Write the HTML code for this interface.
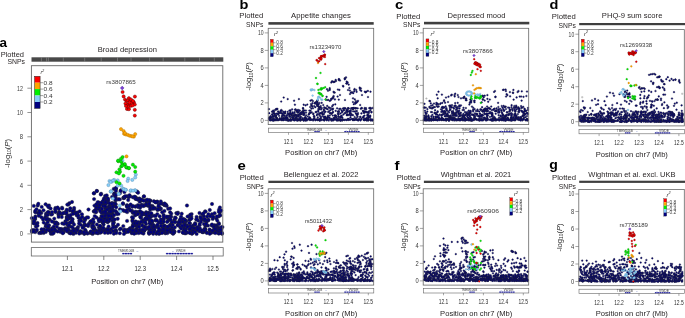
<!DOCTYPE html>
<html><head><meta charset="utf-8"><style>
html,body{margin:0;padding:0;background:#fff;}
svg{display:block;font-family:"Liberation Sans", sans-serif;will-change:transform;}

</style></head><body>
<svg width="685" height="318" viewBox="0 0 685 318" fill="#231f20">
<rect width="685" height="318" fill="#fff"/>
<text x="-0.5" y="46.6" font-size="13.5" font-weight="bold" fill="#000">a</text>
<text x="24" y="57.2" font-size="7.6" text-anchor="end" textLength="23.3" lengthAdjust="spacingAndGlyphs">Plotted</text>
<text x="25" y="64.4" font-size="7.6" text-anchor="end" textLength="17.5" lengthAdjust="spacingAndGlyphs">SNPs</text>
<text x="127.3" y="52" font-size="7.6" text-anchor="middle" textLength="59.3" lengthAdjust="spacingAndGlyphs">Broad depression</text>
<rect x="31.5" y="57.3" width="191.8" height="4.4" fill="#484848"/>
<line x1="41.4" y1="57.3" x2="41.4" y2="61.7" stroke="#9a9a9a" stroke-width="0.5"/>
<line x1="46.6" y1="57.3" x2="46.6" y2="61.7" stroke="#9a9a9a" stroke-width="0.5"/>
<line x1="48.4" y1="57.3" x2="48.4" y2="61.7" stroke="#9a9a9a" stroke-width="0.5"/>
<line x1="63.3" y1="57.3" x2="63.3" y2="61.7" stroke="#9a9a9a" stroke-width="0.5"/>
<line x1="84.7" y1="57.3" x2="84.7" y2="61.7" stroke="#9a9a9a" stroke-width="0.5"/>
<line x1="101.2" y1="57.3" x2="101.2" y2="61.7" stroke="#9a9a9a" stroke-width="0.5"/>
<line x1="117.5" y1="57.3" x2="117.5" y2="61.7" stroke="#9a9a9a" stroke-width="0.5"/>
<line x1="131" y1="57.3" x2="131" y2="61.7" stroke="#9a9a9a" stroke-width="0.5"/>
<line x1="149.6" y1="57.3" x2="149.6" y2="61.7" stroke="#9a9a9a" stroke-width="0.5"/>
<line x1="163.2" y1="57.3" x2="163.2" y2="61.7" stroke="#9a9a9a" stroke-width="0.5"/>
<line x1="184.8" y1="57.3" x2="184.8" y2="61.7" stroke="#9a9a9a" stroke-width="0.5"/>
<line x1="199.5" y1="57.3" x2="199.5" y2="61.7" stroke="#9a9a9a" stroke-width="0.5"/>
<line x1="214.3" y1="57.3" x2="214.3" y2="61.7" stroke="#9a9a9a" stroke-width="0.5"/>
<line x1="27.4" y1="233.9" x2="31.4" y2="233.9" stroke="#666" stroke-width="0.7"/>
<text x="23" y="236.4" font-size="7.0" text-anchor="end" textLength="3.3" lengthAdjust="spacingAndGlyphs" fill="#3a3a3a">0</text>
<line x1="27.4" y1="209.6" x2="31.4" y2="209.6" stroke="#666" stroke-width="0.7"/>
<text x="23" y="212.1" font-size="7.0" text-anchor="end" textLength="3.3" lengthAdjust="spacingAndGlyphs" fill="#3a3a3a">2</text>
<line x1="27.4" y1="185.3" x2="31.4" y2="185.3" stroke="#666" stroke-width="0.7"/>
<text x="23" y="187.8" font-size="7.0" text-anchor="end" textLength="3.3" lengthAdjust="spacingAndGlyphs" fill="#3a3a3a">4</text>
<line x1="27.4" y1="161.1" x2="31.4" y2="161.1" stroke="#666" stroke-width="0.7"/>
<text x="23" y="163.6" font-size="7.0" text-anchor="end" textLength="3.3" lengthAdjust="spacingAndGlyphs" fill="#3a3a3a">6</text>
<line x1="27.4" y1="136.8" x2="31.4" y2="136.8" stroke="#666" stroke-width="0.7"/>
<text x="23" y="139.3" font-size="7.0" text-anchor="end" textLength="3.3" lengthAdjust="spacingAndGlyphs" fill="#3a3a3a">8</text>
<line x1="27.4" y1="112.5" x2="31.4" y2="112.5" stroke="#666" stroke-width="0.7"/>
<text x="23" y="115" font-size="7.0" text-anchor="end" textLength="5.9" lengthAdjust="spacingAndGlyphs" fill="#3a3a3a">10</text>
<line x1="27.4" y1="88.2" x2="31.4" y2="88.2" stroke="#666" stroke-width="0.7"/>
<text x="23" y="90.7" font-size="7.0" text-anchor="end" textLength="5.9" lengthAdjust="spacingAndGlyphs" fill="#3a3a3a">12</text>
<text x="9.6" y="153.3" font-size="7.7" text-anchor="middle" textLength="29" lengthAdjust="spacingAndGlyphs" transform="rotate(-90 9.6 153.3)" fill="#2a2a2a">-log<tspan font-size="4.8" dy="1.6">10</tspan><tspan dy="-1.6">(</tspan><tspan font-style="italic">P</tspan>)</text>
<rect x="34.6" y="76.3" width="5.5" height="6.4" fill="#ff0000"/>
<rect x="34.6" y="82.7" width="5.5" height="6.4" fill="#ffa500"/>
<rect x="34.6" y="89.1" width="5.5" height="6.4" fill="#00ee00"/>
<rect x="34.6" y="95.6" width="5.5" height="6.4" fill="#87cefa"/>
<rect x="34.6" y="102" width="5.5" height="6.4" fill="#000080"/>
<rect x="34.6" y="76.3" width="5.5" height="32.1" fill="none" stroke="#222" stroke-width="0.5"/>
<line x1="40.1" y1="82.7" x2="43" y2="82.7" stroke="#444" stroke-width="0.5"/>
<text x="43.6" y="84.9" font-size="6.2" textLength="9" lengthAdjust="spacingAndGlyphs" fill="#333">0.8</text>
<line x1="40.1" y1="89.1" x2="43" y2="89.1" stroke="#444" stroke-width="0.5"/>
<text x="43.6" y="91.3" font-size="6.2" textLength="9" lengthAdjust="spacingAndGlyphs" fill="#333">0.6</text>
<line x1="40.1" y1="95.6" x2="43" y2="95.6" stroke="#444" stroke-width="0.5"/>
<text x="43.6" y="97.8" font-size="6.2" textLength="9" lengthAdjust="spacingAndGlyphs" fill="#333">0.4</text>
<line x1="40.1" y1="102" x2="43" y2="102" stroke="#444" stroke-width="0.5"/>
<text x="43.6" y="104.2" font-size="6.2" textLength="9" lengthAdjust="spacingAndGlyphs" fill="#333">0.2</text>
<text x="40.5" y="74.3" font-size="5.5" font-style="italic" fill="#333">r<tspan font-size="3.5" dy="-2.5">2</tspan></text>
<g fill="#000080" stroke="#26262e" stroke-width="0.45"><circle cx="118" cy="224.8" r="1.7"/><circle cx="208" cy="225.6" r="1.7"/><circle cx="128.6" cy="229.6" r="1.7"/><circle cx="67" cy="224.2" r="1.7"/><circle cx="151.9" cy="230.1" r="1.7"/><circle cx="49.7" cy="219.6" r="1.7"/><circle cx="49.1" cy="230" r="1.7"/><circle cx="164" cy="218.5" r="1.7"/><circle cx="219" cy="233.3" r="1.7"/><circle cx="156.4" cy="227.1" r="1.7"/><circle cx="61.8" cy="214.3" r="1.7"/><circle cx="132.5" cy="219.9" r="1.7"/><circle cx="68.1" cy="218.8" r="1.7"/><circle cx="37.5" cy="223" r="1.7"/><circle cx="115.8" cy="230.5" r="1.7"/><circle cx="130.7" cy="229.8" r="1.7"/><circle cx="127.1" cy="230.2" r="1.7"/><circle cx="222" cy="233.8" r="1.7"/><circle cx="191.9" cy="229.8" r="1.7"/><circle cx="91.9" cy="225.8" r="1.7"/><circle cx="177.9" cy="225.1" r="1.7"/><circle cx="193.2" cy="225.4" r="1.7"/><circle cx="214.4" cy="231.3" r="1.7"/><circle cx="31.9" cy="218.1" r="1.7"/><circle cx="205.3" cy="226" r="1.7"/><circle cx="218.7" cy="223.1" r="1.7"/><circle cx="45.7" cy="226.2" r="1.7"/><circle cx="180.2" cy="223.4" r="1.7"/><circle cx="48.4" cy="220.1" r="1.7"/><circle cx="215.6" cy="229.8" r="1.7"/><circle cx="54.3" cy="218.6" r="1.7"/><circle cx="51.1" cy="214.6" r="1.7"/><circle cx="183.7" cy="222.4" r="1.7"/><circle cx="138.4" cy="222.9" r="1.7"/><circle cx="68.1" cy="228.6" r="1.7"/><circle cx="56.8" cy="226.7" r="1.7"/><circle cx="54" cy="222.1" r="1.7"/><circle cx="72.4" cy="219.4" r="1.7"/><circle cx="216.9" cy="230.5" r="1.7"/><circle cx="89.8" cy="232.9" r="1.7"/><circle cx="72" cy="221.8" r="1.7"/><circle cx="194.6" cy="228.9" r="1.7"/><circle cx="50.9" cy="233.7" r="1.7"/><circle cx="72.4" cy="219.1" r="1.7"/><circle cx="179.1" cy="224.2" r="1.7"/><circle cx="49" cy="225.3" r="1.7"/><circle cx="78.1" cy="227" r="1.7"/><circle cx="102.6" cy="222.2" r="1.7"/><circle cx="214.6" cy="225.2" r="1.7"/><circle cx="141.3" cy="231.2" r="1.7"/><circle cx="66.6" cy="217.1" r="1.7"/><circle cx="204.9" cy="231.2" r="1.7"/><circle cx="79.4" cy="220.8" r="1.7"/><circle cx="172.7" cy="233" r="1.7"/><circle cx="69.3" cy="232.9" r="1.7"/><circle cx="199.9" cy="228.4" r="1.7"/><circle cx="112.1" cy="213.2" r="1.7"/><circle cx="39.2" cy="233.1" r="1.7"/><circle cx="77.2" cy="228.6" r="1.7"/><circle cx="80.8" cy="231.3" r="1.7"/><circle cx="145.5" cy="219.9" r="1.7"/><circle cx="65.2" cy="228.3" r="1.7"/><circle cx="44.9" cy="217.8" r="1.7"/><circle cx="138.4" cy="231" r="1.7"/><circle cx="148.9" cy="220.1" r="1.7"/><circle cx="206.6" cy="221.8" r="1.7"/><circle cx="35" cy="219.2" r="1.7"/><circle cx="116.8" cy="214" r="1.7"/><circle cx="65.4" cy="221.3" r="1.7"/><circle cx="140.9" cy="216.6" r="1.7"/><circle cx="100.8" cy="231.6" r="1.7"/><circle cx="218.7" cy="227.7" r="1.7"/><circle cx="163.5" cy="227.2" r="1.7"/><circle cx="58.6" cy="214.6" r="1.7"/><circle cx="35.2" cy="232.1" r="1.7"/><circle cx="165.4" cy="233.3" r="1.7"/><circle cx="35.9" cy="226.5" r="1.7"/><circle cx="123.7" cy="230.1" r="1.7"/><circle cx="92.6" cy="233.9" r="1.7"/><circle cx="46.1" cy="224.4" r="1.7"/><circle cx="172.3" cy="232.4" r="1.7"/><circle cx="172.3" cy="229.4" r="1.7"/><circle cx="183" cy="232.7" r="1.7"/><circle cx="98.9" cy="227.5" r="1.7"/><circle cx="203.5" cy="232" r="1.7"/><circle cx="111.3" cy="229" r="1.7"/><circle cx="196.4" cy="228" r="1.7"/><circle cx="150.9" cy="222.3" r="1.7"/><circle cx="142.9" cy="226.1" r="1.7"/><circle cx="47.1" cy="226.4" r="1.7"/><circle cx="221.1" cy="231.7" r="1.7"/><circle cx="170.6" cy="224.5" r="1.7"/><circle cx="171.9" cy="227.5" r="1.7"/><circle cx="115.8" cy="230.4" r="1.7"/><circle cx="47.8" cy="228.7" r="1.7"/><circle cx="37.5" cy="225.8" r="1.7"/><circle cx="164.9" cy="225.9" r="1.7"/><circle cx="148.9" cy="232.4" r="1.7"/><circle cx="80.6" cy="218.9" r="1.7"/><circle cx="70.4" cy="217.4" r="1.7"/><circle cx="204.4" cy="228.9" r="1.7"/><circle cx="116" cy="231.6" r="1.7"/><circle cx="94.1" cy="229.8" r="1.7"/><circle cx="69.6" cy="222.6" r="1.7"/><circle cx="185.4" cy="232.7" r="1.7"/><circle cx="199.6" cy="225.3" r="1.7"/><circle cx="142.9" cy="220.3" r="1.7"/><circle cx="57.8" cy="223.8" r="1.7"/><circle cx="191.4" cy="231.8" r="1.7"/><circle cx="167.4" cy="233.1" r="1.7"/><circle cx="84.6" cy="224.5" r="1.7"/><circle cx="117.7" cy="218.8" r="1.7"/><circle cx="72.6" cy="222.2" r="1.7"/><circle cx="151.1" cy="224.4" r="1.7"/><circle cx="91.9" cy="232.2" r="1.7"/><circle cx="219" cy="224" r="1.7"/><circle cx="46" cy="213.7" r="1.7"/><circle cx="198.2" cy="220.6" r="1.7"/><circle cx="166.9" cy="227.2" r="1.7"/><circle cx="90.7" cy="231.9" r="1.7"/><circle cx="35.4" cy="216.4" r="1.7"/><circle cx="118.5" cy="213.9" r="1.7"/><circle cx="189.9" cy="223.3" r="1.7"/><circle cx="58.7" cy="214.8" r="1.7"/><circle cx="151.7" cy="223.6" r="1.7"/><circle cx="151.9" cy="227.5" r="1.7"/><circle cx="185.7" cy="233.3" r="1.7"/><circle cx="162.3" cy="220.7" r="1.7"/><circle cx="33.9" cy="223.3" r="1.7"/><circle cx="167.9" cy="221.1" r="1.7"/><circle cx="83.7" cy="225.9" r="1.7"/><circle cx="164.7" cy="226.2" r="1.7"/><circle cx="148.9" cy="229.2" r="1.7"/><circle cx="106.8" cy="229.1" r="1.7"/><circle cx="204.5" cy="220.4" r="1.7"/><circle cx="209.6" cy="229.5" r="1.7"/><circle cx="56.6" cy="222.9" r="1.7"/><circle cx="151" cy="232.2" r="1.7"/><circle cx="103.6" cy="224.5" r="1.7"/><circle cx="199.4" cy="231.1" r="1.7"/><circle cx="211.8" cy="225.2" r="1.7"/><circle cx="155.9" cy="219.8" r="1.7"/><circle cx="169.4" cy="231.1" r="1.7"/><circle cx="154.1" cy="228.8" r="1.7"/><circle cx="72.5" cy="231.9" r="1.7"/><circle cx="218.7" cy="233.5" r="1.7"/><circle cx="134.1" cy="230.1" r="1.7"/><circle cx="92.9" cy="232.9" r="1.7"/><circle cx="194.9" cy="224.8" r="1.7"/><circle cx="47.6" cy="222.3" r="1.7"/><circle cx="136.7" cy="229.3" r="1.7"/><circle cx="186" cy="220.9" r="1.7"/><circle cx="184.3" cy="222.3" r="1.7"/><circle cx="95.7" cy="230.7" r="1.7"/><circle cx="58.6" cy="216.9" r="1.7"/><circle cx="130.2" cy="231" r="1.7"/><circle cx="191.9" cy="229.6" r="1.7"/><circle cx="212.1" cy="225.6" r="1.7"/><circle cx="212.7" cy="218.9" r="1.7"/><circle cx="74" cy="224.5" r="1.7"/><circle cx="153.6" cy="225.2" r="1.7"/><circle cx="192.6" cy="227.8" r="1.7"/><circle cx="192.9" cy="232.5" r="1.7"/><circle cx="71.5" cy="230.9" r="1.7"/><circle cx="216.4" cy="225.7" r="1.7"/><circle cx="141" cy="218" r="1.7"/><circle cx="133.9" cy="225.1" r="1.7"/><circle cx="147.2" cy="215" r="1.7"/><circle cx="216.6" cy="225.5" r="1.7"/><circle cx="108.2" cy="229.3" r="1.7"/><circle cx="139.1" cy="223.8" r="1.7"/><circle cx="163.5" cy="218.8" r="1.7"/><circle cx="134.5" cy="222.8" r="1.7"/><circle cx="214.2" cy="232.6" r="1.7"/><circle cx="83.1" cy="227.2" r="1.7"/><circle cx="56" cy="222.5" r="1.7"/><circle cx="187.3" cy="232.5" r="1.7"/><circle cx="68.3" cy="226.3" r="1.7"/><circle cx="208.2" cy="220.4" r="1.7"/><circle cx="180.3" cy="219.9" r="1.7"/><circle cx="68.8" cy="218.5" r="1.7"/><circle cx="162.7" cy="222.8" r="1.7"/><circle cx="99.5" cy="226.1" r="1.7"/><circle cx="51.8" cy="228.4" r="1.7"/><circle cx="55.2" cy="224" r="1.7"/><circle cx="79.6" cy="221.1" r="1.7"/><circle cx="132.9" cy="225.1" r="1.7"/><circle cx="103.4" cy="221.2" r="1.7"/><circle cx="132.7" cy="221.1" r="1.7"/><circle cx="70.7" cy="226.6" r="1.7"/><circle cx="153.5" cy="225.3" r="1.7"/><circle cx="194" cy="228.5" r="1.7"/><circle cx="195.1" cy="223.2" r="1.7"/><circle cx="173" cy="231" r="1.7"/><circle cx="203.9" cy="223.9" r="1.7"/><circle cx="91.8" cy="233.1" r="1.7"/><circle cx="73.4" cy="233.9" r="1.7"/><circle cx="201" cy="221.7" r="1.7"/><circle cx="77.4" cy="229" r="1.7"/><circle cx="81.3" cy="220.8" r="1.7"/><circle cx="190.4" cy="225.9" r="1.7"/><circle cx="182.4" cy="221.5" r="1.7"/><circle cx="108.6" cy="226.5" r="1.7"/><circle cx="35.2" cy="217.8" r="1.7"/><circle cx="161.9" cy="232.4" r="1.7"/><circle cx="216.4" cy="218.6" r="1.7"/><circle cx="128.2" cy="231.3" r="1.7"/><circle cx="127.6" cy="230.5" r="1.7"/><circle cx="67.8" cy="215.4" r="1.7"/><circle cx="52" cy="214.2" r="1.7"/><circle cx="136.9" cy="224.2" r="1.7"/><circle cx="140.2" cy="216.9" r="1.7"/><circle cx="67" cy="218.1" r="1.7"/><circle cx="191.9" cy="233.8" r="1.7"/><circle cx="208.5" cy="219.8" r="1.7"/><circle cx="43.6" cy="232.9" r="1.7"/><circle cx="119.9" cy="229.2" r="1.7"/><circle cx="94.1" cy="227.5" r="1.7"/><circle cx="130" cy="228.2" r="1.7"/><circle cx="146.3" cy="214.5" r="1.7"/><circle cx="165.4" cy="231.4" r="1.7"/><circle cx="66.3" cy="223" r="1.7"/><circle cx="172.7" cy="224.9" r="1.7"/><circle cx="69" cy="217.3" r="1.7"/><circle cx="202" cy="231.1" r="1.7"/><circle cx="166.1" cy="231.7" r="1.7"/><circle cx="151.8" cy="222.9" r="1.7"/><circle cx="146.1" cy="224.1" r="1.7"/><circle cx="219.1" cy="230.4" r="1.7"/><circle cx="81" cy="232.6" r="1.7"/><circle cx="173.7" cy="230.6" r="1.7"/><circle cx="187.1" cy="225.6" r="1.7"/><circle cx="202.7" cy="232.2" r="1.7"/><circle cx="164.2" cy="230.2" r="1.7"/><circle cx="177.7" cy="225.2" r="1.7"/><circle cx="169.5" cy="219.5" r="1.7"/><circle cx="96.9" cy="224.5" r="1.7"/><circle cx="33.8" cy="220.9" r="1.7"/><circle cx="153.5" cy="227.1" r="1.7"/><circle cx="76" cy="232.8" r="1.7"/><circle cx="158.8" cy="222.5" r="1.7"/><circle cx="157.6" cy="226.4" r="1.7"/><circle cx="133.4" cy="223.7" r="1.7"/><circle cx="222.4" cy="227.1" r="1.7"/><circle cx="165.5" cy="230.1" r="1.7"/><circle cx="218.6" cy="216.4" r="1.7"/><circle cx="149.1" cy="228.9" r="1.7"/><circle cx="80.7" cy="224.9" r="1.7"/><circle cx="41.4" cy="217.3" r="1.7"/><circle cx="79.6" cy="232.4" r="1.7"/><circle cx="136.6" cy="224.1" r="1.7"/><circle cx="216.1" cy="226.5" r="1.7"/><circle cx="221.5" cy="227.1" r="1.7"/><circle cx="186.1" cy="221.1" r="1.7"/><circle cx="145.7" cy="229.1" r="1.7"/><circle cx="40.4" cy="232.5" r="1.7"/><circle cx="62.3" cy="223.4" r="1.7"/><circle cx="64" cy="223.9" r="1.7"/><circle cx="148.3" cy="215.8" r="1.7"/><circle cx="212" cy="224.5" r="1.7"/><circle cx="132.2" cy="228.1" r="1.7"/><circle cx="101.5" cy="218.9" r="1.7"/><circle cx="156.7" cy="226.2" r="1.7"/><circle cx="85.8" cy="231" r="1.7"/><circle cx="88.2" cy="226" r="1.7"/><circle cx="78.5" cy="217.7" r="1.7"/><circle cx="61.6" cy="229" r="1.7"/><circle cx="106.1" cy="231.6" r="1.7"/><circle cx="174.4" cy="219.7" r="1.7"/><circle cx="220.3" cy="232.9" r="1.7"/><circle cx="45.8" cy="231.9" r="1.7"/><circle cx="113.7" cy="222.2" r="1.7"/><circle cx="217.3" cy="220.6" r="1.7"/><circle cx="131.6" cy="233.1" r="1.7"/><circle cx="169.6" cy="225.7" r="1.7"/><circle cx="218.4" cy="230.6" r="1.7"/><circle cx="146.9" cy="216.6" r="1.7"/><circle cx="150.8" cy="223.7" r="1.7"/><circle cx="70.6" cy="215" r="1.7"/><circle cx="132.5" cy="220.9" r="1.7"/><circle cx="116.2" cy="226.8" r="1.7"/><circle cx="142.8" cy="222.3" r="1.7"/><circle cx="180.1" cy="227.1" r="1.7"/><circle cx="221.9" cy="233" r="1.7"/><circle cx="171.8" cy="222.3" r="1.7"/><circle cx="53.5" cy="231.7" r="1.7"/><circle cx="181.3" cy="228.5" r="1.7"/><circle cx="100.3" cy="218.9" r="1.7"/><circle cx="162.4" cy="226.8" r="1.7"/><circle cx="144.6" cy="226.6" r="1.7"/><circle cx="175.4" cy="221.9" r="1.7"/><circle cx="79.3" cy="233.6" r="1.7"/><circle cx="206.3" cy="232.1" r="1.7"/><circle cx="39.3" cy="214.7" r="1.7"/><circle cx="83.4" cy="226.7" r="1.7"/><circle cx="150.6" cy="217" r="1.7"/><circle cx="135" cy="215.4" r="1.7"/><circle cx="48.3" cy="227.2" r="1.7"/><circle cx="136.7" cy="226.6" r="1.7"/><circle cx="102.9" cy="222.7" r="1.7"/><circle cx="71.9" cy="220.8" r="1.7"/><circle cx="173.8" cy="231.5" r="1.7"/><circle cx="46" cy="215.6" r="1.7"/><circle cx="186" cy="228.7" r="1.7"/><circle cx="178.3" cy="222.4" r="1.7"/><circle cx="112.7" cy="217" r="1.7"/><circle cx="186.2" cy="225.1" r="1.7"/><circle cx="156.4" cy="233.7" r="1.7"/><circle cx="93.8" cy="228.6" r="1.7"/><circle cx="174" cy="232.7" r="1.7"/><circle cx="113.3" cy="219.7" r="1.7"/><circle cx="50.3" cy="231.3" r="1.7"/><circle cx="46.8" cy="214.8" r="1.7"/><circle cx="139.3" cy="223.6" r="1.7"/><circle cx="162.4" cy="222.4" r="1.7"/><circle cx="179.6" cy="220.6" r="1.7"/><circle cx="72.4" cy="227.2" r="1.7"/><circle cx="47.4" cy="219.5" r="1.7"/><circle cx="170" cy="229.2" r="1.7"/><circle cx="85.7" cy="225.2" r="1.7"/><circle cx="100" cy="228.3" r="1.7"/><circle cx="167" cy="227.1" r="1.7"/><circle cx="206.9" cy="233" r="1.7"/><circle cx="205.9" cy="225.4" r="1.7"/><circle cx="184.9" cy="224.2" r="1.7"/><circle cx="92.3" cy="227.4" r="1.7"/><circle cx="209.9" cy="232.2" r="1.7"/><circle cx="79.1" cy="223.5" r="1.7"/><circle cx="101.5" cy="220.5" r="1.7"/><circle cx="107.2" cy="219.8" r="1.7"/><circle cx="69" cy="225.2" r="1.7"/><circle cx="183.7" cy="227.5" r="1.7"/><circle cx="191.2" cy="227.8" r="1.7"/><circle cx="65.5" cy="229.1" r="1.7"/><circle cx="199.7" cy="223.9" r="1.7"/><circle cx="36" cy="224.1" r="1.7"/><circle cx="135.5" cy="225.3" r="1.7"/><circle cx="216" cy="227.9" r="1.7"/><circle cx="185.1" cy="220.9" r="1.7"/><circle cx="136" cy="229.7" r="1.7"/><circle cx="47.8" cy="214.9" r="1.7"/><circle cx="172.3" cy="232.4" r="1.7"/><circle cx="47.9" cy="226.3" r="1.7"/><circle cx="59.2" cy="228.8" r="1.7"/><circle cx="155.5" cy="220.5" r="1.7"/><circle cx="73.8" cy="229.2" r="1.7"/><circle cx="131.2" cy="231" r="1.7"/><circle cx="107" cy="218.7" r="1.7"/><circle cx="216.4" cy="228.2" r="1.7"/><circle cx="169.2" cy="229.4" r="1.7"/><circle cx="206.2" cy="225" r="1.7"/><circle cx="189.3" cy="229.3" r="1.7"/><circle cx="194.5" cy="231.2" r="1.7"/><circle cx="190.7" cy="232.4" r="1.7"/><circle cx="214.4" cy="227.9" r="1.7"/><circle cx="131.6" cy="230.1" r="1.7"/><circle cx="184.7" cy="225.8" r="1.7"/><circle cx="111.9" cy="214.2" r="1.7"/><circle cx="173.1" cy="233.8" r="1.7"/><circle cx="103.4" cy="215.8" r="1.7"/><circle cx="70.8" cy="222.5" r="1.7"/><circle cx="87.5" cy="233.6" r="1.7"/><circle cx="43.1" cy="219.5" r="1.7"/><circle cx="53.7" cy="226.7" r="1.7"/><circle cx="179.7" cy="222.1" r="1.7"/><circle cx="43.7" cy="222.6" r="1.7"/><circle cx="143.1" cy="232.1" r="1.7"/><circle cx="38.7" cy="215.7" r="1.7"/><circle cx="67" cy="218.3" r="1.7"/><circle cx="76.7" cy="228.7" r="1.7"/><circle cx="145.2" cy="218.5" r="1.7"/><circle cx="67.1" cy="219.6" r="1.7"/><circle cx="64.7" cy="229.1" r="1.7"/><circle cx="187.5" cy="226.7" r="1.7"/><circle cx="81.4" cy="232.3" r="1.7"/><circle cx="206.1" cy="224" r="1.7"/><circle cx="136.1" cy="233" r="1.7"/><circle cx="41.3" cy="232.8" r="1.7"/><circle cx="184.6" cy="225.3" r="1.7"/><circle cx="132.4" cy="226.8" r="1.7"/><circle cx="84.1" cy="233.8" r="1.7"/><circle cx="157.1" cy="220.6" r="1.7"/><circle cx="33.9" cy="223.3" r="1.7"/><circle cx="102.6" cy="229.5" r="1.7"/><circle cx="167.8" cy="227.7" r="1.7"/><circle cx="61.8" cy="217.1" r="1.7"/><circle cx="93.1" cy="225.5" r="1.7"/><circle cx="197.5" cy="227.2" r="1.7"/><circle cx="153.2" cy="233.8" r="1.7"/><circle cx="82.6" cy="227.7" r="1.7"/><circle cx="60.5" cy="229.3" r="1.7"/><circle cx="32.1" cy="230.3" r="1.7"/><circle cx="193.1" cy="231.4" r="1.7"/><circle cx="47.5" cy="218.8" r="1.7"/><circle cx="168.4" cy="219.8" r="1.7"/><circle cx="123.3" cy="226.1" r="1.7"/><circle cx="213.9" cy="227" r="1.7"/><circle cx="195.2" cy="224.2" r="1.7"/><circle cx="182.2" cy="225.6" r="1.7"/><circle cx="206.5" cy="220.1" r="1.7"/><circle cx="189.3" cy="222.9" r="1.7"/><circle cx="135.4" cy="224.5" r="1.7"/><circle cx="61.8" cy="230.6" r="1.7"/><circle cx="46.3" cy="219.4" r="1.7"/><circle cx="120.9" cy="228.6" r="1.7"/><circle cx="100.4" cy="227.4" r="1.7"/><circle cx="52" cy="221.5" r="1.7"/><circle cx="119.8" cy="233.2" r="1.7"/><circle cx="189.9" cy="229.1" r="1.7"/><circle cx="34.2" cy="221.4" r="1.7"/><circle cx="167.1" cy="221.9" r="1.7"/><circle cx="139.3" cy="223.1" r="1.7"/><circle cx="33.8" cy="205.9" r="1.7"/><circle cx="184.2" cy="219.2" r="1.7"/><circle cx="149.2" cy="212.7" r="1.7"/><circle cx="103.5" cy="205.7" r="1.7"/><circle cx="88.6" cy="224" r="1.7"/><circle cx="106.6" cy="201.9" r="1.7"/><circle cx="80.7" cy="218.2" r="1.7"/><circle cx="171.2" cy="216.7" r="1.7"/><circle cx="211.9" cy="214.2" r="1.7"/><circle cx="169.8" cy="216.4" r="1.7"/><circle cx="189.4" cy="219.8" r="1.7"/><circle cx="58.6" cy="213.7" r="1.7"/><circle cx="161" cy="208.7" r="1.7"/><circle cx="66.1" cy="211.5" r="1.7"/><circle cx="191.3" cy="216.7" r="1.7"/><circle cx="49" cy="212.5" r="1.7"/><circle cx="61.7" cy="213.7" r="1.7"/><circle cx="109.3" cy="209.9" r="1.7"/><circle cx="207.3" cy="216.5" r="1.7"/><circle cx="129.3" cy="208.6" r="1.7"/><circle cx="178" cy="212.7" r="1.7"/><circle cx="105.4" cy="208.5" r="1.7"/><circle cx="110.4" cy="210.1" r="1.7"/><circle cx="108.2" cy="200.5" r="1.7"/><circle cx="219" cy="209.7" r="1.7"/><circle cx="157.6" cy="209.5" r="1.7"/><circle cx="35.3" cy="212.2" r="1.7"/><circle cx="97" cy="206.9" r="1.7"/><circle cx="52.1" cy="212.1" r="1.7"/><circle cx="189.1" cy="216.5" r="1.7"/><circle cx="62" cy="207.7" r="1.7"/><circle cx="203.9" cy="216.3" r="1.7"/><circle cx="99" cy="208.2" r="1.7"/><circle cx="58.8" cy="209.1" r="1.7"/><circle cx="219.9" cy="212.5" r="1.7"/><circle cx="168.2" cy="208.8" r="1.7"/><circle cx="69.4" cy="203.2" r="1.7"/><circle cx="151.3" cy="214.1" r="1.7"/><circle cx="47.7" cy="212.2" r="1.7"/><circle cx="141.7" cy="204.8" r="1.7"/><circle cx="94.5" cy="205.6" r="1.7"/><circle cx="100.6" cy="208.2" r="1.7"/><circle cx="55.4" cy="208" r="1.7"/><circle cx="57.6" cy="207.5" r="1.7"/><circle cx="135.4" cy="206.5" r="1.7"/><circle cx="138.6" cy="211.9" r="1.7"/><circle cx="205.1" cy="211.4" r="1.7"/><circle cx="187.6" cy="216.5" r="1.7"/><circle cx="55.2" cy="209.4" r="1.7"/><circle cx="86.8" cy="217.4" r="1.7"/><circle cx="77.7" cy="212.6" r="1.7"/><circle cx="190.1" cy="219.5" r="1.7"/><circle cx="136.2" cy="213.7" r="1.7"/><circle cx="37.9" cy="212.9" r="1.7"/><circle cx="219.9" cy="207.5" r="1.7"/><circle cx="157.3" cy="214.1" r="1.7"/><circle cx="159.7" cy="207.7" r="1.7"/><circle cx="104.5" cy="204.2" r="1.7"/><circle cx="185" cy="220" r="1.7"/><circle cx="69.8" cy="210.5" r="1.7"/><circle cx="59.1" cy="212.1" r="1.7"/><circle cx="140.4" cy="213" r="1.7"/><circle cx="140.1" cy="211.1" r="1.7"/><circle cx="154.1" cy="215.7" r="1.7"/><circle cx="159.7" cy="216.3" r="1.7"/><circle cx="214.6" cy="213.2" r="1.7"/><circle cx="121.4" cy="210.2" r="1.7"/><circle cx="150.7" cy="206.6" r="1.7"/><circle cx="176.3" cy="213.1" r="1.7"/><circle cx="124.4" cy="192.1" r="1.7"/><circle cx="191.6" cy="214.1" r="1.7"/><circle cx="109.8" cy="205.4" r="1.7"/><circle cx="139.7" cy="199.4" r="1.7"/><circle cx="132" cy="210.7" r="1.7"/><circle cx="114.2" cy="193.5" r="1.7"/><circle cx="92.9" cy="222.6" r="1.7"/><circle cx="170.1" cy="208.4" r="1.7"/><circle cx="171.3" cy="213.6" r="1.7"/><circle cx="175.1" cy="217.5" r="1.7"/><circle cx="144.9" cy="213.8" r="1.7"/><circle cx="55.5" cy="212" r="1.7"/><circle cx="41.7" cy="206.9" r="1.7"/><circle cx="132.1" cy="217.2" r="1.7"/><circle cx="90.2" cy="222.7" r="1.7"/><circle cx="76.8" cy="215.4" r="1.7"/><circle cx="205.5" cy="211.6" r="1.7"/><circle cx="158.7" cy="204.6" r="1.7"/><circle cx="112.1" cy="196.9" r="1.7"/><circle cx="74.1" cy="208" r="1.7"/><circle cx="139.8" cy="199.5" r="1.7"/><circle cx="50.6" cy="208.5" r="1.7"/><circle cx="55.4" cy="211.5" r="1.7"/><circle cx="213.1" cy="217.4" r="1.7"/><circle cx="78.3" cy="215.5" r="1.7"/><circle cx="93.7" cy="222" r="1.7"/><circle cx="202.4" cy="214.2" r="1.7"/><circle cx="107.5" cy="207.4" r="1.7"/><circle cx="143.4" cy="213.9" r="1.7"/><circle cx="37.7" cy="205.5" r="1.7"/><circle cx="90.5" cy="221.5" r="1.7"/><circle cx="209.8" cy="210" r="1.7"/><circle cx="88.1" cy="217.5" r="1.7"/><circle cx="202.7" cy="218.9" r="1.7"/><circle cx="191.5" cy="218.6" r="1.7"/><circle cx="199.5" cy="213" r="1.7"/><circle cx="70.3" cy="208.3" r="1.7"/><circle cx="68.3" cy="204.6" r="1.7"/><circle cx="41.3" cy="213" r="1.7"/><circle cx="170.1" cy="216.7" r="1.7"/><circle cx="203.4" cy="213.4" r="1.7"/><circle cx="167.7" cy="217.7" r="1.7"/><circle cx="164.4" cy="205.2" r="1.7"/><circle cx="116.6" cy="212.3" r="1.7"/><circle cx="74.3" cy="212.6" r="1.7"/><circle cx="167.2" cy="217.3" r="1.7"/><circle cx="66.3" cy="212.9" r="1.7"/><circle cx="158.5" cy="206.2" r="1.7"/><circle cx="102.8" cy="203.5" r="1.7"/><circle cx="200.4" cy="216.9" r="1.7"/><circle cx="75.4" cy="213.1" r="1.7"/><circle cx="208.4" cy="214.1" r="1.7"/><circle cx="84.6" cy="219" r="1.7"/><circle cx="49" cy="205.5" r="1.7"/><circle cx="115.7" cy="204.3" r="1.7"/><circle cx="133" cy="217.9" r="1.7"/><circle cx="146.1" cy="212.2" r="1.7"/><circle cx="79.6" cy="211.4" r="1.7"/><circle cx="48.4" cy="212.1" r="1.7"/><circle cx="175.8" cy="218.1" r="1.7"/><circle cx="85" cy="220.1" r="1.7"/><circle cx="67.3" cy="204.6" r="1.7"/><circle cx="220.1" cy="215.5" r="1.7"/><circle cx="119.8" cy="199.4" r="1.7"/><circle cx="105.1" cy="195.9" r="1.7"/><circle cx="127.1" cy="220.9" r="1.7"/><circle cx="137.8" cy="205.1" r="1.7"/><circle cx="100.3" cy="204.6" r="1.7"/><circle cx="181" cy="216.6" r="1.7"/><circle cx="128.2" cy="200.1" r="1.7"/><circle cx="162.2" cy="212.3" r="1.7"/><circle cx="213.2" cy="216.8" r="1.7"/><circle cx="180.4" cy="219" r="1.7"/><circle cx="147.7" cy="213" r="1.7"/><circle cx="115.7" cy="197.6" r="1.7"/><circle cx="181.7" cy="213.7" r="1.7"/><circle cx="76.8" cy="212.6" r="1.7"/><circle cx="74" cy="210" r="1.7"/><circle cx="145.6" cy="205.3" r="1.7"/><circle cx="140.9" cy="200.6" r="1.7"/><circle cx="66.1" cy="213.5" r="1.7"/><circle cx="35.2" cy="210.9" r="1.7"/><circle cx="114.6" cy="206" r="1.7"/><circle cx="81.9" cy="214.3" r="1.7"/><circle cx="45.6" cy="204.3" r="1.7"/><circle cx="140.2" cy="207.6" r="1.7"/><circle cx="182.7" cy="218.9" r="1.7"/><circle cx="59.7" cy="212.6" r="1.7"/><circle cx="39.9" cy="211.7" r="1.7"/><circle cx="150.2" cy="209.5" r="1.7"/><circle cx="82.3" cy="216.9" r="1.7"/><circle cx="48.7" cy="207.3" r="1.7"/><circle cx="64.5" cy="212.8" r="1.7"/><circle cx="62.3" cy="208.6" r="1.7"/><circle cx="190.2" cy="214.8" r="1.7"/><circle cx="43.5" cy="210.3" r="1.7"/><circle cx="101.3" cy="211.4" r="1.7"/><circle cx="216.8" cy="216.4" r="1.7"/><circle cx="219.8" cy="215.2" r="1.7"/><circle cx="118.6" cy="199.3" r="1.7"/><circle cx="39.3" cy="212.4" r="1.7"/><circle cx="201.5" cy="219.4" r="1.7"/><circle cx="106.7" cy="208.5" r="1.7"/><circle cx="112.7" cy="210.7" r="1.7"/><circle cx="38.3" cy="203.8" r="1.7"/><circle cx="177.3" cy="213.6" r="1.7"/><circle cx="75.6" cy="213.5" r="1.7"/><circle cx="137" cy="212.1" r="1.7"/><circle cx="119.8" cy="193.4" r="1.7"/><circle cx="101.2" cy="210" r="1.7"/><circle cx="218.8" cy="211.8" r="1.7"/><circle cx="39.4" cy="211" r="1.7"/><circle cx="155.7" cy="216" r="1.7"/><circle cx="97.2" cy="205.7" r="1.7"/><circle cx="196.6" cy="216.9" r="1.7"/><circle cx="200.7" cy="217.8" r="1.7"/><circle cx="106.7" cy="197.6" r="1.7"/><circle cx="104.4" cy="200" r="1.7"/><circle cx="72.9" cy="212.1" r="1.7"/><circle cx="66.8" cy="209.8" r="1.7"/><circle cx="63" cy="213.2" r="1.7"/><circle cx="72.7" cy="210.9" r="1.7"/><circle cx="90.6" cy="221.8" r="1.7"/><circle cx="221.1" cy="210.4" r="1.7"/><circle cx="196.2" cy="219.4" r="1.7"/><circle cx="104.8" cy="211.5" r="1.7"/><circle cx="163.6" cy="214.9" r="1.7"/><circle cx="84.1" cy="222.1" r="1.7"/><circle cx="66.5" cy="212.7" r="1.7"/><circle cx="106.7" cy="195.4" r="1.7"/><circle cx="168.1" cy="216.8" r="1.7"/><circle cx="210.3" cy="216.3" r="1.7"/><circle cx="177.7" cy="213.8" r="1.7"/><circle cx="204.7" cy="219" r="1.7"/><circle cx="93.2" cy="219.3" r="1.7"/><circle cx="47.7" cy="205.9" r="1.7"/><circle cx="93.8" cy="211.3" r="1.7"/><circle cx="106.9" cy="209.2" r="1.7"/><circle cx="39.6" cy="212.9" r="1.7"/><circle cx="145.3" cy="214" r="1.7"/><circle cx="91.3" cy="221.1" r="1.7"/><circle cx="135.5" cy="213.2" r="1.7"/><circle cx="166.5" cy="216.6" r="1.7"/><circle cx="170.1" cy="212.3" r="1.7"/><circle cx="59.9" cy="213.3" r="1.7"/><circle cx="85.2" cy="218.7" r="1.7"/><circle cx="109.1" cy="206.4" r="1.7"/><circle cx="196.9" cy="219.3" r="1.7"/><circle cx="72.9" cy="213.9" r="1.7"/><circle cx="36.5" cy="209.3" r="1.7"/><circle cx="139.7" cy="201.8" r="1.7"/><circle cx="217.7" cy="230.5" r="1.7"/><circle cx="159.6" cy="233.5" r="1.7"/><circle cx="73" cy="232.4" r="1.7"/><circle cx="158.9" cy="233.7" r="1.7"/><circle cx="197.3" cy="230.1" r="1.7"/><circle cx="152.4" cy="229.4" r="1.7"/><circle cx="113.3" cy="230.9" r="1.7"/><circle cx="43.3" cy="230.9" r="1.7"/><circle cx="94.4" cy="231.4" r="1.7"/><circle cx="85.1" cy="229.8" r="1.7"/><circle cx="108.5" cy="231.3" r="1.7"/><circle cx="63.6" cy="232.3" r="1.7"/><circle cx="77.5" cy="229.5" r="1.7"/><circle cx="97" cy="231.1" r="1.7"/><circle cx="60.5" cy="231.9" r="1.7"/><circle cx="165.5" cy="231.7" r="1.7"/><circle cx="165.3" cy="229.1" r="1.7"/><circle cx="106.4" cy="230.8" r="1.7"/><circle cx="43.8" cy="231" r="1.7"/><circle cx="42.2" cy="231.4" r="1.7"/><circle cx="143.5" cy="231.3" r="1.7"/><circle cx="93.8" cy="230.2" r="1.7"/><circle cx="36.3" cy="230.7" r="1.7"/><circle cx="201.8" cy="231.8" r="1.7"/><circle cx="81.7" cy="232.3" r="1.7"/><circle cx="67.3" cy="231.3" r="1.7"/><circle cx="149.1" cy="233.7" r="1.7"/><circle cx="100.9" cy="231.8" r="1.7"/><circle cx="211.4" cy="232.8" r="1.7"/><circle cx="151.4" cy="232" r="1.7"/><circle cx="110.1" cy="231" r="1.7"/><circle cx="84.4" cy="233.1" r="1.7"/><circle cx="199.5" cy="230.9" r="1.7"/><circle cx="205.2" cy="229.2" r="1.7"/><circle cx="57.7" cy="231.5" r="1.7"/><circle cx="218" cy="229.7" r="1.7"/><circle cx="68.5" cy="230.1" r="1.7"/><circle cx="161.4" cy="230.1" r="1.7"/><circle cx="32" cy="231.7" r="1.7"/><circle cx="106.9" cy="230.2" r="1.7"/><circle cx="125.9" cy="232.2" r="1.7"/><circle cx="136.3" cy="232.1" r="1.7"/><circle cx="138.7" cy="233.1" r="1.7"/><circle cx="216.5" cy="230.6" r="1.7"/><circle cx="97.9" cy="233.3" r="1.7"/><circle cx="91.5" cy="232.5" r="1.7"/><circle cx="164.3" cy="232.4" r="1.7"/><circle cx="215.5" cy="233" r="1.7"/><circle cx="62.2" cy="232" r="1.7"/><circle cx="125.3" cy="231.8" r="1.7"/><circle cx="102.2" cy="230.4" r="1.7"/><circle cx="174.6" cy="231.6" r="1.7"/><circle cx="77" cy="230.2" r="1.7"/><circle cx="93.7" cy="229.9" r="1.7"/><circle cx="129.7" cy="229.6" r="1.7"/><circle cx="43.9" cy="229.3" r="1.7"/><circle cx="51.3" cy="232.5" r="1.7"/><circle cx="53.3" cy="231.2" r="1.7"/><circle cx="179" cy="231.4" r="1.7"/><circle cx="62.8" cy="233.2" r="1.7"/><circle cx="197.6" cy="229.3" r="1.7"/><circle cx="80.2" cy="231.5" r="1.7"/><circle cx="183.6" cy="230.9" r="1.7"/><circle cx="168.3" cy="230.2" r="1.7"/><circle cx="168.2" cy="230.6" r="1.7"/><circle cx="95.4" cy="232.7" r="1.7"/><circle cx="192.4" cy="233.1" r="1.7"/><circle cx="140" cy="231.1" r="1.7"/><circle cx="166.5" cy="232.1" r="1.7"/><circle cx="190.2" cy="232.9" r="1.7"/><circle cx="55.7" cy="230.8" r="1.7"/><circle cx="159.4" cy="230.1" r="1.7"/><circle cx="67" cy="229.1" r="1.7"/><circle cx="143.4" cy="233.6" r="1.7"/><circle cx="216.8" cy="229.7" r="1.7"/><circle cx="162.9" cy="231.1" r="1.7"/><circle cx="152.2" cy="230.9" r="1.7"/><circle cx="209.7" cy="233.8" r="1.7"/><circle cx="41.1" cy="232.5" r="1.7"/><circle cx="54.4" cy="229.2" r="1.7"/><circle cx="86.3" cy="232.6" r="1.7"/><circle cx="221.2" cy="229.6" r="1.7"/><circle cx="94.7" cy="229.1" r="1.7"/><circle cx="135.2" cy="231.4" r="1.7"/><circle cx="103" cy="230.5" r="1.7"/><circle cx="184.4" cy="233.1" r="1.7"/><circle cx="149.5" cy="232.8" r="1.7"/><circle cx="218.8" cy="230.9" r="1.7"/><circle cx="164.1" cy="231.7" r="1.7"/><circle cx="184.3" cy="229.7" r="1.7"/><circle cx="65.2" cy="229.5" r="1.7"/><circle cx="209.7" cy="230.2" r="1.7"/><circle cx="124.9" cy="229.6" r="1.7"/><circle cx="93.5" cy="229.1" r="1.7"/><circle cx="139.7" cy="229.7" r="1.7"/><circle cx="151" cy="230.3" r="1.7"/><circle cx="75.2" cy="231.4" r="1.7"/><circle cx="101.5" cy="230.3" r="1.7"/><circle cx="41.6" cy="229.3" r="1.7"/><circle cx="201.9" cy="230.5" r="1.7"/><circle cx="46.7" cy="229.9" r="1.7"/><circle cx="123.9" cy="233.9" r="1.7"/><circle cx="70.3" cy="233.2" r="1.7"/><circle cx="124.1" cy="231" r="1.7"/><circle cx="185.6" cy="230.9" r="1.7"/><circle cx="42.8" cy="231.7" r="1.7"/><circle cx="157" cy="232.1" r="1.7"/><circle cx="84.6" cy="233.6" r="1.7"/><circle cx="196.6" cy="233.9" r="1.7"/><circle cx="116.3" cy="233.1" r="1.7"/><circle cx="170" cy="229.9" r="1.7"/><circle cx="36.9" cy="229.8" r="1.7"/><circle cx="54.4" cy="229.4" r="1.7"/><circle cx="100.2" cy="232.7" r="1.7"/><circle cx="90.9" cy="231.5" r="1.7"/><circle cx="33.8" cy="230" r="1.7"/><circle cx="214.6" cy="229.1" r="1.7"/><circle cx="132.3" cy="233" r="1.7"/><circle cx="182.8" cy="232.6" r="1.7"/><circle cx="107.9" cy="232.9" r="1.7"/><circle cx="189.6" cy="232.8" r="1.7"/><circle cx="219.7" cy="229.5" r="1.7"/><circle cx="212.9" cy="231" r="1.7"/><circle cx="166.2" cy="230.2" r="1.7"/><circle cx="205.2" cy="229.1" r="1.7"/><circle cx="141.7" cy="230.1" r="1.7"/><circle cx="105.8" cy="230.8" r="1.7"/><circle cx="157" cy="233" r="1.7"/><circle cx="101.3" cy="232.1" r="1.7"/><circle cx="99.3" cy="230.4" r="1.7"/><circle cx="204.3" cy="230.6" r="1.7"/><circle cx="49.7" cy="230.6" r="1.7"/><circle cx="173.2" cy="230" r="1.7"/><circle cx="173.5" cy="231.7" r="1.7"/><circle cx="161.5" cy="229.9" r="1.7"/><circle cx="52" cy="229.7" r="1.7"/><circle cx="98.6" cy="231.1" r="1.7"/><circle cx="33.6" cy="231.5" r="1.7"/><circle cx="108.7" cy="230.6" r="1.7"/><circle cx="134.2" cy="233.7" r="1.7"/><circle cx="70.8" cy="233.3" r="1.7"/><circle cx="93" cy="232.7" r="1.7"/><circle cx="52.5" cy="233.8" r="1.7"/><circle cx="113.8" cy="233.7" r="1.7"/><circle cx="73.7" cy="231" r="1.7"/><circle cx="166.4" cy="229.9" r="1.7"/><circle cx="83.9" cy="232.3" r="1.7"/><circle cx="212.4" cy="230.6" r="1.7"/><circle cx="66.8" cy="230.8" r="1.7"/><circle cx="220.4" cy="229.7" r="1.7"/><circle cx="152.8" cy="230.9" r="1.7"/><circle cx="154.5" cy="230" r="1.7"/><circle cx="149.3" cy="233.3" r="1.7"/><circle cx="195" cy="232.1" r="1.7"/><circle cx="128" cy="231.8" r="1.7"/><circle cx="53.6" cy="233.1" r="1.7"/><circle cx="163.3" cy="231.2" r="1.7"/><circle cx="158.6" cy="231.1" r="1.7"/><circle cx="103.1" cy="206.1" r="1.7"/><circle cx="107.6" cy="218" r="1.7"/><circle cx="105.8" cy="199.1" r="1.7"/><circle cx="108.2" cy="213.6" r="1.7"/><circle cx="107.5" cy="218.8" r="1.7"/><circle cx="114.6" cy="203.3" r="1.7"/><circle cx="104.8" cy="232.8" r="1.7"/><circle cx="110.5" cy="209" r="1.7"/><circle cx="110.5" cy="232.6" r="1.7"/><circle cx="103.4" cy="228.4" r="1.7"/><circle cx="97.7" cy="232.7" r="1.7"/><circle cx="105.3" cy="206.2" r="1.7"/><circle cx="112.6" cy="220.7" r="1.7"/><circle cx="114.7" cy="227" r="1.7"/><circle cx="111.8" cy="215.9" r="1.7"/><circle cx="115.9" cy="200.3" r="1.7"/><circle cx="113.3" cy="222.9" r="1.7"/><circle cx="100.3" cy="226.3" r="1.7"/><circle cx="104.5" cy="216.8" r="1.7"/><circle cx="113.2" cy="204.9" r="1.7"/><circle cx="100.9" cy="220.5" r="1.7"/><circle cx="96.5" cy="217.4" r="1.7"/><circle cx="111.5" cy="215.2" r="1.7"/><circle cx="100.1" cy="226" r="1.7"/><circle cx="113" cy="225" r="1.7"/><circle cx="106.5" cy="229.7" r="1.7"/><circle cx="111.7" cy="203.3" r="1.7"/><circle cx="102.7" cy="201.5" r="1.7"/><circle cx="95.8" cy="210.1" r="1.7"/><circle cx="113.2" cy="227.2" r="1.7"/><circle cx="97.5" cy="204.4" r="1.7"/><circle cx="103.2" cy="227.7" r="1.7"/><circle cx="108" cy="229.6" r="1.7"/><circle cx="96.5" cy="232.6" r="1.7"/><circle cx="99.3" cy="220" r="1.7"/><circle cx="113.4" cy="223.5" r="1.7"/><circle cx="99.1" cy="221.4" r="1.7"/><circle cx="104" cy="198.5" r="1.7"/><circle cx="102.1" cy="209" r="1.7"/><circle cx="108.2" cy="207.7" r="1.7"/><circle cx="107.7" cy="222.3" r="1.7"/><circle cx="98.8" cy="202.5" r="1.7"/><circle cx="109.6" cy="214.3" r="1.7"/><circle cx="97.7" cy="202.1" r="1.7"/><circle cx="114.8" cy="219.4" r="1.7"/><circle cx="147.4" cy="218.5" r="1.7"/><circle cx="174.8" cy="227.4" r="1.7"/><circle cx="163.7" cy="221.5" r="1.7"/><circle cx="145.3" cy="222.3" r="1.7"/><circle cx="138.3" cy="226.4" r="1.7"/><circle cx="150.3" cy="229.8" r="1.7"/><circle cx="149.6" cy="223.2" r="1.7"/><circle cx="153.8" cy="231.9" r="1.7"/><circle cx="146.9" cy="227.7" r="1.7"/><circle cx="142.1" cy="225.4" r="1.7"/><circle cx="144.2" cy="230.7" r="1.7"/><circle cx="144.3" cy="230.4" r="1.7"/><circle cx="161.1" cy="223.2" r="1.7"/><circle cx="172.1" cy="222" r="1.7"/><circle cx="164" cy="225.8" r="1.7"/><circle cx="151.3" cy="216.2" r="1.7"/><circle cx="150" cy="220.1" r="1.7"/><circle cx="151" cy="232.2" r="1.7"/><circle cx="144.6" cy="227.5" r="1.7"/><circle cx="160.9" cy="219.4" r="1.7"/><circle cx="149.7" cy="217.4" r="1.7"/><circle cx="170.5" cy="219.5" r="1.7"/><circle cx="150.1" cy="221.1" r="1.7"/><circle cx="167.3" cy="230.3" r="1.7"/><circle cx="157.4" cy="224.8" r="1.7"/><circle cx="136.3" cy="231.1" r="1.7"/><circle cx="135.8" cy="221.5" r="1.7"/><circle cx="148.1" cy="228" r="1.7"/><circle cx="160.8" cy="221.2" r="1.7"/><circle cx="170.6" cy="232.1" r="1.7"/><circle cx="133" cy="226.4" r="1.7"/><circle cx="152.2" cy="221.5" r="1.7"/><circle cx="152" cy="220.7" r="1.7"/><circle cx="160.8" cy="225.9" r="1.7"/><circle cx="173.7" cy="232.6" r="1.7"/><circle cx="174.7" cy="222.1" r="1.7"/><circle cx="167.6" cy="226.7" r="1.7"/><circle cx="162.1" cy="233" r="1.7"/><circle cx="134.9" cy="223.3" r="1.7"/><circle cx="149.3" cy="226.8" r="1.7"/><circle cx="141.4" cy="232.8" r="1.7"/><circle cx="141" cy="221.7" r="1.7"/><circle cx="138.1" cy="222.1" r="1.7"/><circle cx="163.9" cy="216.5" r="1.7"/><circle cx="139.2" cy="226.7" r="1.7"/><circle cx="158.8" cy="228.4" r="1.7"/><circle cx="142.9" cy="229.6" r="1.7"/><circle cx="163.4" cy="229" r="1.7"/><circle cx="137.1" cy="223.4" r="1.7"/><circle cx="132.7" cy="230.5" r="1.7"/><circle cx="166.1" cy="205.2" r="1.7"/><circle cx="137" cy="198.6" r="1.7"/><circle cx="127.1" cy="196.2" r="1.7"/><circle cx="146.3" cy="201.7" r="1.7"/><circle cx="128.7" cy="197.3" r="1.7"/><circle cx="135.5" cy="197.3" r="1.7"/><circle cx="141.6" cy="200" r="1.7"/><circle cx="141.9" cy="199.9" r="1.7"/><circle cx="163.4" cy="204.1" r="1.7"/><circle cx="130" cy="196.3" r="1.7"/><circle cx="139.3" cy="198.5" r="1.7"/><circle cx="166.7" cy="205.9" r="1.7"/><circle cx="129.5" cy="195.2" r="1.7"/><circle cx="156.1" cy="202.1" r="1.7"/><circle cx="123.5" cy="198.1" r="1.7"/><circle cx="165.8" cy="204.5" r="1.7"/><circle cx="123.4" cy="197.7" r="1.7"/><circle cx="135.4" cy="198.7" r="1.7"/><circle cx="135.7" cy="198.7" r="1.7"/><circle cx="164.6" cy="203.5" r="1.7"/><circle cx="145.9" cy="200.4" r="1.7"/><circle cx="135.6" cy="197.4" r="1.7"/><circle cx="137.9" cy="199.6" r="1.7"/><circle cx="137.5" cy="199.4" r="1.7"/><circle cx="124.1" cy="197.2" r="1.7"/><circle cx="145.6" cy="200.6" r="1.7"/><circle cx="132.9" cy="197.2" r="1.7"/><circle cx="135.7" cy="198.4" r="1.7"/><circle cx="157.1" cy="201.7" r="1.7"/><circle cx="140.8" cy="199.6" r="1.7"/><circle cx="150.5" cy="200.7" r="1.7"/><circle cx="149.4" cy="201.5" r="1.7"/><circle cx="149.8" cy="200.5" r="1.7"/><circle cx="143.5" cy="200.7" r="1.7"/><circle cx="124.6" cy="197.8" r="1.7"/><circle cx="134.6" cy="196.7" r="1.7"/><circle cx="161.8" cy="203.6" r="1.7"/><circle cx="156.1" cy="202.2" r="1.7"/><circle cx="160.7" cy="203.5" r="1.7"/><circle cx="160.8" cy="201.4" r="1.7"/><circle cx="124.3" cy="197.1" r="1.7"/><circle cx="149.2" cy="200.2" r="1.7"/><circle cx="153.9" cy="201.2" r="1.7"/><circle cx="157.3" cy="201.7" r="1.7"/><circle cx="155.4" cy="202.2" r="1.7"/><circle cx="164.4" cy="211" r="1.7"/><circle cx="154.4" cy="208.6" r="1.7"/><circle cx="138.1" cy="207" r="1.7"/><circle cx="127.1" cy="205.9" r="1.7"/><circle cx="127" cy="205.2" r="1.7"/><circle cx="150.6" cy="206.1" r="1.7"/><circle cx="126.9" cy="206.7" r="1.7"/><circle cx="147.2" cy="204.3" r="1.7"/><circle cx="138.8" cy="205.8" r="1.7"/><circle cx="123.2" cy="203.9" r="1.7"/><circle cx="152.3" cy="205.9" r="1.7"/><circle cx="150.8" cy="207.6" r="1.7"/><circle cx="147.9" cy="205.8" r="1.7"/><circle cx="129" cy="206.1" r="1.7"/><circle cx="144" cy="205.5" r="1.7"/><circle cx="157.5" cy="209.9" r="1.7"/><circle cx="144.1" cy="205.2" r="1.7"/><circle cx="152.4" cy="207.4" r="1.7"/><circle cx="153" cy="206.9" r="1.7"/><circle cx="151.9" cy="207.5" r="1.7"/><circle cx="148.5" cy="204.3" r="1.7"/><circle cx="141.6" cy="205.7" r="1.7"/><circle cx="155.2" cy="208.1" r="1.7"/><circle cx="159.8" cy="209.4" r="1.7"/><circle cx="146.2" cy="204.5" r="1.7"/><circle cx="130.6" cy="204.5" r="1.7"/><circle cx="158.1" cy="209.3" r="1.7"/><circle cx="132.4" cy="206.7" r="1.7"/><circle cx="149.8" cy="206.4" r="1.7"/><circle cx="149.2" cy="203.8" r="1.7"/><circle cx="150.5" cy="208.3" r="1.7"/><circle cx="152.7" cy="208.8" r="1.7"/><circle cx="153.4" cy="207.9" r="1.7"/><circle cx="122.9" cy="203.3" r="1.7"/><circle cx="135.3" cy="206.6" r="1.7"/><circle cx="143.4" cy="206" r="1.7"/><circle cx="132.8" cy="205.9" r="1.7"/><circle cx="127.1" cy="209.9" r="1.7"/><circle cx="137.3" cy="213.3" r="1.7"/><circle cx="135.5" cy="211.6" r="1.7"/><circle cx="143.5" cy="214.1" r="1.7"/><circle cx="147.1" cy="215.2" r="1.7"/><circle cx="127.2" cy="212.1" r="1.7"/><circle cx="143.2" cy="213.4" r="1.7"/><circle cx="137.1" cy="214" r="1.7"/><circle cx="150.2" cy="215.3" r="1.7"/><circle cx="141.9" cy="214.6" r="1.7"/><circle cx="123.9" cy="210.7" r="1.7"/><circle cx="149" cy="215.7" r="1.7"/><circle cx="123.1" cy="210.3" r="1.7"/><circle cx="120" cy="209.3" r="1.7"/><circle cx="141.9" cy="212.5" r="1.7"/><circle cx="137.2" cy="213.8" r="1.7"/><circle cx="125.8" cy="211.3" r="1.7"/><circle cx="136" cy="214.5" r="1.7"/><circle cx="132.9" cy="212.9" r="1.7"/><circle cx="133" cy="212.3" r="1.7"/><circle cx="137.9" cy="214" r="1.7"/><circle cx="130.3" cy="210.5" r="1.7"/><circle cx="151.3" cy="213.3" r="1.7"/><circle cx="146.1" cy="213.8" r="1.7"/><circle cx="134.2" cy="212.4" r="1.7"/><circle cx="114.2" cy="194.6" r="1.7"/><circle cx="113.8" cy="188.9" r="1.7"/><circle cx="115.9" cy="189" r="1.7"/><circle cx="115.2" cy="199.5" r="1.7"/><circle cx="114.9" cy="197.4" r="1.7"/><circle cx="115.1" cy="194.1" r="1.7"/><circle cx="115.9" cy="188.4" r="1.7"/><circle cx="115.4" cy="199.3" r="1.7"/><circle cx="101.4" cy="216.1" r="1.7"/><circle cx="115.5" cy="211" r="1.7"/><circle cx="104.3" cy="219.2" r="1.7"/><circle cx="98.1" cy="208.9" r="1.7"/><circle cx="101.3" cy="202.8" r="1.7"/><circle cx="106.1" cy="221.2" r="1.7"/><circle cx="107.1" cy="214.1" r="1.7"/><circle cx="104.8" cy="218.3" r="1.7"/><circle cx="106.5" cy="203.2" r="1.7"/><circle cx="105.7" cy="219.7" r="1.7"/><circle cx="104.4" cy="218.7" r="1.7"/><circle cx="104.7" cy="221.2" r="1.7"/><circle cx="107.3" cy="215.3" r="1.7"/><circle cx="102.8" cy="216.5" r="1.7"/><circle cx="103.5" cy="200.3" r="1.7"/><circle cx="107.2" cy="201.5" r="1.7"/><circle cx="114.2" cy="215" r="1.7"/><circle cx="105.2" cy="215.6" r="1.7"/><circle cx="94.7" cy="216.1" r="1.7"/><circle cx="115.1" cy="203.7" r="1.7"/><circle cx="101.6" cy="212.9" r="1.7"/><circle cx="107.6" cy="199.7" r="1.7"/><circle cx="99.4" cy="219.1" r="1.7"/><circle cx="96.4" cy="204.3" r="1.7"/><circle cx="94.3" cy="211.6" r="1.7"/><circle cx="113.4" cy="210.7" r="1.7"/><circle cx="102.8" cy="212.1" r="1.7"/><circle cx="108.9" cy="207.7" r="1.7"/><circle cx="108.1" cy="220.8" r="1.7"/><circle cx="116.2" cy="207.2" r="1.7"/><circle cx="98.7" cy="219.7" r="1.7"/><circle cx="111.4" cy="217.9" r="1.7"/><circle cx="110" cy="208.2" r="1.7"/><circle cx="111.5" cy="217.4" r="1.7"/><circle cx="112.6" cy="203.1" r="1.7"/><circle cx="112.7" cy="207.5" r="1.7"/><circle cx="103.3" cy="221.5" r="1.7"/><circle cx="109.6" cy="212.2" r="1.7"/><circle cx="103.5" cy="212.2" r="1.7"/><circle cx="111.2" cy="216.1" r="1.7"/><circle cx="96.2" cy="207.7" r="1.7"/><circle cx="105.7" cy="201.3" r="1.7"/><circle cx="108.2" cy="208.9" r="1.7"/><circle cx="105.6" cy="213.3" r="1.7"/><circle cx="101.2" cy="219.7" r="1.7"/><circle cx="112.6" cy="206.1" r="1.7"/><circle cx="108.7" cy="215.8" r="1.7"/><circle cx="99.1" cy="207.3" r="1.7"/><circle cx="108.1" cy="198.6" r="1.7"/><circle cx="96" cy="212.3" r="1.7"/><circle cx="109.6" cy="203.3" r="1.7"/><circle cx="109.2" cy="220.9" r="1.7"/><circle cx="106.9" cy="209.7" r="1.7"/><circle cx="105.6" cy="202.4" r="1.7"/><circle cx="109.6" cy="211.6" r="1.7"/><circle cx="109.8" cy="219.1" r="1.7"/><circle cx="105.4" cy="211.6" r="1.7"/><circle cx="107" cy="220.5" r="1.7"/><circle cx="95.3" cy="210.1" r="1.7"/><circle cx="100" cy="211.1" r="1.7"/><circle cx="111.6" cy="210.6" r="1.7"/><circle cx="110.9" cy="211.6" r="1.7"/><circle cx="99.6" cy="205" r="1.7"/><circle cx="95.7" cy="211.6" r="1.7"/><circle cx="102.1" cy="216.5" r="1.7"/><circle cx="111.8" cy="203.9" r="1.7"/><circle cx="97" cy="191" r="1.7"/><circle cx="94.1" cy="193.3" r="1.7"/><circle cx="94.1" cy="199.1" r="1.7"/><circle cx="101.1" cy="193.8" r="1.7"/><circle cx="121" cy="190.3" r="1.7"/><circle cx="137.3" cy="192.1" r="1.7"/><circle cx="143.7" cy="196.8" r="1.7"/><circle cx="147.2" cy="199.7" r="1.7"/><circle cx="93.8" cy="193.3" r="1.7"/><circle cx="96.7" cy="191" r="1.7"/><circle cx="100.8" cy="194.5" r="1.7"/><circle cx="115.9" cy="188" r="1.7"/><circle cx="115.9" cy="191" r="1.7"/><circle cx="120.6" cy="191" r="1.7"/><circle cx="137" cy="191.5" r="1.7"/><circle cx="138.1" cy="192.7" r="1.7"/><circle cx="115.9" cy="195" r="1.7"/><circle cx="125.3" cy="196.2" r="1.7"/><circle cx="144" cy="196.2" r="1.7"/><circle cx="187" cy="205.5" r="1.7"/><circle cx="212" cy="204" r="1.7"/><circle cx="88.5" cy="209.5" r="1.7"/><circle cx="72" cy="202" r="1.7"/></g>
<g fill="#87cefa" stroke="#5a8fb0" stroke-width="0.45"><circle cx="122.4" cy="160.6" r="1.6"/><circle cx="135.8" cy="174.6" r="1.6"/><circle cx="135.2" cy="177.5" r="1.6"/><circle cx="128.2" cy="178.7" r="1.6"/><circle cx="127.6" cy="181" r="1.6"/><circle cx="132.3" cy="179.9" r="1.6"/><circle cx="109.5" cy="181" r="1.6"/><circle cx="111.9" cy="181.6" r="1.6"/><circle cx="114.2" cy="179.9" r="1.6"/><circle cx="117.7" cy="180.4" r="1.6"/><circle cx="108.4" cy="185.1" r="1.6"/><circle cx="117.7" cy="185.7" r="1.6"/><circle cx="121.2" cy="185.7" r="1.6"/><circle cx="123" cy="188.6" r="1.6"/><circle cx="125.9" cy="189.8" r="1.6"/><circle cx="130.5" cy="190.9" r="1.6"/><circle cx="135.2" cy="190.4" r="1.6"/><circle cx="110.7" cy="191.5" r="1.6"/><circle cx="118.9" cy="193.9" r="1.6"/><circle cx="111" cy="191.3" r="1.6"/><circle cx="111" cy="191.5" r="1.6"/><circle cx="118.6" cy="193.8" r="1.6"/><circle cx="112.8" cy="198.5" r="1.6"/><circle cx="119.8" cy="205.5" r="1.6"/><circle cx="120.4" cy="211.4" r="1.6"/><circle cx="123.9" cy="189.2" r="1.6"/><circle cx="125.6" cy="189.8" r="1.6"/><circle cx="130.9" cy="190.3" r="1.6"/><circle cx="135" cy="190.3" r="1.6"/><circle cx="133" cy="190.7" r="1.6"/><circle cx="113" cy="180.5" r="1.6"/><circle cx="110.5" cy="182" r="1.6"/></g>
<g fill="#00ee00" stroke="#0a8a0a" stroke-width="0.45"><circle cx="118.3" cy="161.2" r="1.6"/><circle cx="121.2" cy="161.8" r="1.6"/><circle cx="122.4" cy="164.1" r="1.6"/><circle cx="124.7" cy="164.7" r="1.6"/><circle cx="121.2" cy="166.4" r="1.6"/><circle cx="126.5" cy="167.6" r="1.6"/><circle cx="128.8" cy="168.2" r="1.6"/><circle cx="132.9" cy="164.7" r="1.6"/><circle cx="135.2" cy="167" r="1.6"/><circle cx="119.5" cy="169.3" r="1.6"/><circle cx="116.5" cy="172.3" r="1.6"/><circle cx="120" cy="171.7" r="1.6"/><circle cx="118.9" cy="173.4" r="1.6"/><circle cx="123.5" cy="175.8" r="1.6"/><circle cx="135.2" cy="171.7" r="1.6"/><circle cx="116.5" cy="182.2" r="1.6"/><circle cx="119.5" cy="183.4" r="1.6"/><circle cx="122.6" cy="157.1" r="1.6"/><circle cx="120.9" cy="158.8" r="1.6"/><circle cx="118.1" cy="160.6" r="1.6"/><circle cx="124.8" cy="164.1" r="1.6"/><circle cx="122.3" cy="165.6" r="1.6"/><circle cx="126.2" cy="167" r="1.6"/><circle cx="129" cy="168.1" r="1.6"/></g>
<g fill="#ffa500" stroke="#b87400" stroke-width="0.45"><circle cx="121" cy="129.1" r="1.6"/><circle cx="123.6" cy="131" r="1.6"/><circle cx="124.1" cy="133.8" r="1.6"/><circle cx="125.8" cy="134.5" r="1.6"/><circle cx="127.6" cy="134.8" r="1.6"/><circle cx="129.5" cy="135.7" r="1.6"/><circle cx="131.4" cy="136.1" r="1.6"/><circle cx="133.9" cy="136.6" r="1.6"/><circle cx="135.2" cy="134.1" r="1.6"/><circle cx="126.5" cy="156.4" r="1.6"/><circle cx="124.9" cy="133" r="1.6"/><circle cx="132.6" cy="136.4" r="1.6"/></g>
<g fill="#ff0000" stroke="#5a0000" stroke-width="0.45"><circle cx="122.6" cy="92" r="1.6"/><circle cx="123.6" cy="96.4" r="1.6"/><circle cx="128.9" cy="98.2" r="1.6"/><circle cx="134.9" cy="96.6" r="1.6"/><circle cx="133.9" cy="102.4" r="1.6"/><circle cx="134.8" cy="104.5" r="1.6"/><circle cx="127" cy="109" r="1.6"/><circle cx="128.9" cy="109.2" r="1.6"/><circle cx="134.8" cy="109.8" r="1.6"/><circle cx="134.8" cy="115.6" r="1.6"/><circle cx="125" cy="99.5" r="1.6"/><circle cx="126.5" cy="101" r="1.6"/><circle cx="128" cy="100.5" r="1.6"/><circle cx="130" cy="101.5" r="1.6"/><circle cx="131.5" cy="103" r="1.6"/><circle cx="129" cy="104" r="1.6"/><circle cx="127" cy="104.5" r="1.6"/><circle cx="125.5" cy="103.5" r="1.6"/><circle cx="130.5" cy="106" r="1.6"/><circle cx="132.5" cy="105.5" r="1.6"/><circle cx="128" cy="106.5" r="1.6"/><circle cx="126" cy="106" r="1.6"/><circle cx="129.5" cy="102.5" r="1.6"/><circle cx="131" cy="99.5" r="1.6"/><circle cx="133" cy="101" r="1.6"/></g>
<path d="M122.2 86.1L124.1 88L122.2 89.9L120.3 88Z" fill="#7b3fd6" stroke="#4a2090" stroke-width="0.4"/>
<text x="106.3" y="84.2" font-size="6.2" textLength="29.5" lengthAdjust="spacingAndGlyphs" fill="#3a3a3a">rs3807865</text>
<rect x="31.4" y="65.7" width="191.4" height="176.4" fill="none" stroke="#666" stroke-width="0.9"/>
<rect x="31.3" y="247.6" width="191.9" height="8.4" fill="#fff" stroke="#666" stroke-width="0.8"/>
<text x="118.1" y="251.9" font-size="3.6" textLength="16.2" lengthAdjust="spacingAndGlyphs" fill="#3a3a3a">TMEM106B</text>
<text x="135.4" y="251.9" font-size="3.6" textLength="3.5" lengthAdjust="spacingAndGlyphs" fill="#5060b0">→</text>
<text x="171.6" y="251.9" font-size="3.6" textLength="3" lengthAdjust="spacingAndGlyphs" fill="#5060b0">←</text>
<text x="175.7" y="251.9" font-size="3.6" textLength="9.9" lengthAdjust="spacingAndGlyphs" fill="#3a3a3a">VWDE</text>
<line x1="122.1" y1="253.6" x2="132.3" y2="253.6" stroke="#1a1a9a" stroke-width="0.5"/>
<rect x="122.41" y="252.9" width="1.94" height="1.4" fill="#1a1a9a"/>
<rect x="124.96" y="252.9" width="1.94" height="1.4" fill="#1a1a9a"/>
<rect x="127.51" y="252.9" width="1.94" height="1.4" fill="#1a1a9a"/>
<rect x="130.06" y="252.9" width="1.94" height="1.4" fill="#1a1a9a"/>
<line x1="165.8" y1="253.6" x2="193.1" y2="253.6" stroke="#1a1a9a" stroke-width="0.5"/>
<rect x="166.13" y="252.9" width="2.07" height="1.4" fill="#1a1a9a"/>
<rect x="168.86" y="252.9" width="2.07" height="1.4" fill="#1a1a9a"/>
<rect x="171.59" y="252.9" width="2.07" height="1.4" fill="#1a1a9a"/>
<rect x="174.32" y="252.9" width="2.07" height="1.4" fill="#1a1a9a"/>
<rect x="177.05" y="252.9" width="2.07" height="1.4" fill="#1a1a9a"/>
<rect x="179.78" y="252.9" width="2.07" height="1.4" fill="#1a1a9a"/>
<rect x="182.51" y="252.9" width="2.07" height="1.4" fill="#1a1a9a"/>
<rect x="185.24" y="252.9" width="2.07" height="1.4" fill="#1a1a9a"/>
<rect x="187.97" y="252.9" width="2.07" height="1.4" fill="#1a1a9a"/>
<rect x="190.70" y="252.9" width="2.07" height="1.4" fill="#1a1a9a"/>
<line x1="67.4" y1="256" x2="67.4" y2="260" stroke="#555" stroke-width="0.7"/>
<text x="67.4" y="270.6" font-size="7.0" text-anchor="middle" textLength="11.5" lengthAdjust="spacingAndGlyphs" fill="#2a2a2a">12.1</text>
<line x1="103.8" y1="256" x2="103.8" y2="260" stroke="#555" stroke-width="0.7"/>
<text x="103.8" y="270.6" font-size="7.0" text-anchor="middle" textLength="11.5" lengthAdjust="spacingAndGlyphs" fill="#2a2a2a">12.2</text>
<line x1="140.2" y1="256" x2="140.2" y2="260" stroke="#555" stroke-width="0.7"/>
<text x="140.2" y="270.6" font-size="7.0" text-anchor="middle" textLength="11.5" lengthAdjust="spacingAndGlyphs" fill="#2a2a2a">12.3</text>
<line x1="176.6" y1="256" x2="176.6" y2="260" stroke="#555" stroke-width="0.7"/>
<text x="176.6" y="270.6" font-size="7.0" text-anchor="middle" textLength="11.5" lengthAdjust="spacingAndGlyphs" fill="#2a2a2a">12.4</text>
<line x1="213" y1="256" x2="213" y2="260" stroke="#555" stroke-width="0.7"/>
<text x="213" y="270.6" font-size="7.0" text-anchor="middle" textLength="11.5" lengthAdjust="spacingAndGlyphs" fill="#2a2a2a">12.5</text>
<text x="127.3" y="284.3" font-size="7.4" text-anchor="middle" textLength="72.1" lengthAdjust="spacingAndGlyphs">Position on chr7 (Mb)</text>
<line x1="425.2" y1="98.5" x2="427.6" y2="98.5" stroke="#999" stroke-width="0.5"/>
<line x1="426.4" y1="97.3" x2="426.4" y2="99.7" stroke="#999" stroke-width="0.5"/>
<line x1="581" y1="97.2" x2="583.4" y2="97.2" stroke="#999" stroke-width="0.5"/>
<line x1="582.2" y1="96" x2="582.2" y2="98.4" stroke="#999" stroke-width="0.5"/>
<line x1="681" y1="93.8" x2="683.4" y2="93.8" stroke="#999" stroke-width="0.5"/>
<line x1="682.2" y1="92.6" x2="682.2" y2="95" stroke="#999" stroke-width="0.5"/>
<text x="239.6" y="9.2" font-size="13.5" font-weight="bold" textLength="8.9" lengthAdjust="spacingAndGlyphs" fill="#000">b</text>
<text x="263.3" y="18.4" font-size="7.4" text-anchor="end" textLength="24" lengthAdjust="spacingAndGlyphs">Plotted</text>
<text x="263.3" y="27.2" font-size="7.4" text-anchor="end" textLength="17.2" lengthAdjust="spacingAndGlyphs">SNPs</text>
<text x="321" y="18.4" font-size="7.4" text-anchor="middle" textLength="59.9" lengthAdjust="spacingAndGlyphs">Appetite changes</text>
<rect x="268.4" y="22.1" width="105.3" height="2.6" fill="#3f3f3f"/>
<line x1="264.8" y1="120.4" x2="268.2" y2="120.4" stroke="#666" stroke-width="0.6"/>
<text x="263.6" y="122.9" font-size="6.8" text-anchor="end" textLength="3.2" lengthAdjust="spacingAndGlyphs" fill="#3a3a3a">0</text>
<line x1="264.8" y1="102.9" x2="268.2" y2="102.9" stroke="#666" stroke-width="0.6"/>
<text x="263.6" y="105.4" font-size="6.8" text-anchor="end" textLength="3.2" lengthAdjust="spacingAndGlyphs" fill="#3a3a3a">2</text>
<line x1="264.8" y1="85.4" x2="268.2" y2="85.4" stroke="#666" stroke-width="0.6"/>
<text x="263.6" y="87.9" font-size="6.8" text-anchor="end" textLength="3.2" lengthAdjust="spacingAndGlyphs" fill="#3a3a3a">4</text>
<line x1="264.8" y1="67.9" x2="268.2" y2="67.9" stroke="#666" stroke-width="0.6"/>
<text x="263.6" y="70.4" font-size="6.8" text-anchor="end" textLength="3.2" lengthAdjust="spacingAndGlyphs" fill="#3a3a3a">6</text>
<line x1="264.8" y1="50.4" x2="268.2" y2="50.4" stroke="#666" stroke-width="0.6"/>
<text x="263.6" y="52.9" font-size="6.8" text-anchor="end" textLength="3.2" lengthAdjust="spacingAndGlyphs" fill="#3a3a3a">8</text>
<line x1="264.8" y1="32.9" x2="268.2" y2="32.9" stroke="#666" stroke-width="0.6"/>
<text x="263.6" y="35.4" font-size="6.8" text-anchor="end" textLength="5.6" lengthAdjust="spacingAndGlyphs" fill="#3a3a3a">10</text>
<text x="251" y="76.4" font-size="7.6" text-anchor="middle" textLength="28.2" lengthAdjust="spacingAndGlyphs" transform="rotate(-90 251 76.4)" fill="#2a2a2a">-log<tspan font-size="4.8" dy="1.6">10</tspan><tspan dy="-1.6">(</tspan><tspan font-style="italic">P</tspan>)</text>
<rect x="270.4" y="39.3" width="2.9" height="3.5" fill="#ff0000"/>
<rect x="270.4" y="42.8" width="2.9" height="3.5" fill="#ffa500"/>
<rect x="270.4" y="46.3" width="2.9" height="3.5" fill="#00ee00"/>
<rect x="270.4" y="49.7" width="2.9" height="3.5" fill="#87cefa"/>
<rect x="270.4" y="53.2" width="2.9" height="3.5" fill="#000080"/>
<rect x="270.4" y="39.3" width="2.9" height="17.4" fill="none" stroke="#222" stroke-width="0.3"/>
<line x1="273.3" y1="42.8" x2="275.6" y2="42.8" stroke="#333" stroke-width="0.45"/>
<text x="276.2" y="44.3" font-size="4.6" textLength="6.7" lengthAdjust="spacingAndGlyphs" fill="#444">0.8</text>
<line x1="273.3" y1="46.3" x2="275.6" y2="46.3" stroke="#333" stroke-width="0.45"/>
<text x="276.2" y="47.8" font-size="4.6" textLength="6.7" lengthAdjust="spacingAndGlyphs" fill="#444">0.6</text>
<line x1="273.3" y1="49.7" x2="275.6" y2="49.7" stroke="#333" stroke-width="0.45"/>
<text x="276.2" y="51.2" font-size="4.6" textLength="6.7" lengthAdjust="spacingAndGlyphs" fill="#444">0.4</text>
<line x1="273.3" y1="53.2" x2="275.6" y2="53.2" stroke="#333" stroke-width="0.45"/>
<text x="276.2" y="54.7" font-size="4.6" textLength="6.7" lengthAdjust="spacingAndGlyphs" fill="#444">0.2</text>
<text x="274" y="36.4" font-size="6.0" font-style="italic" fill="#333">r<tspan font-size="3.8" dy="-2.4">2</tspan></text>
<g fill="#000080" stroke="#26262e" stroke-width="0.38"><circle cx="306" cy="112.6" r="0.85"/><circle cx="305.6" cy="120.3" r="0.85"/><circle cx="318.2" cy="110.7" r="0.85"/><circle cx="339.5" cy="120.2" r="0.85"/><circle cx="320.6" cy="118.9" r="0.85"/><circle cx="272.5" cy="111.7" r="0.85"/><circle cx="342.3" cy="117.5" r="0.85"/><circle cx="349.7" cy="111.7" r="0.85"/><circle cx="269.7" cy="118" r="0.85"/><circle cx="300.6" cy="120.4" r="0.85"/><circle cx="346.5" cy="110.6" r="0.85"/><circle cx="319.4" cy="109" r="0.85"/><circle cx="325.2" cy="116.7" r="0.85"/><circle cx="328.2" cy="111.9" r="0.85"/><circle cx="296.9" cy="116.8" r="0.85"/><circle cx="281.9" cy="116.6" r="0.85"/><circle cx="340.8" cy="117" r="0.85"/><circle cx="279.6" cy="112.9" r="0.85"/><circle cx="349.3" cy="111.2" r="0.85"/><circle cx="285.3" cy="111.5" r="0.85"/><circle cx="320.3" cy="119.1" r="0.85"/><circle cx="299.7" cy="120.2" r="0.85"/><circle cx="353" cy="109.2" r="0.85"/><circle cx="363.6" cy="112.7" r="0.85"/><circle cx="323.9" cy="116.9" r="0.85"/><circle cx="338" cy="120.5" r="0.85"/><circle cx="275.2" cy="116.7" r="0.85"/><circle cx="303" cy="111.1" r="0.85"/><circle cx="340.5" cy="120.3" r="0.85"/><circle cx="332.1" cy="120.4" r="0.85"/><circle cx="368.8" cy="112.9" r="0.85"/><circle cx="350.4" cy="117.5" r="0.85"/><circle cx="272.2" cy="114.6" r="0.85"/><circle cx="340.1" cy="117.9" r="0.85"/><circle cx="290.3" cy="113.2" r="0.85"/><circle cx="303.2" cy="114.7" r="0.85"/><circle cx="361.4" cy="113.4" r="0.85"/><circle cx="281.7" cy="113.2" r="0.85"/><circle cx="370.2" cy="110.3" r="0.85"/><circle cx="339.5" cy="120" r="0.85"/><circle cx="278" cy="114.1" r="0.85"/><circle cx="280.8" cy="113" r="0.85"/><circle cx="292" cy="117.4" r="0.85"/><circle cx="291.8" cy="115.3" r="0.85"/><circle cx="338.1" cy="118.4" r="0.85"/><circle cx="319.4" cy="115" r="0.85"/><circle cx="335.7" cy="110.8" r="0.85"/><circle cx="313.1" cy="120.4" r="0.85"/><circle cx="364.5" cy="112.7" r="0.85"/><circle cx="287" cy="115.3" r="0.85"/><circle cx="273.9" cy="111.6" r="0.85"/><circle cx="295.7" cy="114.5" r="0.85"/><circle cx="306.1" cy="115.3" r="0.85"/><circle cx="326.4" cy="108.6" r="0.85"/><circle cx="318.3" cy="109" r="0.85"/><circle cx="321.3" cy="117" r="0.85"/><circle cx="354" cy="119.8" r="0.85"/><circle cx="287.5" cy="118.6" r="0.85"/><circle cx="322.3" cy="113.7" r="0.85"/><circle cx="289" cy="120.5" r="0.85"/><circle cx="317.4" cy="120.1" r="0.85"/><circle cx="325.1" cy="108.1" r="0.85"/><circle cx="354" cy="119.8" r="0.85"/><circle cx="333.6" cy="118" r="0.85"/><circle cx="351.5" cy="114.2" r="0.85"/><circle cx="310.1" cy="118.1" r="0.85"/><circle cx="284.5" cy="115.6" r="0.85"/><circle cx="293.4" cy="115.3" r="0.85"/><circle cx="368.3" cy="117.7" r="0.85"/><circle cx="338" cy="113.5" r="0.85"/><circle cx="324.2" cy="107.4" r="0.85"/><circle cx="271" cy="117.5" r="0.85"/><circle cx="285" cy="113.5" r="0.85"/><circle cx="341.9" cy="112.4" r="0.85"/><circle cx="324.3" cy="120.5" r="0.85"/><circle cx="276.4" cy="117.7" r="0.85"/><circle cx="366.4" cy="119.8" r="0.85"/><circle cx="287.7" cy="111.9" r="0.85"/><circle cx="316.4" cy="111.8" r="0.85"/><circle cx="341.6" cy="110.4" r="0.85"/><circle cx="350.8" cy="110.2" r="0.85"/><circle cx="305.9" cy="110.5" r="0.85"/><circle cx="360.2" cy="116.9" r="0.85"/><circle cx="290.7" cy="119.9" r="0.85"/><circle cx="284.3" cy="118.6" r="0.85"/><circle cx="287.5" cy="117.5" r="0.85"/><circle cx="310.1" cy="112.8" r="0.85"/><circle cx="342.8" cy="119.9" r="0.85"/><circle cx="276.2" cy="115.8" r="0.85"/><circle cx="338.3" cy="111.5" r="0.85"/><circle cx="333.1" cy="111.9" r="0.85"/><circle cx="278.3" cy="113.7" r="0.85"/><circle cx="366.7" cy="120.4" r="0.85"/><circle cx="294.6" cy="112.2" r="0.85"/><circle cx="289.6" cy="116.2" r="0.85"/><circle cx="273.7" cy="119.6" r="0.85"/><circle cx="300.7" cy="112.8" r="0.85"/><circle cx="290.2" cy="116.9" r="0.85"/><circle cx="368.7" cy="116.5" r="0.85"/><circle cx="280.3" cy="111.9" r="0.85"/><circle cx="318.6" cy="119.9" r="0.85"/><circle cx="273.2" cy="120.4" r="0.85"/><circle cx="323.8" cy="119.9" r="0.85"/><circle cx="313.4" cy="113.7" r="0.85"/><circle cx="337.8" cy="111.7" r="0.85"/><circle cx="286.4" cy="117.8" r="0.85"/><circle cx="308.6" cy="119.1" r="0.85"/><circle cx="320.2" cy="116.1" r="0.85"/><circle cx="357" cy="115.5" r="0.85"/><circle cx="290.4" cy="113.3" r="0.85"/><circle cx="347" cy="115" r="0.85"/><circle cx="365.3" cy="111.7" r="0.85"/><circle cx="302.7" cy="112.5" r="0.85"/><circle cx="281.6" cy="119.7" r="0.85"/><circle cx="331.9" cy="113.5" r="0.85"/><circle cx="338.9" cy="111.1" r="0.85"/><circle cx="338.6" cy="116.7" r="0.85"/><circle cx="368.3" cy="112.2" r="0.85"/><circle cx="340.2" cy="116.9" r="0.85"/><circle cx="292.8" cy="113.4" r="0.85"/><circle cx="331.3" cy="113.7" r="0.85"/><circle cx="272.8" cy="116" r="0.85"/><circle cx="341.9" cy="117.6" r="0.85"/><circle cx="323.8" cy="109.3" r="0.85"/><circle cx="332.6" cy="112.5" r="0.85"/><circle cx="294.2" cy="113.9" r="0.85"/><circle cx="273.5" cy="113.5" r="0.85"/><circle cx="292.8" cy="118.4" r="0.85"/><circle cx="289.1" cy="113.7" r="0.85"/><circle cx="369" cy="111.4" r="0.85"/><circle cx="283.7" cy="117.8" r="0.85"/><circle cx="292.2" cy="116" r="0.85"/><circle cx="294.4" cy="115.6" r="0.85"/><circle cx="291.1" cy="114.6" r="0.85"/><circle cx="330" cy="113.2" r="0.85"/><circle cx="320" cy="120.5" r="0.85"/><circle cx="296.9" cy="119.1" r="0.85"/><circle cx="347" cy="115" r="0.85"/><circle cx="302.7" cy="118.1" r="0.85"/><circle cx="311.7" cy="119.6" r="0.85"/><circle cx="371.5" cy="111.8" r="0.85"/><circle cx="357.4" cy="119.9" r="0.85"/><circle cx="298.7" cy="119.8" r="0.85"/><circle cx="335.7" cy="116.7" r="0.85"/><circle cx="322.7" cy="114.2" r="0.85"/><circle cx="270.7" cy="119.9" r="0.85"/><circle cx="276.9" cy="118.5" r="0.85"/><circle cx="353.1" cy="111.3" r="0.85"/><circle cx="271.8" cy="120" r="0.85"/><circle cx="300.9" cy="116.8" r="0.85"/><circle cx="289.3" cy="113.8" r="0.85"/><circle cx="354.6" cy="117" r="0.85"/><circle cx="315.6" cy="112.1" r="0.85"/><circle cx="283.7" cy="119.9" r="0.85"/><circle cx="274.7" cy="114.9" r="0.85"/><circle cx="336.2" cy="119.4" r="0.85"/><circle cx="364" cy="119.9" r="0.85"/><circle cx="347.4" cy="112" r="0.85"/><circle cx="276.1" cy="115.6" r="0.85"/><circle cx="273.8" cy="120.5" r="0.85"/><circle cx="284.5" cy="113.2" r="0.85"/><circle cx="300.3" cy="118.3" r="0.85"/><circle cx="317.3" cy="114.1" r="0.85"/><circle cx="350.3" cy="113.5" r="0.85"/><circle cx="282.3" cy="115" r="0.85"/><circle cx="272.2" cy="119" r="0.85"/><circle cx="321.1" cy="113.3" r="0.85"/><circle cx="334.8" cy="119.3" r="0.85"/><circle cx="279.8" cy="118.2" r="0.85"/><circle cx="274.8" cy="113.6" r="0.85"/><circle cx="348.9" cy="119.3" r="0.85"/><circle cx="346.7" cy="119.8" r="0.85"/><circle cx="320.5" cy="118.2" r="0.85"/><circle cx="276.3" cy="117.4" r="0.85"/><circle cx="319.6" cy="107.8" r="0.85"/><circle cx="296.2" cy="117.9" r="0.85"/><circle cx="282.7" cy="113.6" r="0.85"/><circle cx="325.6" cy="118.3" r="0.85"/><circle cx="357.3" cy="114.1" r="0.85"/><circle cx="353" cy="115.1" r="0.85"/><circle cx="289.1" cy="114.2" r="0.85"/><circle cx="290.8" cy="120" r="0.85"/><circle cx="281.3" cy="120.1" r="0.85"/><circle cx="277.4" cy="118.5" r="0.85"/><circle cx="318.9" cy="106.7" r="0.85"/><circle cx="290.5" cy="114.3" r="0.85"/><circle cx="353.7" cy="120" r="0.85"/><circle cx="283.1" cy="119.5" r="0.85"/><circle cx="282.5" cy="115.7" r="0.85"/><circle cx="293.6" cy="117.4" r="0.85"/><circle cx="274.6" cy="113.8" r="0.85"/><circle cx="360.8" cy="108.7" r="0.85"/><circle cx="326.6" cy="118.7" r="0.85"/><circle cx="269.3" cy="113.2" r="0.85"/><circle cx="349.5" cy="111.7" r="0.85"/><circle cx="291.6" cy="114.6" r="0.85"/><circle cx="320.6" cy="119.2" r="0.85"/><circle cx="328.2" cy="116.9" r="0.85"/><circle cx="285.1" cy="112.6" r="0.85"/><circle cx="324.2" cy="117.8" r="0.85"/><circle cx="285.6" cy="118.1" r="0.85"/><circle cx="300.5" cy="119.1" r="0.85"/><circle cx="273.2" cy="119.1" r="0.85"/><circle cx="314.2" cy="106.1" r="0.85"/><circle cx="306.4" cy="118.8" r="0.85"/><circle cx="269.3" cy="118.2" r="0.85"/><circle cx="331.2" cy="113.5" r="0.85"/><circle cx="299.8" cy="117" r="0.85"/><circle cx="272.2" cy="114.3" r="0.85"/><circle cx="352.3" cy="108.4" r="0.85"/><circle cx="335.4" cy="116.1" r="0.85"/><circle cx="312.3" cy="106.7" r="0.85"/><circle cx="269.3" cy="117.4" r="0.85"/><circle cx="368.6" cy="115.3" r="0.85"/><circle cx="367.4" cy="115.1" r="0.85"/><circle cx="274.7" cy="119.6" r="0.85"/><circle cx="289.3" cy="115.9" r="0.85"/><circle cx="276.6" cy="113.7" r="0.85"/><circle cx="305.4" cy="117" r="0.85"/><circle cx="290.5" cy="111.9" r="0.85"/><circle cx="319.5" cy="109" r="0.85"/><circle cx="285.3" cy="117.2" r="0.85"/><circle cx="342.5" cy="111.5" r="0.85"/><circle cx="346.1" cy="111.9" r="0.85"/><circle cx="290.3" cy="119.4" r="0.85"/><circle cx="287.4" cy="118.7" r="0.85"/><circle cx="371.4" cy="112.3" r="0.85"/><circle cx="278.3" cy="111.5" r="0.85"/><circle cx="308.9" cy="118.6" r="0.85"/><circle cx="344.2" cy="110" r="0.85"/><circle cx="270.4" cy="120.3" r="0.85"/><circle cx="314.4" cy="118.9" r="0.85"/><circle cx="317.8" cy="117.3" r="0.85"/><circle cx="347.9" cy="118.8" r="0.85"/><circle cx="321.8" cy="108.1" r="0.85"/><circle cx="356.9" cy="111" r="0.85"/><circle cx="324.1" cy="110.4" r="0.85"/><circle cx="334.4" cy="117.8" r="0.85"/><circle cx="298.7" cy="115.2" r="0.85"/><circle cx="364.5" cy="115.5" r="0.85"/><circle cx="347.7" cy="111.4" r="0.85"/><circle cx="336.7" cy="120.4" r="0.85"/><circle cx="305.1" cy="117.6" r="0.85"/><circle cx="309.4" cy="113.1" r="0.85"/><circle cx="364.6" cy="108.8" r="0.85"/><circle cx="364.4" cy="112" r="0.85"/><circle cx="322.3" cy="112" r="0.85"/><circle cx="270.3" cy="118.3" r="0.85"/><circle cx="310.5" cy="110.7" r="0.85"/><circle cx="366.4" cy="119.7" r="0.85"/><circle cx="278.6" cy="113.6" r="0.85"/><circle cx="318.8" cy="114" r="0.85"/><circle cx="339.9" cy="119.5" r="0.85"/><circle cx="338.5" cy="114.3" r="0.85"/><circle cx="304.2" cy="114.9" r="0.85"/><circle cx="313.4" cy="119.6" r="0.85"/><circle cx="357.4" cy="119.6" r="0.85"/><circle cx="340.4" cy="113.5" r="0.85"/><circle cx="300.5" cy="117.3" r="0.85"/><circle cx="292.9" cy="117.5" r="0.85"/><circle cx="271.8" cy="117.4" r="0.85"/><circle cx="356" cy="111.1" r="0.85"/><circle cx="295.5" cy="119.8" r="0.85"/><circle cx="295.3" cy="115.1" r="0.85"/><circle cx="284" cy="112.6" r="0.85"/><circle cx="290.5" cy="119.3" r="0.85"/><circle cx="327.6" cy="109.2" r="0.85"/><circle cx="303.5" cy="114.3" r="0.85"/><circle cx="362.9" cy="110.8" r="0.85"/><circle cx="366.9" cy="117.6" r="0.85"/><circle cx="304.9" cy="118.6" r="0.85"/><circle cx="283.4" cy="118.5" r="0.85"/><circle cx="347.3" cy="114.4" r="0.85"/><circle cx="324.6" cy="119.3" r="0.85"/><circle cx="270.5" cy="116.8" r="0.85"/><circle cx="292.7" cy="112.4" r="0.85"/><circle cx="347" cy="115.2" r="0.85"/><circle cx="278.2" cy="111.8" r="0.85"/><circle cx="372.5" cy="108" r="0.85"/><circle cx="370.2" cy="115.7" r="0.85"/><circle cx="319.9" cy="113.4" r="0.85"/><circle cx="309.8" cy="117.7" r="0.85"/><circle cx="318.8" cy="106.8" r="0.85"/><circle cx="323.8" cy="114.3" r="0.85"/><circle cx="303.7" cy="113.2" r="0.85"/><circle cx="283.5" cy="111.8" r="0.85"/><circle cx="279.1" cy="115.8" r="0.85"/><circle cx="287.6" cy="113.9" r="0.85"/><circle cx="287.6" cy="120.5" r="0.85"/><circle cx="362.8" cy="117.5" r="0.85"/><circle cx="345.1" cy="119.6" r="0.85"/><circle cx="363.3" cy="111.1" r="0.85"/><circle cx="297.6" cy="112.6" r="0.85"/><circle cx="313" cy="108.3" r="0.85"/><circle cx="313.3" cy="114.1" r="0.85"/><circle cx="361.5" cy="118.9" r="0.85"/><circle cx="302.3" cy="119.6" r="0.85"/><circle cx="347.6" cy="110.1" r="0.85"/><circle cx="291.4" cy="120.5" r="0.85"/><circle cx="298.3" cy="114.9" r="0.85"/><circle cx="357.6" cy="116.8" r="0.85"/><circle cx="273.7" cy="116.8" r="0.85"/><circle cx="301.3" cy="114.1" r="0.85"/><circle cx="332.8" cy="115.5" r="0.85"/><circle cx="296.8" cy="111.6" r="0.85"/><circle cx="276.6" cy="119.3" r="0.85"/><circle cx="339" cy="120.1" r="0.85"/><circle cx="278" cy="113.9" r="0.85"/><circle cx="293.3" cy="118.8" r="0.85"/><circle cx="296.8" cy="115.5" r="0.85"/><circle cx="289" cy="114.6" r="0.85"/><circle cx="366" cy="120" r="0.85"/><circle cx="349.5" cy="114.5" r="0.85"/><circle cx="366.1" cy="118.8" r="0.85"/><circle cx="364.7" cy="111.4" r="0.85"/><circle cx="301.9" cy="119.3" r="0.85"/><circle cx="326" cy="119.5" r="0.85"/><circle cx="281.2" cy="119.2" r="0.85"/><circle cx="276" cy="119.6" r="0.85"/><circle cx="342.7" cy="120" r="0.85"/><circle cx="299.4" cy="113.8" r="0.85"/><circle cx="343.5" cy="114.4" r="0.85"/><circle cx="355.8" cy="113.2" r="0.85"/><circle cx="273.7" cy="112" r="0.85"/><circle cx="352.7" cy="119.3" r="0.85"/><circle cx="369.8" cy="117.7" r="0.85"/><circle cx="342.9" cy="119.3" r="0.85"/><circle cx="344.7" cy="113.1" r="0.85"/><circle cx="311.4" cy="108.6" r="0.85"/><circle cx="322.1" cy="112.6" r="0.85"/><circle cx="303.4" cy="112.1" r="0.85"/><circle cx="368.2" cy="116.6" r="0.85"/><circle cx="366.5" cy="111.9" r="0.85"/><circle cx="308.7" cy="114.4" r="0.85"/><circle cx="325.5" cy="111.7" r="0.85"/><circle cx="334.8" cy="115.4" r="0.85"/><circle cx="294.3" cy="116" r="0.85"/><circle cx="335.9" cy="115.5" r="0.85"/><circle cx="286.7" cy="117.4" r="0.85"/><circle cx="318.2" cy="119.4" r="0.85"/><circle cx="303.5" cy="120.4" r="0.85"/><circle cx="300.7" cy="114.1" r="0.85"/><circle cx="314.1" cy="116.4" r="0.85"/><circle cx="340.8" cy="116.3" r="0.85"/><circle cx="300.6" cy="120.1" r="0.85"/><circle cx="318.3" cy="111.7" r="0.85"/><circle cx="298.3" cy="116.6" r="0.85"/><circle cx="286.4" cy="115.9" r="0.85"/><circle cx="356.3" cy="118" r="0.85"/><circle cx="339" cy="112" r="0.85"/><circle cx="270.7" cy="117.6" r="0.85"/><circle cx="363.7" cy="117.8" r="0.85"/><circle cx="368.2" cy="119.2" r="0.85"/><circle cx="272.8" cy="116.7" r="0.85"/><circle cx="302" cy="111.8" r="0.85"/><circle cx="332" cy="118.9" r="0.85"/><circle cx="305.6" cy="120.4" r="0.85"/><circle cx="325.8" cy="108" r="0.85"/><circle cx="315.3" cy="107.2" r="0.85"/><circle cx="343.7" cy="110.1" r="0.85"/><circle cx="330.4" cy="110.1" r="0.85"/><circle cx="341.8" cy="115.7" r="0.85"/><circle cx="297" cy="115.1" r="0.85"/><circle cx="325.7" cy="117.6" r="0.85"/><circle cx="329.8" cy="115.5" r="0.85"/><circle cx="290.3" cy="119.5" r="0.85"/><circle cx="338.3" cy="116.2" r="0.85"/><circle cx="320.7" cy="106" r="0.85"/><circle cx="300.6" cy="113.9" r="0.85"/><circle cx="350.8" cy="111.8" r="0.85"/><circle cx="274.6" cy="120.2" r="0.85"/><circle cx="354.6" cy="111.5" r="0.85"/><circle cx="358" cy="113.1" r="0.85"/><circle cx="298.7" cy="112.2" r="0.85"/><circle cx="320.3" cy="113.2" r="0.85"/><circle cx="316.8" cy="115.2" r="0.85"/><circle cx="296.3" cy="116.5" r="0.85"/><circle cx="284" cy="115.8" r="0.85"/><circle cx="297.9" cy="111.8" r="0.85"/><circle cx="276.8" cy="118.4" r="0.85"/><circle cx="281.6" cy="118.3" r="0.85"/><circle cx="363.5" cy="116.4" r="0.85"/><circle cx="328" cy="115.5" r="0.85"/><circle cx="276.6" cy="119" r="0.85"/><circle cx="311.8" cy="112.3" r="0.85"/><circle cx="330.3" cy="113.1" r="0.85"/><circle cx="304.1" cy="113.4" r="0.85"/><circle cx="321.7" cy="120.1" r="0.85"/><circle cx="307.8" cy="116.5" r="0.85"/><circle cx="291.1" cy="114.1" r="0.85"/><circle cx="274.8" cy="115" r="0.85"/><circle cx="367.8" cy="114.4" r="0.85"/><circle cx="295.4" cy="118.2" r="0.85"/><circle cx="352" cy="115.1" r="0.85"/><circle cx="357.7" cy="114.4" r="0.85"/><circle cx="350.6" cy="115.7" r="0.85"/><circle cx="335.5" cy="115.7" r="0.85"/><circle cx="327.3" cy="119.4" r="0.85"/><circle cx="302.1" cy="113" r="0.85"/><circle cx="336.4" cy="117.6" r="0.85"/><circle cx="324.4" cy="112.8" r="0.85"/><circle cx="346.9" cy="109.5" r="0.85"/><circle cx="285.3" cy="119.9" r="0.85"/><circle cx="303.5" cy="112.5" r="0.85"/><circle cx="324.6" cy="116.8" r="0.85"/><circle cx="306.8" cy="120.4" r="0.85"/><circle cx="280" cy="119.4" r="0.85"/><circle cx="294.5" cy="119.4" r="0.85"/><circle cx="329.2" cy="111.1" r="0.85"/><circle cx="306.3" cy="118.6" r="0.85"/><circle cx="290.7" cy="113.5" r="0.85"/><circle cx="282.2" cy="118" r="0.85"/><circle cx="312" cy="119.5" r="0.85"/><circle cx="364.9" cy="118.9" r="0.85"/><circle cx="367.6" cy="115.5" r="0.85"/><circle cx="349.9" cy="113.4" r="0.85"/><circle cx="327.6" cy="117.5" r="0.85"/><circle cx="282" cy="120.1" r="0.85"/><circle cx="366" cy="109.3" r="0.85"/><circle cx="314.5" cy="117" r="0.85"/><circle cx="271.8" cy="120" r="0.85"/><circle cx="298.1" cy="120" r="0.85"/><circle cx="283.3" cy="114.9" r="0.85"/><circle cx="372" cy="120.3" r="0.85"/><circle cx="273.4" cy="116.1" r="0.85"/><circle cx="345.8" cy="113" r="0.85"/><circle cx="301.1" cy="112.7" r="0.85"/><circle cx="293.1" cy="119.2" r="0.85"/><circle cx="322.6" cy="116" r="0.85"/><circle cx="329.5" cy="117.7" r="0.85"/><circle cx="328.9" cy="119.1" r="0.85"/><circle cx="293.6" cy="119.7" r="0.85"/><circle cx="309" cy="114.3" r="0.85"/><circle cx="310.8" cy="112.6" r="0.85"/><circle cx="356.5" cy="114.2" r="0.85"/><circle cx="299.9" cy="114.9" r="0.85"/><circle cx="338.4" cy="114.1" r="0.85"/><circle cx="370.9" cy="108.7" r="0.85"/><circle cx="347.6" cy="114.8" r="0.85"/><circle cx="313.9" cy="116.1" r="0.85"/><circle cx="321.1" cy="109.4" r="0.85"/><circle cx="353.4" cy="119.7" r="0.85"/><circle cx="309.4" cy="110.6" r="0.85"/><circle cx="367.1" cy="112.4" r="0.85"/><circle cx="297" cy="115.9" r="0.85"/><circle cx="293.1" cy="117.3" r="0.85"/><circle cx="348.6" cy="115" r="0.85"/><circle cx="293.2" cy="119" r="0.85"/><circle cx="296" cy="117.3" r="0.85"/><circle cx="370.7" cy="120.4" r="0.85"/><circle cx="270.6" cy="116" r="0.85"/><circle cx="278.3" cy="120.2" r="0.85"/><circle cx="273.8" cy="119.6" r="0.85"/><circle cx="324.4" cy="119.4" r="0.85"/><circle cx="334.4" cy="118.1" r="0.85"/><circle cx="297.8" cy="120" r="0.85"/><circle cx="327.5" cy="117" r="0.85"/><circle cx="286.4" cy="120.1" r="0.85"/><circle cx="316.9" cy="119.3" r="0.85"/><circle cx="323.9" cy="111.1" r="0.85"/><circle cx="272.1" cy="111.6" r="0.85"/><circle cx="370.2" cy="116.4" r="0.85"/><circle cx="360.5" cy="117" r="0.85"/><circle cx="309.5" cy="119.9" r="0.85"/><circle cx="320.5" cy="107.3" r="0.85"/><circle cx="309.5" cy="117.4" r="0.85"/><circle cx="294" cy="120.3" r="0.85"/><circle cx="314" cy="118.3" r="0.85"/><circle cx="305.4" cy="117.7" r="0.85"/><circle cx="327.2" cy="118.4" r="0.85"/><circle cx="352.9" cy="108.4" r="0.85"/><circle cx="315.5" cy="102.5" r="0.85"/><circle cx="317.2" cy="104.9" r="0.85"/><circle cx="356" cy="108.2" r="0.85"/><circle cx="303.2" cy="110.1" r="0.85"/><circle cx="370" cy="108" r="0.85"/><circle cx="357.7" cy="108.3" r="0.85"/><circle cx="305.6" cy="105.3" r="0.85"/><circle cx="339.3" cy="108.9" r="0.85"/><circle cx="364.7" cy="108" r="0.85"/><circle cx="328.7" cy="107.3" r="0.85"/><circle cx="316.8" cy="104.3" r="0.85"/><circle cx="355.9" cy="108.3" r="0.85"/><circle cx="307.3" cy="104.5" r="0.85"/><circle cx="361.7" cy="108.1" r="0.85"/><circle cx="292.1" cy="109.4" r="0.85"/><circle cx="276.8" cy="109.5" r="0.85"/><circle cx="353.5" cy="108.3" r="0.85"/><circle cx="302.9" cy="108.1" r="0.85"/><circle cx="275.9" cy="109.2" r="0.85"/><circle cx="332.2" cy="109.4" r="0.85"/><circle cx="303.2" cy="108.3" r="0.85"/><circle cx="333" cy="108.5" r="0.85"/><circle cx="295.6" cy="109.4" r="0.85"/><circle cx="340.5" cy="108.8" r="0.85"/><circle cx="366" cy="108.1" r="0.85"/><circle cx="344.6" cy="108.2" r="0.85"/><circle cx="332.6" cy="109.4" r="0.85"/><circle cx="298.1" cy="109.8" r="0.85"/><circle cx="347.9" cy="108.2" r="0.85"/><circle cx="290.4" cy="110.4" r="0.85"/><circle cx="295" cy="109.7" r="0.85"/><circle cx="348.4" cy="108.3" r="0.85"/><circle cx="355.4" cy="108.3" r="0.85"/><circle cx="345.5" cy="108.4" r="0.85"/><circle cx="296.8" cy="110.7" r="0.85"/><circle cx="275" cy="110.1" r="0.85"/><circle cx="343.1" cy="108.6" r="0.85"/><circle cx="315.4" cy="102.5" r="0.85"/><circle cx="318" cy="104.5" r="0.85"/><circle cx="354.5" cy="108.1" r="0.85"/><circle cx="310.2" cy="107" r="0.85"/><circle cx="318.5" cy="104.4" r="0.85"/><circle cx="361.7" cy="108.1" r="0.85"/><circle cx="353.2" cy="108.2" r="0.85"/><circle cx="299.8" cy="110.5" r="0.85"/><circle cx="352" cy="108.2" r="0.85"/><circle cx="348.7" cy="108.4" r="0.85"/><circle cx="314.6" cy="103.3" r="0.85"/><circle cx="281.9" cy="110.8" r="0.85"/><circle cx="343.4" cy="108.3" r="0.85"/><circle cx="329.4" cy="107.8" r="0.85"/><circle cx="304.4" cy="110.5" r="0.85"/><circle cx="353.1" cy="108.2" r="0.85"/><circle cx="319.5" cy="103" r="0.85"/><circle cx="330.9" cy="108.1" r="0.85"/><circle cx="353.4" cy="108.2" r="0.85"/><circle cx="337.1" cy="108.3" r="0.85"/><circle cx="323.3" cy="105" r="0.85"/><circle cx="299.3" cy="110.7" r="0.85"/><circle cx="269" cy="109.1" r="0.85"/><circle cx="289.4" cy="110.5" r="0.85"/><circle cx="369.3" cy="108.1" r="0.85"/><circle cx="296.4" cy="110.7" r="0.85"/><circle cx="273.2" cy="110.5" r="0.85"/><circle cx="281.4" cy="110" r="0.85"/><circle cx="351.1" cy="108.3" r="0.85"/><circle cx="370.6" cy="108" r="0.85"/><circle cx="297.4" cy="110.6" r="0.85"/><circle cx="280.7" cy="110.7" r="0.85"/><circle cx="352.9" cy="102" r="0.85"/><circle cx="332.2" cy="106.2" r="0.85"/><circle cx="335.3" cy="104.3" r="0.85"/><circle cx="328.2" cy="99.9" r="0.85"/><circle cx="277.4" cy="108.9" r="0.85"/><circle cx="317.2" cy="100.9" r="0.85"/><circle cx="276.7" cy="108.9" r="0.85"/><circle cx="360.2" cy="105" r="0.85"/><circle cx="325.7" cy="99.4" r="0.85"/><circle cx="327.2" cy="105.9" r="0.85"/><circle cx="321.7" cy="102.8" r="0.85"/><circle cx="333.2" cy="104.9" r="0.85"/><circle cx="304.3" cy="120.2" r="0.85"/><circle cx="351.8" cy="118.9" r="0.85"/><circle cx="358.4" cy="120.3" r="0.85"/><circle cx="272.9" cy="119.3" r="0.85"/><circle cx="305" cy="119.8" r="0.85"/><circle cx="364.2" cy="120.2" r="0.85"/><circle cx="370.2" cy="120" r="0.85"/><circle cx="359.1" cy="119.1" r="0.85"/><circle cx="342.3" cy="120.3" r="0.85"/><circle cx="363.6" cy="119.8" r="0.85"/><circle cx="310.3" cy="119.3" r="0.85"/><circle cx="294.7" cy="120.3" r="0.85"/><circle cx="326.8" cy="120.3" r="0.85"/><circle cx="298.5" cy="119.9" r="0.85"/><circle cx="331.3" cy="120.4" r="0.85"/><circle cx="315.3" cy="120.3" r="0.85"/><circle cx="368.2" cy="120.1" r="0.85"/><circle cx="367.8" cy="119.8" r="0.85"/><circle cx="368.3" cy="119.7" r="0.85"/><circle cx="297.3" cy="119" r="0.85"/><circle cx="348.4" cy="119.9" r="0.85"/><circle cx="279.5" cy="119.7" r="0.85"/><circle cx="341.9" cy="119.7" r="0.85"/><circle cx="300.1" cy="120.3" r="0.85"/><circle cx="281.2" cy="119.1" r="0.85"/><circle cx="372.6" cy="120" r="0.85"/><circle cx="292.4" cy="119.4" r="0.85"/><circle cx="352.8" cy="120.1" r="0.85"/><circle cx="367.7" cy="119.2" r="0.85"/><circle cx="358" cy="120.3" r="0.85"/><circle cx="299.7" cy="119.7" r="0.85"/><circle cx="290.4" cy="119.9" r="0.85"/><circle cx="333.5" cy="120.3" r="0.85"/><circle cx="349.4" cy="119.6" r="0.85"/><circle cx="370.8" cy="119.2" r="0.85"/><circle cx="366.4" cy="119.3" r="0.85"/><circle cx="361.1" cy="119.4" r="0.85"/><circle cx="324.4" cy="120.1" r="0.85"/><circle cx="353.7" cy="119.2" r="0.85"/><circle cx="356.3" cy="119.5" r="0.85"/><circle cx="355.9" cy="119.7" r="0.85"/><circle cx="337.1" cy="119.4" r="0.85"/><circle cx="276" cy="120.3" r="0.85"/><circle cx="354.6" cy="119.5" r="0.85"/><circle cx="282.6" cy="119.9" r="0.85"/><circle cx="319.5" cy="120.3" r="0.85"/><circle cx="331.7" cy="120.1" r="0.85"/><circle cx="330.2" cy="119.2" r="0.85"/><circle cx="288.3" cy="120.4" r="0.85"/><circle cx="352.7" cy="119.6" r="0.85"/><circle cx="307.3" cy="119.7" r="0.85"/><circle cx="340.7" cy="120.5" r="0.85"/><circle cx="277.3" cy="120" r="0.85"/><circle cx="372.3" cy="120.4" r="0.85"/><circle cx="305.1" cy="119.6" r="0.85"/><circle cx="283.5" cy="120.1" r="0.85"/><circle cx="303.7" cy="119" r="0.85"/><circle cx="332.7" cy="120" r="0.85"/><circle cx="364.7" cy="120.1" r="0.85"/><circle cx="295.1" cy="119" r="0.85"/><circle cx="350.3" cy="119.7" r="0.85"/><circle cx="333.4" cy="119.7" r="0.85"/><circle cx="354.4" cy="119.9" r="0.85"/><circle cx="310.8" cy="119.9" r="0.85"/><circle cx="368.1" cy="120.4" r="0.85"/><circle cx="310.6" cy="119.6" r="0.85"/><circle cx="315.8" cy="119.5" r="0.85"/><circle cx="272.8" cy="120.4" r="0.85"/><circle cx="355.5" cy="119" r="0.85"/><circle cx="298.4" cy="119" r="0.85"/><circle cx="348.4" cy="119.2" r="0.85"/><circle cx="274.1" cy="119.2" r="0.85"/><circle cx="368.2" cy="120.2" r="0.85"/><circle cx="319.8" cy="120.4" r="0.85"/><circle cx="300.3" cy="119.8" r="0.85"/><circle cx="290.6" cy="120.2" r="0.85"/><circle cx="269.1" cy="118.9" r="0.85"/><circle cx="275.7" cy="119.8" r="0.85"/><circle cx="317.3" cy="119.8" r="0.85"/><circle cx="344.7" cy="120.1" r="0.85"/><circle cx="286.5" cy="118.9" r="0.85"/><circle cx="297.6" cy="120.5" r="0.85"/><circle cx="288.4" cy="120" r="0.85"/><circle cx="282.7" cy="119" r="0.85"/><circle cx="319.3" cy="119.6" r="0.85"/><circle cx="365.4" cy="118.9" r="0.85"/><circle cx="303.8" cy="120.5" r="0.85"/><circle cx="335.2" cy="119.4" r="0.85"/><circle cx="359.2" cy="119.4" r="0.85"/><circle cx="290.5" cy="120.3" r="0.85"/><circle cx="277.9" cy="120" r="0.85"/><circle cx="367.1" cy="120" r="0.85"/><circle cx="372.2" cy="119.5" r="0.85"/><circle cx="337.6" cy="119.9" r="0.85"/><circle cx="346.8" cy="120.1" r="0.85"/><circle cx="291" cy="119.9" r="0.85"/><circle cx="342.4" cy="120.1" r="0.85"/><circle cx="289.2" cy="120.3" r="0.85"/><circle cx="340.2" cy="119.8" r="0.85"/><circle cx="296.9" cy="120.4" r="0.85"/><circle cx="340.9" cy="120.5" r="0.85"/><circle cx="337.1" cy="120.1" r="0.85"/><circle cx="368.4" cy="119.6" r="0.85"/><circle cx="331.2" cy="119" r="0.85"/><circle cx="360.5" cy="120.4" r="0.85"/><circle cx="323" cy="119.6" r="0.85"/><circle cx="279.5" cy="119" r="0.85"/><circle cx="299.6" cy="119.2" r="0.85"/><circle cx="328.8" cy="120.5" r="0.85"/><circle cx="269.6" cy="120" r="0.85"/><circle cx="283.7" cy="97.5" r="0.85"/><circle cx="287.7" cy="99.1" r="0.85"/><circle cx="281.2" cy="101.5" r="0.85"/><circle cx="294.1" cy="100.7" r="0.85"/><circle cx="298.9" cy="99.1" r="0.85"/><circle cx="294.9" cy="104.7" r="0.85"/><circle cx="303.7" cy="104.7" r="0.85"/><circle cx="331.3" cy="82.5" r="0.85"/><circle cx="334.7" cy="81.7" r="0.85"/><circle cx="338.8" cy="80" r="0.85"/><circle cx="344.7" cy="78.3" r="0.85"/><circle cx="343" cy="85.8" r="0.85"/><circle cx="347.2" cy="83.3" r="0.85"/><circle cx="348" cy="90" r="0.85"/><circle cx="351.3" cy="92.5" r="0.85"/><circle cx="356.3" cy="90" r="0.85"/><circle cx="359.7" cy="87.5" r="0.85"/><circle cx="361.3" cy="90.8" r="0.85"/><circle cx="366.3" cy="91.7" r="0.85"/><circle cx="370.5" cy="91.7" r="0.85"/><circle cx="329.7" cy="90" r="0.85"/><circle cx="334.7" cy="92.5" r="0.85"/><circle cx="333" cy="97.5" r="0.85"/><circle cx="329.7" cy="100.8" r="0.85"/><circle cx="353" cy="98.3" r="0.85"/><circle cx="358" cy="100.8" r="0.85"/><circle cx="353.8" cy="104.2" r="0.85"/><circle cx="333.7" cy="82" r="0.85"/><circle cx="339.3" cy="79.3" r="0.85"/><circle cx="345" cy="78.5" r="0.85"/><circle cx="346.5" cy="83.3" r="0.85"/><circle cx="343.3" cy="86.5" r="0.85"/><circle cx="329.7" cy="88.2" r="0.85"/><circle cx="332" cy="81.5" r="0.85"/><circle cx="336" cy="81" r="0.85"/><circle cx="340" cy="80.5" r="0.85"/><circle cx="350" cy="94" r="0.85"/><circle cx="362" cy="95" r="0.85"/><circle cx="368" cy="97" r="0.85"/><circle cx="340" cy="95" r="0.85"/><circle cx="345" cy="100" r="0.85"/><circle cx="317.6" cy="100.6" r="0.85"/><circle cx="317.1" cy="106" r="0.85"/><circle cx="317.7" cy="102.9" r="0.85"/><circle cx="316.8" cy="101.6" r="0.85"/><circle cx="311.8" cy="100.1" r="0.85"/><circle cx="316" cy="103.6" r="0.85"/><circle cx="311.3" cy="105.6" r="0.85"/><circle cx="317.2" cy="102.3" r="0.85"/><circle cx="312.5" cy="103.1" r="0.85"/><circle cx="312.9" cy="101" r="0.85"/><circle cx="311" cy="104" r="0.85"/><circle cx="311.8" cy="105.1" r="0.85"/><circle cx="317.8" cy="105.9" r="0.85"/><circle cx="310.5" cy="100.6" r="0.85"/><circle cx="348.7" cy="84.6" r="0.85"/><circle cx="360.3" cy="90.1" r="0.85"/><circle cx="350.9" cy="92.5" r="0.85"/><circle cx="356.6" cy="91.8" r="0.85"/><circle cx="360.8" cy="88.4" r="0.85"/><circle cx="333.9" cy="81.8" r="0.85"/><circle cx="346" cy="77.4" r="0.85"/><circle cx="349.9" cy="90.5" r="0.85"/><circle cx="344.8" cy="79.3" r="0.85"/><circle cx="335.7" cy="79.9" r="0.85"/><circle cx="349.4" cy="88" r="0.85"/><circle cx="338.7" cy="79.2" r="0.85"/><circle cx="354.2" cy="91.4" r="0.85"/><circle cx="365.6" cy="92.3" r="0.85"/><circle cx="359.8" cy="88.6" r="0.85"/><circle cx="346.5" cy="83.5" r="0.85"/><circle cx="354.6" cy="89" r="0.85"/><circle cx="367.9" cy="90.9" r="0.85"/><circle cx="346.7" cy="81.5" r="0.85"/><circle cx="332.2" cy="81.4" r="0.85"/><circle cx="352.2" cy="92.3" r="0.85"/><circle cx="354.4" cy="89.7" r="0.85"/><circle cx="364.9" cy="91.7" r="0.85"/><circle cx="347.6" cy="82.4" r="0.85"/><circle cx="353.2" cy="93.2" r="0.85"/><circle cx="332.8" cy="98.4" r="0.85"/><circle cx="333.4" cy="96.9" r="0.85"/><circle cx="331.2" cy="99.1" r="0.85"/><circle cx="331.5" cy="98.7" r="0.85"/><circle cx="333.6" cy="96" r="0.85"/><circle cx="334" cy="92.5" r="0.85"/><circle cx="333.6" cy="91.8" r="0.85"/><circle cx="330.7" cy="100.3" r="0.85"/><circle cx="355.8" cy="101" r="0.85"/><circle cx="354.8" cy="99.3" r="0.85"/><circle cx="357.4" cy="101.8" r="0.85"/><circle cx="356.4" cy="102.7" r="0.85"/><circle cx="355.1" cy="102.6" r="0.85"/><circle cx="355.4" cy="103.6" r="0.85"/><circle cx="339.4" cy="89.9" r="0.85"/><circle cx="338.8" cy="99.6" r="0.85"/><circle cx="329.6" cy="89.3" r="0.85"/><circle cx="328" cy="90.7" r="0.85"/><circle cx="337.9" cy="89.5" r="0.85"/><circle cx="334.9" cy="99.4" r="0.85"/><circle cx="337.6" cy="96.5" r="0.85"/><circle cx="327" cy="100" r="0.85"/><circle cx="326.6" cy="96.8" r="0.85"/><circle cx="327" cy="89.2" r="0.85"/></g>
<g fill="#87cefa" stroke="#5a8fb0" stroke-width="0.3"><circle cx="311.2" cy="90.4" r="0.9"/><circle cx="312.7" cy="89.6" r="0.9"/><circle cx="314.4" cy="90.1" r="0.9"/><circle cx="310.8" cy="89.6" r="0.9"/><circle cx="311.9" cy="89.5" r="0.9"/><circle cx="312.6" cy="95.6" r="0.9"/><circle cx="317.6" cy="99.4" r="0.9"/><circle cx="317.7" cy="99.7" r="0.9"/><circle cx="318.5" cy="96.8" r="0.9"/><circle cx="321.3" cy="99.6" r="0.9"/><circle cx="320.3" cy="97.8" r="0.9"/><circle cx="322.3" cy="99.7" r="0.9"/><circle cx="318.9" cy="97" r="0.9"/><circle cx="318.2" cy="97.5" r="0.9"/></g>
<g fill="#00ee00" stroke="#0a8a0a" stroke-width="0.3"><circle cx="320.5" cy="72.9" r="0.9"/><circle cx="316" cy="78" r="0.9"/><circle cx="317.3" cy="83.7" r="0.9"/><circle cx="317.6" cy="84" r="0.9"/><circle cx="325.6" cy="99.6" r="0.9"/><circle cx="318.4" cy="89.9" r="0.9"/><circle cx="321.3" cy="89.3" r="0.9"/><circle cx="325.2" cy="87.2" r="0.9"/><circle cx="321.5" cy="89.3" r="0.9"/><circle cx="320.2" cy="89.4" r="0.9"/><circle cx="321.1" cy="88.1" r="0.9"/><circle cx="322.3" cy="88.3" r="0.9"/><circle cx="323.8" cy="88" r="0.9"/><circle cx="319.8" cy="93" r="0.9"/><circle cx="320.1" cy="94.4" r="0.9"/><circle cx="318.6" cy="93.1" r="0.9"/><circle cx="321.3" cy="94.3" r="0.9"/><circle cx="321.2" cy="94" r="0.9"/><circle cx="318.8" cy="93" r="0.9"/><circle cx="322.5" cy="96" r="0.9"/><circle cx="322.5" cy="95.7" r="0.9"/></g>
<g fill="#ffa500" stroke="#b87400" stroke-width="0.3"><circle cx="318" cy="63" r="0.9"/></g>
<g fill="#ff0000" stroke="#5a0000" stroke-width="0.3"><circle cx="321" cy="59.5" r="0.9"/><circle cx="319.3" cy="61.1" r="0.9"/><circle cx="317" cy="60.4" r="0.9"/><circle cx="321.5" cy="56.3" r="0.9"/><circle cx="322.3" cy="56" r="0.9"/><circle cx="324.6" cy="54.8" r="0.9"/><circle cx="324.8" cy="54.6" r="0.9"/><circle cx="321.1" cy="59.3" r="0.9"/><circle cx="316.6" cy="60.1" r="0.9"/><circle cx="324.7" cy="55.2" r="0.9"/><circle cx="324.9" cy="57" r="0.9"/><circle cx="323.6" cy="55.7" r="0.9"/><circle cx="319" cy="58.1" r="0.9"/><circle cx="320.8" cy="57.4" r="0.9"/><circle cx="320.1" cy="58.7" r="0.9"/><circle cx="321.5" cy="58.3" r="0.9"/><circle cx="323.4" cy="56.5" r="0.9"/><circle cx="318.3" cy="61.6" r="0.9"/><circle cx="320" cy="58.2" r="0.9"/><circle cx="322.8" cy="55.8" r="0.9"/><circle cx="321.3" cy="56.7" r="0.9"/><circle cx="320.9" cy="56.2" r="0.9"/><circle cx="325.2" cy="64.1" r="0.9"/></g>
<path d="M323.8 50.3L325.1 51.6L323.8 52.9L322.5 51.6Z" fill="#7b3fd6" stroke="#4a2090" stroke-width="0.4"/>
<rect x="268.2" y="28.3" width="105.5" height="96.3" fill="none" stroke="#666" stroke-width="0.8"/>
<text x="309.6" y="49.4" font-size="5.6" textLength="31.8" lengthAdjust="spacingAndGlyphs" fill="#3a3a3a">rs13234970</text>
<rect x="268.4" y="128.1" width="105.4" height="4.4" fill="#fff" stroke="#666" stroke-width="0.6"/>
<text x="306.2" y="130.5" font-size="2.6" textLength="16" lengthAdjust="spacingAndGlyphs" fill="#3a3a3a">TMEM106B</text>
<text x="324.8" y="130.5" font-size="2.6" textLength="2.5" lengthAdjust="spacingAndGlyphs" fill="#5060b0">→</text>
<text x="345.3" y="130.5" font-size="2.6" textLength="2" lengthAdjust="spacingAndGlyphs" fill="#5060b0">←</text>
<text x="348.4" y="130.5" font-size="2.6" textLength="10" lengthAdjust="spacingAndGlyphs" fill="#3a3a3a">VWDE</text>
<line x1="314.2" y1="131.6" x2="319.9" y2="131.6" stroke="#1a1a9a" stroke-width="0.3"/>
<rect x="314.43" y="131.1" width="1.44" height="1" fill="#1a1a9a"/>
<rect x="316.33" y="131.1" width="1.44" height="1" fill="#1a1a9a"/>
<rect x="318.23" y="131.1" width="1.44" height="1" fill="#1a1a9a"/>
<line x1="344.1" y1="131.6" x2="359.8" y2="131.6" stroke="#1a1a9a" stroke-width="0.3"/>
<rect x="344.37" y="131.1" width="1.70" height="1" fill="#1a1a9a"/>
<rect x="346.61" y="131.1" width="1.70" height="1" fill="#1a1a9a"/>
<rect x="348.85" y="131.1" width="1.70" height="1" fill="#1a1a9a"/>
<rect x="351.10" y="131.1" width="1.70" height="1" fill="#1a1a9a"/>
<rect x="353.34" y="131.1" width="1.70" height="1" fill="#1a1a9a"/>
<rect x="355.58" y="131.1" width="1.70" height="1" fill="#1a1a9a"/>
<rect x="357.83" y="131.1" width="1.70" height="1" fill="#1a1a9a"/>
<line x1="288.5" y1="132.5" x2="288.5" y2="134.8" stroke="#555" stroke-width="0.5"/>
<text x="288.5" y="143.9" font-size="7.1" text-anchor="middle" textLength="9.6" lengthAdjust="spacingAndGlyphs" fill="#2a2a2a">12.1</text>
<line x1="308.4" y1="132.5" x2="308.4" y2="134.8" stroke="#555" stroke-width="0.5"/>
<text x="308.4" y="143.9" font-size="7.1" text-anchor="middle" textLength="9.6" lengthAdjust="spacingAndGlyphs" fill="#2a2a2a">12.2</text>
<line x1="328.4" y1="132.5" x2="328.4" y2="134.8" stroke="#555" stroke-width="0.5"/>
<text x="328.4" y="143.9" font-size="7.1" text-anchor="middle" textLength="9.6" lengthAdjust="spacingAndGlyphs" fill="#2a2a2a">12.3</text>
<line x1="348.4" y1="132.5" x2="348.4" y2="134.8" stroke="#555" stroke-width="0.5"/>
<text x="348.4" y="143.9" font-size="7.1" text-anchor="middle" textLength="9.6" lengthAdjust="spacingAndGlyphs" fill="#2a2a2a">12.4</text>
<line x1="368.3" y1="132.5" x2="368.3" y2="134.8" stroke="#555" stroke-width="0.5"/>
<text x="368.3" y="143.9" font-size="7.1" text-anchor="middle" textLength="9.6" lengthAdjust="spacingAndGlyphs" fill="#2a2a2a">12.5</text>
<text x="321.2" y="155.3" font-size="7.2" text-anchor="middle" textLength="72.2" lengthAdjust="spacingAndGlyphs">Position on chr7 (Mb)</text>
<text x="394.9" y="9.2" font-size="13.5" font-weight="bold" textLength="8.3" lengthAdjust="spacingAndGlyphs" fill="#000">c</text>
<text x="420.3" y="18.6" font-size="7.4" text-anchor="end" textLength="24" lengthAdjust="spacingAndGlyphs">Plotted</text>
<text x="420.3" y="27.4" font-size="7.4" text-anchor="end" textLength="17.2" lengthAdjust="spacingAndGlyphs">SNPs</text>
<text x="476.5" y="18.4" font-size="7.4" text-anchor="middle" textLength="57.8" lengthAdjust="spacingAndGlyphs">Depressed mood</text>
<rect x="424" y="21.8" width="105.3" height="2.6" fill="#3f3f3f"/>
<line x1="419.8" y1="120.4" x2="423.2" y2="120.4" stroke="#666" stroke-width="0.6"/>
<text x="418.6" y="122.9" font-size="6.8" text-anchor="end" textLength="3.2" lengthAdjust="spacingAndGlyphs" fill="#3a3a3a">0</text>
<line x1="419.8" y1="102.9" x2="423.2" y2="102.9" stroke="#666" stroke-width="0.6"/>
<text x="418.6" y="105.4" font-size="6.8" text-anchor="end" textLength="3.2" lengthAdjust="spacingAndGlyphs" fill="#3a3a3a">2</text>
<line x1="419.8" y1="85.4" x2="423.2" y2="85.4" stroke="#666" stroke-width="0.6"/>
<text x="418.6" y="87.9" font-size="6.8" text-anchor="end" textLength="3.2" lengthAdjust="spacingAndGlyphs" fill="#3a3a3a">4</text>
<line x1="419.8" y1="67.9" x2="423.2" y2="67.9" stroke="#666" stroke-width="0.6"/>
<text x="418.6" y="70.4" font-size="6.8" text-anchor="end" textLength="3.2" lengthAdjust="spacingAndGlyphs" fill="#3a3a3a">6</text>
<line x1="419.8" y1="50.4" x2="423.2" y2="50.4" stroke="#666" stroke-width="0.6"/>
<text x="418.6" y="52.9" font-size="6.8" text-anchor="end" textLength="3.2" lengthAdjust="spacingAndGlyphs" fill="#3a3a3a">8</text>
<line x1="419.8" y1="32.9" x2="423.2" y2="32.9" stroke="#666" stroke-width="0.6"/>
<text x="418.6" y="35.4" font-size="6.8" text-anchor="end" textLength="5.6" lengthAdjust="spacingAndGlyphs" fill="#3a3a3a">10</text>
<text x="406" y="76.4" font-size="7.6" text-anchor="middle" textLength="28.2" lengthAdjust="spacingAndGlyphs" transform="rotate(-90 406 76.4)" fill="#2a2a2a">-log<tspan font-size="4.8" dy="1.6">10</tspan><tspan dy="-1.6">(</tspan><tspan font-style="italic">P</tspan>)</text>
<rect x="426" y="38.9" width="2.9" height="3.5" fill="#ff0000"/>
<rect x="426" y="42.4" width="2.9" height="3.5" fill="#ffa500"/>
<rect x="426" y="45.9" width="2.9" height="3.5" fill="#00ee00"/>
<rect x="426" y="49.3" width="2.9" height="3.5" fill="#87cefa"/>
<rect x="426" y="52.8" width="2.9" height="3.5" fill="#000080"/>
<rect x="426" y="38.9" width="2.9" height="17.4" fill="none" stroke="#222" stroke-width="0.3"/>
<line x1="428.9" y1="42.4" x2="431.2" y2="42.4" stroke="#333" stroke-width="0.45"/>
<text x="431.8" y="43.9" font-size="4.6" textLength="6.7" lengthAdjust="spacingAndGlyphs" fill="#444">0.8</text>
<line x1="428.9" y1="45.9" x2="431.2" y2="45.9" stroke="#333" stroke-width="0.45"/>
<text x="431.8" y="47.4" font-size="4.6" textLength="6.7" lengthAdjust="spacingAndGlyphs" fill="#444">0.6</text>
<line x1="428.9" y1="49.3" x2="431.2" y2="49.3" stroke="#333" stroke-width="0.45"/>
<text x="431.8" y="50.8" font-size="4.6" textLength="6.7" lengthAdjust="spacingAndGlyphs" fill="#444">0.4</text>
<line x1="428.9" y1="52.8" x2="431.2" y2="52.8" stroke="#333" stroke-width="0.45"/>
<text x="431.8" y="54.3" font-size="4.6" textLength="6.7" lengthAdjust="spacingAndGlyphs" fill="#444">0.2</text>
<text x="430.4" y="36.4" font-size="6.0" font-style="italic" fill="#333">r<tspan font-size="3.8" dy="-2.4">2</tspan></text>
<g fill="#000080" stroke="#26262e" stroke-width="0.38"><circle cx="466" cy="119.7" r="0.85"/><circle cx="442.5" cy="118.9" r="0.85"/><circle cx="503.1" cy="118.9" r="0.85"/><circle cx="463.8" cy="115.9" r="0.85"/><circle cx="480" cy="113.6" r="0.85"/><circle cx="474.9" cy="118.3" r="0.85"/><circle cx="487.8" cy="119.3" r="0.85"/><circle cx="517.9" cy="117.7" r="0.85"/><circle cx="464.3" cy="115.9" r="0.85"/><circle cx="439.8" cy="114.5" r="0.85"/><circle cx="512.5" cy="118.1" r="0.85"/><circle cx="522.6" cy="116.1" r="0.85"/><circle cx="504.6" cy="116.7" r="0.85"/><circle cx="465.9" cy="119.3" r="0.85"/><circle cx="424.7" cy="119.5" r="0.85"/><circle cx="527" cy="116" r="0.85"/><circle cx="472" cy="114.7" r="0.85"/><circle cx="487" cy="111.2" r="0.85"/><circle cx="461.2" cy="119.5" r="0.85"/><circle cx="519.8" cy="119.6" r="0.85"/><circle cx="506.4" cy="115.3" r="0.85"/><circle cx="526.3" cy="110.8" r="0.85"/><circle cx="492.7" cy="120.4" r="0.85"/><circle cx="426.3" cy="117.3" r="0.85"/><circle cx="509.3" cy="120.1" r="0.85"/><circle cx="468.2" cy="120.3" r="0.85"/><circle cx="456.2" cy="120.5" r="0.85"/><circle cx="458.3" cy="116.8" r="0.85"/><circle cx="444.8" cy="112.9" r="0.85"/><circle cx="429.7" cy="119.4" r="0.85"/><circle cx="450.7" cy="117.5" r="0.85"/><circle cx="503.5" cy="117.9" r="0.85"/><circle cx="496.3" cy="111.1" r="0.85"/><circle cx="437.5" cy="112.1" r="0.85"/><circle cx="486.4" cy="114.1" r="0.85"/><circle cx="487.3" cy="117.6" r="0.85"/><circle cx="434" cy="119.8" r="0.85"/><circle cx="442" cy="119.5" r="0.85"/><circle cx="439.1" cy="119.3" r="0.85"/><circle cx="482.4" cy="114.7" r="0.85"/><circle cx="507" cy="112.1" r="0.85"/><circle cx="436.1" cy="112.8" r="0.85"/><circle cx="443.3" cy="120.2" r="0.85"/><circle cx="453.9" cy="115.8" r="0.85"/><circle cx="428.9" cy="119.3" r="0.85"/><circle cx="465.5" cy="114.8" r="0.85"/><circle cx="465.5" cy="118.3" r="0.85"/><circle cx="462.6" cy="120.2" r="0.85"/><circle cx="515.6" cy="111.1" r="0.85"/><circle cx="499.1" cy="117.5" r="0.85"/><circle cx="470.2" cy="119.2" r="0.85"/><circle cx="492.1" cy="114.6" r="0.85"/><circle cx="456.3" cy="112.8" r="0.85"/><circle cx="499" cy="119.2" r="0.85"/><circle cx="508.2" cy="114.3" r="0.85"/><circle cx="449.9" cy="118.5" r="0.85"/><circle cx="502.2" cy="120.2" r="0.85"/><circle cx="469.5" cy="114.2" r="0.85"/><circle cx="450.6" cy="116.4" r="0.85"/><circle cx="518.4" cy="111.7" r="0.85"/><circle cx="506" cy="116" r="0.85"/><circle cx="520.8" cy="118.8" r="0.85"/><circle cx="515.8" cy="117.4" r="0.85"/><circle cx="492.5" cy="115.1" r="0.85"/><circle cx="453.3" cy="114.7" r="0.85"/><circle cx="486.9" cy="111.1" r="0.85"/><circle cx="493.4" cy="117" r="0.85"/><circle cx="463.5" cy="113.9" r="0.85"/><circle cx="459.9" cy="115.6" r="0.85"/><circle cx="496.2" cy="110.5" r="0.85"/><circle cx="444" cy="114.4" r="0.85"/><circle cx="441.8" cy="114.8" r="0.85"/><circle cx="492.4" cy="113.5" r="0.85"/><circle cx="514.2" cy="119" r="0.85"/><circle cx="513.6" cy="118" r="0.85"/><circle cx="465.6" cy="120.1" r="0.85"/><circle cx="479.3" cy="120.5" r="0.85"/><circle cx="456.3" cy="115.1" r="0.85"/><circle cx="501.8" cy="119.6" r="0.85"/><circle cx="505.7" cy="117" r="0.85"/><circle cx="445.3" cy="113.4" r="0.85"/><circle cx="500.9" cy="116.7" r="0.85"/><circle cx="479.2" cy="116.6" r="0.85"/><circle cx="489.7" cy="113.2" r="0.85"/><circle cx="504" cy="119.3" r="0.85"/><circle cx="426" cy="120.1" r="0.85"/><circle cx="455.9" cy="116" r="0.85"/><circle cx="524.1" cy="117.3" r="0.85"/><circle cx="462.4" cy="116.9" r="0.85"/><circle cx="522.7" cy="115.4" r="0.85"/><circle cx="454.7" cy="113.9" r="0.85"/><circle cx="527.2" cy="112.8" r="0.85"/><circle cx="465.4" cy="119.8" r="0.85"/><circle cx="471.9" cy="120.1" r="0.85"/><circle cx="437.5" cy="117.1" r="0.85"/><circle cx="512.5" cy="114" r="0.85"/><circle cx="467.5" cy="113.9" r="0.85"/><circle cx="442.5" cy="118.9" r="0.85"/><circle cx="452.4" cy="115.8" r="0.85"/><circle cx="516.6" cy="117.6" r="0.85"/><circle cx="510" cy="110.9" r="0.85"/><circle cx="473.8" cy="114.6" r="0.85"/><circle cx="516.6" cy="116.6" r="0.85"/><circle cx="441.6" cy="120.2" r="0.85"/><circle cx="448.9" cy="116.8" r="0.85"/><circle cx="425.5" cy="118.5" r="0.85"/><circle cx="475.4" cy="118.9" r="0.85"/><circle cx="500.4" cy="115.6" r="0.85"/><circle cx="479.4" cy="116.5" r="0.85"/><circle cx="484.6" cy="117.8" r="0.85"/><circle cx="441.2" cy="115.4" r="0.85"/><circle cx="428.8" cy="120.4" r="0.85"/><circle cx="459.6" cy="119.3" r="0.85"/><circle cx="502.6" cy="119.6" r="0.85"/><circle cx="469.7" cy="116.5" r="0.85"/><circle cx="467.4" cy="115.3" r="0.85"/><circle cx="436.1" cy="119.6" r="0.85"/><circle cx="452.6" cy="117.9" r="0.85"/><circle cx="482.2" cy="119.6" r="0.85"/><circle cx="482.1" cy="115.5" r="0.85"/><circle cx="491.9" cy="112.5" r="0.85"/><circle cx="432.4" cy="114.8" r="0.85"/><circle cx="499.4" cy="112.4" r="0.85"/><circle cx="439.6" cy="120.1" r="0.85"/><circle cx="503" cy="114.7" r="0.85"/><circle cx="441.3" cy="111.8" r="0.85"/><circle cx="498.6" cy="115.1" r="0.85"/><circle cx="503.1" cy="115.1" r="0.85"/><circle cx="459.3" cy="120.3" r="0.85"/><circle cx="459.6" cy="115.9" r="0.85"/><circle cx="443.5" cy="119.5" r="0.85"/><circle cx="435.5" cy="116.6" r="0.85"/><circle cx="524.6" cy="113.6" r="0.85"/><circle cx="425.2" cy="118.2" r="0.85"/><circle cx="495" cy="120.1" r="0.85"/><circle cx="506.7" cy="119" r="0.85"/><circle cx="470.1" cy="115.7" r="0.85"/><circle cx="515" cy="120.2" r="0.85"/><circle cx="509.1" cy="111.7" r="0.85"/><circle cx="511.3" cy="113.1" r="0.85"/><circle cx="462.8" cy="118.8" r="0.85"/><circle cx="428.7" cy="117.9" r="0.85"/><circle cx="455.2" cy="119.7" r="0.85"/><circle cx="522.2" cy="111.7" r="0.85"/><circle cx="508.3" cy="118.5" r="0.85"/><circle cx="436.8" cy="117.3" r="0.85"/><circle cx="431.4" cy="118.2" r="0.85"/><circle cx="487.1" cy="118.5" r="0.85"/><circle cx="458.8" cy="118.6" r="0.85"/><circle cx="510.3" cy="120.4" r="0.85"/><circle cx="508.7" cy="115.1" r="0.85"/><circle cx="481" cy="115.7" r="0.85"/><circle cx="425.8" cy="113.3" r="0.85"/><circle cx="454" cy="117.7" r="0.85"/><circle cx="477.3" cy="114.2" r="0.85"/><circle cx="447.6" cy="116.1" r="0.85"/><circle cx="527.2" cy="119.2" r="0.85"/><circle cx="491.4" cy="119.6" r="0.85"/><circle cx="483" cy="117.8" r="0.85"/><circle cx="482.8" cy="120.4" r="0.85"/><circle cx="445" cy="111.4" r="0.85"/><circle cx="442.6" cy="118.4" r="0.85"/><circle cx="527" cy="118.8" r="0.85"/><circle cx="484.3" cy="117.7" r="0.85"/><circle cx="424.2" cy="115.7" r="0.85"/><circle cx="476.3" cy="114" r="0.85"/><circle cx="525.7" cy="120.2" r="0.85"/><circle cx="485.2" cy="118.4" r="0.85"/><circle cx="437.7" cy="111.4" r="0.85"/><circle cx="433.4" cy="116.7" r="0.85"/><circle cx="448.1" cy="115.6" r="0.85"/><circle cx="445.6" cy="112" r="0.85"/><circle cx="469.4" cy="119.7" r="0.85"/><circle cx="507.3" cy="119.8" r="0.85"/><circle cx="500.8" cy="118.9" r="0.85"/><circle cx="511.5" cy="118.8" r="0.85"/><circle cx="491.8" cy="114.4" r="0.85"/><circle cx="476.5" cy="114.6" r="0.85"/><circle cx="480.5" cy="119.4" r="0.85"/><circle cx="478.6" cy="116.1" r="0.85"/><circle cx="467.8" cy="117.6" r="0.85"/><circle cx="431.5" cy="119" r="0.85"/><circle cx="503.8" cy="118.1" r="0.85"/><circle cx="443.6" cy="112.8" r="0.85"/><circle cx="427" cy="120.4" r="0.85"/><circle cx="430.4" cy="119.5" r="0.85"/><circle cx="429.1" cy="118.7" r="0.85"/><circle cx="451.8" cy="111.4" r="0.85"/><circle cx="450.5" cy="115.5" r="0.85"/><circle cx="454.7" cy="114.3" r="0.85"/><circle cx="435.8" cy="118.1" r="0.85"/><circle cx="438.7" cy="118.4" r="0.85"/><circle cx="451" cy="117" r="0.85"/><circle cx="522.2" cy="120.4" r="0.85"/><circle cx="448" cy="115.1" r="0.85"/><circle cx="510.9" cy="117.7" r="0.85"/><circle cx="461.3" cy="118.7" r="0.85"/><circle cx="463" cy="117.1" r="0.85"/><circle cx="505.2" cy="120.4" r="0.85"/><circle cx="442.2" cy="119.1" r="0.85"/><circle cx="488.6" cy="113.5" r="0.85"/><circle cx="431.2" cy="120.5" r="0.85"/><circle cx="435.8" cy="117.2" r="0.85"/><circle cx="496" cy="110.4" r="0.85"/><circle cx="462.4" cy="118" r="0.85"/><circle cx="515.2" cy="113.2" r="0.85"/><circle cx="518.1" cy="118.8" r="0.85"/><circle cx="498.1" cy="112.6" r="0.85"/><circle cx="452.4" cy="119" r="0.85"/><circle cx="520.8" cy="119.1" r="0.85"/><circle cx="457.9" cy="120.1" r="0.85"/><circle cx="515.2" cy="115" r="0.85"/><circle cx="449.2" cy="117" r="0.85"/><circle cx="470.2" cy="120.5" r="0.85"/><circle cx="501.4" cy="120.2" r="0.85"/><circle cx="463.9" cy="115.4" r="0.85"/><circle cx="453.3" cy="113.7" r="0.85"/><circle cx="517.9" cy="114" r="0.85"/><circle cx="468.3" cy="114.3" r="0.85"/><circle cx="457.3" cy="111.5" r="0.85"/><circle cx="486.9" cy="116.4" r="0.85"/><circle cx="514.7" cy="120" r="0.85"/><circle cx="453.8" cy="113.6" r="0.85"/><circle cx="431" cy="112" r="0.85"/><circle cx="471.2" cy="118" r="0.85"/><circle cx="527.7" cy="120.1" r="0.85"/><circle cx="426" cy="116.4" r="0.85"/><circle cx="490" cy="111.9" r="0.85"/><circle cx="443.9" cy="111.6" r="0.85"/><circle cx="492.4" cy="115.5" r="0.85"/><circle cx="425.9" cy="114" r="0.85"/><circle cx="446.6" cy="114.4" r="0.85"/><circle cx="527.4" cy="120.5" r="0.85"/><circle cx="468.7" cy="114.3" r="0.85"/><circle cx="453.8" cy="112.8" r="0.85"/><circle cx="509.2" cy="114.1" r="0.85"/><circle cx="527.9" cy="113.9" r="0.85"/><circle cx="434.8" cy="112.7" r="0.85"/><circle cx="502.2" cy="117.6" r="0.85"/><circle cx="433.9" cy="118.8" r="0.85"/><circle cx="478.7" cy="119.4" r="0.85"/><circle cx="526.7" cy="119.6" r="0.85"/><circle cx="452.5" cy="119.9" r="0.85"/><circle cx="501.9" cy="112.4" r="0.85"/><circle cx="450" cy="117.5" r="0.85"/><circle cx="516.5" cy="115.3" r="0.85"/><circle cx="446.6" cy="110" r="0.85"/><circle cx="504.1" cy="118.4" r="0.85"/><circle cx="470.6" cy="117.9" r="0.85"/><circle cx="490" cy="116.8" r="0.85"/><circle cx="439.4" cy="118.2" r="0.85"/><circle cx="437.3" cy="116.5" r="0.85"/><circle cx="487.8" cy="115.5" r="0.85"/><circle cx="431.3" cy="116.2" r="0.85"/><circle cx="505.3" cy="115.5" r="0.85"/><circle cx="459.1" cy="114.2" r="0.85"/><circle cx="465.5" cy="115.1" r="0.85"/><circle cx="425" cy="120.2" r="0.85"/><circle cx="471.6" cy="120.3" r="0.85"/><circle cx="444.2" cy="110.9" r="0.85"/><circle cx="504.8" cy="118.4" r="0.85"/><circle cx="435.8" cy="113.9" r="0.85"/><circle cx="497.7" cy="119.5" r="0.85"/><circle cx="481.7" cy="116.1" r="0.85"/><circle cx="433.2" cy="120" r="0.85"/><circle cx="426.5" cy="113.5" r="0.85"/><circle cx="454.9" cy="118.3" r="0.85"/><circle cx="428.4" cy="115.4" r="0.85"/><circle cx="450" cy="115.9" r="0.85"/><circle cx="460.3" cy="118.5" r="0.85"/><circle cx="428.4" cy="118.5" r="0.85"/><circle cx="519" cy="110.8" r="0.85"/><circle cx="519.1" cy="112.1" r="0.85"/><circle cx="508.4" cy="114.9" r="0.85"/><circle cx="486.9" cy="114.4" r="0.85"/><circle cx="524" cy="115.2" r="0.85"/><circle cx="482" cy="115.2" r="0.85"/><circle cx="511.9" cy="116" r="0.85"/><circle cx="426" cy="116" r="0.85"/><circle cx="459.7" cy="120" r="0.85"/><circle cx="428.7" cy="116.6" r="0.85"/><circle cx="523.4" cy="115.7" r="0.85"/><circle cx="510.8" cy="119.5" r="0.85"/><circle cx="458.2" cy="112.2" r="0.85"/><circle cx="495.7" cy="113.7" r="0.85"/><circle cx="454.7" cy="115" r="0.85"/><circle cx="459.7" cy="119.5" r="0.85"/><circle cx="440.3" cy="119.5" r="0.85"/><circle cx="433.5" cy="117.8" r="0.85"/><circle cx="514.3" cy="115.9" r="0.85"/><circle cx="462.7" cy="116.1" r="0.85"/><circle cx="520" cy="118.8" r="0.85"/><circle cx="519.6" cy="110.3" r="0.85"/><circle cx="460.6" cy="120.3" r="0.85"/><circle cx="494.9" cy="111.1" r="0.85"/><circle cx="462.2" cy="118.8" r="0.85"/><circle cx="448.6" cy="119.9" r="0.85"/><circle cx="493.1" cy="118.5" r="0.85"/><circle cx="521.1" cy="117.4" r="0.85"/><circle cx="437.3" cy="114.6" r="0.85"/><circle cx="526.2" cy="119.8" r="0.85"/><circle cx="525" cy="114.5" r="0.85"/><circle cx="503.9" cy="110.8" r="0.85"/><circle cx="481" cy="117.1" r="0.85"/><circle cx="438.7" cy="117.4" r="0.85"/><circle cx="481.5" cy="119.2" r="0.85"/><circle cx="469.1" cy="118.7" r="0.85"/><circle cx="511.2" cy="118" r="0.85"/><circle cx="517.3" cy="119.1" r="0.85"/><circle cx="491.8" cy="116.4" r="0.85"/><circle cx="455.3" cy="113.8" r="0.85"/><circle cx="526.9" cy="119.9" r="0.85"/><circle cx="508.4" cy="120.2" r="0.85"/><circle cx="460.9" cy="112.7" r="0.85"/><circle cx="524.5" cy="111" r="0.85"/><circle cx="460.9" cy="115" r="0.85"/><circle cx="525.7" cy="120.2" r="0.85"/><circle cx="510.2" cy="113.7" r="0.85"/><circle cx="521" cy="116.9" r="0.85"/><circle cx="490.9" cy="113.2" r="0.85"/><circle cx="475.6" cy="116" r="0.85"/><circle cx="446.5" cy="120.3" r="0.85"/><circle cx="446.8" cy="110.2" r="0.85"/><circle cx="468.9" cy="114.8" r="0.85"/><circle cx="525" cy="111.2" r="0.85"/><circle cx="481.1" cy="119" r="0.85"/><circle cx="487.3" cy="113.7" r="0.85"/><circle cx="499.2" cy="120.4" r="0.85"/><circle cx="429.8" cy="120.4" r="0.85"/><circle cx="449.9" cy="117.5" r="0.85"/><circle cx="462.6" cy="115" r="0.85"/><circle cx="503.5" cy="118.6" r="0.85"/><circle cx="460.2" cy="113.3" r="0.85"/><circle cx="495.9" cy="120.4" r="0.85"/><circle cx="458.3" cy="113.7" r="0.85"/><circle cx="479.8" cy="119.6" r="0.85"/><circle cx="467.1" cy="116.3" r="0.85"/><circle cx="442.4" cy="118.8" r="0.85"/><circle cx="511.5" cy="117.6" r="0.85"/><circle cx="466.9" cy="113.5" r="0.85"/><circle cx="523.7" cy="118.4" r="0.85"/><circle cx="423.9" cy="119.7" r="0.85"/><circle cx="525.5" cy="114" r="0.85"/><circle cx="448.1" cy="111.3" r="0.85"/><circle cx="515.3" cy="113.9" r="0.85"/><circle cx="425.8" cy="116.8" r="0.85"/><circle cx="447.1" cy="118.8" r="0.85"/><circle cx="464.9" cy="118.3" r="0.85"/><circle cx="516" cy="117.7" r="0.85"/><circle cx="441.2" cy="119.6" r="0.85"/><circle cx="472.2" cy="119.3" r="0.85"/><circle cx="511.4" cy="114.9" r="0.85"/><circle cx="500.1" cy="119.5" r="0.85"/><circle cx="483" cy="115.4" r="0.85"/><circle cx="428.9" cy="117.8" r="0.85"/><circle cx="493.5" cy="119.7" r="0.85"/><circle cx="523.6" cy="119.2" r="0.85"/><circle cx="436.2" cy="114.4" r="0.85"/><circle cx="526.6" cy="113.1" r="0.85"/><circle cx="479.3" cy="118.8" r="0.85"/><circle cx="446.4" cy="120.2" r="0.85"/><circle cx="447.2" cy="114.9" r="0.85"/><circle cx="449.7" cy="110.2" r="0.85"/><circle cx="440.2" cy="118.9" r="0.85"/><circle cx="466.4" cy="113.7" r="0.85"/><circle cx="459.4" cy="119.6" r="0.85"/><circle cx="499.4" cy="120.1" r="0.85"/><circle cx="472.9" cy="119.6" r="0.85"/><circle cx="525.6" cy="117.1" r="0.85"/><circle cx="476.6" cy="113.8" r="0.85"/><circle cx="491.9" cy="110.1" r="0.85"/><circle cx="468.6" cy="114.9" r="0.85"/><circle cx="469.2" cy="119.3" r="0.85"/><circle cx="524" cy="115" r="0.85"/><circle cx="438.8" cy="115.7" r="0.85"/><circle cx="495.9" cy="119.8" r="0.85"/><circle cx="474.3" cy="118.2" r="0.85"/><circle cx="443" cy="114.2" r="0.85"/><circle cx="474.7" cy="117" r="0.85"/><circle cx="479.7" cy="116.6" r="0.85"/><circle cx="505.1" cy="116.6" r="0.85"/><circle cx="524.4" cy="111.4" r="0.85"/><circle cx="471.3" cy="120.1" r="0.85"/><circle cx="474.9" cy="118.6" r="0.85"/><circle cx="516.5" cy="118.3" r="0.85"/><circle cx="430.1" cy="119.5" r="0.85"/><circle cx="515.4" cy="119.9" r="0.85"/><circle cx="518.7" cy="117.1" r="0.85"/><circle cx="480.3" cy="115.3" r="0.85"/><circle cx="514.3" cy="119.9" r="0.85"/><circle cx="485.2" cy="119.5" r="0.85"/><circle cx="523.4" cy="113.1" r="0.85"/><circle cx="450.4" cy="118" r="0.85"/><circle cx="525.6" cy="110.6" r="0.85"/><circle cx="503.8" cy="120.4" r="0.85"/><circle cx="446.8" cy="115.2" r="0.85"/><circle cx="445.4" cy="116.2" r="0.85"/><circle cx="424.6" cy="117.4" r="0.85"/><circle cx="473.5" cy="115.2" r="0.85"/><circle cx="460" cy="113.1" r="0.85"/><circle cx="449.3" cy="120.5" r="0.85"/><circle cx="471" cy="119.9" r="0.85"/><circle cx="523.4" cy="112.4" r="0.85"/><circle cx="521.4" cy="119.2" r="0.85"/><circle cx="515.1" cy="111.2" r="0.85"/><circle cx="453.3" cy="113" r="0.85"/><circle cx="462.3" cy="119.7" r="0.85"/><circle cx="494.4" cy="118.1" r="0.85"/><circle cx="455.3" cy="115.3" r="0.85"/><circle cx="491.5" cy="120.5" r="0.85"/><circle cx="426.9" cy="116.6" r="0.85"/><circle cx="433.3" cy="120" r="0.85"/><circle cx="521.3" cy="110.7" r="0.85"/><circle cx="498.1" cy="111.1" r="0.85"/><circle cx="495.8" cy="111" r="0.85"/><circle cx="424.3" cy="118.2" r="0.85"/><circle cx="462" cy="118.6" r="0.85"/><circle cx="452" cy="118.3" r="0.85"/><circle cx="501.4" cy="110.7" r="0.85"/><circle cx="520" cy="117.6" r="0.85"/><circle cx="486.7" cy="119.2" r="0.85"/><circle cx="456.1" cy="112.3" r="0.85"/><circle cx="480" cy="120.2" r="0.85"/><circle cx="474.1" cy="115.5" r="0.85"/><circle cx="494.8" cy="120" r="0.85"/><circle cx="464.4" cy="118.9" r="0.85"/><circle cx="446.9" cy="118.9" r="0.85"/><circle cx="511.2" cy="115.8" r="0.85"/><circle cx="507.6" cy="117.5" r="0.85"/><circle cx="511.6" cy="120.5" r="0.85"/><circle cx="459.4" cy="119.6" r="0.85"/><circle cx="451.9" cy="113.8" r="0.85"/><circle cx="442.5" cy="111.7" r="0.85"/><circle cx="484.3" cy="113.2" r="0.85"/><circle cx="426.3" cy="120.3" r="0.85"/><circle cx="427.3" cy="111.6" r="0.85"/><circle cx="472.8" cy="120.3" r="0.85"/><circle cx="453.9" cy="118.1" r="0.85"/><circle cx="450.9" cy="118.3" r="0.85"/><circle cx="448.8" cy="118.9" r="0.85"/><circle cx="468.9" cy="120.1" r="0.85"/><circle cx="486.2" cy="113.5" r="0.85"/><circle cx="442.2" cy="114.8" r="0.85"/><circle cx="495.4" cy="118.3" r="0.85"/><circle cx="464" cy="120" r="0.85"/><circle cx="488.1" cy="110.9" r="0.85"/><circle cx="504.8" cy="119.2" r="0.85"/><circle cx="468.5" cy="117.8" r="0.85"/><circle cx="453.2" cy="111.1" r="0.85"/><circle cx="515.4" cy="117" r="0.85"/><circle cx="447.5" cy="113.3" r="0.85"/><circle cx="477.9" cy="115.9" r="0.85"/><circle cx="515" cy="110.4" r="0.85"/><circle cx="505.7" cy="119.3" r="0.85"/><circle cx="481.6" cy="115.4" r="0.85"/><circle cx="442.1" cy="110.2" r="0.85"/><circle cx="452.2" cy="112.4" r="0.85"/><circle cx="425.4" cy="120.2" r="0.85"/><circle cx="425.5" cy="120.2" r="0.85"/><circle cx="431.7" cy="120.2" r="0.85"/><circle cx="499.3" cy="111.1" r="0.85"/><circle cx="507" cy="112.5" r="0.85"/><circle cx="505.1" cy="119.5" r="0.85"/><circle cx="464.1" cy="120.4" r="0.85"/><circle cx="442.6" cy="119.3" r="0.85"/><circle cx="472.2" cy="114.5" r="0.85"/><circle cx="460.8" cy="115.5" r="0.85"/><circle cx="492.6" cy="118.4" r="0.85"/><circle cx="428.4" cy="119.3" r="0.85"/><circle cx="444.8" cy="116.2" r="0.85"/><circle cx="456.8" cy="115.4" r="0.85"/><circle cx="487.7" cy="120" r="0.85"/><circle cx="513.5" cy="117.3" r="0.85"/><circle cx="445.9" cy="120.4" r="0.85"/><circle cx="474" cy="120.1" r="0.85"/><circle cx="502.4" cy="119.3" r="0.85"/><circle cx="441.7" cy="117.2" r="0.85"/><circle cx="432" cy="112.1" r="0.85"/><circle cx="513.1" cy="120.2" r="0.85"/><circle cx="449.1" cy="112.3" r="0.85"/><circle cx="503.9" cy="116" r="0.85"/><circle cx="494.4" cy="117" r="0.85"/><circle cx="487.3" cy="115.4" r="0.85"/><circle cx="501.4" cy="110.4" r="0.85"/><circle cx="478" cy="120" r="0.85"/><circle cx="504.2" cy="110.4" r="0.85"/><circle cx="479.9" cy="113.7" r="0.85"/><circle cx="502.3" cy="113.4" r="0.85"/><circle cx="506.5" cy="115.1" r="0.85"/><circle cx="435.2" cy="119.8" r="0.85"/><circle cx="514.4" cy="114.7" r="0.85"/><circle cx="441.8" cy="119" r="0.85"/><circle cx="515" cy="119.9" r="0.85"/><circle cx="484.9" cy="114.3" r="0.85"/><circle cx="454.2" cy="120.5" r="0.85"/><circle cx="464" cy="116" r="0.85"/><circle cx="515.4" cy="115.3" r="0.85"/><circle cx="431.4" cy="119.4" r="0.85"/><circle cx="477" cy="119.4" r="0.85"/><circle cx="437.7" cy="119.7" r="0.85"/><circle cx="505.2" cy="118" r="0.85"/><circle cx="512.6" cy="110.6" r="0.85"/><circle cx="459.7" cy="115.5" r="0.85"/><circle cx="445.8" cy="118.6" r="0.85"/><circle cx="447" cy="116.3" r="0.85"/><circle cx="434.5" cy="113.1" r="0.85"/><circle cx="496.7" cy="119.9" r="0.85"/><circle cx="452.9" cy="118.9" r="0.85"/><circle cx="522.3" cy="111.4" r="0.85"/><circle cx="446.3" cy="115" r="0.85"/><circle cx="502.2" cy="116.1" r="0.85"/><circle cx="453.1" cy="112.6" r="0.85"/><circle cx="425.4" cy="112.5" r="0.85"/><circle cx="502.4" cy="115" r="0.85"/><circle cx="452.3" cy="120.1" r="0.85"/><circle cx="464.4" cy="117.4" r="0.85"/><circle cx="483.6" cy="119.6" r="0.85"/><circle cx="462.7" cy="119.9" r="0.85"/><circle cx="426.4" cy="116.9" r="0.85"/><circle cx="474.1" cy="117" r="0.85"/><circle cx="469.1" cy="112.4" r="0.85"/><circle cx="522.1" cy="107.6" r="0.85"/><circle cx="484.8" cy="109.4" r="0.85"/><circle cx="474.6" cy="109.1" r="0.85"/><circle cx="432.6" cy="107.9" r="0.85"/><circle cx="485.1" cy="108.6" r="0.85"/><circle cx="459.8" cy="106.6" r="0.85"/><circle cx="494.5" cy="108.6" r="0.85"/><circle cx="436.3" cy="104.5" r="0.85"/><circle cx="449.3" cy="105.7" r="0.85"/><circle cx="482.5" cy="111.3" r="0.85"/><circle cx="482.9" cy="111.1" r="0.85"/><circle cx="456.1" cy="107.5" r="0.85"/><circle cx="493.6" cy="109.4" r="0.85"/><circle cx="519.2" cy="108.9" r="0.85"/><circle cx="442.3" cy="107.2" r="0.85"/><circle cx="432.6" cy="105.1" r="0.85"/><circle cx="469.4" cy="112.3" r="0.85"/><circle cx="445.7" cy="106.3" r="0.85"/><circle cx="455" cy="105.6" r="0.85"/><circle cx="516.7" cy="109.3" r="0.85"/><circle cx="505.7" cy="106.6" r="0.85"/><circle cx="510.1" cy="109.7" r="0.85"/><circle cx="431.1" cy="105.7" r="0.85"/><circle cx="454.4" cy="106.1" r="0.85"/><circle cx="482.3" cy="111" r="0.85"/><circle cx="485" cy="111" r="0.85"/><circle cx="486.8" cy="109.8" r="0.85"/><circle cx="470.6" cy="112.9" r="0.85"/><circle cx="438.7" cy="106.4" r="0.85"/><circle cx="450.2" cy="106.3" r="0.85"/><circle cx="463.5" cy="107.8" r="0.85"/><circle cx="477.5" cy="109.5" r="0.85"/><circle cx="478.1" cy="111" r="0.85"/><circle cx="470" cy="113.5" r="0.85"/><circle cx="479.3" cy="111.5" r="0.85"/><circle cx="521.4" cy="107.8" r="0.85"/><circle cx="513.9" cy="107.6" r="0.85"/><circle cx="425.8" cy="107.6" r="0.85"/><circle cx="449.8" cy="107.9" r="0.85"/><circle cx="441.8" cy="107.6" r="0.85"/><circle cx="456.5" cy="109.2" r="0.85"/><circle cx="518.4" cy="108.6" r="0.85"/><circle cx="496.5" cy="108.3" r="0.85"/><circle cx="483.6" cy="109.5" r="0.85"/><circle cx="502.5" cy="107.7" r="0.85"/><circle cx="466" cy="112.3" r="0.85"/><circle cx="501.7" cy="106" r="0.85"/><circle cx="456.8" cy="107.3" r="0.85"/><circle cx="452" cy="105.1" r="0.85"/><circle cx="473.1" cy="111.4" r="0.85"/><circle cx="488.9" cy="107.8" r="0.85"/><circle cx="505.9" cy="109" r="0.85"/><circle cx="521.1" cy="106.1" r="0.85"/><circle cx="509.7" cy="109.9" r="0.85"/><circle cx="477.3" cy="111" r="0.85"/><circle cx="518.4" cy="107.3" r="0.85"/><circle cx="509.4" cy="107.9" r="0.85"/><circle cx="512.8" cy="109" r="0.85"/><circle cx="473.1" cy="110" r="0.85"/><circle cx="453.9" cy="108.6" r="0.85"/><circle cx="458.1" cy="106.8" r="0.85"/><circle cx="452" cy="107.3" r="0.85"/><circle cx="484.3" cy="110.5" r="0.85"/><circle cx="427.4" cy="109.1" r="0.85"/><circle cx="433" cy="107.5" r="0.85"/><circle cx="446.5" cy="108.2" r="0.85"/><circle cx="473.4" cy="109.8" r="0.85"/><circle cx="476" cy="110.9" r="0.85"/><circle cx="498.1" cy="109.6" r="0.85"/><circle cx="528" cy="109.9" r="0.85"/><circle cx="430" cy="107.8" r="0.85"/><circle cx="464.8" cy="112" r="0.85"/><circle cx="450.4" cy="109.6" r="0.85"/><circle cx="438.1" cy="104.2" r="0.85"/><circle cx="450.7" cy="106.2" r="0.85"/><circle cx="508.1" cy="107.5" r="0.85"/><circle cx="482.9" cy="111.4" r="0.85"/><circle cx="433.9" cy="107.2" r="0.85"/><circle cx="490.3" cy="108.9" r="0.85"/><circle cx="429.4" cy="106.9" r="0.85"/><circle cx="491.2" cy="106.5" r="0.85"/><circle cx="425" cy="110.7" r="0.85"/><circle cx="437.7" cy="106.8" r="0.85"/><circle cx="459.5" cy="108.5" r="0.85"/><circle cx="511.9" cy="109.1" r="0.85"/><circle cx="498.8" cy="109.4" r="0.85"/><circle cx="514.6" cy="109.1" r="0.85"/><circle cx="430.9" cy="108" r="0.85"/><circle cx="441" cy="109.3" r="0.85"/><circle cx="503.3" cy="109.2" r="0.85"/><circle cx="480.7" cy="109.8" r="0.85"/><circle cx="458" cy="111.2" r="0.85"/><circle cx="516.4" cy="106.6" r="0.85"/><circle cx="432" cy="108.5" r="0.85"/><circle cx="453.7" cy="107.9" r="0.85"/><circle cx="487.9" cy="108.3" r="0.85"/><circle cx="434.9" cy="107.1" r="0.85"/><circle cx="518" cy="107.8" r="0.85"/><circle cx="440.1" cy="104" r="0.85"/><circle cx="524.5" cy="108.7" r="0.85"/><circle cx="457.8" cy="108.6" r="0.85"/><circle cx="516" cy="107.7" r="0.85"/><circle cx="446.1" cy="108.9" r="0.85"/><circle cx="485.3" cy="109.1" r="0.85"/><circle cx="443.4" cy="107.6" r="0.85"/><circle cx="480.4" cy="109.3" r="0.85"/><circle cx="528" cy="107.9" r="0.85"/><circle cx="489.5" cy="108.5" r="0.85"/><circle cx="440.7" cy="103.3" r="0.85"/><circle cx="515.2" cy="107.4" r="0.85"/><circle cx="470.5" cy="110.8" r="0.85"/><circle cx="485.4" cy="110.3" r="0.85"/><circle cx="463.9" cy="109.9" r="0.85"/><circle cx="444.5" cy="107.4" r="0.85"/><circle cx="456.1" cy="109.9" r="0.85"/><circle cx="514.3" cy="106" r="0.85"/><circle cx="485.3" cy="108.5" r="0.85"/><circle cx="450.3" cy="105.5" r="0.85"/><circle cx="455.6" cy="105.7" r="0.85"/><circle cx="437.3" cy="103.6" r="0.85"/><circle cx="457.9" cy="111.1" r="0.85"/><circle cx="459.3" cy="110.9" r="0.85"/><circle cx="442.8" cy="108.1" r="0.85"/><circle cx="523.2" cy="106.8" r="0.85"/><circle cx="484.8" cy="110.3" r="0.85"/><circle cx="424.2" cy="107.4" r="0.85"/><circle cx="468.8" cy="110.6" r="0.85"/><circle cx="462.6" cy="110" r="0.85"/><circle cx="505" cy="107" r="0.85"/><circle cx="511.5" cy="107.1" r="0.85"/><circle cx="493.4" cy="109.6" r="0.85"/><circle cx="435.1" cy="110.2" r="0.85"/><circle cx="424.1" cy="107.7" r="0.85"/><circle cx="487.4" cy="109.1" r="0.85"/><circle cx="519.5" cy="108.7" r="0.85"/><circle cx="442.9" cy="106.9" r="0.85"/><circle cx="524.7" cy="109.3" r="0.85"/><circle cx="498.4" cy="107" r="0.85"/><circle cx="469.9" cy="112.3" r="0.85"/><circle cx="436.9" cy="106.1" r="0.85"/><circle cx="470.6" cy="111.4" r="0.85"/><circle cx="504.4" cy="107" r="0.85"/><circle cx="475" cy="113.3" r="0.85"/><circle cx="486.6" cy="108.9" r="0.85"/><circle cx="500.1" cy="108.8" r="0.85"/><circle cx="481.3" cy="109.5" r="0.85"/><circle cx="484.2" cy="111.4" r="0.85"/><circle cx="467.5" cy="112" r="0.85"/><circle cx="451.4" cy="107.4" r="0.85"/><circle cx="455.2" cy="103.1" r="0.85"/><circle cx="445.1" cy="102.7" r="0.85"/><circle cx="434" cy="103.5" r="0.85"/><circle cx="523.5" cy="96.8" r="0.85"/><circle cx="444.1" cy="100.3" r="0.85"/><circle cx="511.6" cy="105.2" r="0.85"/><circle cx="442.3" cy="102.9" r="0.85"/><circle cx="472" cy="106.6" r="0.85"/><circle cx="429.5" cy="100.9" r="0.85"/><circle cx="484.7" cy="100.5" r="0.85"/><circle cx="487.1" cy="106.5" r="0.85"/><circle cx="430" cy="101.2" r="0.85"/><circle cx="448" cy="102" r="0.85"/><circle cx="495.4" cy="97.1" r="0.85"/><circle cx="458.5" cy="97" r="0.85"/><circle cx="436.4" cy="102.9" r="0.85"/><circle cx="441.9" cy="94.6" r="0.85"/><circle cx="481.7" cy="102.3" r="0.85"/><circle cx="424.5" cy="103.8" r="0.85"/><circle cx="513.6" cy="99.6" r="0.85"/><circle cx="498.1" cy="102.8" r="0.85"/><circle cx="454.7" cy="96.4" r="0.85"/><circle cx="503.6" cy="105.9" r="0.85"/><circle cx="459.2" cy="105.4" r="0.85"/><circle cx="444.1" cy="101.1" r="0.85"/><circle cx="454.5" cy="95" r="0.85"/><circle cx="516.6" cy="97.4" r="0.85"/><circle cx="457.7" cy="102.8" r="0.85"/><circle cx="516.1" cy="105.6" r="0.85"/><circle cx="465.9" cy="108" r="0.85"/><circle cx="488.2" cy="101.7" r="0.85"/><circle cx="482.1" cy="107.2" r="0.85"/><circle cx="460.9" cy="105.4" r="0.85"/><circle cx="521.6" cy="100.6" r="0.85"/><circle cx="430.8" cy="103.3" r="0.85"/><circle cx="473.2" cy="107.8" r="0.85"/><circle cx="487.4" cy="95.1" r="0.85"/><circle cx="469.4" cy="104.5" r="0.85"/><circle cx="451.1" cy="95.4" r="0.85"/><circle cx="484.7" cy="95.7" r="0.85"/><circle cx="475.3" cy="119" r="0.85"/><circle cx="441.5" cy="119.1" r="0.85"/><circle cx="479.9" cy="120.3" r="0.85"/><circle cx="486.1" cy="120" r="0.85"/><circle cx="423.9" cy="120.4" r="0.85"/><circle cx="424.6" cy="119.8" r="0.85"/><circle cx="510.1" cy="119.5" r="0.85"/><circle cx="492.5" cy="120.3" r="0.85"/><circle cx="489.8" cy="119.8" r="0.85"/><circle cx="436.9" cy="119.8" r="0.85"/><circle cx="511" cy="119.4" r="0.85"/><circle cx="506" cy="120.5" r="0.85"/><circle cx="451" cy="118.9" r="0.85"/><circle cx="429" cy="120.2" r="0.85"/><circle cx="465.5" cy="120.4" r="0.85"/><circle cx="446.7" cy="119.1" r="0.85"/><circle cx="490.7" cy="119.4" r="0.85"/><circle cx="501.8" cy="119.1" r="0.85"/><circle cx="436.5" cy="120.1" r="0.85"/><circle cx="425.7" cy="120" r="0.85"/><circle cx="493.7" cy="119.9" r="0.85"/><circle cx="487" cy="118.9" r="0.85"/><circle cx="470.5" cy="119.6" r="0.85"/><circle cx="480.8" cy="119.8" r="0.85"/><circle cx="435.5" cy="119.9" r="0.85"/><circle cx="507.8" cy="119.3" r="0.85"/><circle cx="515.3" cy="119.1" r="0.85"/><circle cx="512.5" cy="119.9" r="0.85"/><circle cx="526.5" cy="119.9" r="0.85"/><circle cx="457.9" cy="120.2" r="0.85"/><circle cx="449.8" cy="119.4" r="0.85"/><circle cx="505.3" cy="120.4" r="0.85"/><circle cx="506.5" cy="119" r="0.85"/><circle cx="481.5" cy="120.3" r="0.85"/><circle cx="479.1" cy="120" r="0.85"/><circle cx="486.1" cy="120.5" r="0.85"/><circle cx="428.1" cy="119.9" r="0.85"/><circle cx="453.7" cy="119.3" r="0.85"/><circle cx="431.3" cy="120.3" r="0.85"/><circle cx="492.3" cy="119.4" r="0.85"/><circle cx="522.6" cy="119.4" r="0.85"/><circle cx="444.5" cy="120.1" r="0.85"/><circle cx="501.3" cy="119.7" r="0.85"/><circle cx="425.4" cy="119.6" r="0.85"/><circle cx="467.1" cy="119.4" r="0.85"/><circle cx="426.7" cy="119.6" r="0.85"/><circle cx="519.4" cy="119.6" r="0.85"/><circle cx="465" cy="120.2" r="0.85"/><circle cx="437.8" cy="119.8" r="0.85"/><circle cx="466.9" cy="119.6" r="0.85"/><circle cx="433.9" cy="119.9" r="0.85"/><circle cx="511.3" cy="120.3" r="0.85"/><circle cx="447.6" cy="119.2" r="0.85"/><circle cx="448.7" cy="119.9" r="0.85"/><circle cx="487.5" cy="119" r="0.85"/><circle cx="518.3" cy="119.8" r="0.85"/><circle cx="476.5" cy="119.7" r="0.85"/><circle cx="455.9" cy="119.4" r="0.85"/><circle cx="428.2" cy="119.5" r="0.85"/><circle cx="427.5" cy="120" r="0.85"/><circle cx="456.9" cy="119.3" r="0.85"/><circle cx="445.4" cy="119.8" r="0.85"/><circle cx="471.5" cy="120.4" r="0.85"/><circle cx="491.5" cy="120.2" r="0.85"/><circle cx="433.7" cy="119" r="0.85"/><circle cx="520.5" cy="119.7" r="0.85"/><circle cx="449.3" cy="119.8" r="0.85"/><circle cx="476.2" cy="119.2" r="0.85"/><circle cx="448.7" cy="120.3" r="0.85"/><circle cx="518.3" cy="119.1" r="0.85"/><circle cx="506.3" cy="119.4" r="0.85"/><circle cx="474.9" cy="119.2" r="0.85"/><circle cx="515.2" cy="119.1" r="0.85"/><circle cx="434" cy="120.1" r="0.85"/><circle cx="451.2" cy="119.5" r="0.85"/><circle cx="426.2" cy="119.2" r="0.85"/><circle cx="515" cy="120.1" r="0.85"/><circle cx="449.5" cy="119.2" r="0.85"/><circle cx="471.7" cy="120.2" r="0.85"/><circle cx="472.3" cy="120.3" r="0.85"/><circle cx="498.3" cy="119.6" r="0.85"/><circle cx="469.8" cy="119" r="0.85"/><circle cx="511.9" cy="120.2" r="0.85"/><circle cx="462.7" cy="119.8" r="0.85"/><circle cx="433" cy="120.2" r="0.85"/><circle cx="457.6" cy="119.3" r="0.85"/><circle cx="470.5" cy="120.1" r="0.85"/><circle cx="495.3" cy="119.1" r="0.85"/><circle cx="469.7" cy="119.9" r="0.85"/><circle cx="452.6" cy="119.6" r="0.85"/><circle cx="437.7" cy="120.4" r="0.85"/><circle cx="493.7" cy="120.3" r="0.85"/><circle cx="497" cy="119.5" r="0.85"/><circle cx="502.9" cy="119.9" r="0.85"/><circle cx="520.5" cy="120.4" r="0.85"/><circle cx="431.9" cy="119.7" r="0.85"/><circle cx="448.9" cy="120.4" r="0.85"/><circle cx="474" cy="119.1" r="0.85"/><circle cx="466.8" cy="119.8" r="0.85"/><circle cx="508.2" cy="119.1" r="0.85"/><circle cx="443.8" cy="119.4" r="0.85"/><circle cx="492.8" cy="120" r="0.85"/><circle cx="431.6" cy="119.2" r="0.85"/><circle cx="446.1" cy="119.8" r="0.85"/><circle cx="470.4" cy="119.3" r="0.85"/><circle cx="483.8" cy="119.3" r="0.85"/><circle cx="523.7" cy="119.5" r="0.85"/><circle cx="425.6" cy="118.9" r="0.85"/><circle cx="464.1" cy="119.9" r="0.85"/><circle cx="455.4" cy="119.1" r="0.85"/><circle cx="438.5" cy="91.7" r="0.85"/><circle cx="436.8" cy="94.7" r="0.85"/><circle cx="437.7" cy="98.3" r="0.85"/><circle cx="446" cy="97.5" r="0.85"/><circle cx="448.5" cy="96.7" r="0.85"/><circle cx="451.8" cy="94.7" r="0.85"/><circle cx="455.2" cy="93.7" r="0.85"/><circle cx="457.7" cy="95" r="0.85"/><circle cx="461" cy="98.3" r="0.85"/><circle cx="464.3" cy="96.7" r="0.85"/><circle cx="503.8" cy="89.7" r="0.85"/><circle cx="505.9" cy="91.1" r="0.85"/><circle cx="505.6" cy="89.5" r="0.85"/><circle cx="519.7" cy="96.5" r="0.85"/><circle cx="512.9" cy="92.6" r="0.85"/><circle cx="495" cy="91" r="0.85"/><circle cx="513.4" cy="89.9" r="0.85"/><circle cx="506.1" cy="96.5" r="0.85"/><circle cx="526.4" cy="96" r="0.85"/><circle cx="509.9" cy="92.1" r="0.85"/><circle cx="507.4" cy="95.1" r="0.85"/><circle cx="495.5" cy="96.7" r="0.85"/><circle cx="517.6" cy="92" r="0.85"/><circle cx="521.8" cy="91.3" r="0.85"/><circle cx="494.1" cy="91.9" r="0.85"/><circle cx="503" cy="89.9" r="0.85"/><circle cx="521.1" cy="96.5" r="0.85"/><circle cx="527" cy="91.5" r="0.85"/><circle cx="513.1" cy="93" r="0.85"/><circle cx="506.6" cy="94.2" r="0.85"/><circle cx="518.5" cy="91.1" r="0.85"/><circle cx="510.1" cy="96.3" r="0.85"/><circle cx="466.5" cy="100.2" r="0.85"/><circle cx="463.2" cy="97.9" r="0.85"/><circle cx="463.8" cy="97.5" r="0.85"/><circle cx="465.4" cy="98.5" r="0.85"/><circle cx="465.9" cy="100.2" r="0.85"/><circle cx="466.2" cy="98.6" r="0.85"/><circle cx="469.7" cy="102.9" r="0.85"/><circle cx="471.4" cy="100.8" r="0.85"/><circle cx="470.5" cy="101.8" r="0.85"/><circle cx="470.8" cy="101.6" r="0.85"/><circle cx="474.3" cy="101" r="0.85"/><circle cx="471.1" cy="102.5" r="0.85"/><circle cx="475.3" cy="97.5" r="0.85"/><circle cx="474.5" cy="102.2" r="0.85"/><circle cx="474.5" cy="100.6" r="0.85"/><circle cx="470.3" cy="99.6" r="0.85"/><circle cx="487.4" cy="98.8" r="0.85"/><circle cx="482.7" cy="95.8" r="0.85"/><circle cx="482.9" cy="99.4" r="0.85"/><circle cx="482.2" cy="96.1" r="0.85"/><circle cx="482.8" cy="95.9" r="0.85"/><circle cx="482.8" cy="99.5" r="0.85"/><circle cx="489.8" cy="99.5" r="0.85"/><circle cx="483.7" cy="97.3" r="0.85"/></g>
<g fill="#87cefa" stroke="#5a8fb0" stroke-width="0.3"><circle cx="471.8" cy="93.5" r="0.9"/><circle cx="471.4" cy="94.6" r="0.9"/><circle cx="470.3" cy="95.4" r="0.9"/><circle cx="468.8" cy="95.6" r="0.9"/><circle cx="467.4" cy="95.2" r="0.9"/><circle cx="466.4" cy="94.3" r="0.9"/><circle cx="466.2" cy="93.2" r="0.9"/><circle cx="466.9" cy="92.1" r="0.9"/><circle cx="468.1" cy="91.5" r="0.9"/><circle cx="469.7" cy="91.5" r="0.9"/><circle cx="471" cy="92" r="0.9"/><circle cx="471.7" cy="93" r="0.9"/><circle cx="480.2" cy="94.1" r="0.9"/><circle cx="475.7" cy="94.5" r="0.9"/><circle cx="478" cy="95.2" r="0.9"/><circle cx="477.8" cy="94.5" r="0.9"/><circle cx="479.8" cy="95.5" r="0.9"/><circle cx="480.2" cy="95.6" r="0.9"/></g>
<g fill="#00ee00" stroke="#0a8a0a" stroke-width="0.3"><circle cx="472.5" cy="70.8" r="0.9"/><circle cx="470.8" cy="75" r="0.9"/><circle cx="471.8" cy="72.5" r="0.9"/><circle cx="479.7" cy="98.5" r="0.9"/><circle cx="480.6" cy="96.5" r="0.9"/><circle cx="471.8" cy="98.9" r="0.9"/><circle cx="480.6" cy="97.8" r="0.9"/><circle cx="476.2" cy="98.1" r="0.9"/><circle cx="477.8" cy="97.5" r="0.9"/><circle cx="471.5" cy="96.4" r="0.9"/><circle cx="475.1" cy="96.1" r="0.9"/><circle cx="470.9" cy="98" r="0.9"/><circle cx="480.6" cy="97.3" r="0.9"/><circle cx="478.9" cy="97.9" r="0.9"/><circle cx="475" cy="97.9" r="0.9"/><circle cx="481.2" cy="96.2" r="0.9"/><circle cx="476.4" cy="96.8" r="0.9"/><circle cx="480.8" cy="102.8" r="0.9"/></g>
<g fill="#ffa500" stroke="#b87400" stroke-width="0.3"><circle cx="475.8" cy="74.2" r="0.9"/><circle cx="473" cy="85.3" r="0.9"/><circle cx="474.5" cy="89.8" r="0.9"/><circle cx="475.7" cy="89" r="0.9"/><circle cx="476.9" cy="88.2" r="0.9"/><circle cx="478.5" cy="87.9" r="0.9"/><circle cx="480.8" cy="88.2" r="0.9"/><circle cx="474.1" cy="93.4" r="0.9"/><circle cx="479.7" cy="88" r="0.9"/></g>
<g fill="#ff0000" stroke="#5a0000" stroke-width="0.3"><circle cx="474.2" cy="59.2" r="0.9"/><circle cx="475.8" cy="62.6" r="0.9"/><circle cx="476.3" cy="64.5" r="0.9"/><circle cx="480" cy="64.7" r="0.9"/><circle cx="477.3" cy="64.1" r="0.9"/><circle cx="480.7" cy="66.9" r="0.9"/><circle cx="479" cy="63.8" r="0.9"/><circle cx="475.4" cy="64.3" r="0.9"/><circle cx="477.5" cy="63.2" r="0.9"/><circle cx="475.1" cy="62.4" r="0.9"/><circle cx="477.3" cy="63.9" r="0.9"/><circle cx="475.2" cy="63" r="0.9"/><circle cx="474.4" cy="63.7" r="0.9"/><circle cx="477.9" cy="64.3" r="0.9"/><circle cx="480.1" cy="66.2" r="0.9"/><circle cx="476.1" cy="62.5" r="0.9"/><circle cx="477.2" cy="65.3" r="0.9"/><circle cx="477" cy="63.4" r="0.9"/><circle cx="478.7" cy="65.8" r="0.9"/><circle cx="480" cy="67.2" r="0.9"/><circle cx="476.4" cy="64.2" r="0.9"/><circle cx="477.5" cy="69.2" r="0.9"/><circle cx="480.8" cy="70.8" r="0.9"/></g>
<path d="M474 54.2L475.3 55.5L474 56.8L472.7 55.5Z" fill="#7b3fd6" stroke="#4a2090" stroke-width="0.4"/>
<rect x="423.2" y="28.3" width="105.5" height="96.3" fill="none" stroke="#666" stroke-width="0.8"/>
<text x="463" y="53.2" font-size="5.6" textLength="29.7" lengthAdjust="spacingAndGlyphs" fill="#3a3a3a">rs3807866</text>
<rect x="423.4" y="128.1" width="105.4" height="4.4" fill="#fff" stroke="#666" stroke-width="0.6"/>
<text x="461.2" y="130.5" font-size="2.6" textLength="16" lengthAdjust="spacingAndGlyphs" fill="#3a3a3a">TMEM106B</text>
<text x="479.8" y="130.5" font-size="2.6" textLength="2.5" lengthAdjust="spacingAndGlyphs" fill="#5060b0">→</text>
<text x="500.3" y="130.5" font-size="2.6" textLength="2" lengthAdjust="spacingAndGlyphs" fill="#5060b0">←</text>
<text x="503.4" y="130.5" font-size="2.6" textLength="10" lengthAdjust="spacingAndGlyphs" fill="#3a3a3a">VWDE</text>
<line x1="469.2" y1="131.6" x2="474.9" y2="131.6" stroke="#1a1a9a" stroke-width="0.3"/>
<rect x="469.43" y="131.1" width="1.44" height="1" fill="#1a1a9a"/>
<rect x="471.33" y="131.1" width="1.44" height="1" fill="#1a1a9a"/>
<rect x="473.23" y="131.1" width="1.44" height="1" fill="#1a1a9a"/>
<line x1="499.1" y1="131.6" x2="514.8" y2="131.6" stroke="#1a1a9a" stroke-width="0.3"/>
<rect x="499.37" y="131.1" width="1.70" height="1" fill="#1a1a9a"/>
<rect x="501.61" y="131.1" width="1.70" height="1" fill="#1a1a9a"/>
<rect x="503.85" y="131.1" width="1.70" height="1" fill="#1a1a9a"/>
<rect x="506.10" y="131.1" width="1.70" height="1" fill="#1a1a9a"/>
<rect x="508.34" y="131.1" width="1.70" height="1" fill="#1a1a9a"/>
<rect x="510.58" y="131.1" width="1.70" height="1" fill="#1a1a9a"/>
<rect x="512.83" y="131.1" width="1.70" height="1" fill="#1a1a9a"/>
<line x1="443.5" y1="132.5" x2="443.5" y2="134.8" stroke="#555" stroke-width="0.5"/>
<text x="443.5" y="143.9" font-size="7.1" text-anchor="middle" textLength="9.6" lengthAdjust="spacingAndGlyphs" fill="#2a2a2a">12.1</text>
<line x1="463.4" y1="132.5" x2="463.4" y2="134.8" stroke="#555" stroke-width="0.5"/>
<text x="463.4" y="143.9" font-size="7.1" text-anchor="middle" textLength="9.6" lengthAdjust="spacingAndGlyphs" fill="#2a2a2a">12.2</text>
<line x1="483.4" y1="132.5" x2="483.4" y2="134.8" stroke="#555" stroke-width="0.5"/>
<text x="483.4" y="143.9" font-size="7.1" text-anchor="middle" textLength="9.6" lengthAdjust="spacingAndGlyphs" fill="#2a2a2a">12.3</text>
<line x1="503.4" y1="132.5" x2="503.4" y2="134.8" stroke="#555" stroke-width="0.5"/>
<text x="503.4" y="143.9" font-size="7.1" text-anchor="middle" textLength="9.6" lengthAdjust="spacingAndGlyphs" fill="#2a2a2a">12.4</text>
<line x1="523.3" y1="132.5" x2="523.3" y2="134.8" stroke="#555" stroke-width="0.5"/>
<text x="523.3" y="143.9" font-size="7.1" text-anchor="middle" textLength="9.6" lengthAdjust="spacingAndGlyphs" fill="#2a2a2a">12.5</text>
<text x="476.2" y="155.3" font-size="7.2" text-anchor="middle" textLength="72.2" lengthAdjust="spacingAndGlyphs">Position on chr7 (Mb)</text>
<text x="549.6" y="9.2" font-size="13.5" font-weight="bold" textLength="8.9" lengthAdjust="spacingAndGlyphs" fill="#000">d</text>
<text x="575.8" y="19.1" font-size="7.4" text-anchor="end" textLength="24" lengthAdjust="spacingAndGlyphs">Plotted</text>
<text x="575.8" y="28" font-size="7.4" text-anchor="end" textLength="17.2" lengthAdjust="spacingAndGlyphs">SNPs</text>
<text x="632.1" y="18.2" font-size="7.4" text-anchor="middle" textLength="60.6" lengthAdjust="spacingAndGlyphs">PHQ-9 sum score</text>
<rect x="579.2" y="23" width="106.3" height="2.2" fill="#3f3f3f"/>
<line x1="575.4" y1="121.7" x2="578.8" y2="121.7" stroke="#666" stroke-width="0.6"/>
<text x="574.2" y="124.2" font-size="6.8" text-anchor="end" textLength="3.2" lengthAdjust="spacingAndGlyphs" fill="#3a3a3a">0</text>
<line x1="575.4" y1="104.2" x2="578.8" y2="104.2" stroke="#666" stroke-width="0.6"/>
<text x="574.2" y="106.7" font-size="6.8" text-anchor="end" textLength="3.2" lengthAdjust="spacingAndGlyphs" fill="#3a3a3a">2</text>
<line x1="575.4" y1="86.7" x2="578.8" y2="86.7" stroke="#666" stroke-width="0.6"/>
<text x="574.2" y="89.2" font-size="6.8" text-anchor="end" textLength="3.2" lengthAdjust="spacingAndGlyphs" fill="#3a3a3a">4</text>
<line x1="575.4" y1="69.2" x2="578.8" y2="69.2" stroke="#666" stroke-width="0.6"/>
<text x="574.2" y="71.7" font-size="6.8" text-anchor="end" textLength="3.2" lengthAdjust="spacingAndGlyphs" fill="#3a3a3a">6</text>
<line x1="575.4" y1="51.7" x2="578.8" y2="51.7" stroke="#666" stroke-width="0.6"/>
<text x="574.2" y="54.2" font-size="6.8" text-anchor="end" textLength="3.2" lengthAdjust="spacingAndGlyphs" fill="#3a3a3a">8</text>
<line x1="575.4" y1="34.2" x2="578.8" y2="34.2" stroke="#666" stroke-width="0.6"/>
<text x="574.2" y="36.7" font-size="6.8" text-anchor="end" textLength="5.6" lengthAdjust="spacingAndGlyphs" fill="#3a3a3a">10</text>
<text x="561.6" y="77.7" font-size="7.6" text-anchor="middle" textLength="28.2" lengthAdjust="spacingAndGlyphs" transform="rotate(-90 561.6 77.7)" fill="#2a2a2a">-log<tspan font-size="4.8" dy="1.6">10</tspan><tspan dy="-1.6">(</tspan><tspan font-style="italic">P</tspan>)</text>
<rect x="581.3" y="39.2" width="2.9" height="3.5" fill="#ff0000"/>
<rect x="581.3" y="42.7" width="2.9" height="3.5" fill="#ffa500"/>
<rect x="581.3" y="46.2" width="2.9" height="3.5" fill="#00ee00"/>
<rect x="581.3" y="49.6" width="2.9" height="3.5" fill="#87cefa"/>
<rect x="581.3" y="53.1" width="2.9" height="3.5" fill="#000080"/>
<rect x="581.3" y="39.2" width="2.9" height="17.4" fill="none" stroke="#222" stroke-width="0.3"/>
<line x1="584.2" y1="42.7" x2="586.5" y2="42.7" stroke="#333" stroke-width="0.45"/>
<text x="587.1" y="44.2" font-size="4.6" textLength="6.7" lengthAdjust="spacingAndGlyphs" fill="#444">0.8</text>
<line x1="584.2" y1="46.2" x2="586.5" y2="46.2" stroke="#333" stroke-width="0.45"/>
<text x="587.1" y="47.7" font-size="4.6" textLength="6.7" lengthAdjust="spacingAndGlyphs" fill="#444">0.6</text>
<line x1="584.2" y1="49.6" x2="586.5" y2="49.6" stroke="#333" stroke-width="0.45"/>
<text x="587.1" y="51.1" font-size="4.6" textLength="6.7" lengthAdjust="spacingAndGlyphs" fill="#444">0.4</text>
<line x1="584.2" y1="53.1" x2="586.5" y2="53.1" stroke="#333" stroke-width="0.45"/>
<text x="587.1" y="54.6" font-size="4.6" textLength="6.7" lengthAdjust="spacingAndGlyphs" fill="#444">0.2</text>
<text x="583.9" y="35.8" font-size="6.0" font-style="italic" fill="#333">r<tspan font-size="3.8" dy="-2.4">2</tspan></text>
<g fill="#000080" stroke="#26262e" stroke-width="0.38"><circle cx="594.5" cy="118.9" r="0.85"/><circle cx="659.1" cy="115.3" r="0.85"/><circle cx="655.1" cy="118.4" r="0.85"/><circle cx="662.1" cy="117.4" r="0.85"/><circle cx="587.7" cy="119.2" r="0.85"/><circle cx="584.4" cy="115.1" r="0.85"/><circle cx="677.3" cy="119.5" r="0.85"/><circle cx="611.4" cy="114.6" r="0.85"/><circle cx="600.5" cy="120.9" r="0.85"/><circle cx="598.9" cy="119.7" r="0.85"/><circle cx="644.2" cy="111.6" r="0.85"/><circle cx="601.2" cy="113.4" r="0.85"/><circle cx="636.8" cy="112.4" r="0.85"/><circle cx="664" cy="120.9" r="0.85"/><circle cx="646.5" cy="121.2" r="0.85"/><circle cx="580" cy="119.8" r="0.85"/><circle cx="659.4" cy="117" r="0.85"/><circle cx="599.3" cy="114.9" r="0.85"/><circle cx="673.9" cy="120.4" r="0.85"/><circle cx="625.7" cy="115.9" r="0.85"/><circle cx="672.7" cy="121.2" r="0.85"/><circle cx="636.7" cy="111.5" r="0.85"/><circle cx="642.4" cy="114.9" r="0.85"/><circle cx="659.5" cy="117.7" r="0.85"/><circle cx="609.4" cy="116.9" r="0.85"/><circle cx="634" cy="119.3" r="0.85"/><circle cx="667.7" cy="119.2" r="0.85"/><circle cx="629.4" cy="114.3" r="0.85"/><circle cx="663.5" cy="113" r="0.85"/><circle cx="646.8" cy="120.1" r="0.85"/><circle cx="667" cy="112.8" r="0.85"/><circle cx="653.3" cy="114.5" r="0.85"/><circle cx="632.5" cy="117.6" r="0.85"/><circle cx="639.6" cy="121" r="0.85"/><circle cx="649.3" cy="113.1" r="0.85"/><circle cx="596.4" cy="116" r="0.85"/><circle cx="652.4" cy="121.2" r="0.85"/><circle cx="584.6" cy="118.2" r="0.85"/><circle cx="602.1" cy="119.9" r="0.85"/><circle cx="643.6" cy="115.8" r="0.85"/><circle cx="656.8" cy="116.9" r="0.85"/><circle cx="613.9" cy="121.8" r="0.85"/><circle cx="591.2" cy="120.9" r="0.85"/><circle cx="633.7" cy="114.9" r="0.85"/><circle cx="601" cy="119.3" r="0.85"/><circle cx="676.2" cy="118.9" r="0.85"/><circle cx="653.1" cy="116.3" r="0.85"/><circle cx="647.6" cy="117.9" r="0.85"/><circle cx="635.8" cy="115.1" r="0.85"/><circle cx="596.1" cy="115.6" r="0.85"/><circle cx="669.7" cy="121.6" r="0.85"/><circle cx="599.9" cy="120.5" r="0.85"/><circle cx="589.2" cy="121.3" r="0.85"/><circle cx="645.7" cy="121.2" r="0.85"/><circle cx="586.3" cy="114.8" r="0.85"/><circle cx="621" cy="117.1" r="0.85"/><circle cx="628.4" cy="119.2" r="0.85"/><circle cx="626.4" cy="120.6" r="0.85"/><circle cx="639.3" cy="120.1" r="0.85"/><circle cx="594.4" cy="120.8" r="0.85"/><circle cx="622.1" cy="112" r="0.85"/><circle cx="641.2" cy="111.3" r="0.85"/><circle cx="620.8" cy="120" r="0.85"/><circle cx="652.9" cy="120.7" r="0.85"/><circle cx="682.6" cy="119" r="0.85"/><circle cx="607.5" cy="120.1" r="0.85"/><circle cx="610.9" cy="112.4" r="0.85"/><circle cx="682" cy="117.3" r="0.85"/><circle cx="603.4" cy="121.8" r="0.85"/><circle cx="587.7" cy="120.3" r="0.85"/><circle cx="645.9" cy="116.1" r="0.85"/><circle cx="667.6" cy="114" r="0.85"/><circle cx="615.9" cy="115.5" r="0.85"/><circle cx="625.3" cy="114.8" r="0.85"/><circle cx="598.5" cy="113.4" r="0.85"/><circle cx="581.8" cy="118.1" r="0.85"/><circle cx="615.8" cy="113.8" r="0.85"/><circle cx="594.3" cy="114.7" r="0.85"/><circle cx="579.7" cy="117.3" r="0.85"/><circle cx="652.1" cy="117.6" r="0.85"/><circle cx="597.4" cy="119.5" r="0.85"/><circle cx="625.6" cy="120.5" r="0.85"/><circle cx="596" cy="115.1" r="0.85"/><circle cx="636.2" cy="119.9" r="0.85"/><circle cx="644.1" cy="116" r="0.85"/><circle cx="593.5" cy="117.8" r="0.85"/><circle cx="639.8" cy="121.2" r="0.85"/><circle cx="610.5" cy="113.4" r="0.85"/><circle cx="639.3" cy="120.4" r="0.85"/><circle cx="620.1" cy="118" r="0.85"/><circle cx="652.6" cy="113.2" r="0.85"/><circle cx="588.4" cy="121.7" r="0.85"/><circle cx="625.1" cy="121.7" r="0.85"/><circle cx="595.4" cy="121.4" r="0.85"/><circle cx="588.6" cy="117.7" r="0.85"/><circle cx="589.3" cy="118.2" r="0.85"/><circle cx="679.3" cy="121.1" r="0.85"/><circle cx="657.9" cy="116.8" r="0.85"/><circle cx="597" cy="113.9" r="0.85"/><circle cx="655.6" cy="119" r="0.85"/><circle cx="671.3" cy="121.3" r="0.85"/><circle cx="665.6" cy="113.7" r="0.85"/><circle cx="591.4" cy="114.7" r="0.85"/><circle cx="660.5" cy="112.6" r="0.85"/><circle cx="608.5" cy="115.2" r="0.85"/><circle cx="660" cy="119.3" r="0.85"/><circle cx="583" cy="121.8" r="0.85"/><circle cx="631.8" cy="117" r="0.85"/><circle cx="592.3" cy="117.5" r="0.85"/><circle cx="584.8" cy="119.1" r="0.85"/><circle cx="632.2" cy="120.5" r="0.85"/><circle cx="584.3" cy="115.4" r="0.85"/><circle cx="667.5" cy="116.8" r="0.85"/><circle cx="582.4" cy="118.8" r="0.85"/><circle cx="679" cy="114.9" r="0.85"/><circle cx="650.6" cy="121.7" r="0.85"/><circle cx="639.2" cy="120.3" r="0.85"/><circle cx="681.4" cy="121.8" r="0.85"/><circle cx="602.4" cy="114.1" r="0.85"/><circle cx="591.8" cy="120.2" r="0.85"/><circle cx="611.1" cy="113.1" r="0.85"/><circle cx="651.4" cy="112.2" r="0.85"/><circle cx="599.3" cy="121.5" r="0.85"/><circle cx="614.9" cy="114.3" r="0.85"/><circle cx="643.4" cy="112" r="0.85"/><circle cx="653.1" cy="121.4" r="0.85"/><circle cx="612" cy="120.6" r="0.85"/><circle cx="607.1" cy="116.2" r="0.85"/><circle cx="625.3" cy="114.4" r="0.85"/><circle cx="581" cy="115.7" r="0.85"/><circle cx="596.2" cy="116.2" r="0.85"/><circle cx="666.7" cy="121.7" r="0.85"/><circle cx="635.5" cy="111.4" r="0.85"/><circle cx="580.2" cy="119.1" r="0.85"/><circle cx="623.4" cy="118.9" r="0.85"/><circle cx="599.5" cy="120.9" r="0.85"/><circle cx="606.9" cy="120.6" r="0.85"/><circle cx="609.8" cy="113" r="0.85"/><circle cx="677.5" cy="120.2" r="0.85"/><circle cx="582.2" cy="120.6" r="0.85"/><circle cx="668" cy="120.8" r="0.85"/><circle cx="647.8" cy="121.4" r="0.85"/><circle cx="615.8" cy="120.8" r="0.85"/><circle cx="643.1" cy="119" r="0.85"/><circle cx="659.4" cy="117.5" r="0.85"/><circle cx="621.1" cy="121.7" r="0.85"/><circle cx="666.1" cy="121.7" r="0.85"/><circle cx="631" cy="111.2" r="0.85"/><circle cx="661.1" cy="119.2" r="0.85"/><circle cx="675.5" cy="120.2" r="0.85"/><circle cx="639.5" cy="116.7" r="0.85"/><circle cx="653.9" cy="119.8" r="0.85"/><circle cx="620.5" cy="119.4" r="0.85"/><circle cx="674.4" cy="115.2" r="0.85"/><circle cx="614.5" cy="114.2" r="0.85"/><circle cx="643.3" cy="120.2" r="0.85"/><circle cx="631" cy="121.3" r="0.85"/><circle cx="601.3" cy="121.5" r="0.85"/><circle cx="587.7" cy="117.8" r="0.85"/><circle cx="665.2" cy="113.8" r="0.85"/><circle cx="602.1" cy="113.4" r="0.85"/><circle cx="614" cy="115.3" r="0.85"/><circle cx="641" cy="117.8" r="0.85"/><circle cx="650.7" cy="112.8" r="0.85"/><circle cx="651.4" cy="117.6" r="0.85"/><circle cx="668.5" cy="115" r="0.85"/><circle cx="618.1" cy="111.3" r="0.85"/><circle cx="621.1" cy="121.7" r="0.85"/><circle cx="679" cy="112.6" r="0.85"/><circle cx="634.8" cy="114.5" r="0.85"/><circle cx="651.4" cy="121.3" r="0.85"/><circle cx="661.7" cy="116.3" r="0.85"/><circle cx="679.2" cy="118.1" r="0.85"/><circle cx="608.1" cy="114.9" r="0.85"/><circle cx="636.6" cy="112.8" r="0.85"/><circle cx="583.8" cy="117.4" r="0.85"/><circle cx="673.5" cy="120.8" r="0.85"/><circle cx="588.8" cy="118.8" r="0.85"/><circle cx="647" cy="116.1" r="0.85"/><circle cx="634.2" cy="119.3" r="0.85"/><circle cx="652.9" cy="111.5" r="0.85"/><circle cx="631.8" cy="118.7" r="0.85"/><circle cx="679.6" cy="120.8" r="0.85"/><circle cx="637.6" cy="113.3" r="0.85"/><circle cx="661.1" cy="114.8" r="0.85"/><circle cx="649.9" cy="118.2" r="0.85"/><circle cx="679.3" cy="121.8" r="0.85"/><circle cx="623.2" cy="118.1" r="0.85"/><circle cx="653.6" cy="119.9" r="0.85"/><circle cx="599.9" cy="118.8" r="0.85"/><circle cx="645.2" cy="117.3" r="0.85"/><circle cx="669.9" cy="118.1" r="0.85"/><circle cx="600.6" cy="116.9" r="0.85"/><circle cx="619.7" cy="121.7" r="0.85"/><circle cx="620.9" cy="121.2" r="0.85"/><circle cx="645.5" cy="112.5" r="0.85"/><circle cx="655.2" cy="111.9" r="0.85"/><circle cx="594.2" cy="115.3" r="0.85"/><circle cx="658.3" cy="120.3" r="0.85"/><circle cx="628.4" cy="120.8" r="0.85"/><circle cx="611.4" cy="117.5" r="0.85"/><circle cx="619.6" cy="118.8" r="0.85"/><circle cx="652.9" cy="115.6" r="0.85"/><circle cx="591.4" cy="118.1" r="0.85"/><circle cx="659.8" cy="121.7" r="0.85"/><circle cx="656.6" cy="121.7" r="0.85"/><circle cx="623.7" cy="118.9" r="0.85"/><circle cx="581.5" cy="121.6" r="0.85"/><circle cx="648.7" cy="120" r="0.85"/><circle cx="633.1" cy="120.9" r="0.85"/><circle cx="643.1" cy="112" r="0.85"/><circle cx="657.2" cy="119.1" r="0.85"/><circle cx="678.4" cy="119.4" r="0.85"/><circle cx="608.2" cy="118.7" r="0.85"/><circle cx="681.3" cy="119.1" r="0.85"/><circle cx="609.5" cy="117.4" r="0.85"/><circle cx="645.2" cy="114.4" r="0.85"/><circle cx="652.8" cy="115.6" r="0.85"/><circle cx="622" cy="118.3" r="0.85"/><circle cx="680.9" cy="118" r="0.85"/><circle cx="658.1" cy="119.2" r="0.85"/><circle cx="580.6" cy="119.8" r="0.85"/><circle cx="633.4" cy="118.7" r="0.85"/><circle cx="601.1" cy="121" r="0.85"/><circle cx="584.5" cy="117.2" r="0.85"/><circle cx="634" cy="113.6" r="0.85"/><circle cx="668.7" cy="114.9" r="0.85"/><circle cx="661.5" cy="112.8" r="0.85"/><circle cx="673.9" cy="114.1" r="0.85"/><circle cx="672" cy="119.4" r="0.85"/><circle cx="682.4" cy="113.4" r="0.85"/><circle cx="663.5" cy="113.6" r="0.85"/><circle cx="656.6" cy="116.9" r="0.85"/><circle cx="633" cy="112" r="0.85"/><circle cx="609.1" cy="116.3" r="0.85"/><circle cx="676" cy="120.1" r="0.85"/><circle cx="595.6" cy="120.1" r="0.85"/><circle cx="625.1" cy="117.5" r="0.85"/><circle cx="603.5" cy="120.4" r="0.85"/><circle cx="594.5" cy="118.8" r="0.85"/><circle cx="594" cy="119.8" r="0.85"/><circle cx="597.2" cy="117.2" r="0.85"/><circle cx="643.5" cy="120.3" r="0.85"/><circle cx="682.7" cy="120" r="0.85"/><circle cx="673.2" cy="119.8" r="0.85"/><circle cx="637.4" cy="116.5" r="0.85"/><circle cx="639.2" cy="119.3" r="0.85"/><circle cx="661.2" cy="116.4" r="0.85"/><circle cx="637.4" cy="117.8" r="0.85"/><circle cx="608.7" cy="118.8" r="0.85"/><circle cx="655.4" cy="115.2" r="0.85"/><circle cx="682.3" cy="115.4" r="0.85"/><circle cx="682" cy="119.6" r="0.85"/><circle cx="608" cy="112" r="0.85"/><circle cx="623.4" cy="116.6" r="0.85"/><circle cx="669.2" cy="121.2" r="0.85"/><circle cx="591.7" cy="118.9" r="0.85"/><circle cx="600.1" cy="121.6" r="0.85"/><circle cx="653.1" cy="117.1" r="0.85"/><circle cx="626.4" cy="115.9" r="0.85"/><circle cx="611" cy="118.9" r="0.85"/><circle cx="614" cy="115.9" r="0.85"/><circle cx="626.8" cy="116.6" r="0.85"/><circle cx="636.2" cy="116.8" r="0.85"/><circle cx="584.1" cy="116.6" r="0.85"/><circle cx="673.4" cy="121.5" r="0.85"/><circle cx="656.2" cy="116.9" r="0.85"/><circle cx="656" cy="121.8" r="0.85"/><circle cx="583" cy="118.6" r="0.85"/><circle cx="636.7" cy="121.3" r="0.85"/><circle cx="659.7" cy="121.3" r="0.85"/><circle cx="671.7" cy="114.4" r="0.85"/><circle cx="654.2" cy="113.3" r="0.85"/><circle cx="609.6" cy="116.6" r="0.85"/><circle cx="581.7" cy="117" r="0.85"/><circle cx="598.2" cy="121.6" r="0.85"/><circle cx="658" cy="121.6" r="0.85"/><circle cx="645.9" cy="111.7" r="0.85"/><circle cx="635.3" cy="117" r="0.85"/><circle cx="658" cy="114.8" r="0.85"/><circle cx="631.1" cy="121.6" r="0.85"/><circle cx="681.2" cy="115.4" r="0.85"/><circle cx="628.8" cy="115.5" r="0.85"/><circle cx="605.4" cy="120.5" r="0.85"/><circle cx="583.4" cy="119.7" r="0.85"/><circle cx="637.9" cy="121.3" r="0.85"/><circle cx="598.5" cy="119.4" r="0.85"/><circle cx="579.4" cy="116.7" r="0.85"/><circle cx="596.1" cy="114.4" r="0.85"/><circle cx="638.4" cy="119.6" r="0.85"/><circle cx="586.8" cy="117.8" r="0.85"/><circle cx="585.5" cy="120.1" r="0.85"/><circle cx="682.6" cy="114.2" r="0.85"/><circle cx="652.8" cy="116.7" r="0.85"/><circle cx="643.4" cy="114.6" r="0.85"/><circle cx="670" cy="121.4" r="0.85"/><circle cx="672" cy="112.1" r="0.85"/><circle cx="639.7" cy="119.4" r="0.85"/><circle cx="584.8" cy="120.1" r="0.85"/><circle cx="583.1" cy="117.5" r="0.85"/><circle cx="640.9" cy="114.7" r="0.85"/><circle cx="669.3" cy="119.7" r="0.85"/><circle cx="656.9" cy="114.9" r="0.85"/><circle cx="637.1" cy="121.5" r="0.85"/><circle cx="668.8" cy="117.3" r="0.85"/><circle cx="627.5" cy="113.1" r="0.85"/><circle cx="591.4" cy="121.7" r="0.85"/><circle cx="648.2" cy="115" r="0.85"/><circle cx="634.2" cy="116.9" r="0.85"/><circle cx="659.2" cy="113.8" r="0.85"/><circle cx="646.4" cy="114.8" r="0.85"/><circle cx="632" cy="120.8" r="0.85"/><circle cx="662.1" cy="121.6" r="0.85"/><circle cx="596.8" cy="117.8" r="0.85"/><circle cx="617.4" cy="112.6" r="0.85"/><circle cx="610.5" cy="117.9" r="0.85"/><circle cx="598.9" cy="114.9" r="0.85"/><circle cx="616.7" cy="114.9" r="0.85"/><circle cx="655.5" cy="118.2" r="0.85"/><circle cx="591.3" cy="114.2" r="0.85"/><circle cx="583.2" cy="116.2" r="0.85"/><circle cx="595.7" cy="119.1" r="0.85"/><circle cx="625.3" cy="118.4" r="0.85"/><circle cx="640.3" cy="115.4" r="0.85"/><circle cx="649.5" cy="121.5" r="0.85"/><circle cx="617.8" cy="120.7" r="0.85"/><circle cx="679.5" cy="117.5" r="0.85"/><circle cx="681.7" cy="120.6" r="0.85"/><circle cx="650.3" cy="117.4" r="0.85"/><circle cx="613.5" cy="120.7" r="0.85"/><circle cx="641.9" cy="112.6" r="0.85"/><circle cx="630.5" cy="117.4" r="0.85"/><circle cx="677.2" cy="120.2" r="0.85"/><circle cx="615.9" cy="112.7" r="0.85"/><circle cx="587.7" cy="121.7" r="0.85"/><circle cx="648" cy="117.8" r="0.85"/><circle cx="673.2" cy="117.1" r="0.85"/><circle cx="608.2" cy="116.1" r="0.85"/><circle cx="625.4" cy="116" r="0.85"/><circle cx="599.8" cy="121.6" r="0.85"/><circle cx="673.5" cy="113.8" r="0.85"/><circle cx="595" cy="121.4" r="0.85"/><circle cx="665" cy="115.4" r="0.85"/><circle cx="625.8" cy="113.1" r="0.85"/><circle cx="663.9" cy="113.9" r="0.85"/><circle cx="673.9" cy="114.3" r="0.85"/><circle cx="579.6" cy="118" r="0.85"/><circle cx="589.2" cy="115.1" r="0.85"/><circle cx="664.6" cy="116.6" r="0.85"/><circle cx="624.6" cy="115.3" r="0.85"/><circle cx="610.1" cy="115.7" r="0.85"/><circle cx="678.9" cy="121.7" r="0.85"/><circle cx="619.8" cy="113.7" r="0.85"/><circle cx="598" cy="119.7" r="0.85"/><circle cx="663.9" cy="117" r="0.85"/><circle cx="606.5" cy="119" r="0.85"/><circle cx="617.1" cy="117.5" r="0.85"/><circle cx="682.1" cy="120.3" r="0.85"/><circle cx="612.8" cy="112.8" r="0.85"/><circle cx="629.8" cy="115.8" r="0.85"/><circle cx="669.1" cy="121.3" r="0.85"/><circle cx="597.8" cy="121.2" r="0.85"/><circle cx="597.7" cy="121.6" r="0.85"/><circle cx="603.9" cy="113.5" r="0.85"/><circle cx="672.4" cy="115.7" r="0.85"/><circle cx="632.7" cy="114.5" r="0.85"/><circle cx="678.3" cy="120" r="0.85"/><circle cx="654.9" cy="121.2" r="0.85"/><circle cx="618.8" cy="117.3" r="0.85"/><circle cx="644.3" cy="120.5" r="0.85"/><circle cx="621.9" cy="120.8" r="0.85"/><circle cx="616.8" cy="113.8" r="0.85"/><circle cx="604.2" cy="119.7" r="0.85"/><circle cx="641.6" cy="120.7" r="0.85"/><circle cx="670.6" cy="119.6" r="0.85"/><circle cx="610.6" cy="119.6" r="0.85"/><circle cx="626.3" cy="118.1" r="0.85"/><circle cx="621.3" cy="118.5" r="0.85"/><circle cx="599.5" cy="121.6" r="0.85"/><circle cx="668.9" cy="113.8" r="0.85"/><circle cx="656.3" cy="117.9" r="0.85"/><circle cx="679" cy="121.2" r="0.85"/><circle cx="584.7" cy="115.2" r="0.85"/><circle cx="635.5" cy="117.1" r="0.85"/><circle cx="632.8" cy="114.9" r="0.85"/><circle cx="648" cy="114.7" r="0.85"/><circle cx="632.5" cy="114" r="0.85"/><circle cx="648" cy="113.5" r="0.85"/><circle cx="659.5" cy="121.2" r="0.85"/><circle cx="625.4" cy="115.5" r="0.85"/><circle cx="653.3" cy="118.3" r="0.85"/><circle cx="640.7" cy="112.7" r="0.85"/><circle cx="602.2" cy="120.3" r="0.85"/><circle cx="610.8" cy="121" r="0.85"/><circle cx="641.3" cy="116.6" r="0.85"/><circle cx="681.4" cy="117.6" r="0.85"/><circle cx="603.9" cy="121.4" r="0.85"/><circle cx="641.1" cy="121" r="0.85"/><circle cx="593.1" cy="118.9" r="0.85"/><circle cx="663.3" cy="119.8" r="0.85"/><circle cx="607.4" cy="121.6" r="0.85"/><circle cx="679.1" cy="114.5" r="0.85"/><circle cx="633.8" cy="121.5" r="0.85"/><circle cx="677.4" cy="116.8" r="0.85"/><circle cx="652.7" cy="115.7" r="0.85"/><circle cx="637" cy="118.6" r="0.85"/><circle cx="658.3" cy="121.4" r="0.85"/><circle cx="607.6" cy="117.3" r="0.85"/><circle cx="626.8" cy="117.5" r="0.85"/><circle cx="637.8" cy="121.3" r="0.85"/><circle cx="596.9" cy="121.8" r="0.85"/><circle cx="648.2" cy="116" r="0.85"/><circle cx="581.4" cy="121" r="0.85"/><circle cx="613.2" cy="114.1" r="0.85"/><circle cx="656.4" cy="120.7" r="0.85"/><circle cx="626.6" cy="116.6" r="0.85"/><circle cx="661.4" cy="120.7" r="0.85"/><circle cx="600.7" cy="115.6" r="0.85"/><circle cx="651.2" cy="119.7" r="0.85"/><circle cx="604.8" cy="118.6" r="0.85"/><circle cx="583" cy="118" r="0.85"/><circle cx="660.8" cy="120.5" r="0.85"/><circle cx="670.5" cy="113.7" r="0.85"/><circle cx="585.1" cy="116.7" r="0.85"/><circle cx="659.9" cy="116.7" r="0.85"/><circle cx="602.8" cy="118.4" r="0.85"/><circle cx="677.7" cy="116.8" r="0.85"/><circle cx="678.8" cy="114.2" r="0.85"/><circle cx="641.3" cy="113.6" r="0.85"/><circle cx="628.1" cy="121" r="0.85"/><circle cx="636.3" cy="120.6" r="0.85"/><circle cx="611.1" cy="121.4" r="0.85"/><circle cx="633.7" cy="114.2" r="0.85"/><circle cx="682.7" cy="115" r="0.85"/><circle cx="653.4" cy="114.5" r="0.85"/><circle cx="603.4" cy="117" r="0.85"/><circle cx="673.7" cy="116.1" r="0.85"/><circle cx="619.3" cy="114.7" r="0.85"/><circle cx="670.6" cy="118.6" r="0.85"/><circle cx="602.8" cy="119.6" r="0.85"/><circle cx="654.7" cy="120.6" r="0.85"/><circle cx="601.2" cy="113.3" r="0.85"/><circle cx="584" cy="121.5" r="0.85"/><circle cx="662.6" cy="115.9" r="0.85"/><circle cx="670.4" cy="112.7" r="0.85"/><circle cx="598.1" cy="116.1" r="0.85"/><circle cx="607.3" cy="116.1" r="0.85"/><circle cx="584.9" cy="116.7" r="0.85"/><circle cx="600.8" cy="116.8" r="0.85"/><circle cx="626.7" cy="115.6" r="0.85"/><circle cx="621.3" cy="121.7" r="0.85"/><circle cx="610.8" cy="120.2" r="0.85"/><circle cx="682.6" cy="121.6" r="0.85"/><circle cx="659.1" cy="121.1" r="0.85"/><circle cx="613.6" cy="115.1" r="0.85"/><circle cx="637.4" cy="121.7" r="0.85"/><circle cx="608.7" cy="119.9" r="0.85"/><circle cx="646.1" cy="117.5" r="0.85"/><circle cx="626.6" cy="121.8" r="0.85"/><circle cx="624.9" cy="118" r="0.85"/><circle cx="594.1" cy="118" r="0.85"/><circle cx="594.3" cy="119.5" r="0.85"/><circle cx="592.5" cy="119.8" r="0.85"/><circle cx="588.5" cy="118.2" r="0.85"/><circle cx="641.3" cy="111.9" r="0.85"/><circle cx="611.2" cy="121.2" r="0.85"/><circle cx="621.2" cy="114.6" r="0.85"/><circle cx="603.9" cy="113" r="0.85"/><circle cx="606" cy="116.5" r="0.85"/><circle cx="590.6" cy="118" r="0.85"/><circle cx="658.9" cy="117.7" r="0.85"/><circle cx="608.7" cy="117.2" r="0.85"/><circle cx="682" cy="120.2" r="0.85"/><circle cx="656.1" cy="117.3" r="0.85"/><circle cx="681.5" cy="120.1" r="0.85"/><circle cx="667" cy="121.7" r="0.85"/><circle cx="676.6" cy="121.6" r="0.85"/><circle cx="613.4" cy="120.4" r="0.85"/><circle cx="608.3" cy="113.4" r="0.85"/><circle cx="601.2" cy="117.5" r="0.85"/><circle cx="641.6" cy="121.6" r="0.85"/><circle cx="658.5" cy="111.9" r="0.85"/><circle cx="633.1" cy="120.6" r="0.85"/><circle cx="610.6" cy="117" r="0.85"/><circle cx="679.1" cy="115.1" r="0.85"/><circle cx="609" cy="121.1" r="0.85"/><circle cx="655.1" cy="117.8" r="0.85"/><circle cx="612.6" cy="113.8" r="0.85"/><circle cx="611.4" cy="114.6" r="0.85"/><circle cx="658.7" cy="114.3" r="0.85"/><circle cx="604.8" cy="118.2" r="0.85"/><circle cx="671.5" cy="120" r="0.85"/><circle cx="588.8" cy="121.6" r="0.85"/><circle cx="644.8" cy="117.8" r="0.85"/><circle cx="653.9" cy="112.3" r="0.85"/><circle cx="639.1" cy="118.4" r="0.85"/><circle cx="670.7" cy="115.7" r="0.85"/><circle cx="585.3" cy="120.5" r="0.85"/><circle cx="642.2" cy="120.4" r="0.85"/><circle cx="682.3" cy="121.6" r="0.85"/><circle cx="672.5" cy="112.6" r="0.85"/><circle cx="619.2" cy="119" r="0.85"/><circle cx="639" cy="120.2" r="0.85"/><circle cx="682.2" cy="116.4" r="0.85"/><circle cx="632.7" cy="120" r="0.85"/><circle cx="639.6" cy="116.3" r="0.85"/><circle cx="655" cy="115" r="0.85"/><circle cx="655.1" cy="121.4" r="0.85"/><circle cx="629" cy="118.8" r="0.85"/><circle cx="661.4" cy="120.4" r="0.85"/><circle cx="612.3" cy="119.9" r="0.85"/><circle cx="612" cy="112.3" r="0.85"/><circle cx="670.9" cy="112" r="0.85"/><circle cx="615.5" cy="118.2" r="0.85"/><circle cx="584.8" cy="117.8" r="0.85"/><circle cx="625.8" cy="119" r="0.85"/><circle cx="669.8" cy="111.7" r="0.85"/><circle cx="649.6" cy="114.7" r="0.85"/><circle cx="651" cy="113.9" r="0.85"/><circle cx="638.6" cy="111.8" r="0.85"/><circle cx="598.9" cy="117" r="0.85"/><circle cx="629.2" cy="119.5" r="0.85"/><circle cx="651" cy="121.6" r="0.85"/><circle cx="672.9" cy="114.4" r="0.85"/><circle cx="595.2" cy="114.7" r="0.85"/><circle cx="615.2" cy="114.8" r="0.85"/><circle cx="584.1" cy="116.3" r="0.85"/><circle cx="657.2" cy="118.7" r="0.85"/><circle cx="618.6" cy="117.5" r="0.85"/><circle cx="591.2" cy="114" r="0.85"/><circle cx="631.8" cy="116.1" r="0.85"/><circle cx="638.1" cy="120.8" r="0.85"/><circle cx="652.1" cy="111.9" r="0.85"/><circle cx="682.1" cy="118.6" r="0.85"/><circle cx="626" cy="111.1" r="0.85"/><circle cx="661.2" cy="115.7" r="0.85"/><circle cx="649.7" cy="113" r="0.85"/><circle cx="611.7" cy="119.3" r="0.85"/><circle cx="614.2" cy="120.7" r="0.85"/><circle cx="641.2" cy="121.8" r="0.85"/><circle cx="643.2" cy="119.8" r="0.85"/><circle cx="621.9" cy="121" r="0.85"/><circle cx="665.3" cy="120.6" r="0.85"/><circle cx="583.7" cy="116.4" r="0.85"/><circle cx="583.5" cy="120.4" r="0.85"/><circle cx="682.6" cy="120.9" r="0.85"/><circle cx="634.9" cy="115" r="0.85"/><circle cx="637.2" cy="117.3" r="0.85"/><circle cx="658.3" cy="121.6" r="0.85"/><circle cx="612.4" cy="120.8" r="0.85"/><circle cx="681.3" cy="113.3" r="0.85"/><circle cx="600.8" cy="117.9" r="0.85"/><circle cx="655.2" cy="117.2" r="0.85"/><circle cx="656.9" cy="114.5" r="0.85"/><circle cx="585.2" cy="121.4" r="0.85"/><circle cx="602.4" cy="120.7" r="0.85"/><circle cx="591.1" cy="120.3" r="0.85"/><circle cx="624.4" cy="118.3" r="0.85"/><circle cx="596.4" cy="118" r="0.85"/><circle cx="644.2" cy="119.9" r="0.85"/><circle cx="681.4" cy="116.1" r="0.85"/><circle cx="677.4" cy="118" r="0.85"/><circle cx="657.7" cy="116.1" r="0.85"/><circle cx="672.8" cy="119.7" r="0.85"/><circle cx="621.2" cy="112.2" r="0.85"/><circle cx="605.3" cy="118.8" r="0.85"/><circle cx="606.4" cy="121.7" r="0.85"/><circle cx="678.3" cy="121.8" r="0.85"/><circle cx="636.6" cy="117.1" r="0.85"/><circle cx="668.6" cy="111.8" r="0.85"/><circle cx="653.6" cy="117.7" r="0.85"/><circle cx="672.7" cy="120.7" r="0.85"/><circle cx="645.2" cy="119.6" r="0.85"/><circle cx="675.3" cy="121.6" r="0.85"/><circle cx="641.2" cy="120" r="0.85"/><circle cx="677.5" cy="120.8" r="0.85"/><circle cx="654.5" cy="121.8" r="0.85"/><circle cx="604.5" cy="119.3" r="0.85"/><circle cx="645.3" cy="114.1" r="0.85"/><circle cx="626.2" cy="121.1" r="0.85"/><circle cx="613.9" cy="121.2" r="0.85"/><circle cx="667.6" cy="118.5" r="0.85"/><circle cx="627" cy="114.9" r="0.85"/><circle cx="645.2" cy="117.6" r="0.85"/><circle cx="621.1" cy="116.5" r="0.85"/><circle cx="583.6" cy="117.1" r="0.85"/><circle cx="608.2" cy="119.8" r="0.85"/><circle cx="585.9" cy="114.7" r="0.85"/><circle cx="624.7" cy="121.7" r="0.85"/><circle cx="681.9" cy="114.6" r="0.85"/><circle cx="663.9" cy="121.2" r="0.85"/><circle cx="602.1" cy="115.6" r="0.85"/><circle cx="637.6" cy="114.7" r="0.85"/><circle cx="651.9" cy="115.7" r="0.85"/><circle cx="672.1" cy="113.5" r="0.85"/><circle cx="646.1" cy="121.1" r="0.85"/><circle cx="633.8" cy="117.5" r="0.85"/><circle cx="624.5" cy="111.8" r="0.85"/><circle cx="634.5" cy="112.9" r="0.85"/><circle cx="671.4" cy="114.5" r="0.85"/><circle cx="587.7" cy="112" r="0.85"/><circle cx="616.1" cy="108.8" r="0.85"/><circle cx="590.3" cy="108" r="0.85"/><circle cx="651.1" cy="107.5" r="0.85"/><circle cx="646.4" cy="101.2" r="0.85"/><circle cx="647.4" cy="110" r="0.85"/><circle cx="668.4" cy="106.9" r="0.85"/><circle cx="615.5" cy="110.1" r="0.85"/><circle cx="676.5" cy="109.7" r="0.85"/><circle cx="626.6" cy="101.8" r="0.85"/><circle cx="622.4" cy="108.5" r="0.85"/><circle cx="601.8" cy="108.7" r="0.85"/><circle cx="614.3" cy="109.3" r="0.85"/><circle cx="612" cy="108" r="0.85"/><circle cx="607.5" cy="111.6" r="0.85"/><circle cx="600.3" cy="111.9" r="0.85"/><circle cx="620" cy="108.5" r="0.85"/><circle cx="676.8" cy="102.7" r="0.85"/><circle cx="601.1" cy="107.7" r="0.85"/><circle cx="600.1" cy="111.4" r="0.85"/><circle cx="608.9" cy="108.4" r="0.85"/><circle cx="592.6" cy="110.8" r="0.85"/><circle cx="610" cy="109.6" r="0.85"/><circle cx="617.1" cy="103.2" r="0.85"/><circle cx="629.2" cy="103.8" r="0.85"/><circle cx="580.5" cy="112.1" r="0.85"/><circle cx="642.7" cy="108.6" r="0.85"/><circle cx="654.5" cy="101" r="0.85"/><circle cx="621" cy="104.6" r="0.85"/><circle cx="667.6" cy="108" r="0.85"/><circle cx="603.7" cy="109.6" r="0.85"/><circle cx="663.9" cy="108.2" r="0.85"/><circle cx="644.8" cy="106.3" r="0.85"/><circle cx="681.8" cy="110.8" r="0.85"/><circle cx="624.1" cy="110.6" r="0.85"/><circle cx="667.1" cy="105.4" r="0.85"/><circle cx="624.9" cy="100.8" r="0.85"/><circle cx="664.4" cy="102.3" r="0.85"/><circle cx="613.2" cy="110.4" r="0.85"/><circle cx="674.8" cy="103.6" r="0.85"/><circle cx="635.8" cy="105.6" r="0.85"/><circle cx="653.8" cy="105.7" r="0.85"/><circle cx="646.5" cy="107.8" r="0.85"/><circle cx="681.6" cy="105.3" r="0.85"/><circle cx="580" cy="111.3" r="0.85"/><circle cx="581.1" cy="109.9" r="0.85"/><circle cx="582.8" cy="110.6" r="0.85"/><circle cx="640.5" cy="102.4" r="0.85"/><circle cx="623.9" cy="108.8" r="0.85"/><circle cx="636.6" cy="105.6" r="0.85"/><circle cx="654.3" cy="110.2" r="0.85"/><circle cx="674" cy="105.8" r="0.85"/><circle cx="656.7" cy="108.4" r="0.85"/><circle cx="612.4" cy="105" r="0.85"/><circle cx="650" cy="100.8" r="0.85"/><circle cx="582.8" cy="101.1" r="0.85"/><circle cx="635" cy="99.6" r="0.85"/><circle cx="630.1" cy="100.6" r="0.85"/><circle cx="596.1" cy="104.8" r="0.85"/><circle cx="655.5" cy="91" r="0.85"/><circle cx="583.8" cy="107.4" r="0.85"/><circle cx="658.8" cy="96.4" r="0.85"/><circle cx="672" cy="98.5" r="0.85"/><circle cx="648.9" cy="90.7" r="0.85"/><circle cx="631.5" cy="101.5" r="0.85"/><circle cx="584.5" cy="108.6" r="0.85"/><circle cx="640.4" cy="89" r="0.85"/><circle cx="598" cy="104.2" r="0.85"/><circle cx="584.9" cy="107.7" r="0.85"/><circle cx="605.6" cy="105.2" r="0.85"/><circle cx="651.3" cy="91.9" r="0.85"/><circle cx="613" cy="93.3" r="0.85"/><circle cx="674" cy="92.1" r="0.85"/><circle cx="644.1" cy="98.2" r="0.85"/><circle cx="661" cy="98.6" r="0.85"/><circle cx="681.4" cy="120.4" r="0.85"/><circle cx="607.7" cy="120.4" r="0.85"/><circle cx="589.1" cy="121.3" r="0.85"/><circle cx="617.8" cy="120.4" r="0.85"/><circle cx="654.2" cy="120.7" r="0.85"/><circle cx="656.6" cy="121" r="0.85"/><circle cx="608.8" cy="121.6" r="0.85"/><circle cx="658.3" cy="121.2" r="0.85"/><circle cx="622.6" cy="121.5" r="0.85"/><circle cx="681" cy="121.5" r="0.85"/><circle cx="581" cy="121.3" r="0.85"/><circle cx="604.6" cy="121.3" r="0.85"/><circle cx="585.9" cy="120.5" r="0.85"/><circle cx="626.4" cy="120.6" r="0.85"/><circle cx="645.8" cy="121.7" r="0.85"/><circle cx="665.5" cy="121.3" r="0.85"/><circle cx="661.6" cy="121.2" r="0.85"/><circle cx="612.1" cy="121.7" r="0.85"/><circle cx="589.1" cy="121.6" r="0.85"/><circle cx="633.5" cy="120.4" r="0.85"/><circle cx="588.1" cy="120.4" r="0.85"/><circle cx="614.1" cy="120.4" r="0.85"/><circle cx="612.5" cy="121.5" r="0.85"/><circle cx="600.1" cy="120.4" r="0.85"/><circle cx="664.1" cy="121.7" r="0.85"/><circle cx="628.7" cy="120.8" r="0.85"/><circle cx="631.8" cy="120.9" r="0.85"/><circle cx="643.8" cy="121.6" r="0.85"/><circle cx="589.6" cy="121.8" r="0.85"/><circle cx="584" cy="121.2" r="0.85"/><circle cx="627" cy="121.5" r="0.85"/><circle cx="646.2" cy="120.9" r="0.85"/><circle cx="634.3" cy="120.6" r="0.85"/><circle cx="682.8" cy="121.6" r="0.85"/><circle cx="677.2" cy="121.3" r="0.85"/><circle cx="646" cy="121.2" r="0.85"/><circle cx="675.8" cy="120.3" r="0.85"/><circle cx="595.7" cy="121.7" r="0.85"/><circle cx="634.9" cy="121.2" r="0.85"/><circle cx="652.9" cy="120.7" r="0.85"/><circle cx="665" cy="120.7" r="0.85"/><circle cx="648" cy="121.7" r="0.85"/><circle cx="630.4" cy="120.6" r="0.85"/><circle cx="647.2" cy="120.6" r="0.85"/><circle cx="639.4" cy="120.3" r="0.85"/><circle cx="648.5" cy="120.3" r="0.85"/><circle cx="669.1" cy="121.7" r="0.85"/><circle cx="674.4" cy="121.6" r="0.85"/><circle cx="645.7" cy="120.4" r="0.85"/><circle cx="607.5" cy="120.8" r="0.85"/><circle cx="637" cy="120.5" r="0.85"/><circle cx="661.5" cy="121.5" r="0.85"/><circle cx="594.1" cy="120.5" r="0.85"/><circle cx="591.3" cy="120.4" r="0.85"/><circle cx="580" cy="121" r="0.85"/><circle cx="661" cy="121.6" r="0.85"/><circle cx="626.7" cy="121" r="0.85"/><circle cx="613.2" cy="120.9" r="0.85"/><circle cx="598.8" cy="121.7" r="0.85"/><circle cx="599.5" cy="120.6" r="0.85"/><circle cx="669.5" cy="121.4" r="0.85"/><circle cx="584.8" cy="121.2" r="0.85"/><circle cx="645.4" cy="120.2" r="0.85"/><circle cx="616" cy="121.1" r="0.85"/><circle cx="660.5" cy="121.6" r="0.85"/><circle cx="673.6" cy="120.3" r="0.85"/><circle cx="667.3" cy="121.2" r="0.85"/><circle cx="658.4" cy="120.7" r="0.85"/><circle cx="660.6" cy="121.3" r="0.85"/><circle cx="668.3" cy="120.6" r="0.85"/><circle cx="626" cy="120.6" r="0.85"/><circle cx="617.4" cy="120.4" r="0.85"/><circle cx="664.1" cy="120.8" r="0.85"/><circle cx="640.4" cy="121" r="0.85"/><circle cx="646.9" cy="121" r="0.85"/><circle cx="620.4" cy="121.4" r="0.85"/><circle cx="636.1" cy="120.9" r="0.85"/><circle cx="626.7" cy="121.8" r="0.85"/><circle cx="582.8" cy="120.4" r="0.85"/><circle cx="676.5" cy="121.3" r="0.85"/><circle cx="666.4" cy="120.7" r="0.85"/><circle cx="593.3" cy="121.1" r="0.85"/><circle cx="587" cy="121.2" r="0.85"/><circle cx="641.5" cy="120.6" r="0.85"/><circle cx="668.4" cy="120.8" r="0.85"/><circle cx="678.4" cy="121.1" r="0.85"/><circle cx="639.2" cy="120.4" r="0.85"/><circle cx="606.9" cy="120.2" r="0.85"/><circle cx="590.8" cy="120.8" r="0.85"/><circle cx="633.1" cy="120.5" r="0.85"/><circle cx="623.8" cy="121.3" r="0.85"/><circle cx="631.8" cy="121.8" r="0.85"/><circle cx="672" cy="120.5" r="0.85"/><circle cx="657.9" cy="121" r="0.85"/><circle cx="595.4" cy="120.3" r="0.85"/><circle cx="587" cy="120.5" r="0.85"/><circle cx="645" cy="121.2" r="0.85"/><circle cx="673" cy="120.8" r="0.85"/><circle cx="581.2" cy="120.3" r="0.85"/><circle cx="676.9" cy="120.7" r="0.85"/><circle cx="604.4" cy="121.4" r="0.85"/><circle cx="613.5" cy="121.5" r="0.85"/><circle cx="621.3" cy="121.7" r="0.85"/><circle cx="643.5" cy="120.5" r="0.85"/><circle cx="611.6" cy="121.5" r="0.85"/><circle cx="674.9" cy="121.6" r="0.85"/><circle cx="622.4" cy="121.1" r="0.85"/><circle cx="584.9" cy="120.7" r="0.85"/><circle cx="643.2" cy="120.5" r="0.85"/><circle cx="609.4" cy="120.4" r="0.85"/><circle cx="610" cy="92.6" r="0.85"/><circle cx="606.9" cy="96.5" r="0.85"/><circle cx="614" cy="95.7" r="0.85"/><circle cx="595" cy="98.9" r="0.85"/><circle cx="592" cy="100.4" r="0.85"/><circle cx="598.2" cy="100.4" r="0.85"/><circle cx="619.5" cy="94.2" r="0.85"/><circle cx="604.5" cy="101.2" r="0.85"/><circle cx="659.6" cy="76.6" r="0.85"/><circle cx="658.9" cy="77.2" r="0.85"/><circle cx="664.5" cy="84.2" r="0.85"/><circle cx="649.1" cy="74.8" r="0.85"/><circle cx="664" cy="84" r="0.85"/><circle cx="658.5" cy="76.8" r="0.85"/><circle cx="657.2" cy="77.3" r="0.85"/><circle cx="659.4" cy="76.7" r="0.85"/><circle cx="663" cy="81.4" r="0.85"/><circle cx="655.3" cy="74.5" r="0.85"/><circle cx="654.1" cy="73.8" r="0.85"/><circle cx="661.2" cy="79.8" r="0.85"/><circle cx="662.2" cy="81.5" r="0.85"/><circle cx="661.6" cy="80.9" r="0.85"/><circle cx="650.8" cy="74.3" r="0.85"/><circle cx="652.4" cy="74.1" r="0.85"/><circle cx="675.3" cy="79.5" r="0.85"/><circle cx="667.8" cy="77.2" r="0.85"/><circle cx="679.2" cy="80.1" r="0.85"/><circle cx="669.6" cy="80.6" r="0.85"/><circle cx="666.3" cy="79.2" r="0.85"/><circle cx="673.3" cy="80.2" r="0.85"/><circle cx="679.1" cy="81.3" r="0.85"/><circle cx="679.8" cy="82.6" r="0.85"/><circle cx="675.5" cy="79.7" r="0.85"/><circle cx="671.5" cy="78.9" r="0.85"/><circle cx="653.1" cy="84" r="0.85"/><circle cx="665" cy="94.6" r="0.85"/><circle cx="653.1" cy="83.1" r="0.85"/><circle cx="659.7" cy="87.6" r="0.85"/><circle cx="651.1" cy="81.3" r="0.85"/><circle cx="659" cy="87.4" r="0.85"/><circle cx="664.5" cy="90.1" r="0.85"/><circle cx="664.2" cy="88.8" r="0.85"/><circle cx="663.4" cy="94.6" r="0.85"/><circle cx="659.7" cy="88.1" r="0.85"/><circle cx="657.1" cy="87.2" r="0.85"/><circle cx="662.8" cy="87.4" r="0.85"/><circle cx="658.8" cy="86.6" r="0.85"/><circle cx="653.4" cy="82.8" r="0.85"/><circle cx="651.9" cy="101.3" r="0.85"/><circle cx="651.4" cy="104.7" r="0.85"/><circle cx="657.1" cy="99.7" r="0.85"/><circle cx="655.8" cy="99.6" r="0.85"/><circle cx="651.6" cy="104.7" r="0.85"/><circle cx="662.3" cy="104" r="0.85"/><circle cx="651.6" cy="105.3" r="0.85"/><circle cx="650.9" cy="107.1" r="0.85"/><circle cx="661" cy="100.1" r="0.85"/><circle cx="652.4" cy="101.6" r="0.85"/><circle cx="651.4" cy="106.8" r="0.85"/><circle cx="661.9" cy="105" r="0.85"/><circle cx="657.4" cy="99.4" r="0.85"/><circle cx="657.9" cy="99.8" r="0.85"/><circle cx="624.4" cy="96.8" r="0.85"/><circle cx="625.1" cy="91.2" r="0.85"/><circle cx="624.8" cy="92" r="0.85"/><circle cx="628.7" cy="94.2" r="0.85"/><circle cx="627.7" cy="96.7" r="0.85"/><circle cx="627" cy="94.3" r="0.85"/><circle cx="626.6" cy="92.9" r="0.85"/><circle cx="629.5" cy="93.2" r="0.85"/><circle cx="628.5" cy="96.8" r="0.85"/><circle cx="628.2" cy="94.3" r="0.85"/><circle cx="627.2" cy="90.5" r="0.85"/><circle cx="625.1" cy="96.8" r="0.85"/><circle cx="629.5" cy="94.6" r="0.85"/><circle cx="625.3" cy="94.9" r="0.85"/><circle cx="623.5" cy="94.4" r="0.85"/><circle cx="630.1" cy="97" r="0.85"/><circle cx="643.9" cy="88.2" r="0.85"/><circle cx="641.7" cy="88.3" r="0.85"/><circle cx="644.3" cy="91.3" r="0.85"/><circle cx="644.7" cy="88.8" r="0.85"/><circle cx="641.5" cy="91.8" r="0.85"/><circle cx="642.2" cy="88.3" r="0.85"/><circle cx="639.5" cy="87" r="0.85"/><circle cx="639" cy="87.8" r="0.85"/><circle cx="642.9" cy="102.7" r="0.85"/><circle cx="648.8" cy="95.4" r="0.85"/><circle cx="640.3" cy="94.9" r="0.85"/><circle cx="646.7" cy="103.7" r="0.85"/><circle cx="643.3" cy="101.6" r="0.85"/><circle cx="647.6" cy="97.2" r="0.85"/><circle cx="648" cy="97.3" r="0.85"/><circle cx="646.7" cy="106.8" r="0.85"/><circle cx="640.4" cy="98.3" r="0.85"/><circle cx="642.8" cy="107.1" r="0.85"/><circle cx="641.1" cy="106.9" r="0.85"/><circle cx="644.5" cy="96.1" r="0.85"/><circle cx="647" cy="98.4" r="0.85"/><circle cx="640.2" cy="103.9" r="0.85"/></g>
<g fill="#87cefa" stroke="#5a8fb0" stroke-width="0.3"><circle cx="623.3" cy="89.2" r="0.9"/><circle cx="622.6" cy="89.4" r="0.9"/><circle cx="623.4" cy="95.7" r="0.9"/><circle cx="628" cy="109.9" r="0.9"/><circle cx="623.8" cy="95.3" r="0.9"/><circle cx="620" cy="93.2" r="0.9"/><circle cx="622.4" cy="93.8" r="0.9"/><circle cx="625.4" cy="93.9" r="0.9"/><circle cx="624.5" cy="89.9" r="0.9"/><circle cx="621.4" cy="92" r="0.9"/></g>
<g fill="#00ee00" stroke="#0a8a0a" stroke-width="0.3"><circle cx="627.5" cy="69.2" r="0.9"/><circle cx="626.7" cy="79.2" r="0.9"/><circle cx="631.5" cy="86" r="0.9"/><circle cx="630.6" cy="85.7" r="0.9"/><circle cx="630.7" cy="86.1" r="0.9"/><circle cx="636.4" cy="85.2" r="0.9"/><circle cx="634.4" cy="85.5" r="0.9"/><circle cx="630.9" cy="85.7" r="0.9"/><circle cx="633.6" cy="96.7" r="0.9"/><circle cx="633.6" cy="98.7" r="0.9"/><circle cx="634.8" cy="98.8" r="0.9"/><circle cx="628.2" cy="98" r="0.9"/><circle cx="632.2" cy="98.3" r="0.9"/><circle cx="632.5" cy="96.2" r="0.9"/><circle cx="635" cy="96.8" r="0.9"/><circle cx="634.8" cy="96.3" r="0.9"/><circle cx="633.4" cy="98.3" r="0.9"/><circle cx="628.2" cy="97.7" r="0.9"/></g>
<g fill="#ffa500" stroke="#b87400" stroke-width="0.3"><circle cx="631.3" cy="66.3" r="0.9"/><circle cx="628.7" cy="83" r="0.9"/><circle cx="635.8" cy="85" r="0.9"/></g>
<g fill="#ff0000" stroke="#5a0000" stroke-width="0.3"><circle cx="628.8" cy="53.8" r="0.9"/><circle cx="635.6" cy="52.7" r="0.9"/><circle cx="634.6" cy="53.6" r="0.9"/><circle cx="634.9" cy="52.5" r="0.9"/><circle cx="629.5" cy="53.4" r="0.9"/><circle cx="635.5" cy="52.4" r="0.9"/><circle cx="629.4" cy="54.5" r="0.9"/><circle cx="628.7" cy="52.8" r="0.9"/><circle cx="628.9" cy="52.6" r="0.9"/><circle cx="632.3" cy="51.4" r="0.9"/><circle cx="629.8" cy="53" r="0.9"/><circle cx="630.9" cy="52.9" r="0.9"/><circle cx="633.2" cy="53.3" r="0.9"/><circle cx="631.1" cy="53.4" r="0.9"/><circle cx="633.4" cy="52.3" r="0.9"/><circle cx="630.4" cy="53.5" r="0.9"/><circle cx="633.3" cy="51.6" r="0.9"/><circle cx="635.5" cy="52.8" r="0.9"/><circle cx="633.5" cy="55" r="0.9"/><circle cx="632" cy="53.9" r="0.9"/><circle cx="632.5" cy="53.8" r="0.9"/><circle cx="631.9" cy="54.1" r="0.9"/><circle cx="636.3" cy="61.7" r="0.9"/></g>
<path d="M636.2 49.5L637.5 50.8L636.2 52.1L634.9 50.8Z" fill="#7b3fd6" stroke="#4a2090" stroke-width="0.4"/>
<rect x="578.8" y="29.6" width="105.5" height="96.3" fill="none" stroke="#666" stroke-width="0.8"/>
<text x="620" y="47.1" font-size="5.6" textLength="32.2" lengthAdjust="spacingAndGlyphs" fill="#3a3a3a">rs12699338</text>
<rect x="579" y="129.4" width="105.4" height="4.4" fill="#fff" stroke="#666" stroke-width="0.6"/>
<text x="616.8" y="131.8" font-size="2.6" textLength="16" lengthAdjust="spacingAndGlyphs" fill="#3a3a3a">TMEM106B</text>
<text x="635.4" y="131.8" font-size="2.6" textLength="2.5" lengthAdjust="spacingAndGlyphs" fill="#5060b0">→</text>
<text x="655.9" y="131.8" font-size="2.6" textLength="2" lengthAdjust="spacingAndGlyphs" fill="#5060b0">←</text>
<text x="659" y="131.8" font-size="2.6" textLength="10" lengthAdjust="spacingAndGlyphs" fill="#3a3a3a">VWDE</text>
<line x1="624.8" y1="132.9" x2="630.5" y2="132.9" stroke="#1a1a9a" stroke-width="0.3"/>
<rect x="625.03" y="132.4" width="1.44" height="1" fill="#1a1a9a"/>
<rect x="626.93" y="132.4" width="1.44" height="1" fill="#1a1a9a"/>
<rect x="628.83" y="132.4" width="1.44" height="1" fill="#1a1a9a"/>
<line x1="654.7" y1="132.9" x2="670.4" y2="132.9" stroke="#1a1a9a" stroke-width="0.3"/>
<rect x="654.97" y="132.4" width="1.70" height="1" fill="#1a1a9a"/>
<rect x="657.21" y="132.4" width="1.70" height="1" fill="#1a1a9a"/>
<rect x="659.45" y="132.4" width="1.70" height="1" fill="#1a1a9a"/>
<rect x="661.70" y="132.4" width="1.70" height="1" fill="#1a1a9a"/>
<rect x="663.94" y="132.4" width="1.70" height="1" fill="#1a1a9a"/>
<rect x="666.18" y="132.4" width="1.70" height="1" fill="#1a1a9a"/>
<rect x="668.43" y="132.4" width="1.70" height="1" fill="#1a1a9a"/>
<line x1="599.1" y1="133.8" x2="599.1" y2="136.1" stroke="#555" stroke-width="0.5"/>
<text x="599.1" y="145.2" font-size="7.1" text-anchor="middle" textLength="9.6" lengthAdjust="spacingAndGlyphs" fill="#2a2a2a">12.1</text>
<line x1="619" y1="133.8" x2="619" y2="136.1" stroke="#555" stroke-width="0.5"/>
<text x="619" y="145.2" font-size="7.1" text-anchor="middle" textLength="9.6" lengthAdjust="spacingAndGlyphs" fill="#2a2a2a">12.2</text>
<line x1="639" y1="133.8" x2="639" y2="136.1" stroke="#555" stroke-width="0.5"/>
<text x="639" y="145.2" font-size="7.1" text-anchor="middle" textLength="9.6" lengthAdjust="spacingAndGlyphs" fill="#2a2a2a">12.3</text>
<line x1="659" y1="133.8" x2="659" y2="136.1" stroke="#555" stroke-width="0.5"/>
<text x="659" y="145.2" font-size="7.1" text-anchor="middle" textLength="9.6" lengthAdjust="spacingAndGlyphs" fill="#2a2a2a">12.4</text>
<line x1="678.9" y1="133.8" x2="678.9" y2="136.1" stroke="#555" stroke-width="0.5"/>
<text x="678.9" y="145.2" font-size="7.1" text-anchor="middle" textLength="9.6" lengthAdjust="spacingAndGlyphs" fill="#2a2a2a">12.5</text>
<text x="631.8" y="156.6" font-size="7.2" text-anchor="middle" textLength="72.2" lengthAdjust="spacingAndGlyphs">Position on chr7 (Mb)</text>
<text x="237.5" y="170" font-size="13.5" font-weight="bold" textLength="8.3" lengthAdjust="spacingAndGlyphs" fill="#000">e</text>
<text x="263.7" y="179.5" font-size="7.4" text-anchor="end" textLength="24" lengthAdjust="spacingAndGlyphs">Plotted</text>
<text x="263.7" y="189" font-size="7.4" text-anchor="end" textLength="17.2" lengthAdjust="spacingAndGlyphs">SNPs</text>
<text x="321" y="176.6" font-size="7.4" text-anchor="middle" textLength="74.7" lengthAdjust="spacingAndGlyphs">Bellenguez et al. 2022</text>
<rect x="268.4" y="180.7" width="105.3" height="2.3" fill="#3f3f3f"/>
<line x1="264.8" y1="280.9" x2="268.2" y2="280.9" stroke="#666" stroke-width="0.6"/>
<text x="263.6" y="283.4" font-size="6.8" text-anchor="end" textLength="3.2" lengthAdjust="spacingAndGlyphs" fill="#3a3a3a">0</text>
<line x1="264.8" y1="263.4" x2="268.2" y2="263.4" stroke="#666" stroke-width="0.6"/>
<text x="263.6" y="265.9" font-size="6.8" text-anchor="end" textLength="3.2" lengthAdjust="spacingAndGlyphs" fill="#3a3a3a">2</text>
<line x1="264.8" y1="245.9" x2="268.2" y2="245.9" stroke="#666" stroke-width="0.6"/>
<text x="263.6" y="248.4" font-size="6.8" text-anchor="end" textLength="3.2" lengthAdjust="spacingAndGlyphs" fill="#3a3a3a">4</text>
<line x1="264.8" y1="228.4" x2="268.2" y2="228.4" stroke="#666" stroke-width="0.6"/>
<text x="263.6" y="230.9" font-size="6.8" text-anchor="end" textLength="3.2" lengthAdjust="spacingAndGlyphs" fill="#3a3a3a">6</text>
<line x1="264.8" y1="210.9" x2="268.2" y2="210.9" stroke="#666" stroke-width="0.6"/>
<text x="263.6" y="213.4" font-size="6.8" text-anchor="end" textLength="3.2" lengthAdjust="spacingAndGlyphs" fill="#3a3a3a">8</text>
<line x1="264.8" y1="193.4" x2="268.2" y2="193.4" stroke="#666" stroke-width="0.6"/>
<text x="263.6" y="195.9" font-size="6.8" text-anchor="end" textLength="5.6" lengthAdjust="spacingAndGlyphs" fill="#3a3a3a">10</text>
<text x="251" y="236.9" font-size="7.6" text-anchor="middle" textLength="28.2" lengthAdjust="spacingAndGlyphs" transform="rotate(-90 251 236.9)" fill="#2a2a2a">-log<tspan font-size="4.8" dy="1.6">10</tspan><tspan dy="-1.6">(</tspan><tspan font-style="italic">P</tspan>)</text>
<rect x="270.4" y="200.1" width="2.9" height="3.5" fill="#ff0000"/>
<rect x="270.4" y="203.6" width="2.9" height="3.5" fill="#ffa500"/>
<rect x="270.4" y="207.1" width="2.9" height="3.5" fill="#00ee00"/>
<rect x="270.4" y="210.5" width="2.9" height="3.5" fill="#87cefa"/>
<rect x="270.4" y="214" width="2.9" height="3.5" fill="#000080"/>
<rect x="270.4" y="200.1" width="2.9" height="17.4" fill="none" stroke="#222" stroke-width="0.3"/>
<line x1="273.3" y1="203.6" x2="275.6" y2="203.6" stroke="#333" stroke-width="0.45"/>
<text x="276.2" y="205.1" font-size="4.6" textLength="6.7" lengthAdjust="spacingAndGlyphs" fill="#444">0.8</text>
<line x1="273.3" y1="207.1" x2="275.6" y2="207.1" stroke="#333" stroke-width="0.45"/>
<text x="276.2" y="208.6" font-size="4.6" textLength="6.7" lengthAdjust="spacingAndGlyphs" fill="#444">0.6</text>
<line x1="273.3" y1="210.5" x2="275.6" y2="210.5" stroke="#333" stroke-width="0.45"/>
<text x="276.2" y="212" font-size="4.6" textLength="6.7" lengthAdjust="spacingAndGlyphs" fill="#444">0.4</text>
<line x1="273.3" y1="214" x2="275.6" y2="214" stroke="#333" stroke-width="0.45"/>
<text x="276.2" y="215.5" font-size="4.6" textLength="6.7" lengthAdjust="spacingAndGlyphs" fill="#444">0.2</text>
<text x="270.4" y="196.8" font-size="6.0" font-style="italic" fill="#333">r<tspan font-size="3.8" dy="-2.4">2</tspan></text>
<g fill="#000080" stroke="#26262e" stroke-width="0.38"><circle cx="329.4" cy="279.9" r="0.85"/><circle cx="369.4" cy="265" r="0.85"/><circle cx="317.5" cy="275.3" r="0.85"/><circle cx="291.2" cy="280" r="0.85"/><circle cx="298.9" cy="276.1" r="0.85"/><circle cx="291" cy="273.6" r="0.85"/><circle cx="276.2" cy="280.2" r="0.85"/><circle cx="278.2" cy="275.9" r="0.85"/><circle cx="307.1" cy="277.8" r="0.85"/><circle cx="302.8" cy="276.5" r="0.85"/><circle cx="310.9" cy="279.9" r="0.85"/><circle cx="313.7" cy="279.1" r="0.85"/><circle cx="280.4" cy="275.3" r="0.85"/><circle cx="339.7" cy="275.2" r="0.85"/><circle cx="360.8" cy="276.1" r="0.85"/><circle cx="308.4" cy="278.2" r="0.85"/><circle cx="311" cy="275.6" r="0.85"/><circle cx="269.6" cy="278.5" r="0.85"/><circle cx="324.6" cy="278.6" r="0.85"/><circle cx="271.2" cy="276.6" r="0.85"/><circle cx="269.9" cy="277.7" r="0.85"/><circle cx="284.9" cy="280.9" r="0.85"/><circle cx="287.7" cy="280.8" r="0.85"/><circle cx="284.6" cy="276.5" r="0.85"/><circle cx="344.7" cy="277.9" r="0.85"/><circle cx="336.8" cy="277.3" r="0.85"/><circle cx="320.8" cy="272.6" r="0.85"/><circle cx="301.3" cy="274.3" r="0.85"/><circle cx="340.8" cy="274.8" r="0.85"/><circle cx="269.5" cy="280.8" r="0.85"/><circle cx="272.2" cy="279.3" r="0.85"/><circle cx="367.4" cy="266.2" r="0.85"/><circle cx="356.2" cy="280" r="0.85"/><circle cx="342.4" cy="273.1" r="0.85"/><circle cx="353.1" cy="269.2" r="0.85"/><circle cx="283.5" cy="280.3" r="0.85"/><circle cx="351.4" cy="270.8" r="0.85"/><circle cx="361.8" cy="275.2" r="0.85"/><circle cx="361.5" cy="279.8" r="0.85"/><circle cx="368.5" cy="266" r="0.85"/><circle cx="304" cy="280.8" r="0.85"/><circle cx="326" cy="274.9" r="0.85"/><circle cx="305.4" cy="280.8" r="0.85"/><circle cx="297.9" cy="274.9" r="0.85"/><circle cx="278.3" cy="274.3" r="0.85"/><circle cx="294.9" cy="280.1" r="0.85"/><circle cx="280.6" cy="273.8" r="0.85"/><circle cx="362.7" cy="277.3" r="0.85"/><circle cx="278.9" cy="276.9" r="0.85"/><circle cx="361.3" cy="281" r="0.85"/><circle cx="334.8" cy="272.9" r="0.85"/><circle cx="316.7" cy="276.4" r="0.85"/><circle cx="352.6" cy="278.7" r="0.85"/><circle cx="297.3" cy="276.5" r="0.85"/><circle cx="326.4" cy="276.7" r="0.85"/><circle cx="303.7" cy="273.3" r="0.85"/><circle cx="298.9" cy="276.3" r="0.85"/><circle cx="362" cy="275.9" r="0.85"/><circle cx="274.6" cy="280.1" r="0.85"/><circle cx="275.8" cy="280.5" r="0.85"/><circle cx="281.4" cy="279.3" r="0.85"/><circle cx="307.4" cy="278" r="0.85"/><circle cx="338.1" cy="275.1" r="0.85"/><circle cx="340.4" cy="278.4" r="0.85"/><circle cx="337.9" cy="276.5" r="0.85"/><circle cx="282.2" cy="277.7" r="0.85"/><circle cx="302" cy="276.2" r="0.85"/><circle cx="345.4" cy="279.2" r="0.85"/><circle cx="314.2" cy="277.7" r="0.85"/><circle cx="299.8" cy="280.9" r="0.85"/><circle cx="274.1" cy="273.9" r="0.85"/><circle cx="345.9" cy="276.8" r="0.85"/><circle cx="338.3" cy="279.3" r="0.85"/><circle cx="342.9" cy="270.4" r="0.85"/><circle cx="349.4" cy="275.9" r="0.85"/><circle cx="371.3" cy="265" r="0.85"/><circle cx="275" cy="278.8" r="0.85"/><circle cx="316" cy="279.3" r="0.85"/><circle cx="333.1" cy="280.3" r="0.85"/><circle cx="346.7" cy="270.3" r="0.85"/><circle cx="275.3" cy="276.6" r="0.85"/><circle cx="296.6" cy="276.7" r="0.85"/><circle cx="340.9" cy="270.9" r="0.85"/><circle cx="352" cy="277.4" r="0.85"/><circle cx="344.9" cy="280.1" r="0.85"/><circle cx="343.2" cy="277.5" r="0.85"/><circle cx="296.5" cy="279.9" r="0.85"/><circle cx="291.5" cy="275.3" r="0.85"/><circle cx="278.9" cy="280" r="0.85"/><circle cx="288.9" cy="280.4" r="0.85"/><circle cx="344.9" cy="275" r="0.85"/><circle cx="338.1" cy="272.3" r="0.85"/><circle cx="315.6" cy="280.9" r="0.85"/><circle cx="288.6" cy="277.9" r="0.85"/><circle cx="343.4" cy="270.7" r="0.85"/><circle cx="322.1" cy="279.7" r="0.85"/><circle cx="330.6" cy="271.9" r="0.85"/><circle cx="303.6" cy="273.4" r="0.85"/><circle cx="363" cy="272.7" r="0.85"/><circle cx="319" cy="280.4" r="0.85"/><circle cx="280.4" cy="280.9" r="0.85"/><circle cx="332.5" cy="274.7" r="0.85"/><circle cx="372.3" cy="272" r="0.85"/><circle cx="372.4" cy="275.7" r="0.85"/><circle cx="282.8" cy="280.8" r="0.85"/><circle cx="298.9" cy="277.6" r="0.85"/><circle cx="371.6" cy="277.5" r="0.85"/><circle cx="293.4" cy="276" r="0.85"/><circle cx="309.3" cy="276.9" r="0.85"/><circle cx="284.7" cy="274.9" r="0.85"/><circle cx="364.6" cy="269" r="0.85"/><circle cx="366.3" cy="277" r="0.85"/><circle cx="272.3" cy="279.6" r="0.85"/><circle cx="362.4" cy="274.7" r="0.85"/><circle cx="289.8" cy="280.4" r="0.85"/><circle cx="286" cy="278.5" r="0.85"/><circle cx="365.3" cy="266.2" r="0.85"/><circle cx="347.8" cy="271.7" r="0.85"/><circle cx="288.8" cy="275.6" r="0.85"/><circle cx="292.2" cy="277.7" r="0.85"/><circle cx="272.4" cy="274.9" r="0.85"/><circle cx="282.3" cy="277.3" r="0.85"/><circle cx="337.8" cy="275.5" r="0.85"/><circle cx="339.9" cy="278.4" r="0.85"/><circle cx="351.4" cy="266.9" r="0.85"/><circle cx="333.1" cy="271.3" r="0.85"/><circle cx="357.4" cy="280.7" r="0.85"/><circle cx="338.8" cy="280.6" r="0.85"/><circle cx="337.7" cy="278.4" r="0.85"/><circle cx="357.9" cy="280.7" r="0.85"/><circle cx="367.4" cy="280.7" r="0.85"/><circle cx="274.8" cy="281" r="0.85"/><circle cx="282" cy="273.7" r="0.85"/><circle cx="355.8" cy="265.8" r="0.85"/><circle cx="288.3" cy="276.4" r="0.85"/><circle cx="351.7" cy="271" r="0.85"/><circle cx="297" cy="273.4" r="0.85"/><circle cx="344.7" cy="273.7" r="0.85"/><circle cx="298.5" cy="278.7" r="0.85"/><circle cx="347.8" cy="275.4" r="0.85"/><circle cx="319.7" cy="272.1" r="0.85"/><circle cx="312.7" cy="273.3" r="0.85"/><circle cx="273.8" cy="277.9" r="0.85"/><circle cx="343.1" cy="281" r="0.85"/><circle cx="341.4" cy="279" r="0.85"/><circle cx="334" cy="275.7" r="0.85"/><circle cx="283.1" cy="274.1" r="0.85"/><circle cx="294.2" cy="280.5" r="0.85"/><circle cx="315" cy="280.8" r="0.85"/><circle cx="279.4" cy="275.9" r="0.85"/><circle cx="279.1" cy="277.8" r="0.85"/><circle cx="361.1" cy="275" r="0.85"/><circle cx="353.7" cy="268.3" r="0.85"/><circle cx="286" cy="280.8" r="0.85"/><circle cx="350.5" cy="268.7" r="0.85"/><circle cx="357.7" cy="270.1" r="0.85"/><circle cx="322" cy="271.6" r="0.85"/><circle cx="345.9" cy="272.1" r="0.85"/><circle cx="363.8" cy="280.7" r="0.85"/><circle cx="346.1" cy="274.8" r="0.85"/><circle cx="270.2" cy="279.9" r="0.85"/><circle cx="343.4" cy="276.1" r="0.85"/><circle cx="327.4" cy="279.1" r="0.85"/><circle cx="327.9" cy="272.6" r="0.85"/><circle cx="370.9" cy="273" r="0.85"/><circle cx="345" cy="280.5" r="0.85"/><circle cx="283.5" cy="277.6" r="0.85"/><circle cx="354.9" cy="280" r="0.85"/><circle cx="284.2" cy="278.1" r="0.85"/><circle cx="300.7" cy="280.4" r="0.85"/><circle cx="285.4" cy="278.6" r="0.85"/><circle cx="351.4" cy="279.6" r="0.85"/><circle cx="352.8" cy="280.5" r="0.85"/><circle cx="295" cy="276.4" r="0.85"/><circle cx="269.6" cy="279.5" r="0.85"/><circle cx="285" cy="280" r="0.85"/><circle cx="361.2" cy="279.5" r="0.85"/><circle cx="343.8" cy="270.6" r="0.85"/><circle cx="294.5" cy="274.6" r="0.85"/><circle cx="302.3" cy="275.2" r="0.85"/><circle cx="329.4" cy="278.6" r="0.85"/><circle cx="361.1" cy="270.4" r="0.85"/><circle cx="302.1" cy="277.1" r="0.85"/><circle cx="299.5" cy="279.5" r="0.85"/><circle cx="366.6" cy="264" r="0.85"/><circle cx="285.3" cy="274.3" r="0.85"/><circle cx="343.2" cy="281" r="0.85"/><circle cx="280.2" cy="278.6" r="0.85"/><circle cx="361.3" cy="266.6" r="0.85"/><circle cx="295" cy="278.4" r="0.85"/><circle cx="365.2" cy="278.9" r="0.85"/><circle cx="279.8" cy="278.8" r="0.85"/><circle cx="339.8" cy="272.7" r="0.85"/><circle cx="360.2" cy="281" r="0.85"/><circle cx="287.2" cy="280.5" r="0.85"/><circle cx="330.9" cy="278" r="0.85"/><circle cx="364.9" cy="271.9" r="0.85"/><circle cx="332.9" cy="275" r="0.85"/><circle cx="290.2" cy="274.4" r="0.85"/><circle cx="358.5" cy="267.8" r="0.85"/><circle cx="350.4" cy="279.6" r="0.85"/><circle cx="274.4" cy="279.2" r="0.85"/><circle cx="343.5" cy="279.7" r="0.85"/><circle cx="359.4" cy="267" r="0.85"/><circle cx="341.4" cy="277" r="0.85"/><circle cx="284.6" cy="275.3" r="0.85"/><circle cx="286.9" cy="278.1" r="0.85"/><circle cx="347.9" cy="273.6" r="0.85"/><circle cx="293.5" cy="274.4" r="0.85"/><circle cx="302.3" cy="278.4" r="0.85"/><circle cx="314.5" cy="275" r="0.85"/><circle cx="272.9" cy="277.1" r="0.85"/><circle cx="319.7" cy="273.6" r="0.85"/><circle cx="307" cy="276.9" r="0.85"/><circle cx="369.6" cy="280.6" r="0.85"/><circle cx="351.4" cy="275.5" r="0.85"/><circle cx="300.1" cy="279.6" r="0.85"/><circle cx="291.5" cy="274.9" r="0.85"/><circle cx="290" cy="273.7" r="0.85"/><circle cx="322.7" cy="279.2" r="0.85"/><circle cx="350.4" cy="273.9" r="0.85"/><circle cx="361" cy="279.7" r="0.85"/><circle cx="340.9" cy="280.9" r="0.85"/><circle cx="288" cy="278.7" r="0.85"/><circle cx="301.5" cy="279.5" r="0.85"/><circle cx="328.2" cy="274.3" r="0.85"/><circle cx="312.2" cy="277.2" r="0.85"/><circle cx="350.3" cy="279" r="0.85"/><circle cx="372.8" cy="280.9" r="0.85"/><circle cx="307.5" cy="274.2" r="0.85"/><circle cx="293.4" cy="279.2" r="0.85"/><circle cx="286.7" cy="273.7" r="0.85"/><circle cx="360.1" cy="280.4" r="0.85"/><circle cx="325" cy="280.2" r="0.85"/><circle cx="270.8" cy="280.1" r="0.85"/><circle cx="342.1" cy="276.4" r="0.85"/><circle cx="298.8" cy="277.2" r="0.85"/><circle cx="277.5" cy="279.3" r="0.85"/><circle cx="279.1" cy="275.3" r="0.85"/><circle cx="308.7" cy="275.3" r="0.85"/><circle cx="303.8" cy="278.4" r="0.85"/><circle cx="328.8" cy="279.4" r="0.85"/><circle cx="325.9" cy="273.9" r="0.85"/><circle cx="276.6" cy="280.2" r="0.85"/><circle cx="271" cy="278.3" r="0.85"/><circle cx="280.4" cy="277.9" r="0.85"/><circle cx="285.7" cy="277.8" r="0.85"/><circle cx="298.3" cy="275.6" r="0.85"/><circle cx="353.8" cy="265.5" r="0.85"/><circle cx="317.1" cy="272.5" r="0.85"/><circle cx="358.6" cy="277.1" r="0.85"/><circle cx="370.9" cy="264.2" r="0.85"/><circle cx="285.3" cy="275.9" r="0.85"/><circle cx="340.5" cy="275.7" r="0.85"/><circle cx="342.9" cy="279" r="0.85"/><circle cx="355.7" cy="270" r="0.85"/><circle cx="288" cy="273.7" r="0.85"/><circle cx="345.2" cy="280.7" r="0.85"/><circle cx="272.3" cy="280.4" r="0.85"/><circle cx="337.8" cy="274.6" r="0.85"/><circle cx="365.8" cy="266.1" r="0.85"/><circle cx="290.2" cy="280.2" r="0.85"/><circle cx="277.7" cy="279" r="0.85"/><circle cx="313" cy="278.4" r="0.85"/><circle cx="354.4" cy="272.4" r="0.85"/><circle cx="352.6" cy="268" r="0.85"/><circle cx="348.6" cy="275.3" r="0.85"/><circle cx="311.5" cy="277" r="0.85"/><circle cx="316.8" cy="275.3" r="0.85"/><circle cx="357.6" cy="270.9" r="0.85"/><circle cx="295.4" cy="277.4" r="0.85"/><circle cx="316.3" cy="280.4" r="0.85"/><circle cx="279.9" cy="278.5" r="0.85"/><circle cx="366.8" cy="270" r="0.85"/><circle cx="274.7" cy="274.6" r="0.85"/><circle cx="344.3" cy="274.9" r="0.85"/><circle cx="269.6" cy="279.5" r="0.85"/><circle cx="303.6" cy="277.9" r="0.85"/><circle cx="281.7" cy="277" r="0.85"/><circle cx="332.6" cy="275.5" r="0.85"/><circle cx="320.4" cy="276.5" r="0.85"/><circle cx="280.7" cy="275.3" r="0.85"/><circle cx="359.3" cy="267.1" r="0.85"/><circle cx="348.8" cy="278.9" r="0.85"/><circle cx="299.5" cy="280.9" r="0.85"/><circle cx="350.7" cy="268.8" r="0.85"/><circle cx="366.4" cy="272.2" r="0.85"/><circle cx="352.1" cy="268.5" r="0.85"/><circle cx="281.5" cy="280.8" r="0.85"/><circle cx="360.1" cy="264.4" r="0.85"/><circle cx="343.5" cy="274.9" r="0.85"/><circle cx="310.1" cy="273.6" r="0.85"/><circle cx="298.6" cy="280.8" r="0.85"/><circle cx="352.6" cy="280.6" r="0.85"/><circle cx="343.4" cy="274.5" r="0.85"/><circle cx="280.4" cy="278.6" r="0.85"/><circle cx="297.2" cy="275.1" r="0.85"/><circle cx="349.8" cy="277.7" r="0.85"/><circle cx="284.9" cy="279.2" r="0.85"/><circle cx="314.7" cy="276.1" r="0.85"/><circle cx="367.6" cy="277.2" r="0.85"/><circle cx="284.3" cy="277" r="0.85"/><circle cx="313.2" cy="274.7" r="0.85"/><circle cx="337.8" cy="276.6" r="0.85"/><circle cx="353.8" cy="279.2" r="0.85"/><circle cx="350.4" cy="279.5" r="0.85"/><circle cx="318.8" cy="276.5" r="0.85"/><circle cx="325.5" cy="280.5" r="0.85"/><circle cx="316.7" cy="279.2" r="0.85"/><circle cx="297.7" cy="278.5" r="0.85"/><circle cx="312" cy="279.9" r="0.85"/><circle cx="340.3" cy="271.8" r="0.85"/><circle cx="367.6" cy="279.3" r="0.85"/><circle cx="293" cy="278.7" r="0.85"/><circle cx="330.8" cy="274.9" r="0.85"/><circle cx="330.3" cy="277.2" r="0.85"/><circle cx="372.9" cy="264" r="0.85"/><circle cx="352.6" cy="278.5" r="0.85"/><circle cx="348.8" cy="280.8" r="0.85"/><circle cx="367.6" cy="270.1" r="0.85"/><circle cx="365.2" cy="275.5" r="0.85"/><circle cx="342.9" cy="279.2" r="0.85"/><circle cx="365.2" cy="279.3" r="0.85"/><circle cx="269.8" cy="279.7" r="0.85"/><circle cx="338.1" cy="276.7" r="0.85"/><circle cx="352.9" cy="271.4" r="0.85"/><circle cx="350.1" cy="267.4" r="0.85"/><circle cx="275.8" cy="280.7" r="0.85"/><circle cx="298.9" cy="280.5" r="0.85"/><circle cx="326.3" cy="274.6" r="0.85"/><circle cx="287.8" cy="278" r="0.85"/><circle cx="294.6" cy="281" r="0.85"/><circle cx="296.5" cy="279.7" r="0.85"/><circle cx="340.5" cy="271.2" r="0.85"/><circle cx="275.9" cy="278.2" r="0.85"/><circle cx="317.2" cy="275.7" r="0.85"/><circle cx="284.4" cy="273.9" r="0.85"/><circle cx="297.6" cy="277.2" r="0.85"/><circle cx="311.4" cy="276.7" r="0.85"/><circle cx="360.6" cy="272" r="0.85"/><circle cx="304.4" cy="273.1" r="0.85"/><circle cx="287.2" cy="273.8" r="0.85"/><circle cx="339" cy="279.5" r="0.85"/><circle cx="371.5" cy="266.3" r="0.85"/><circle cx="321.8" cy="273.5" r="0.85"/><circle cx="278.7" cy="279.7" r="0.85"/><circle cx="318.7" cy="271.7" r="0.85"/><circle cx="307.4" cy="272.3" r="0.85"/><circle cx="329.3" cy="274.6" r="0.85"/><circle cx="350.3" cy="280" r="0.85"/><circle cx="364.5" cy="272.3" r="0.85"/><circle cx="281.6" cy="280.4" r="0.85"/><circle cx="352.1" cy="273.8" r="0.85"/><circle cx="365.4" cy="266.7" r="0.85"/><circle cx="326.1" cy="277.9" r="0.85"/><circle cx="348.2" cy="267.6" r="0.85"/><circle cx="300.8" cy="277.7" r="0.85"/><circle cx="281.2" cy="280.9" r="0.85"/><circle cx="275.3" cy="279.1" r="0.85"/><circle cx="333.2" cy="272.8" r="0.85"/><circle cx="347" cy="268.4" r="0.85"/><circle cx="295.5" cy="274.6" r="0.85"/><circle cx="302.3" cy="278.8" r="0.85"/><circle cx="325.5" cy="271" r="0.85"/><circle cx="317.2" cy="280.8" r="0.85"/><circle cx="307" cy="276.9" r="0.85"/><circle cx="340" cy="280.2" r="0.85"/><circle cx="298.5" cy="280.3" r="0.85"/><circle cx="322.3" cy="278.2" r="0.85"/><circle cx="302.1" cy="277.7" r="0.85"/><circle cx="347.3" cy="274" r="0.85"/><circle cx="345.3" cy="277.3" r="0.85"/><circle cx="365.3" cy="280" r="0.85"/><circle cx="276.4" cy="280.7" r="0.85"/><circle cx="318.9" cy="278.8" r="0.85"/><circle cx="289.6" cy="281" r="0.85"/><circle cx="350.9" cy="280.7" r="0.85"/><circle cx="334.6" cy="271.5" r="0.85"/><circle cx="295.1" cy="277.2" r="0.85"/><circle cx="360.9" cy="275.3" r="0.85"/><circle cx="364.6" cy="280.8" r="0.85"/><circle cx="328.5" cy="273.9" r="0.85"/><circle cx="320.3" cy="273.2" r="0.85"/><circle cx="371.1" cy="266.9" r="0.85"/><circle cx="318.7" cy="274.9" r="0.85"/><circle cx="359.6" cy="271.9" r="0.85"/><circle cx="273.7" cy="280.1" r="0.85"/><circle cx="332.5" cy="280.5" r="0.85"/><circle cx="285.5" cy="273.7" r="0.85"/><circle cx="321.2" cy="271.2" r="0.85"/><circle cx="356.1" cy="268.7" r="0.85"/><circle cx="312.6" cy="279.7" r="0.85"/><circle cx="275.8" cy="280.1" r="0.85"/><circle cx="320.6" cy="275.9" r="0.85"/><circle cx="284.5" cy="278.4" r="0.85"/><circle cx="307.3" cy="273.6" r="0.85"/><circle cx="300" cy="274.7" r="0.85"/><circle cx="336" cy="271.9" r="0.85"/><circle cx="298" cy="279.6" r="0.85"/><circle cx="319.6" cy="279.4" r="0.85"/><circle cx="331.6" cy="271.6" r="0.85"/><circle cx="324.3" cy="279.9" r="0.85"/><circle cx="274.4" cy="277.1" r="0.85"/><circle cx="315.4" cy="281" r="0.85"/><circle cx="307.2" cy="274.5" r="0.85"/><circle cx="334.1" cy="278.7" r="0.85"/><circle cx="368.8" cy="263.7" r="0.85"/><circle cx="271.7" cy="280" r="0.85"/><circle cx="332.4" cy="278.7" r="0.85"/><circle cx="291" cy="275.3" r="0.85"/><circle cx="362.9" cy="274.3" r="0.85"/><circle cx="369.3" cy="272.6" r="0.85"/><circle cx="334.4" cy="276.9" r="0.85"/><circle cx="351.7" cy="267.5" r="0.85"/><circle cx="321.1" cy="277.3" r="0.85"/><circle cx="351.5" cy="268.8" r="0.85"/><circle cx="337.4" cy="280.2" r="0.85"/><circle cx="282.3" cy="279.1" r="0.85"/><circle cx="273.6" cy="279.2" r="0.85"/><circle cx="306.6" cy="280.5" r="0.85"/><circle cx="283.9" cy="276.9" r="0.85"/><circle cx="361.6" cy="278.8" r="0.85"/><circle cx="344.1" cy="277.4" r="0.85"/><circle cx="270" cy="274.6" r="0.85"/><circle cx="280.4" cy="278.2" r="0.85"/><circle cx="270.7" cy="279.7" r="0.85"/><circle cx="305.7" cy="278.7" r="0.85"/><circle cx="323.1" cy="271.4" r="0.85"/><circle cx="332.7" cy="277.6" r="0.85"/><circle cx="355.6" cy="275.1" r="0.85"/><circle cx="341.7" cy="277.4" r="0.85"/><circle cx="346.7" cy="280.5" r="0.85"/><circle cx="286.9" cy="276.3" r="0.85"/><circle cx="346" cy="277.8" r="0.85"/><circle cx="273.2" cy="277.3" r="0.85"/><circle cx="279.8" cy="279" r="0.85"/><circle cx="353" cy="269.1" r="0.85"/><circle cx="354.5" cy="280.2" r="0.85"/><circle cx="345.1" cy="280.9" r="0.85"/><circle cx="371.2" cy="269" r="0.85"/><circle cx="349.4" cy="269.3" r="0.85"/><circle cx="354.3" cy="269.5" r="0.85"/><circle cx="365.8" cy="280.6" r="0.85"/><circle cx="277.2" cy="276.5" r="0.85"/><circle cx="281.2" cy="275.5" r="0.85"/><circle cx="312.1" cy="274.6" r="0.85"/><circle cx="279.9" cy="277.7" r="0.85"/><circle cx="343.7" cy="273.2" r="0.85"/><circle cx="287.7" cy="279.9" r="0.85"/><circle cx="357.2" cy="268.6" r="0.85"/><circle cx="321.9" cy="281" r="0.85"/><circle cx="343.7" cy="273" r="0.85"/><circle cx="336.4" cy="271.4" r="0.85"/><circle cx="334.8" cy="273.4" r="0.85"/><circle cx="294.7" cy="279.5" r="0.85"/><circle cx="370.9" cy="263.2" r="0.85"/><circle cx="280.1" cy="277.1" r="0.85"/><circle cx="340.3" cy="275.8" r="0.85"/><circle cx="309.3" cy="278.8" r="0.85"/><circle cx="364.9" cy="279.8" r="0.85"/><circle cx="278.2" cy="276.1" r="0.85"/><circle cx="270.4" cy="279" r="0.85"/><circle cx="327.2" cy="275.1" r="0.85"/><circle cx="295.6" cy="276.7" r="0.85"/><circle cx="337.3" cy="273.4" r="0.85"/><circle cx="318" cy="271.9" r="0.85"/><circle cx="315.8" cy="272.3" r="0.85"/><circle cx="310.3" cy="275.1" r="0.85"/><circle cx="299.3" cy="276.7" r="0.85"/><circle cx="347" cy="280.7" r="0.85"/><circle cx="349.5" cy="280.5" r="0.85"/><circle cx="351.1" cy="279.9" r="0.85"/><circle cx="293.9" cy="279.4" r="0.85"/><circle cx="296.2" cy="277" r="0.85"/><circle cx="305.2" cy="274.4" r="0.85"/><circle cx="308.5" cy="274.6" r="0.85"/><circle cx="301.8" cy="277.5" r="0.85"/><circle cx="330.1" cy="278.6" r="0.85"/><circle cx="350.7" cy="273" r="0.85"/><circle cx="326.6" cy="275.3" r="0.85"/><circle cx="292.7" cy="279.3" r="0.85"/><circle cx="360" cy="270.5" r="0.85"/><circle cx="317.3" cy="271.1" r="0.85"/><circle cx="367.1" cy="269.9" r="0.85"/><circle cx="281.4" cy="278.9" r="0.85"/><circle cx="309.9" cy="276.9" r="0.85"/><circle cx="299.8" cy="278.2" r="0.85"/><circle cx="361.1" cy="280.1" r="0.85"/><circle cx="278" cy="277.9" r="0.85"/><circle cx="270.6" cy="279.2" r="0.85"/><circle cx="294.8" cy="275.5" r="0.85"/><circle cx="288.1" cy="277.8" r="0.85"/><circle cx="359.4" cy="270.9" r="0.85"/><circle cx="309.7" cy="280" r="0.85"/><circle cx="367.3" cy="268.6" r="0.85"/><circle cx="340.6" cy="279.4" r="0.85"/><circle cx="293.9" cy="274.5" r="0.85"/><circle cx="355.4" cy="267.7" r="0.85"/><circle cx="300.6" cy="275.9" r="0.85"/><circle cx="353.7" cy="266.9" r="0.85"/><circle cx="343.1" cy="280.7" r="0.85"/><circle cx="274.4" cy="279.7" r="0.85"/><circle cx="352" cy="277.4" r="0.85"/><circle cx="274.1" cy="278.4" r="0.85"/><circle cx="285.8" cy="278.7" r="0.85"/><circle cx="342.5" cy="276.6" r="0.85"/><circle cx="325.3" cy="276.9" r="0.85"/><circle cx="369.1" cy="265" r="0.85"/><circle cx="322.1" cy="280.4" r="0.85"/><circle cx="341.4" cy="280.2" r="0.85"/><circle cx="269.9" cy="280.7" r="0.85"/><circle cx="314.7" cy="273.2" r="0.85"/><circle cx="320.7" cy="273.9" r="0.85"/><circle cx="324.1" cy="274.5" r="0.85"/><circle cx="323" cy="274.4" r="0.85"/><circle cx="305.9" cy="279.5" r="0.85"/><circle cx="351.7" cy="269.8" r="0.85"/><circle cx="351.3" cy="272" r="0.85"/><circle cx="351.5" cy="273.7" r="0.85"/><circle cx="338" cy="274.9" r="0.85"/><circle cx="310.6" cy="280.9" r="0.85"/><circle cx="359.2" cy="266.4" r="0.85"/><circle cx="302.6" cy="278.3" r="0.85"/><circle cx="280.6" cy="274.3" r="0.85"/><circle cx="276.9" cy="278.7" r="0.85"/><circle cx="271.6" cy="275.2" r="0.85"/><circle cx="341.5" cy="273.5" r="0.85"/><circle cx="328.9" cy="275" r="0.85"/><circle cx="363.2" cy="280.3" r="0.85"/><circle cx="297" cy="280.6" r="0.85"/><circle cx="318" cy="280.7" r="0.85"/><circle cx="335.3" cy="275.9" r="0.85"/><circle cx="343.8" cy="271.9" r="0.85"/><circle cx="275.8" cy="280.9" r="0.85"/><circle cx="315.2" cy="277" r="0.85"/><circle cx="343" cy="278.4" r="0.85"/><circle cx="366.4" cy="273.5" r="0.85"/><circle cx="319.8" cy="275.1" r="0.85"/><circle cx="363.7" cy="269.4" r="0.85"/><circle cx="361.6" cy="279.3" r="0.85"/><circle cx="280.2" cy="281" r="0.85"/><circle cx="331.4" cy="274.5" r="0.85"/><circle cx="289.2" cy="277.1" r="0.85"/><circle cx="290.6" cy="277.2" r="0.85"/><circle cx="371" cy="266.1" r="0.85"/><circle cx="297.8" cy="280.8" r="0.85"/><circle cx="294.3" cy="277.6" r="0.85"/><circle cx="304.3" cy="278.1" r="0.85"/><circle cx="322.6" cy="272.2" r="0.85"/><circle cx="305.8" cy="278.4" r="0.85"/><circle cx="302.4" cy="277.3" r="0.85"/><circle cx="285.4" cy="277.9" r="0.85"/><circle cx="322.7" cy="273.6" r="0.85"/><circle cx="326.1" cy="272.1" r="0.85"/><circle cx="303.9" cy="277.9" r="0.85"/><circle cx="305.5" cy="281" r="0.85"/><circle cx="344.2" cy="273.6" r="0.85"/><circle cx="369.2" cy="280.7" r="0.85"/><circle cx="358.3" cy="268.9" r="0.85"/><circle cx="362.4" cy="279.7" r="0.85"/><circle cx="296.2" cy="275.8" r="0.85"/><circle cx="339.3" cy="280.6" r="0.85"/><circle cx="272.8" cy="274.2" r="0.85"/><circle cx="343.9" cy="277.8" r="0.85"/><circle cx="317.8" cy="280.1" r="0.85"/><circle cx="299" cy="273.4" r="0.85"/><circle cx="278.6" cy="274.3" r="0.85"/><circle cx="349.7" cy="277.2" r="0.85"/><circle cx="347.9" cy="274.9" r="0.85"/><circle cx="335.3" cy="276.3" r="0.85"/><circle cx="312.6" cy="272.3" r="0.85"/><circle cx="348.5" cy="276.9" r="0.85"/><circle cx="324.9" cy="279.2" r="0.85"/><circle cx="282.4" cy="279.7" r="0.85"/><circle cx="357.9" cy="278.7" r="0.85"/><circle cx="296.8" cy="280.9" r="0.85"/><circle cx="370.9" cy="278.1" r="0.85"/><circle cx="288.6" cy="276.2" r="0.85"/><circle cx="278.6" cy="275.5" r="0.85"/><circle cx="343.8" cy="280.9" r="0.85"/><circle cx="351" cy="279.1" r="0.85"/><circle cx="278.7" cy="276" r="0.85"/><circle cx="365.9" cy="276.5" r="0.85"/><circle cx="299.1" cy="277.9" r="0.85"/><circle cx="350.6" cy="266.6" r="0.85"/><circle cx="339.6" cy="278.3" r="0.85"/><circle cx="317.6" cy="272.8" r="0.85"/><circle cx="296.9" cy="278.9" r="0.85"/><circle cx="288.6" cy="273.5" r="0.85"/><circle cx="351" cy="278.8" r="0.85"/><circle cx="349.8" cy="267.5" r="0.85"/><circle cx="300.6" cy="279.2" r="0.85"/><circle cx="298.2" cy="274.6" r="0.85"/><circle cx="315.9" cy="273.1" r="0.85"/><circle cx="309.6" cy="274.9" r="0.85"/><circle cx="368.2" cy="274.3" r="0.85"/><circle cx="287.8" cy="274.6" r="0.85"/><circle cx="369.1" cy="275.8" r="0.85"/><circle cx="360.7" cy="263.8" r="0.85"/><circle cx="369.6" cy="265.8" r="0.85"/><circle cx="316.2" cy="262.1" r="0.85"/><circle cx="293.3" cy="263.8" r="0.85"/><circle cx="297.5" cy="264.4" r="0.85"/><circle cx="269" cy="271" r="0.85"/><circle cx="281" cy="271.5" r="0.85"/><circle cx="311.2" cy="271.5" r="0.85"/><circle cx="340.1" cy="265.6" r="0.85"/><circle cx="340.6" cy="267.9" r="0.85"/><circle cx="370.1" cy="261.4" r="0.85"/><circle cx="297.2" cy="264.5" r="0.85"/><circle cx="312.8" cy="262.7" r="0.85"/><circle cx="292.5" cy="270.6" r="0.85"/><circle cx="300.4" cy="268.6" r="0.85"/><circle cx="306.7" cy="268" r="0.85"/><circle cx="287.3" cy="265.4" r="0.85"/><circle cx="297.6" cy="268.8" r="0.85"/><circle cx="328.5" cy="269.3" r="0.85"/><circle cx="338" cy="263" r="0.85"/><circle cx="347" cy="266.6" r="0.85"/><circle cx="365.3" cy="258.5" r="0.85"/><circle cx="329.8" cy="261.2" r="0.85"/><circle cx="333.9" cy="268.3" r="0.85"/><circle cx="359" cy="260.5" r="0.85"/><circle cx="327.5" cy="262.2" r="0.85"/><circle cx="278.9" cy="269.5" r="0.85"/><circle cx="287.8" cy="269.4" r="0.85"/><circle cx="293.6" cy="265.5" r="0.85"/><circle cx="270.2" cy="270.7" r="0.85"/><circle cx="356.9" cy="257.8" r="0.85"/><circle cx="321.5" cy="267.4" r="0.85"/><circle cx="367.1" cy="261.1" r="0.85"/><circle cx="273.8" cy="272.4" r="0.85"/><circle cx="357.5" cy="262.8" r="0.85"/><circle cx="351.1" cy="263.9" r="0.85"/><circle cx="347.2" cy="263.7" r="0.85"/><circle cx="274.9" cy="269" r="0.85"/><circle cx="317.8" cy="264.3" r="0.85"/><circle cx="372.4" cy="259.2" r="0.85"/><circle cx="314.2" cy="268.2" r="0.85"/><circle cx="299.2" cy="267.2" r="0.85"/><circle cx="287.2" cy="267" r="0.85"/><circle cx="284.1" cy="269.5" r="0.85"/><circle cx="315.6" cy="260.5" r="0.85"/><circle cx="296.3" cy="268.6" r="0.85"/><circle cx="302.3" cy="272.5" r="0.85"/><circle cx="369.6" cy="259.4" r="0.85"/><circle cx="340.9" cy="265.3" r="0.85"/><circle cx="287" cy="270.7" r="0.85"/><circle cx="366.2" cy="258.6" r="0.85"/><circle cx="300.7" cy="269.5" r="0.85"/><circle cx="284.7" cy="264.9" r="0.85"/><circle cx="320" cy="263.1" r="0.85"/><circle cx="297.2" cy="267.8" r="0.85"/><circle cx="297.9" cy="267.1" r="0.85"/><circle cx="350.4" cy="263.2" r="0.85"/><circle cx="314.6" cy="264.2" r="0.85"/><circle cx="369.5" cy="263" r="0.85"/><circle cx="360.1" cy="262.1" r="0.85"/><circle cx="313.7" cy="265.1" r="0.85"/><circle cx="282.3" cy="273.1" r="0.85"/><circle cx="287.2" cy="261.9" r="0.85"/><circle cx="334" cy="262" r="0.85"/><circle cx="346.4" cy="263.1" r="0.85"/><circle cx="345.8" cy="265.1" r="0.85"/><circle cx="282.9" cy="268.9" r="0.85"/><circle cx="338.3" cy="263.2" r="0.85"/><circle cx="282.7" cy="267.6" r="0.85"/><circle cx="330.5" cy="264" r="0.85"/><circle cx="311" cy="267.4" r="0.85"/><circle cx="294.1" cy="264.6" r="0.85"/><circle cx="317.6" cy="270.2" r="0.85"/><circle cx="311" cy="259.7" r="0.85"/><circle cx="292.9" cy="267.1" r="0.85"/><circle cx="370.5" cy="261" r="0.85"/><circle cx="324.4" cy="261" r="0.85"/><circle cx="303.8" cy="271.3" r="0.85"/><circle cx="371.1" cy="259.3" r="0.85"/><circle cx="335.9" cy="268.3" r="0.85"/><circle cx="344.5" cy="263.9" r="0.85"/><circle cx="293.5" cy="265.4" r="0.85"/><circle cx="319.2" cy="260.3" r="0.85"/><circle cx="272.6" cy="273.4" r="0.85"/><circle cx="306" cy="266.6" r="0.85"/><circle cx="299.1" cy="272.5" r="0.85"/><circle cx="337.1" cy="269.8" r="0.85"/><circle cx="293" cy="270.2" r="0.85"/><circle cx="314.5" cy="261.4" r="0.85"/><circle cx="336" cy="262.9" r="0.85"/><circle cx="368.1" cy="257.9" r="0.85"/><circle cx="352.9" cy="261.1" r="0.85"/><circle cx="283.7" cy="271.2" r="0.85"/><circle cx="277.2" cy="272.5" r="0.85"/><circle cx="292.2" cy="263.7" r="0.85"/><circle cx="272.4" cy="269" r="0.85"/><circle cx="358.8" cy="262.4" r="0.85"/><circle cx="315.3" cy="269" r="0.85"/><circle cx="298" cy="267.3" r="0.85"/><circle cx="310.7" cy="263.5" r="0.85"/><circle cx="322.9" cy="264.1" r="0.85"/><circle cx="343.7" cy="267.6" r="0.85"/><circle cx="307.9" cy="265.2" r="0.85"/><circle cx="327.2" cy="260.4" r="0.85"/><circle cx="276.1" cy="267.6" r="0.85"/><circle cx="348.2" cy="261.3" r="0.85"/><circle cx="280.1" cy="271.7" r="0.85"/><circle cx="338.8" cy="266.8" r="0.85"/><circle cx="283" cy="272.6" r="0.85"/><circle cx="293.5" cy="262.3" r="0.85"/><circle cx="345.7" cy="263" r="0.85"/><circle cx="370" cy="262.5" r="0.85"/><circle cx="314.7" cy="268.3" r="0.85"/><circle cx="285.1" cy="269.9" r="0.85"/><circle cx="302.6" cy="264.6" r="0.85"/><circle cx="343.9" cy="268.8" r="0.85"/><circle cx="325.7" cy="268.2" r="0.85"/><circle cx="308.7" cy="264.1" r="0.85"/><circle cx="342.5" cy="267.5" r="0.85"/><circle cx="270.1" cy="270.3" r="0.85"/><circle cx="339.5" cy="267.4" r="0.85"/><circle cx="283.9" cy="266.9" r="0.85"/><circle cx="365.4" cy="257.8" r="0.85"/><circle cx="269.3" cy="269.8" r="0.85"/><circle cx="326.7" cy="270.5" r="0.85"/><circle cx="369.1" cy="260.5" r="0.85"/><circle cx="284.7" cy="263.9" r="0.85"/><circle cx="360.3" cy="262.2" r="0.85"/><circle cx="334" cy="270.5" r="0.85"/><circle cx="325.9" cy="267.6" r="0.85"/><circle cx="310.6" cy="258.9" r="0.85"/><circle cx="362.9" cy="260" r="0.85"/><circle cx="274.6" cy="272.6" r="0.85"/><circle cx="282.2" cy="266.9" r="0.85"/><circle cx="354.7" cy="262" r="0.85"/><circle cx="366.4" cy="262.6" r="0.85"/><circle cx="304.6" cy="265.7" r="0.85"/><circle cx="285.4" cy="271.2" r="0.85"/><circle cx="357.8" cy="259.9" r="0.85"/><circle cx="352.7" cy="265.1" r="0.85"/><circle cx="336.2" cy="266.5" r="0.85"/><circle cx="339.1" cy="267.6" r="0.85"/><circle cx="306.6" cy="266.5" r="0.85"/><circle cx="357.6" cy="258.9" r="0.85"/><circle cx="278.1" cy="273.4" r="0.85"/><circle cx="286.6" cy="263.7" r="0.85"/><circle cx="299.1" cy="272.7" r="0.85"/><circle cx="326.6" cy="268.8" r="0.85"/><circle cx="343.5" cy="268.1" r="0.85"/><circle cx="270.6" cy="269.6" r="0.85"/><circle cx="335.9" cy="268.9" r="0.85"/><circle cx="350.2" cy="261.9" r="0.85"/><circle cx="308" cy="246.2" r="0.85"/><circle cx="350.2" cy="258.1" r="0.85"/><circle cx="343.3" cy="262.3" r="0.85"/><circle cx="349.5" cy="258.7" r="0.85"/><circle cx="283.6" cy="257.7" r="0.85"/><circle cx="325.1" cy="253.8" r="0.85"/><circle cx="292.5" cy="248.7" r="0.85"/><circle cx="337" cy="262.4" r="0.85"/><circle cx="370.7" cy="256.4" r="0.85"/><circle cx="277.6" cy="260.5" r="0.85"/><circle cx="329.4" cy="258.5" r="0.85"/><circle cx="291.2" cy="256.5" r="0.85"/><circle cx="358.2" cy="256.7" r="0.85"/><circle cx="290.7" cy="259.3" r="0.85"/><circle cx="305.5" cy="260.8" r="0.85"/><circle cx="316.5" cy="254.1" r="0.85"/><circle cx="291.7" cy="256.8" r="0.85"/><circle cx="326.4" cy="252.8" r="0.85"/><circle cx="363.9" cy="256.8" r="0.85"/><circle cx="361.8" cy="255.7" r="0.85"/><circle cx="284.8" cy="260.3" r="0.85"/><circle cx="294.6" cy="247.8" r="0.85"/><circle cx="270" cy="268.5" r="0.85"/><circle cx="325.2" cy="257.1" r="0.85"/><circle cx="358.6" cy="256.9" r="0.85"/><circle cx="365" cy="254.3" r="0.85"/><circle cx="358.5" cy="255.5" r="0.85"/><circle cx="274.5" cy="260.2" r="0.85"/><circle cx="309" cy="252.9" r="0.85"/><circle cx="346.8" cy="260.5" r="0.85"/><circle cx="293.6" cy="257.9" r="0.85"/><circle cx="286.1" cy="251.7" r="0.85"/><circle cx="336.6" cy="260.3" r="0.85"/><circle cx="346.4" cy="256.2" r="0.85"/><circle cx="301.5" cy="250.6" r="0.85"/><circle cx="346.4" cy="279.7" r="0.85"/><circle cx="353.5" cy="281" r="0.85"/><circle cx="311.1" cy="280.3" r="0.85"/><circle cx="314.2" cy="279.4" r="0.85"/><circle cx="330.7" cy="279.6" r="0.85"/><circle cx="311" cy="280.3" r="0.85"/><circle cx="298.5" cy="280" r="0.85"/><circle cx="354.1" cy="279.9" r="0.85"/><circle cx="270.9" cy="280.5" r="0.85"/><circle cx="269.6" cy="280.5" r="0.85"/><circle cx="290.5" cy="280.7" r="0.85"/><circle cx="283.6" cy="280.7" r="0.85"/><circle cx="367" cy="280.9" r="0.85"/><circle cx="351.3" cy="279.7" r="0.85"/><circle cx="351.8" cy="280.8" r="0.85"/><circle cx="361.2" cy="279.4" r="0.85"/><circle cx="352.6" cy="279.5" r="0.85"/><circle cx="301.4" cy="279.7" r="0.85"/><circle cx="314.7" cy="281" r="0.85"/><circle cx="326.8" cy="280.8" r="0.85"/><circle cx="360.5" cy="279.8" r="0.85"/><circle cx="323.3" cy="279.6" r="0.85"/><circle cx="365.2" cy="280.6" r="0.85"/><circle cx="328.9" cy="279.8" r="0.85"/><circle cx="273.6" cy="280.6" r="0.85"/><circle cx="368.9" cy="280.3" r="0.85"/><circle cx="365.3" cy="280.2" r="0.85"/><circle cx="363.1" cy="279.5" r="0.85"/><circle cx="343.9" cy="279.7" r="0.85"/><circle cx="359.1" cy="280.1" r="0.85"/><circle cx="302.1" cy="279.8" r="0.85"/><circle cx="364" cy="279.7" r="0.85"/><circle cx="331.7" cy="280.5" r="0.85"/><circle cx="346" cy="280.8" r="0.85"/><circle cx="284" cy="279.9" r="0.85"/><circle cx="296.7" cy="279.8" r="0.85"/><circle cx="345.4" cy="280.5" r="0.85"/><circle cx="371.2" cy="280.6" r="0.85"/><circle cx="314.5" cy="279.9" r="0.85"/><circle cx="273.3" cy="280.3" r="0.85"/><circle cx="327.3" cy="279.5" r="0.85"/><circle cx="364" cy="280.7" r="0.85"/><circle cx="294.3" cy="280.5" r="0.85"/><circle cx="293.2" cy="280.9" r="0.85"/><circle cx="332.3" cy="279.9" r="0.85"/><circle cx="273" cy="279.5" r="0.85"/><circle cx="335.1" cy="279.9" r="0.85"/><circle cx="310.5" cy="279.6" r="0.85"/><circle cx="351.8" cy="280.4" r="0.85"/><circle cx="326.2" cy="279.6" r="0.85"/><circle cx="332.3" cy="280.9" r="0.85"/><circle cx="272" cy="279.6" r="0.85"/><circle cx="342.3" cy="280.2" r="0.85"/><circle cx="328.2" cy="280.3" r="0.85"/><circle cx="275.2" cy="279.9" r="0.85"/><circle cx="274.8" cy="280.6" r="0.85"/><circle cx="318.4" cy="280.3" r="0.85"/><circle cx="335" cy="279.7" r="0.85"/><circle cx="315.4" cy="280.2" r="0.85"/><circle cx="328.5" cy="279.9" r="0.85"/><circle cx="292.6" cy="280.5" r="0.85"/><circle cx="357.4" cy="280.4" r="0.85"/><circle cx="324.5" cy="279.6" r="0.85"/><circle cx="328.9" cy="279.5" r="0.85"/><circle cx="318.4" cy="280.5" r="0.85"/><circle cx="319.8" cy="280.3" r="0.85"/><circle cx="330.6" cy="279.5" r="0.85"/><circle cx="357.2" cy="280.3" r="0.85"/><circle cx="302.1" cy="280.9" r="0.85"/><circle cx="276.9" cy="279.7" r="0.85"/><circle cx="318.4" cy="279.9" r="0.85"/><circle cx="371.4" cy="280.1" r="0.85"/><circle cx="358.1" cy="280.3" r="0.85"/><circle cx="290.3" cy="279.8" r="0.85"/><circle cx="312.4" cy="280.7" r="0.85"/><circle cx="355.9" cy="279.5" r="0.85"/><circle cx="292.9" cy="279.9" r="0.85"/><circle cx="344.2" cy="280.4" r="0.85"/><circle cx="312.3" cy="279.6" r="0.85"/><circle cx="274.1" cy="280.6" r="0.85"/><circle cx="324.2" cy="280.6" r="0.85"/><circle cx="353.7" cy="279.5" r="0.85"/><circle cx="311.2" cy="280.2" r="0.85"/><circle cx="369.9" cy="280" r="0.85"/><circle cx="335" cy="280.3" r="0.85"/><circle cx="335" cy="280.3" r="0.85"/><circle cx="348.1" cy="280.8" r="0.85"/><circle cx="362.9" cy="280" r="0.85"/><circle cx="367.3" cy="280.2" r="0.85"/><circle cx="348.8" cy="280.4" r="0.85"/><circle cx="370.1" cy="280.7" r="0.85"/><circle cx="295.7" cy="279.5" r="0.85"/><circle cx="284.2" cy="280.8" r="0.85"/><circle cx="352.8" cy="279.6" r="0.85"/><circle cx="342.2" cy="280.6" r="0.85"/><circle cx="294" cy="279.9" r="0.85"/><circle cx="363.6" cy="280.8" r="0.85"/><circle cx="313.6" cy="280.9" r="0.85"/><circle cx="369.8" cy="280.9" r="0.85"/><circle cx="356.2" cy="279.9" r="0.85"/><circle cx="289.4" cy="280.3" r="0.85"/><circle cx="350.2" cy="280.3" r="0.85"/><circle cx="272.3" cy="279.7" r="0.85"/><circle cx="308.3" cy="280.9" r="0.85"/><circle cx="270.3" cy="280.1" r="0.85"/><circle cx="332.1" cy="280.5" r="0.85"/><circle cx="352.2" cy="279.9" r="0.85"/><circle cx="333.4" cy="280.5" r="0.85"/><circle cx="367.6" cy="279.6" r="0.85"/><circle cx="321" cy="280.5" r="0.85"/><circle cx="292" cy="243" r="0.85"/><circle cx="299.8" cy="244.7" r="0.85"/><circle cx="311.6" cy="244.7" r="0.85"/><circle cx="294.3" cy="246.3" r="0.85"/><circle cx="284.5" cy="254.3" r="0.85"/><circle cx="279.7" cy="257.2" r="0.85"/><circle cx="367.4" cy="253.3" r="0.85"/><circle cx="347.9" cy="255.7" r="0.85"/><circle cx="359.7" cy="256.5" r="0.85"/><circle cx="366.7" cy="253.4" r="0.85"/><circle cx="368" cy="252.6" r="0.85"/><circle cx="355" cy="258.9" r="0.85"/><circle cx="350.2" cy="261.2" r="0.85"/><circle cx="344" cy="262.8" r="0.85"/><circle cx="308.5" cy="261.2" r="0.85"/></g>
<g fill="#87cefa" stroke="#5a8fb0" stroke-width="0.3"><circle cx="314.7" cy="269.5" r="0.9"/><circle cx="314.8" cy="269.5" r="0.9"/><circle cx="315.3" cy="269.6" r="0.9"/><circle cx="323.6" cy="271.1" r="0.9"/><circle cx="325.2" cy="272.4" r="0.9"/><circle cx="311.2" cy="268.3" r="0.9"/><circle cx="323.4" cy="271.6" r="0.9"/><circle cx="325.6" cy="271.9" r="0.9"/><circle cx="313.1" cy="268.1" r="0.9"/><circle cx="324" cy="272.1" r="0.9"/><circle cx="325.7" cy="272.5" r="0.9"/><circle cx="326.1" cy="272.6" r="0.9"/><circle cx="316.5" cy="258.6" r="0.9"/><circle cx="318.4" cy="259" r="0.9"/><circle cx="319.4" cy="259.5" r="0.9"/><circle cx="313.9" cy="259" r="0.9"/><circle cx="315" cy="260.1" r="0.9"/></g>
<g fill="#00ee00" stroke="#0a8a0a" stroke-width="0.3"><circle cx="325.5" cy="240.2" r="0.9"/><circle cx="315.7" cy="245.5" r="0.9"/><circle cx="317.1" cy="247.4" r="0.9"/><circle cx="319.3" cy="253.3" r="0.9"/><circle cx="319.5" cy="254.3" r="0.9"/><circle cx="319.8" cy="255.8" r="0.9"/><circle cx="322.7" cy="251.4" r="0.9"/><circle cx="321.7" cy="254.4" r="0.9"/><circle cx="322.5" cy="253.5" r="0.9"/><circle cx="323.6" cy="253.3" r="0.9"/><circle cx="320.2" cy="251.4" r="0.9"/></g>
<g fill="#ffa500" stroke="#b87400" stroke-width="0.3"><circle cx="320.1" cy="253.5" r="0.9"/><circle cx="323" cy="253.7" r="0.9"/><circle cx="324.4" cy="252.3" r="0.9"/><circle cx="321.9" cy="253.1" r="0.9"/><circle cx="324.5" cy="253.7" r="0.9"/><circle cx="320.5" cy="254" r="0.9"/></g>
<g fill="#ff0000" stroke="#5a0000" stroke-width="0.3"><circle cx="322.1" cy="226.6" r="0.9"/><circle cx="323.2" cy="231.3" r="0.9"/><circle cx="324.2" cy="230.2" r="0.9"/><circle cx="318.5" cy="230.5" r="0.9"/><circle cx="320.1" cy="226.5" r="0.9"/><circle cx="322.3" cy="227.2" r="0.9"/><circle cx="320.1" cy="228.4" r="0.9"/><circle cx="319.7" cy="228.7" r="0.9"/><circle cx="321.4" cy="228" r="0.9"/><circle cx="324.7" cy="230.4" r="0.9"/><circle cx="321.3" cy="229.8" r="0.9"/><circle cx="324.7" cy="230.1" r="0.9"/><circle cx="323.9" cy="228.3" r="0.9"/><circle cx="320.2" cy="226.4" r="0.9"/><circle cx="323.9" cy="230.4" r="0.9"/><circle cx="324.4" cy="227.3" r="0.9"/></g>
<path d="M322 224.3L323.3 225.6L322 226.9L320.7 225.6Z" fill="#7b3fd6" stroke="#4a2090" stroke-width="0.4"/>
<rect x="268.2" y="188.8" width="105.5" height="96.3" fill="none" stroke="#666" stroke-width="0.8"/>
<text x="304.9" y="223" font-size="5.6" textLength="27.1" lengthAdjust="spacingAndGlyphs" fill="#3a3a3a">rs5011432</text>
<rect x="268.4" y="288.6" width="105.4" height="4.4" fill="#fff" stroke="#666" stroke-width="0.6"/>
<text x="306.2" y="291" font-size="2.6" textLength="16" lengthAdjust="spacingAndGlyphs" fill="#3a3a3a">TMEM106B</text>
<text x="324.8" y="291" font-size="2.6" textLength="2.5" lengthAdjust="spacingAndGlyphs" fill="#5060b0">→</text>
<text x="345.3" y="291" font-size="2.6" textLength="2" lengthAdjust="spacingAndGlyphs" fill="#5060b0">←</text>
<text x="348.4" y="291" font-size="2.6" textLength="10" lengthAdjust="spacingAndGlyphs" fill="#3a3a3a">VWDE</text>
<line x1="314.2" y1="292.1" x2="319.9" y2="292.1" stroke="#1a1a9a" stroke-width="0.3"/>
<rect x="314.43" y="291.6" width="1.44" height="1" fill="#1a1a9a"/>
<rect x="316.33" y="291.6" width="1.44" height="1" fill="#1a1a9a"/>
<rect x="318.23" y="291.6" width="1.44" height="1" fill="#1a1a9a"/>
<line x1="344.1" y1="292.1" x2="359.8" y2="292.1" stroke="#1a1a9a" stroke-width="0.3"/>
<rect x="344.37" y="291.6" width="1.70" height="1" fill="#1a1a9a"/>
<rect x="346.61" y="291.6" width="1.70" height="1" fill="#1a1a9a"/>
<rect x="348.85" y="291.6" width="1.70" height="1" fill="#1a1a9a"/>
<rect x="351.10" y="291.6" width="1.70" height="1" fill="#1a1a9a"/>
<rect x="353.34" y="291.6" width="1.70" height="1" fill="#1a1a9a"/>
<rect x="355.58" y="291.6" width="1.70" height="1" fill="#1a1a9a"/>
<rect x="357.83" y="291.6" width="1.70" height="1" fill="#1a1a9a"/>
<line x1="288.5" y1="293" x2="288.5" y2="295.3" stroke="#555" stroke-width="0.5"/>
<text x="288.5" y="304.4" font-size="7.1" text-anchor="middle" textLength="9.6" lengthAdjust="spacingAndGlyphs" fill="#2a2a2a">12.1</text>
<line x1="308.4" y1="293" x2="308.4" y2="295.3" stroke="#555" stroke-width="0.5"/>
<text x="308.4" y="304.4" font-size="7.1" text-anchor="middle" textLength="9.6" lengthAdjust="spacingAndGlyphs" fill="#2a2a2a">12.2</text>
<line x1="328.4" y1="293" x2="328.4" y2="295.3" stroke="#555" stroke-width="0.5"/>
<text x="328.4" y="304.4" font-size="7.1" text-anchor="middle" textLength="9.6" lengthAdjust="spacingAndGlyphs" fill="#2a2a2a">12.3</text>
<line x1="348.4" y1="293" x2="348.4" y2="295.3" stroke="#555" stroke-width="0.5"/>
<text x="348.4" y="304.4" font-size="7.1" text-anchor="middle" textLength="9.6" lengthAdjust="spacingAndGlyphs" fill="#2a2a2a">12.4</text>
<line x1="368.3" y1="293" x2="368.3" y2="295.3" stroke="#555" stroke-width="0.5"/>
<text x="368.3" y="304.4" font-size="7.1" text-anchor="middle" textLength="9.6" lengthAdjust="spacingAndGlyphs" fill="#2a2a2a">12.5</text>
<text x="321.2" y="315.8" font-size="7.2" text-anchor="middle" textLength="72.2" lengthAdjust="spacingAndGlyphs">Position on chr7 (Mb)</text>
<text x="394.6" y="169.6" font-size="13.5" font-weight="bold" textLength="5" lengthAdjust="spacingAndGlyphs" fill="#000">f</text>
<text x="420.7" y="179.8" font-size="7.4" text-anchor="end" textLength="24" lengthAdjust="spacingAndGlyphs">Plotted</text>
<text x="420.7" y="189" font-size="7.4" text-anchor="end" textLength="17.2" lengthAdjust="spacingAndGlyphs">SNPs</text>
<text x="476" y="176.6" font-size="7.4" text-anchor="middle" textLength="70.5" lengthAdjust="spacingAndGlyphs">Wightman et al. 2021</text>
<rect x="423.9" y="180.7" width="105.4" height="2.3" fill="#3f3f3f"/>
<line x1="419.8" y1="280.9" x2="423.2" y2="280.9" stroke="#666" stroke-width="0.6"/>
<text x="418.6" y="283.4" font-size="6.8" text-anchor="end" textLength="3.2" lengthAdjust="spacingAndGlyphs" fill="#3a3a3a">0</text>
<line x1="419.8" y1="263.4" x2="423.2" y2="263.4" stroke="#666" stroke-width="0.6"/>
<text x="418.6" y="265.9" font-size="6.8" text-anchor="end" textLength="3.2" lengthAdjust="spacingAndGlyphs" fill="#3a3a3a">2</text>
<line x1="419.8" y1="245.9" x2="423.2" y2="245.9" stroke="#666" stroke-width="0.6"/>
<text x="418.6" y="248.4" font-size="6.8" text-anchor="end" textLength="3.2" lengthAdjust="spacingAndGlyphs" fill="#3a3a3a">4</text>
<line x1="419.8" y1="228.4" x2="423.2" y2="228.4" stroke="#666" stroke-width="0.6"/>
<text x="418.6" y="230.9" font-size="6.8" text-anchor="end" textLength="3.2" lengthAdjust="spacingAndGlyphs" fill="#3a3a3a">6</text>
<line x1="419.8" y1="210.9" x2="423.2" y2="210.9" stroke="#666" stroke-width="0.6"/>
<text x="418.6" y="213.4" font-size="6.8" text-anchor="end" textLength="3.2" lengthAdjust="spacingAndGlyphs" fill="#3a3a3a">8</text>
<line x1="419.8" y1="193.4" x2="423.2" y2="193.4" stroke="#666" stroke-width="0.6"/>
<text x="418.6" y="195.9" font-size="6.8" text-anchor="end" textLength="5.6" lengthAdjust="spacingAndGlyphs" fill="#3a3a3a">10</text>
<text x="406" y="236.9" font-size="7.6" text-anchor="middle" textLength="28.2" lengthAdjust="spacingAndGlyphs" transform="rotate(-90 406 236.9)" fill="#2a2a2a">-log<tspan font-size="4.8" dy="1.6">10</tspan><tspan dy="-1.6">(</tspan><tspan font-style="italic">P</tspan>)</text>
<rect x="509.8" y="197.8" width="2.9" height="3.5" fill="#ff0000"/>
<rect x="509.8" y="201.3" width="2.9" height="3.5" fill="#ffa500"/>
<rect x="509.8" y="204.8" width="2.9" height="3.5" fill="#00ee00"/>
<rect x="509.8" y="208.2" width="2.9" height="3.5" fill="#87cefa"/>
<rect x="509.8" y="211.7" width="2.9" height="3.5" fill="#000080"/>
<rect x="509.8" y="197.8" width="2.9" height="17.4" fill="none" stroke="#222" stroke-width="0.3"/>
<line x1="512.7" y1="201.3" x2="515" y2="201.3" stroke="#333" stroke-width="0.45"/>
<text x="515.6" y="202.8" font-size="4.6" textLength="6.7" lengthAdjust="spacingAndGlyphs" fill="#444">0.8</text>
<line x1="512.7" y1="204.8" x2="515" y2="204.8" stroke="#333" stroke-width="0.45"/>
<text x="515.6" y="206.3" font-size="4.6" textLength="6.7" lengthAdjust="spacingAndGlyphs" fill="#444">0.6</text>
<line x1="512.7" y1="208.2" x2="515" y2="208.2" stroke="#333" stroke-width="0.45"/>
<text x="515.6" y="209.7" font-size="4.6" textLength="6.7" lengthAdjust="spacingAndGlyphs" fill="#444">0.4</text>
<line x1="512.7" y1="211.7" x2="515" y2="211.7" stroke="#333" stroke-width="0.45"/>
<text x="515.6" y="213.2" font-size="4.6" textLength="6.7" lengthAdjust="spacingAndGlyphs" fill="#444">0.2</text>
<text x="514.1" y="196.4" font-size="6.0" font-style="italic" fill="#333">r<tspan font-size="3.8" dy="-2.4">2</tspan></text>
<g fill="#000080" stroke="#26262e" stroke-width="0.38"><circle cx="439.3" cy="275.4" r="0.85"/><circle cx="441.6" cy="273.6" r="0.85"/><circle cx="487.2" cy="279.3" r="0.85"/><circle cx="488.2" cy="278.2" r="0.85"/><circle cx="428.4" cy="277.9" r="0.85"/><circle cx="488.5" cy="278.5" r="0.85"/><circle cx="515.5" cy="277" r="0.85"/><circle cx="463.2" cy="279.9" r="0.85"/><circle cx="437.2" cy="273.6" r="0.85"/><circle cx="495.8" cy="277.9" r="0.85"/><circle cx="469.9" cy="278.2" r="0.85"/><circle cx="447" cy="275.8" r="0.85"/><circle cx="439" cy="275.4" r="0.85"/><circle cx="489.6" cy="277.5" r="0.85"/><circle cx="449.6" cy="280.6" r="0.85"/><circle cx="458.6" cy="275.9" r="0.85"/><circle cx="477" cy="276.6" r="0.85"/><circle cx="468.8" cy="278.9" r="0.85"/><circle cx="518.5" cy="280.5" r="0.85"/><circle cx="445.5" cy="274.7" r="0.85"/><circle cx="489.7" cy="279.1" r="0.85"/><circle cx="482" cy="279" r="0.85"/><circle cx="493.6" cy="275.9" r="0.85"/><circle cx="509.9" cy="277.7" r="0.85"/><circle cx="472.9" cy="274.7" r="0.85"/><circle cx="470.5" cy="277.3" r="0.85"/><circle cx="514.4" cy="277.4" r="0.85"/><circle cx="464.6" cy="275.8" r="0.85"/><circle cx="486.5" cy="275.7" r="0.85"/><circle cx="488.8" cy="278.4" r="0.85"/><circle cx="525.4" cy="278.5" r="0.85"/><circle cx="465.4" cy="274" r="0.85"/><circle cx="522.3" cy="280.4" r="0.85"/><circle cx="431.4" cy="274.4" r="0.85"/><circle cx="515.9" cy="279.3" r="0.85"/><circle cx="450.4" cy="274.5" r="0.85"/><circle cx="521.9" cy="280.3" r="0.85"/><circle cx="470.6" cy="277" r="0.85"/><circle cx="446.9" cy="277.3" r="0.85"/><circle cx="438.8" cy="277.1" r="0.85"/><circle cx="447.9" cy="280.6" r="0.85"/><circle cx="464.4" cy="280.4" r="0.85"/><circle cx="436.3" cy="280.3" r="0.85"/><circle cx="467.4" cy="279.4" r="0.85"/><circle cx="499.8" cy="279.2" r="0.85"/><circle cx="449.2" cy="279.8" r="0.85"/><circle cx="454.9" cy="274.9" r="0.85"/><circle cx="444.9" cy="276.4" r="0.85"/><circle cx="508" cy="276.3" r="0.85"/><circle cx="472.1" cy="275.6" r="0.85"/><circle cx="490.8" cy="280.2" r="0.85"/><circle cx="433.6" cy="280.2" r="0.85"/><circle cx="506.2" cy="279.3" r="0.85"/><circle cx="511.2" cy="275.3" r="0.85"/><circle cx="519.7" cy="278.8" r="0.85"/><circle cx="424.7" cy="279.9" r="0.85"/><circle cx="446.7" cy="274.1" r="0.85"/><circle cx="497" cy="275.6" r="0.85"/><circle cx="497.4" cy="275.3" r="0.85"/><circle cx="490.4" cy="278.8" r="0.85"/><circle cx="511.1" cy="280" r="0.85"/><circle cx="505" cy="277.1" r="0.85"/><circle cx="514.2" cy="280.9" r="0.85"/><circle cx="443.5" cy="269.4" r="0.85"/><circle cx="438.7" cy="277.4" r="0.85"/><circle cx="486.6" cy="278.8" r="0.85"/><circle cx="515.5" cy="275.4" r="0.85"/><circle cx="459.5" cy="280.4" r="0.85"/><circle cx="519.2" cy="278.9" r="0.85"/><circle cx="449.8" cy="280.2" r="0.85"/><circle cx="424.8" cy="277.9" r="0.85"/><circle cx="453.2" cy="276.6" r="0.85"/><circle cx="520.2" cy="278.7" r="0.85"/><circle cx="523.2" cy="280.8" r="0.85"/><circle cx="502.9" cy="276.9" r="0.85"/><circle cx="523.8" cy="280.9" r="0.85"/><circle cx="476.7" cy="278" r="0.85"/><circle cx="486.2" cy="278.8" r="0.85"/><circle cx="452.3" cy="272.2" r="0.85"/><circle cx="515.4" cy="277.3" r="0.85"/><circle cx="523.8" cy="278.3" r="0.85"/><circle cx="432.2" cy="275.9" r="0.85"/><circle cx="434.8" cy="274.9" r="0.85"/><circle cx="491.5" cy="280.3" r="0.85"/><circle cx="439.8" cy="280.7" r="0.85"/><circle cx="442.3" cy="269.4" r="0.85"/><circle cx="447.7" cy="270.9" r="0.85"/><circle cx="437.9" cy="278.6" r="0.85"/><circle cx="473.1" cy="279.3" r="0.85"/><circle cx="524.4" cy="280.1" r="0.85"/><circle cx="474.3" cy="280.2" r="0.85"/><circle cx="435.3" cy="275.5" r="0.85"/><circle cx="459.2" cy="277.8" r="0.85"/><circle cx="496.1" cy="280.8" r="0.85"/><circle cx="429.6" cy="276.4" r="0.85"/><circle cx="527.4" cy="281" r="0.85"/><circle cx="471" cy="274.1" r="0.85"/><circle cx="510.7" cy="275.1" r="0.85"/><circle cx="479" cy="274.8" r="0.85"/><circle cx="429.7" cy="278.2" r="0.85"/><circle cx="512.2" cy="279.3" r="0.85"/><circle cx="469.8" cy="278.6" r="0.85"/><circle cx="463.5" cy="275" r="0.85"/><circle cx="525.3" cy="280.2" r="0.85"/><circle cx="457.5" cy="274.5" r="0.85"/><circle cx="501.4" cy="276.5" r="0.85"/><circle cx="494.9" cy="275.7" r="0.85"/><circle cx="511.9" cy="277.8" r="0.85"/><circle cx="453.5" cy="280.7" r="0.85"/><circle cx="513.5" cy="276.1" r="0.85"/><circle cx="516.8" cy="280" r="0.85"/><circle cx="500.8" cy="275.6" r="0.85"/><circle cx="445.4" cy="280.9" r="0.85"/><circle cx="442" cy="279.5" r="0.85"/><circle cx="494.8" cy="276.4" r="0.85"/><circle cx="509.2" cy="277.4" r="0.85"/><circle cx="525.8" cy="275.2" r="0.85"/><circle cx="469.7" cy="274.7" r="0.85"/><circle cx="498.8" cy="280.1" r="0.85"/><circle cx="484.9" cy="280.4" r="0.85"/><circle cx="465.6" cy="275.3" r="0.85"/><circle cx="424.9" cy="278.2" r="0.85"/><circle cx="469.3" cy="279.7" r="0.85"/><circle cx="430.6" cy="277.7" r="0.85"/><circle cx="458.7" cy="280.6" r="0.85"/><circle cx="465.7" cy="276.5" r="0.85"/><circle cx="432.2" cy="275" r="0.85"/><circle cx="432.6" cy="278" r="0.85"/><circle cx="462.1" cy="274.5" r="0.85"/><circle cx="516.9" cy="277" r="0.85"/><circle cx="454.6" cy="279" r="0.85"/><circle cx="509.8" cy="278.6" r="0.85"/><circle cx="490.1" cy="277.1" r="0.85"/><circle cx="443.9" cy="277.5" r="0.85"/><circle cx="523.3" cy="279.6" r="0.85"/><circle cx="512.3" cy="280.5" r="0.85"/><circle cx="425.4" cy="278.4" r="0.85"/><circle cx="453.4" cy="276.2" r="0.85"/><circle cx="504.1" cy="280.9" r="0.85"/><circle cx="475.9" cy="279.3" r="0.85"/><circle cx="518.3" cy="276.2" r="0.85"/><circle cx="516.1" cy="277" r="0.85"/><circle cx="460" cy="276.6" r="0.85"/><circle cx="480.6" cy="279.4" r="0.85"/><circle cx="454.1" cy="275.8" r="0.85"/><circle cx="517.3" cy="280.1" r="0.85"/><circle cx="461" cy="280.3" r="0.85"/><circle cx="461.9" cy="278.7" r="0.85"/><circle cx="433.7" cy="276.2" r="0.85"/><circle cx="459.7" cy="274.7" r="0.85"/><circle cx="449.2" cy="273.5" r="0.85"/><circle cx="526" cy="280.5" r="0.85"/><circle cx="462.5" cy="273.3" r="0.85"/><circle cx="465.9" cy="279.3" r="0.85"/><circle cx="439.9" cy="272.5" r="0.85"/><circle cx="457.9" cy="273.8" r="0.85"/><circle cx="482" cy="280.4" r="0.85"/><circle cx="527.3" cy="275.8" r="0.85"/><circle cx="501.9" cy="278" r="0.85"/><circle cx="502.4" cy="275.4" r="0.85"/><circle cx="444.5" cy="279.1" r="0.85"/><circle cx="503.3" cy="279.2" r="0.85"/><circle cx="526.5" cy="276.3" r="0.85"/><circle cx="478.2" cy="280.5" r="0.85"/><circle cx="487.7" cy="278" r="0.85"/><circle cx="484.4" cy="276.7" r="0.85"/><circle cx="473.7" cy="275.2" r="0.85"/><circle cx="485.9" cy="280.5" r="0.85"/><circle cx="509.4" cy="280.5" r="0.85"/><circle cx="518.3" cy="275.6" r="0.85"/><circle cx="444.3" cy="279.5" r="0.85"/><circle cx="497.1" cy="278.9" r="0.85"/><circle cx="462.9" cy="275.6" r="0.85"/><circle cx="458.9" cy="280.5" r="0.85"/><circle cx="481.3" cy="275.8" r="0.85"/><circle cx="523.9" cy="280.7" r="0.85"/><circle cx="501.6" cy="279.7" r="0.85"/><circle cx="525.1" cy="279.3" r="0.85"/><circle cx="434.6" cy="279" r="0.85"/><circle cx="477.6" cy="280.4" r="0.85"/><circle cx="504.1" cy="279.7" r="0.85"/><circle cx="501.2" cy="280.2" r="0.85"/><circle cx="475.1" cy="277.2" r="0.85"/><circle cx="445.4" cy="278.6" r="0.85"/><circle cx="511.4" cy="279.3" r="0.85"/><circle cx="460.2" cy="276.7" r="0.85"/><circle cx="495.9" cy="276.1" r="0.85"/><circle cx="482.8" cy="276" r="0.85"/><circle cx="516.9" cy="275.6" r="0.85"/><circle cx="519.7" cy="277.3" r="0.85"/><circle cx="496.4" cy="279.3" r="0.85"/><circle cx="435" cy="272.9" r="0.85"/><circle cx="467.1" cy="279.3" r="0.85"/><circle cx="481.1" cy="276.7" r="0.85"/><circle cx="510.4" cy="280.7" r="0.85"/><circle cx="505.6" cy="275.5" r="0.85"/><circle cx="525.8" cy="275.5" r="0.85"/><circle cx="483.5" cy="275.8" r="0.85"/><circle cx="485.5" cy="276.2" r="0.85"/><circle cx="527" cy="279.4" r="0.85"/><circle cx="436.8" cy="274.4" r="0.85"/><circle cx="521.6" cy="275.8" r="0.85"/><circle cx="472.1" cy="278.7" r="0.85"/><circle cx="436.9" cy="273.1" r="0.85"/><circle cx="452.2" cy="280.4" r="0.85"/><circle cx="434.5" cy="272.9" r="0.85"/><circle cx="467.2" cy="275.6" r="0.85"/><circle cx="431.2" cy="278" r="0.85"/><circle cx="501.6" cy="276.8" r="0.85"/><circle cx="443.7" cy="276.4" r="0.85"/><circle cx="508.6" cy="275.7" r="0.85"/><circle cx="433.7" cy="276.8" r="0.85"/><circle cx="516.6" cy="277.9" r="0.85"/><circle cx="505.7" cy="279.8" r="0.85"/><circle cx="475.2" cy="281" r="0.85"/><circle cx="507.1" cy="278.2" r="0.85"/><circle cx="442.8" cy="269.8" r="0.85"/><circle cx="445.9" cy="280.9" r="0.85"/><circle cx="499.4" cy="280.8" r="0.85"/><circle cx="492.5" cy="280.6" r="0.85"/><circle cx="426.3" cy="276.5" r="0.85"/><circle cx="487.8" cy="277.6" r="0.85"/><circle cx="497.8" cy="277.2" r="0.85"/><circle cx="442.3" cy="277.3" r="0.85"/><circle cx="485.6" cy="276.1" r="0.85"/><circle cx="491.2" cy="278.7" r="0.85"/><circle cx="509.3" cy="276.2" r="0.85"/><circle cx="449.9" cy="279.9" r="0.85"/><circle cx="424.5" cy="275.7" r="0.85"/><circle cx="446" cy="275" r="0.85"/><circle cx="478.7" cy="277.4" r="0.85"/><circle cx="521.7" cy="277.6" r="0.85"/><circle cx="441.8" cy="277.2" r="0.85"/><circle cx="443.2" cy="277.6" r="0.85"/><circle cx="501" cy="277.6" r="0.85"/><circle cx="489.4" cy="276.1" r="0.85"/><circle cx="527.9" cy="280.1" r="0.85"/><circle cx="497" cy="277.7" r="0.85"/><circle cx="426.7" cy="274.1" r="0.85"/><circle cx="465.5" cy="276.5" r="0.85"/><circle cx="447.8" cy="277.3" r="0.85"/><circle cx="436.2" cy="271.9" r="0.85"/><circle cx="428.3" cy="280.8" r="0.85"/><circle cx="499.6" cy="278.1" r="0.85"/><circle cx="457.5" cy="273" r="0.85"/><circle cx="496.7" cy="279" r="0.85"/><circle cx="498.1" cy="275.5" r="0.85"/><circle cx="514.8" cy="279.5" r="0.85"/><circle cx="504.6" cy="280.2" r="0.85"/><circle cx="464.1" cy="273.3" r="0.85"/><circle cx="500.5" cy="279.3" r="0.85"/><circle cx="480.6" cy="278.9" r="0.85"/><circle cx="497.6" cy="278.5" r="0.85"/><circle cx="471.1" cy="278.9" r="0.85"/><circle cx="515.6" cy="276.5" r="0.85"/><circle cx="449.2" cy="277.7" r="0.85"/><circle cx="517.7" cy="277.1" r="0.85"/><circle cx="486.5" cy="277.8" r="0.85"/><circle cx="444.9" cy="275" r="0.85"/><circle cx="501.7" cy="279" r="0.85"/><circle cx="466.5" cy="278.6" r="0.85"/><circle cx="486.3" cy="280.2" r="0.85"/><circle cx="509.5" cy="280.9" r="0.85"/><circle cx="504.5" cy="278.5" r="0.85"/><circle cx="450" cy="279.3" r="0.85"/><circle cx="452" cy="280.1" r="0.85"/><circle cx="527.4" cy="279.9" r="0.85"/><circle cx="432.7" cy="276.2" r="0.85"/><circle cx="525.6" cy="279.9" r="0.85"/><circle cx="448" cy="275.3" r="0.85"/><circle cx="457.9" cy="278" r="0.85"/><circle cx="483.6" cy="274.9" r="0.85"/><circle cx="463.2" cy="279" r="0.85"/><circle cx="497.7" cy="278.2" r="0.85"/><circle cx="515.2" cy="279.1" r="0.85"/><circle cx="490.1" cy="278.6" r="0.85"/><circle cx="486.8" cy="278.7" r="0.85"/><circle cx="440.8" cy="280.3" r="0.85"/><circle cx="465.3" cy="273.4" r="0.85"/><circle cx="477" cy="278.4" r="0.85"/><circle cx="470.6" cy="276.1" r="0.85"/><circle cx="460.8" cy="278.7" r="0.85"/><circle cx="458.9" cy="277" r="0.85"/><circle cx="473.8" cy="277.6" r="0.85"/><circle cx="521.4" cy="279.6" r="0.85"/><circle cx="489" cy="275.1" r="0.85"/><circle cx="501.2" cy="276.2" r="0.85"/><circle cx="508.6" cy="280.3" r="0.85"/><circle cx="489.9" cy="279.6" r="0.85"/><circle cx="460.9" cy="280.5" r="0.85"/><circle cx="505.3" cy="275.6" r="0.85"/><circle cx="513.7" cy="279" r="0.85"/><circle cx="519.6" cy="276.5" r="0.85"/><circle cx="488.1" cy="276.5" r="0.85"/><circle cx="504.9" cy="281" r="0.85"/><circle cx="488.6" cy="277.6" r="0.85"/><circle cx="461.3" cy="274.9" r="0.85"/><circle cx="500.8" cy="280.8" r="0.85"/><circle cx="464.3" cy="281" r="0.85"/><circle cx="462.9" cy="280.6" r="0.85"/><circle cx="424.1" cy="279.8" r="0.85"/><circle cx="498.6" cy="280.4" r="0.85"/><circle cx="524.9" cy="280.4" r="0.85"/><circle cx="510.3" cy="280" r="0.85"/><circle cx="515.2" cy="278.6" r="0.85"/><circle cx="511.5" cy="279" r="0.85"/><circle cx="453.1" cy="272.7" r="0.85"/><circle cx="426" cy="280.6" r="0.85"/><circle cx="438.4" cy="276.3" r="0.85"/><circle cx="503" cy="280.1" r="0.85"/><circle cx="484.5" cy="276.1" r="0.85"/><circle cx="424.4" cy="276.6" r="0.85"/><circle cx="438.2" cy="280.9" r="0.85"/><circle cx="475.3" cy="279.2" r="0.85"/><circle cx="465" cy="276.8" r="0.85"/><circle cx="425.5" cy="277.6" r="0.85"/><circle cx="439.1" cy="271.2" r="0.85"/><circle cx="473.2" cy="280.2" r="0.85"/><circle cx="478.5" cy="279.1" r="0.85"/><circle cx="431.3" cy="275.4" r="0.85"/><circle cx="468.7" cy="275.3" r="0.85"/><circle cx="502.9" cy="276.4" r="0.85"/><circle cx="523.1" cy="279.8" r="0.85"/><circle cx="482.8" cy="278.1" r="0.85"/><circle cx="488.3" cy="277" r="0.85"/><circle cx="503.5" cy="277.6" r="0.85"/><circle cx="486.8" cy="278.4" r="0.85"/><circle cx="438.7" cy="279.2" r="0.85"/><circle cx="436.4" cy="276.2" r="0.85"/><circle cx="487" cy="280.2" r="0.85"/><circle cx="463.3" cy="274.5" r="0.85"/><circle cx="440.1" cy="276.2" r="0.85"/><circle cx="477.3" cy="278.6" r="0.85"/><circle cx="453.6" cy="272" r="0.85"/><circle cx="482.4" cy="278.6" r="0.85"/><circle cx="431.9" cy="280.9" r="0.85"/><circle cx="472.8" cy="279.9" r="0.85"/><circle cx="495.2" cy="277.2" r="0.85"/><circle cx="430.2" cy="278.9" r="0.85"/><circle cx="456.3" cy="276.1" r="0.85"/><circle cx="482.9" cy="276" r="0.85"/><circle cx="428" cy="278.3" r="0.85"/><circle cx="499.7" cy="280.5" r="0.85"/><circle cx="428.1" cy="278.6" r="0.85"/><circle cx="448.3" cy="280.8" r="0.85"/><circle cx="512.4" cy="277" r="0.85"/><circle cx="493.8" cy="276" r="0.85"/><circle cx="500.5" cy="279" r="0.85"/><circle cx="503.6" cy="275.6" r="0.85"/><circle cx="522.4" cy="276" r="0.85"/><circle cx="506.3" cy="275.3" r="0.85"/><circle cx="522.3" cy="277.8" r="0.85"/><circle cx="467.7" cy="276.6" r="0.85"/><circle cx="525.5" cy="280.8" r="0.85"/><circle cx="469.1" cy="280.5" r="0.85"/><circle cx="434.9" cy="276.8" r="0.85"/><circle cx="443.4" cy="280.4" r="0.85"/><circle cx="484.4" cy="278.3" r="0.85"/><circle cx="475.5" cy="281" r="0.85"/><circle cx="437.9" cy="276.6" r="0.85"/><circle cx="430.5" cy="280.6" r="0.85"/><circle cx="459.5" cy="273.2" r="0.85"/><circle cx="503.6" cy="275.9" r="0.85"/><circle cx="505.4" cy="280.7" r="0.85"/><circle cx="499.2" cy="277.5" r="0.85"/><circle cx="520.1" cy="280.9" r="0.85"/><circle cx="441.9" cy="280.3" r="0.85"/><circle cx="468" cy="279.3" r="0.85"/><circle cx="452.3" cy="273.9" r="0.85"/><circle cx="521.5" cy="275.5" r="0.85"/><circle cx="431.9" cy="280.3" r="0.85"/><circle cx="470.5" cy="276.1" r="0.85"/><circle cx="503.3" cy="276.3" r="0.85"/><circle cx="436.9" cy="276.6" r="0.85"/><circle cx="429.3" cy="276.4" r="0.85"/><circle cx="510.3" cy="279.7" r="0.85"/><circle cx="463.5" cy="280.8" r="0.85"/><circle cx="515.3" cy="279.6" r="0.85"/><circle cx="453" cy="278.3" r="0.85"/><circle cx="440.3" cy="270" r="0.85"/><circle cx="521.5" cy="278.4" r="0.85"/><circle cx="465.5" cy="278.1" r="0.85"/><circle cx="521.4" cy="280.9" r="0.85"/><circle cx="446.8" cy="273.8" r="0.85"/><circle cx="456.5" cy="277.6" r="0.85"/><circle cx="433.9" cy="278.2" r="0.85"/><circle cx="521" cy="277.3" r="0.85"/><circle cx="485.9" cy="276.2" r="0.85"/><circle cx="442.2" cy="273.6" r="0.85"/><circle cx="524.3" cy="279.4" r="0.85"/><circle cx="425.5" cy="277.6" r="0.85"/><circle cx="519.2" cy="280.7" r="0.85"/><circle cx="452.5" cy="274.8" r="0.85"/><circle cx="479" cy="274.7" r="0.85"/><circle cx="481.2" cy="279.4" r="0.85"/><circle cx="461.2" cy="277.9" r="0.85"/><circle cx="505.4" cy="276.9" r="0.85"/><circle cx="469.7" cy="279.1" r="0.85"/><circle cx="487.8" cy="280.4" r="0.85"/><circle cx="474.6" cy="279.4" r="0.85"/><circle cx="425.8" cy="277" r="0.85"/><circle cx="433.1" cy="279.3" r="0.85"/><circle cx="486.6" cy="276.1" r="0.85"/><circle cx="490.7" cy="275.3" r="0.85"/><circle cx="426.2" cy="275.9" r="0.85"/><circle cx="500.9" cy="277.2" r="0.85"/><circle cx="523.9" cy="280.8" r="0.85"/><circle cx="432.6" cy="273.1" r="0.85"/><circle cx="516.5" cy="280.7" r="0.85"/><circle cx="472" cy="275.3" r="0.85"/><circle cx="485.6" cy="280.9" r="0.85"/><circle cx="446.5" cy="271.3" r="0.85"/><circle cx="440.1" cy="279" r="0.85"/><circle cx="509.5" cy="280.4" r="0.85"/><circle cx="485" cy="280.4" r="0.85"/><circle cx="441.5" cy="275.8" r="0.85"/><circle cx="505.3" cy="279.3" r="0.85"/><circle cx="449.4" cy="274" r="0.85"/><circle cx="499.2" cy="281" r="0.85"/><circle cx="493.9" cy="278.5" r="0.85"/><circle cx="526.7" cy="278" r="0.85"/><circle cx="487.9" cy="280.8" r="0.85"/><circle cx="473.9" cy="280.9" r="0.85"/><circle cx="441.7" cy="276.4" r="0.85"/><circle cx="513" cy="275.3" r="0.85"/><circle cx="511.3" cy="278.7" r="0.85"/><circle cx="470.6" cy="276.7" r="0.85"/><circle cx="461.1" cy="281" r="0.85"/><circle cx="501.8" cy="275.4" r="0.85"/><circle cx="516.4" cy="277.7" r="0.85"/><circle cx="507.2" cy="280.3" r="0.85"/><circle cx="448.4" cy="271.4" r="0.85"/><circle cx="477.6" cy="280.1" r="0.85"/><circle cx="491.6" cy="277.1" r="0.85"/><circle cx="516.1" cy="280.6" r="0.85"/><circle cx="455.3" cy="277.4" r="0.85"/><circle cx="511.5" cy="275.1" r="0.85"/><circle cx="434.6" cy="279" r="0.85"/><circle cx="467.2" cy="274.3" r="0.85"/><circle cx="492.2" cy="279.8" r="0.85"/><circle cx="484.2" cy="280.3" r="0.85"/><circle cx="513.7" cy="279.1" r="0.85"/><circle cx="482.6" cy="276.5" r="0.85"/><circle cx="477.4" cy="280.8" r="0.85"/><circle cx="460.3" cy="281" r="0.85"/><circle cx="468.6" cy="274" r="0.85"/><circle cx="503.6" cy="275.2" r="0.85"/><circle cx="439.1" cy="274.6" r="0.85"/><circle cx="505.4" cy="279" r="0.85"/><circle cx="509.2" cy="280.7" r="0.85"/><circle cx="518" cy="275.3" r="0.85"/><circle cx="445.1" cy="280.6" r="0.85"/><circle cx="514.4" cy="278.1" r="0.85"/><circle cx="526.6" cy="278.3" r="0.85"/><circle cx="447.9" cy="279" r="0.85"/><circle cx="493.1" cy="279.6" r="0.85"/><circle cx="526.1" cy="276.7" r="0.85"/><circle cx="484.2" cy="276" r="0.85"/><circle cx="507.2" cy="279.4" r="0.85"/><circle cx="487.2" cy="279.1" r="0.85"/><circle cx="428.5" cy="280.6" r="0.85"/><circle cx="451.5" cy="280.9" r="0.85"/><circle cx="514.5" cy="278.6" r="0.85"/><circle cx="449.8" cy="280.6" r="0.85"/><circle cx="494.7" cy="279.1" r="0.85"/><circle cx="513.8" cy="277.8" r="0.85"/><circle cx="434.1" cy="272.6" r="0.85"/><circle cx="515.9" cy="279.5" r="0.85"/><circle cx="506.8" cy="277.8" r="0.85"/><circle cx="434.5" cy="279.7" r="0.85"/><circle cx="457.2" cy="277" r="0.85"/><circle cx="476.3" cy="277.9" r="0.85"/><circle cx="427" cy="279.2" r="0.85"/><circle cx="437.7" cy="278.2" r="0.85"/><circle cx="527.7" cy="280.7" r="0.85"/><circle cx="425.1" cy="279.1" r="0.85"/><circle cx="463.6" cy="280.7" r="0.85"/><circle cx="513.5" cy="276.6" r="0.85"/><circle cx="509.9" cy="277.7" r="0.85"/><circle cx="477" cy="278" r="0.85"/><circle cx="442.7" cy="280.9" r="0.85"/><circle cx="523.8" cy="275.8" r="0.85"/><circle cx="452.9" cy="276.9" r="0.85"/><circle cx="436.1" cy="273.7" r="0.85"/><circle cx="517.9" cy="275.2" r="0.85"/><circle cx="433.6" cy="272.7" r="0.85"/><circle cx="434.7" cy="274.9" r="0.85"/><circle cx="524.7" cy="280.4" r="0.85"/><circle cx="485.9" cy="276.5" r="0.85"/><circle cx="506.7" cy="276.4" r="0.85"/><circle cx="493.5" cy="278.6" r="0.85"/><circle cx="480" cy="276.6" r="0.85"/><circle cx="501.9" cy="277.5" r="0.85"/><circle cx="514.6" cy="280" r="0.85"/><circle cx="458.8" cy="278.5" r="0.85"/><circle cx="451.3" cy="274.4" r="0.85"/><circle cx="425.4" cy="274.9" r="0.85"/><circle cx="440.3" cy="274.7" r="0.85"/><circle cx="501.4" cy="279.9" r="0.85"/><circle cx="427.5" cy="274" r="0.85"/><circle cx="519.1" cy="278.6" r="0.85"/><circle cx="448.5" cy="276.6" r="0.85"/><circle cx="487.7" cy="280.7" r="0.85"/><circle cx="487.9" cy="277.3" r="0.85"/><circle cx="446.5" cy="278" r="0.85"/><circle cx="463.9" cy="279.6" r="0.85"/><circle cx="469.4" cy="280.6" r="0.85"/><circle cx="458.5" cy="273.9" r="0.85"/><circle cx="493.8" cy="278.9" r="0.85"/><circle cx="437.4" cy="278.7" r="0.85"/><circle cx="498.5" cy="278.8" r="0.85"/><circle cx="503.2" cy="277.3" r="0.85"/><circle cx="475.9" cy="277" r="0.85"/><circle cx="476.3" cy="279.5" r="0.85"/><circle cx="526.8" cy="277" r="0.85"/><circle cx="463.7" cy="281" r="0.85"/><circle cx="472.4" cy="279.4" r="0.85"/><circle cx="515.1" cy="275.3" r="0.85"/><circle cx="498.3" cy="280.9" r="0.85"/><circle cx="494.8" cy="280.3" r="0.85"/><circle cx="482.4" cy="276.3" r="0.85"/><circle cx="430.5" cy="273.4" r="0.85"/><circle cx="510.8" cy="279.1" r="0.85"/><circle cx="479.1" cy="279.5" r="0.85"/><circle cx="511.1" cy="275.3" r="0.85"/><circle cx="472.5" cy="276.1" r="0.85"/><circle cx="434.7" cy="280.4" r="0.85"/><circle cx="520.3" cy="280.4" r="0.85"/><circle cx="500.6" cy="277.1" r="0.85"/><circle cx="430.7" cy="274.7" r="0.85"/><circle cx="482.3" cy="278.6" r="0.85"/><circle cx="498.3" cy="279.2" r="0.85"/><circle cx="514.4" cy="278.2" r="0.85"/><circle cx="504.6" cy="279.1" r="0.85"/><circle cx="467.5" cy="279.3" r="0.85"/><circle cx="443.4" cy="270.8" r="0.85"/><circle cx="485.3" cy="275.6" r="0.85"/><circle cx="490.3" cy="276.8" r="0.85"/><circle cx="483.6" cy="278.6" r="0.85"/><circle cx="512.9" cy="280.6" r="0.85"/><circle cx="488.5" cy="263.9" r="0.85"/><circle cx="437.1" cy="271" r="0.85"/><circle cx="426.3" cy="273" r="0.85"/><circle cx="527.5" cy="271.7" r="0.85"/><circle cx="525.7" cy="265.6" r="0.85"/><circle cx="498.9" cy="270.4" r="0.85"/><circle cx="476.6" cy="263.8" r="0.85"/><circle cx="430.5" cy="271.7" r="0.85"/><circle cx="441.7" cy="266.7" r="0.85"/><circle cx="439" cy="267.2" r="0.85"/><circle cx="429.7" cy="273.1" r="0.85"/><circle cx="495.1" cy="266" r="0.85"/><circle cx="524.9" cy="265.6" r="0.85"/><circle cx="473.7" cy="269.4" r="0.85"/><circle cx="439.1" cy="267.6" r="0.85"/><circle cx="451.6" cy="269.1" r="0.85"/><circle cx="525.1" cy="274.2" r="0.85"/><circle cx="435.5" cy="267.4" r="0.85"/><circle cx="495.9" cy="263.7" r="0.85"/><circle cx="425.8" cy="273" r="0.85"/><circle cx="497.1" cy="265.5" r="0.85"/><circle cx="500.9" cy="272.7" r="0.85"/><circle cx="453.8" cy="267.8" r="0.85"/><circle cx="503.6" cy="263.8" r="0.85"/><circle cx="498.4" cy="274.6" r="0.85"/><circle cx="526.3" cy="274.9" r="0.85"/><circle cx="508.4" cy="274.3" r="0.85"/><circle cx="464" cy="266.6" r="0.85"/><circle cx="505.3" cy="265.9" r="0.85"/><circle cx="450.8" cy="267.2" r="0.85"/><circle cx="465.7" cy="272.7" r="0.85"/><circle cx="438.4" cy="264.9" r="0.85"/><circle cx="516.3" cy="267" r="0.85"/><circle cx="499.3" cy="269.2" r="0.85"/><circle cx="522.6" cy="265.4" r="0.85"/><circle cx="476.8" cy="266.6" r="0.85"/><circle cx="498.2" cy="274.3" r="0.85"/><circle cx="495.6" cy="274.6" r="0.85"/><circle cx="511.9" cy="268.8" r="0.85"/><circle cx="450.4" cy="262.5" r="0.85"/><circle cx="463.2" cy="267.1" r="0.85"/><circle cx="486.5" cy="274.7" r="0.85"/><circle cx="478.6" cy="265.4" r="0.85"/><circle cx="511.2" cy="267.6" r="0.85"/><circle cx="494.1" cy="271.2" r="0.85"/><circle cx="491.2" cy="264.7" r="0.85"/><circle cx="434.3" cy="270" r="0.85"/><circle cx="472.9" cy="270.1" r="0.85"/><circle cx="517.6" cy="267.3" r="0.85"/><circle cx="463.8" cy="270.6" r="0.85"/><circle cx="442.7" cy="265.2" r="0.85"/><circle cx="433.1" cy="270.5" r="0.85"/><circle cx="452.3" cy="264.5" r="0.85"/><circle cx="473.9" cy="271.7" r="0.85"/><circle cx="490.1" cy="268.3" r="0.85"/><circle cx="434.9" cy="267.2" r="0.85"/><circle cx="424.8" cy="271.6" r="0.85"/><circle cx="434.6" cy="269.4" r="0.85"/><circle cx="514.7" cy="267.6" r="0.85"/><circle cx="524.7" cy="270.5" r="0.85"/><circle cx="470.5" cy="268.7" r="0.85"/><circle cx="507.2" cy="272" r="0.85"/><circle cx="518.5" cy="274.2" r="0.85"/><circle cx="444.4" cy="267.5" r="0.85"/><circle cx="518.4" cy="267.7" r="0.85"/><circle cx="492.3" cy="268.6" r="0.85"/><circle cx="460.3" cy="268.4" r="0.85"/><circle cx="525.5" cy="267.8" r="0.85"/><circle cx="428.4" cy="272.4" r="0.85"/><circle cx="447.9" cy="261.9" r="0.85"/><circle cx="446.1" cy="263" r="0.85"/><circle cx="483.6" cy="264.9" r="0.85"/><circle cx="516.8" cy="271.7" r="0.85"/><circle cx="523.9" cy="274" r="0.85"/><circle cx="515.2" cy="274.4" r="0.85"/><circle cx="458.2" cy="271.2" r="0.85"/><circle cx="465.9" cy="272.8" r="0.85"/><circle cx="427.8" cy="271.4" r="0.85"/><circle cx="474.7" cy="272.7" r="0.85"/><circle cx="445.9" cy="266.4" r="0.85"/><circle cx="459" cy="272.4" r="0.85"/><circle cx="477.8" cy="267.6" r="0.85"/><circle cx="512.9" cy="271.1" r="0.85"/><circle cx="492.1" cy="271.1" r="0.85"/><circle cx="483.6" cy="272" r="0.85"/><circle cx="501.7" cy="271.6" r="0.85"/><circle cx="426.8" cy="271.9" r="0.85"/><circle cx="527.9" cy="271.7" r="0.85"/><circle cx="483.1" cy="265.1" r="0.85"/><circle cx="476.3" cy="267.9" r="0.85"/><circle cx="442" cy="263.6" r="0.85"/><circle cx="453.8" cy="263.3" r="0.85"/><circle cx="474.2" cy="271.9" r="0.85"/><circle cx="488.3" cy="274.3" r="0.85"/><circle cx="519.2" cy="270.9" r="0.85"/><circle cx="442.9" cy="261.5" r="0.85"/><circle cx="485.3" cy="264.9" r="0.85"/><circle cx="493" cy="273.3" r="0.85"/><circle cx="460.1" cy="267" r="0.85"/><circle cx="445.3" cy="268" r="0.85"/><circle cx="469.2" cy="266.3" r="0.85"/><circle cx="483.2" cy="271.3" r="0.85"/><circle cx="468.5" cy="269.3" r="0.85"/><circle cx="437.2" cy="263.9" r="0.85"/><circle cx="459.2" cy="269.5" r="0.85"/><circle cx="474.6" cy="266.2" r="0.85"/><circle cx="460" cy="265.3" r="0.85"/><circle cx="496.2" cy="273.3" r="0.85"/><circle cx="499.2" cy="272" r="0.85"/><circle cx="451.4" cy="265" r="0.85"/><circle cx="470.4" cy="263.9" r="0.85"/><circle cx="430.3" cy="271.8" r="0.85"/><circle cx="477.6" cy="272.8" r="0.85"/><circle cx="501.3" cy="267.8" r="0.85"/><circle cx="441.7" cy="263.3" r="0.85"/><circle cx="476.1" cy="270.4" r="0.85"/><circle cx="456" cy="266.8" r="0.85"/><circle cx="449.8" cy="264.7" r="0.85"/><circle cx="460.5" cy="268.7" r="0.85"/><circle cx="428.3" cy="272.2" r="0.85"/><circle cx="505.2" cy="270.3" r="0.85"/><circle cx="503.5" cy="269.9" r="0.85"/><circle cx="475.8" cy="273.2" r="0.85"/><circle cx="521.1" cy="274.1" r="0.85"/><circle cx="526.4" cy="267.5" r="0.85"/><circle cx="460.9" cy="270.9" r="0.85"/><circle cx="461.4" cy="268.2" r="0.85"/><circle cx="464.7" cy="271.4" r="0.85"/><circle cx="450.5" cy="262.3" r="0.85"/><circle cx="518.8" cy="270.4" r="0.85"/><circle cx="519.9" cy="266.6" r="0.85"/><circle cx="426.2" cy="268.5" r="0.85"/><circle cx="474.2" cy="266.4" r="0.85"/><circle cx="440.1" cy="269.4" r="0.85"/><circle cx="524.7" cy="266.4" r="0.85"/><circle cx="509.7" cy="274.6" r="0.85"/><circle cx="488.9" cy="266.3" r="0.85"/><circle cx="432.2" cy="267.5" r="0.85"/><circle cx="429.5" cy="272.7" r="0.85"/><circle cx="491.4" cy="270.8" r="0.85"/><circle cx="519.7" cy="267.7" r="0.85"/><circle cx="441.7" cy="267.2" r="0.85"/><circle cx="448.2" cy="265" r="0.85"/><circle cx="519.8" cy="274.8" r="0.85"/><circle cx="460.9" cy="267.7" r="0.85"/><circle cx="474.9" cy="266.5" r="0.85"/><circle cx="426.1" cy="268.9" r="0.85"/><circle cx="469.7" cy="267.5" r="0.85"/><circle cx="521.3" cy="265.1" r="0.85"/><circle cx="439.9" cy="261.3" r="0.85"/><circle cx="454" cy="264.1" r="0.85"/><circle cx="484.4" cy="267.6" r="0.85"/><circle cx="521" cy="266.8" r="0.85"/><circle cx="471.9" cy="267.4" r="0.85"/><circle cx="501" cy="265.8" r="0.85"/><circle cx="428.4" cy="272.2" r="0.85"/><circle cx="447.5" cy="266.6" r="0.85"/><circle cx="496.7" cy="269.9" r="0.85"/><circle cx="491.4" cy="266.9" r="0.85"/><circle cx="514.1" cy="266.3" r="0.85"/><circle cx="521" cy="267.4" r="0.85"/><circle cx="490.8" cy="269.2" r="0.85"/><circle cx="454" cy="264.9" r="0.85"/><circle cx="477.1" cy="274.3" r="0.85"/><circle cx="472.4" cy="271.4" r="0.85"/><circle cx="517.5" cy="266.8" r="0.85"/><circle cx="480.6" cy="264.8" r="0.85"/><circle cx="518" cy="272.2" r="0.85"/><circle cx="444.6" cy="267.5" r="0.85"/><circle cx="500" cy="270" r="0.85"/><circle cx="485.1" cy="260.2" r="0.85"/><circle cx="507.5" cy="261.5" r="0.85"/><circle cx="461.2" cy="262" r="0.85"/><circle cx="435" cy="256.3" r="0.85"/><circle cx="451.2" cy="261.8" r="0.85"/><circle cx="466.6" cy="261.6" r="0.85"/><circle cx="514.1" cy="263.1" r="0.85"/><circle cx="504.1" cy="259.7" r="0.85"/><circle cx="428.6" cy="265.5" r="0.85"/><circle cx="508.4" cy="260.2" r="0.85"/><circle cx="473.7" cy="257.4" r="0.85"/><circle cx="524.4" cy="258" r="0.85"/><circle cx="460.2" cy="263.6" r="0.85"/><circle cx="498.4" cy="260.2" r="0.85"/><circle cx="517.6" cy="258.2" r="0.85"/><circle cx="511.8" cy="263.4" r="0.85"/><circle cx="455.8" cy="254.1" r="0.85"/><circle cx="519.7" cy="263.4" r="0.85"/><circle cx="424.3" cy="261.8" r="0.85"/><circle cx="433.8" cy="259" r="0.85"/><circle cx="512.6" cy="259.6" r="0.85"/><circle cx="464.5" cy="260" r="0.85"/><circle cx="443.9" cy="261.3" r="0.85"/><circle cx="426.9" cy="267.5" r="0.85"/><circle cx="521.3" cy="263.5" r="0.85"/><circle cx="516.2" cy="262.6" r="0.85"/><circle cx="493.5" cy="259" r="0.85"/><circle cx="444" cy="261.4" r="0.85"/><circle cx="444" cy="255.4" r="0.85"/><circle cx="471.3" cy="261.3" r="0.85"/><circle cx="461.9" cy="280.2" r="0.85"/><circle cx="526.4" cy="280.2" r="0.85"/><circle cx="500.4" cy="281" r="0.85"/><circle cx="517.3" cy="280.2" r="0.85"/><circle cx="457.7" cy="279.6" r="0.85"/><circle cx="440.1" cy="280.9" r="0.85"/><circle cx="515.5" cy="279.6" r="0.85"/><circle cx="451.1" cy="280.5" r="0.85"/><circle cx="494.4" cy="280.6" r="0.85"/><circle cx="477.7" cy="280.7" r="0.85"/><circle cx="516.7" cy="280.6" r="0.85"/><circle cx="476.8" cy="279.7" r="0.85"/><circle cx="513.1" cy="280" r="0.85"/><circle cx="449.7" cy="280.9" r="0.85"/><circle cx="483.3" cy="280.1" r="0.85"/><circle cx="499.6" cy="280.2" r="0.85"/><circle cx="484.8" cy="280" r="0.85"/><circle cx="515.4" cy="279.6" r="0.85"/><circle cx="430.3" cy="279.6" r="0.85"/><circle cx="461.8" cy="280.8" r="0.85"/><circle cx="430.4" cy="280.6" r="0.85"/><circle cx="468.9" cy="280.4" r="0.85"/><circle cx="485.8" cy="279.7" r="0.85"/><circle cx="514.3" cy="280.8" r="0.85"/><circle cx="430" cy="279.9" r="0.85"/><circle cx="499.1" cy="279.8" r="0.85"/><circle cx="453.8" cy="280.4" r="0.85"/><circle cx="517.4" cy="280.3" r="0.85"/><circle cx="462.9" cy="280.1" r="0.85"/><circle cx="507.1" cy="280.5" r="0.85"/><circle cx="471.1" cy="279.7" r="0.85"/><circle cx="492.8" cy="280.8" r="0.85"/><circle cx="487.8" cy="280.2" r="0.85"/><circle cx="468.9" cy="280.1" r="0.85"/><circle cx="434.7" cy="279.9" r="0.85"/><circle cx="426.2" cy="280.6" r="0.85"/><circle cx="475.8" cy="280.8" r="0.85"/><circle cx="472.8" cy="280.9" r="0.85"/><circle cx="482" cy="279.4" r="0.85"/><circle cx="428.8" cy="279.4" r="0.85"/><circle cx="494.3" cy="279.8" r="0.85"/><circle cx="436.7" cy="280.7" r="0.85"/><circle cx="481.2" cy="279.8" r="0.85"/><circle cx="432.4" cy="280.9" r="0.85"/><circle cx="520.9" cy="279.8" r="0.85"/><circle cx="508.2" cy="281" r="0.85"/><circle cx="436.1" cy="280" r="0.85"/><circle cx="515.4" cy="280.6" r="0.85"/><circle cx="501.5" cy="279.9" r="0.85"/><circle cx="485.6" cy="280.1" r="0.85"/><circle cx="472.5" cy="280.1" r="0.85"/><circle cx="487.3" cy="280.5" r="0.85"/><circle cx="488.7" cy="279.6" r="0.85"/><circle cx="440.7" cy="280.7" r="0.85"/><circle cx="515.5" cy="279.7" r="0.85"/><circle cx="448.1" cy="280.7" r="0.85"/><circle cx="518.3" cy="280.7" r="0.85"/><circle cx="428" cy="280.8" r="0.85"/><circle cx="442.4" cy="279.4" r="0.85"/><circle cx="522.6" cy="280.3" r="0.85"/><circle cx="484.1" cy="279.4" r="0.85"/><circle cx="435.7" cy="280.5" r="0.85"/><circle cx="460.1" cy="279.6" r="0.85"/><circle cx="509.1" cy="279.6" r="0.85"/><circle cx="512" cy="280.9" r="0.85"/><circle cx="468.9" cy="280.4" r="0.85"/><circle cx="424.6" cy="279.4" r="0.85"/><circle cx="452.3" cy="280.7" r="0.85"/><circle cx="476.1" cy="280.9" r="0.85"/><circle cx="480.8" cy="280.2" r="0.85"/><circle cx="517.2" cy="280.4" r="0.85"/><circle cx="426.6" cy="280.2" r="0.85"/><circle cx="513.9" cy="279.9" r="0.85"/><circle cx="500.4" cy="280.3" r="0.85"/><circle cx="456.8" cy="280.3" r="0.85"/><circle cx="486.3" cy="280" r="0.85"/><circle cx="455.1" cy="279.8" r="0.85"/><circle cx="473.2" cy="279.6" r="0.85"/><circle cx="515.4" cy="280.2" r="0.85"/><circle cx="456.4" cy="280.1" r="0.85"/><circle cx="462.9" cy="280" r="0.85"/><circle cx="461.6" cy="280.7" r="0.85"/><circle cx="432.3" cy="280.7" r="0.85"/><circle cx="430.1" cy="280.4" r="0.85"/><circle cx="498.6" cy="280.7" r="0.85"/><circle cx="523.9" cy="280.2" r="0.85"/><circle cx="505.6" cy="279.4" r="0.85"/><circle cx="507.7" cy="280" r="0.85"/><circle cx="441.4" cy="280.2" r="0.85"/><circle cx="483" cy="279.8" r="0.85"/><circle cx="522.3" cy="280.5" r="0.85"/><circle cx="469.7" cy="279.5" r="0.85"/><circle cx="501.8" cy="280.8" r="0.85"/><circle cx="450.2" cy="280" r="0.85"/><circle cx="525" cy="280" r="0.85"/><circle cx="478.3" cy="279.6" r="0.85"/><circle cx="512.9" cy="279.5" r="0.85"/><circle cx="484.2" cy="280" r="0.85"/><circle cx="482.3" cy="280.5" r="0.85"/><circle cx="470.2" cy="280.8" r="0.85"/><circle cx="504.9" cy="279.8" r="0.85"/><circle cx="454.1" cy="281" r="0.85"/><circle cx="487.9" cy="280.6" r="0.85"/><circle cx="439.8" cy="280.9" r="0.85"/><circle cx="457.3" cy="280.9" r="0.85"/><circle cx="460.6" cy="279.6" r="0.85"/><circle cx="507.9" cy="279.6" r="0.85"/><circle cx="508.1" cy="280.3" r="0.85"/><circle cx="465.7" cy="279.5" r="0.85"/><circle cx="469.4" cy="280" r="0.85"/><circle cx="440.4" cy="253.3" r="0.85"/><circle cx="440.5" cy="256.1" r="0.85"/><circle cx="445.8" cy="252.6" r="0.85"/><circle cx="445.8" cy="249.5" r="0.85"/><circle cx="443.8" cy="244.4" r="0.85"/><circle cx="445.9" cy="260.4" r="0.85"/><circle cx="444.4" cy="256.8" r="0.85"/><circle cx="445.2" cy="252.3" r="0.85"/><circle cx="448.4" cy="250.1" r="0.85"/><circle cx="443" cy="261.1" r="0.85"/><circle cx="443.5" cy="249.9" r="0.85"/><circle cx="443.8" cy="250" r="0.85"/><circle cx="443" cy="254.5" r="0.85"/><circle cx="448.8" cy="259.3" r="0.85"/><circle cx="449.9" cy="261.6" r="0.85"/><circle cx="447.4" cy="247.7" r="0.85"/><circle cx="446.9" cy="252.6" r="0.85"/><circle cx="445.4" cy="245.4" r="0.85"/><circle cx="444.4" cy="249.7" r="0.85"/><circle cx="444.2" cy="255.9" r="0.85"/><circle cx="443.8" cy="248.2" r="0.85"/><circle cx="443.7" cy="255.4" r="0.85"/><circle cx="440" cy="245.8" r="0.85"/><circle cx="447.8" cy="245.5" r="0.85"/><circle cx="443.9" cy="252.5" r="0.85"/><circle cx="445.2" cy="255.6" r="0.85"/><circle cx="443.5" cy="238.5" r="0.85"/><circle cx="451.8" cy="241.9" r="0.85"/><circle cx="457.6" cy="241.9" r="0.85"/><circle cx="461.6" cy="248" r="0.85"/><circle cx="462.5" cy="251.4" r="0.85"/><circle cx="464.8" cy="240.9" r="0.85"/><circle cx="463.8" cy="239.4" r="0.85"/><circle cx="461.7" cy="238.1" r="0.85"/><circle cx="462.8" cy="237.6" r="0.85"/><circle cx="467.7" cy="242.6" r="0.85"/><circle cx="465.8" cy="241" r="0.85"/><circle cx="461.6" cy="238.8" r="0.85"/><circle cx="466.2" cy="242.8" r="0.85"/><circle cx="465" cy="243.3" r="0.85"/><circle cx="462.1" cy="241.2" r="0.85"/><circle cx="462.8" cy="242.7" r="0.85"/><circle cx="465.8" cy="240.7" r="0.85"/><circle cx="511.8" cy="250.9" r="0.85"/><circle cx="513.1" cy="251.7" r="0.85"/><circle cx="512.3" cy="251.6" r="0.85"/><circle cx="515.7" cy="253.1" r="0.85"/><circle cx="516" cy="253.1" r="0.85"/><circle cx="511.4" cy="251.1" r="0.85"/><circle cx="512.4" cy="251.8" r="0.85"/><circle cx="515.3" cy="252.1" r="0.85"/><circle cx="486" cy="252.3" r="0.85"/><circle cx="488" cy="254" r="0.85"/><circle cx="489.6" cy="257.5" r="0.85"/><circle cx="505.1" cy="258.3" r="0.85"/><circle cx="520.7" cy="259.2" r="0.85"/><circle cx="525.8" cy="260.9" r="0.85"/><circle cx="489.4" cy="259.2" r="0.85"/><circle cx="487.9" cy="260.3" r="0.85"/><circle cx="483.9" cy="261.1" r="0.85"/><circle cx="489.3" cy="256.5" r="0.85"/><circle cx="488" cy="262.5" r="0.85"/><circle cx="489" cy="257.8" r="0.85"/><circle cx="485.8" cy="259.9" r="0.85"/><circle cx="483.2" cy="254.6" r="0.85"/><circle cx="484" cy="256.9" r="0.85"/><circle cx="482.8" cy="261.3" r="0.85"/><circle cx="473.5" cy="252.1" r="0.85"/><circle cx="466.1" cy="258" r="0.85"/><circle cx="470.4" cy="259.5" r="0.85"/><circle cx="466.2" cy="260.3" r="0.85"/><circle cx="472.1" cy="252.6" r="0.85"/><circle cx="466.2" cy="256.7" r="0.85"/><circle cx="471.2" cy="271.9" r="0.85"/><circle cx="466.9" cy="261.8" r="0.85"/><circle cx="472.2" cy="267.1" r="0.85"/><circle cx="473" cy="259.6" r="0.85"/><circle cx="463.3" cy="265" r="0.85"/><circle cx="465" cy="272.1" r="0.85"/><circle cx="474.9" cy="257.1" r="0.85"/><circle cx="467.9" cy="252.1" r="0.85"/><circle cx="473.8" cy="268.1" r="0.85"/><circle cx="467.9" cy="266.5" r="0.85"/><circle cx="469.6" cy="264" r="0.85"/><circle cx="473" cy="269.6" r="0.85"/><circle cx="466.9" cy="254.6" r="0.85"/><circle cx="466.2" cy="253.5" r="0.85"/><circle cx="465.8" cy="251.7" r="0.85"/><circle cx="465.9" cy="251.4" r="0.85"/><circle cx="465.4" cy="251.3" r="0.85"/><circle cx="469.4" cy="262.1" r="0.85"/><circle cx="466.3" cy="254" r="0.85"/><circle cx="467.3" cy="256.9" r="0.85"/><circle cx="492.7" cy="253" r="0.85"/><circle cx="485.1" cy="265" r="0.85"/><circle cx="484.5" cy="258.8" r="0.85"/><circle cx="484" cy="256.8" r="0.85"/><circle cx="492.8" cy="257.2" r="0.85"/><circle cx="483.2" cy="258.9" r="0.85"/><circle cx="482" cy="261.5" r="0.85"/><circle cx="490.4" cy="250.4" r="0.85"/><circle cx="484.6" cy="251.7" r="0.85"/><circle cx="481.9" cy="250.9" r="0.85"/><circle cx="483.5" cy="254" r="0.85"/><circle cx="484.6" cy="252.8" r="0.85"/><circle cx="485.2" cy="256.6" r="0.85"/><circle cx="491.9" cy="267.3" r="0.85"/><circle cx="492.8" cy="250.1" r="0.85"/></g>
<g fill="#87cefa" stroke="#5a8fb0" stroke-width="0.3"><circle cx="471.5" cy="244.5" r="0.9"/><circle cx="476.4" cy="263.1" r="0.9"/><circle cx="470.7" cy="268.5" r="0.9"/><circle cx="475.6" cy="264.5" r="0.9"/><circle cx="468.8" cy="269.4" r="0.9"/><circle cx="474.9" cy="264" r="0.9"/><circle cx="472.5" cy="265.6" r="0.9"/><circle cx="477.4" cy="269.4" r="0.9"/><circle cx="470.5" cy="266.5" r="0.9"/><circle cx="466" cy="269.3" r="0.9"/><circle cx="469.3" cy="265.7" r="0.9"/><circle cx="468" cy="265.7" r="0.9"/><circle cx="477" cy="269" r="0.9"/></g>
<g fill="#00ee00" stroke="#0a8a0a" stroke-width="0.3"><circle cx="480.6" cy="240.8" r="0.9"/><circle cx="475.5" cy="247.5" r="0.9"/><circle cx="477.5" cy="248.5" r="0.9"/><circle cx="479.5" cy="249" r="0.9"/><circle cx="481" cy="250" r="0.9"/><circle cx="476" cy="250.5" r="0.9"/><circle cx="471.3" cy="253.7" r="0.9"/><circle cx="470.2" cy="257.5" r="0.9"/><circle cx="471.5" cy="259.5" r="0.9"/><circle cx="472.5" cy="255.5" r="0.9"/><circle cx="478.5" cy="247.2" r="0.9"/><circle cx="480" cy="251.5" r="0.9"/><circle cx="474.5" cy="262.6" r="0.9"/><circle cx="481" cy="263" r="0.9"/><circle cx="471.5" cy="268.1" r="0.9"/><circle cx="473.8" cy="261.6" r="0.9"/><circle cx="473.5" cy="268.4" r="0.9"/><circle cx="481" cy="268.5" r="0.9"/><circle cx="479.9" cy="269.8" r="0.9"/><circle cx="477.3" cy="266.6" r="0.9"/><circle cx="470.5" cy="263.8" r="0.9"/><circle cx="477.7" cy="263.1" r="0.9"/><circle cx="474.1" cy="261.2" r="0.9"/><circle cx="475.1" cy="269.5" r="0.9"/><circle cx="474.4" cy="268.8" r="0.9"/><circle cx="470.9" cy="261.3" r="0.9"/></g>
<g fill="#ffa500" stroke="#b87400" stroke-width="0.3"><circle cx="472.9" cy="244.2" r="0.9"/><circle cx="474.4" cy="249.6" r="0.9"/></g>
<g fill="#ff0000" stroke="#5a0000" stroke-width="0.3"><circle cx="473.2" cy="220" r="0.9"/><circle cx="481.6" cy="216.6" r="0.9"/><circle cx="474.5" cy="223" r="0.9"/><circle cx="479.1" cy="216.9" r="0.9"/><circle cx="476.8" cy="221.1" r="0.9"/><circle cx="478" cy="218.4" r="0.9"/><circle cx="481" cy="218.1" r="0.9"/><circle cx="475.5" cy="218.3" r="0.9"/><circle cx="479.1" cy="216.7" r="0.9"/><circle cx="476.1" cy="220.9" r="0.9"/><circle cx="474.4" cy="221.3" r="0.9"/><circle cx="477.8" cy="218.5" r="0.9"/><circle cx="479.4" cy="217.6" r="0.9"/><circle cx="476.4" cy="219.8" r="0.9"/><circle cx="476.6" cy="219.7" r="0.9"/><circle cx="480" cy="219.9" r="0.9"/><circle cx="480.1" cy="217.9" r="0.9"/><circle cx="478.7" cy="217.9" r="0.9"/><circle cx="475.2" cy="221.8" r="0.9"/><circle cx="475.9" cy="221.5" r="0.9"/><circle cx="474.4" cy="222" r="0.9"/><circle cx="476.9" cy="219.4" r="0.9"/><circle cx="474" cy="225.7" r="0.9"/><circle cx="477.2" cy="224.9" r="0.9"/><circle cx="480.3" cy="227" r="0.9"/><circle cx="477.2" cy="229.6" r="0.9"/><circle cx="476.4" cy="233.2" r="0.9"/><circle cx="479.2" cy="281.3" r="0.9"/><circle cx="476.7" cy="247" r="0.9"/><circle cx="478.6" cy="249.6" r="0.9"/><circle cx="476.6" cy="253" r="0.9"/><circle cx="480.6" cy="253.6" r="0.9"/><circle cx="476.5" cy="263" r="0.9"/><circle cx="476.5" cy="263" r="0.9"/></g>
<path d="M480.3 215L481.6 216.3L480.3 217.6L479 216.3Z" fill="#7b3fd6" stroke="#4a2090" stroke-width="0.4"/>
<rect x="423.2" y="188.8" width="105.5" height="96.3" fill="none" stroke="#666" stroke-width="0.8"/>
<text x="467.3" y="213.4" font-size="5.6" textLength="31.7" lengthAdjust="spacingAndGlyphs" fill="#3a3a3a">rs6460906</text>
<rect x="423.4" y="288.6" width="105.4" height="4.4" fill="#fff" stroke="#666" stroke-width="0.6"/>
<text x="461.2" y="291" font-size="2.6" textLength="16" lengthAdjust="spacingAndGlyphs" fill="#3a3a3a">TMEM106B</text>
<text x="479.8" y="291" font-size="2.6" textLength="2.5" lengthAdjust="spacingAndGlyphs" fill="#5060b0">→</text>
<text x="500.3" y="291" font-size="2.6" textLength="2" lengthAdjust="spacingAndGlyphs" fill="#5060b0">←</text>
<text x="503.4" y="291" font-size="2.6" textLength="10" lengthAdjust="spacingAndGlyphs" fill="#3a3a3a">VWDE</text>
<line x1="469.2" y1="292.1" x2="474.9" y2="292.1" stroke="#1a1a9a" stroke-width="0.3"/>
<rect x="469.43" y="291.6" width="1.44" height="1" fill="#1a1a9a"/>
<rect x="471.33" y="291.6" width="1.44" height="1" fill="#1a1a9a"/>
<rect x="473.23" y="291.6" width="1.44" height="1" fill="#1a1a9a"/>
<line x1="499.1" y1="292.1" x2="514.8" y2="292.1" stroke="#1a1a9a" stroke-width="0.3"/>
<rect x="499.37" y="291.6" width="1.70" height="1" fill="#1a1a9a"/>
<rect x="501.61" y="291.6" width="1.70" height="1" fill="#1a1a9a"/>
<rect x="503.85" y="291.6" width="1.70" height="1" fill="#1a1a9a"/>
<rect x="506.10" y="291.6" width="1.70" height="1" fill="#1a1a9a"/>
<rect x="508.34" y="291.6" width="1.70" height="1" fill="#1a1a9a"/>
<rect x="510.58" y="291.6" width="1.70" height="1" fill="#1a1a9a"/>
<rect x="512.83" y="291.6" width="1.70" height="1" fill="#1a1a9a"/>
<line x1="443.5" y1="293" x2="443.5" y2="295.3" stroke="#555" stroke-width="0.5"/>
<text x="443.5" y="304.4" font-size="7.1" text-anchor="middle" textLength="9.6" lengthAdjust="spacingAndGlyphs" fill="#2a2a2a">12.1</text>
<line x1="463.4" y1="293" x2="463.4" y2="295.3" stroke="#555" stroke-width="0.5"/>
<text x="463.4" y="304.4" font-size="7.1" text-anchor="middle" textLength="9.6" lengthAdjust="spacingAndGlyphs" fill="#2a2a2a">12.2</text>
<line x1="483.4" y1="293" x2="483.4" y2="295.3" stroke="#555" stroke-width="0.5"/>
<text x="483.4" y="304.4" font-size="7.1" text-anchor="middle" textLength="9.6" lengthAdjust="spacingAndGlyphs" fill="#2a2a2a">12.3</text>
<line x1="503.4" y1="293" x2="503.4" y2="295.3" stroke="#555" stroke-width="0.5"/>
<text x="503.4" y="304.4" font-size="7.1" text-anchor="middle" textLength="9.6" lengthAdjust="spacingAndGlyphs" fill="#2a2a2a">12.4</text>
<line x1="523.3" y1="293" x2="523.3" y2="295.3" stroke="#555" stroke-width="0.5"/>
<text x="523.3" y="304.4" font-size="7.1" text-anchor="middle" textLength="9.6" lengthAdjust="spacingAndGlyphs" fill="#2a2a2a">12.5</text>
<text x="476.2" y="315.8" font-size="7.2" text-anchor="middle" textLength="72.2" lengthAdjust="spacingAndGlyphs">Position on chr7 (Mb)</text>
<text x="549.2" y="169.4" font-size="13.5" font-weight="bold" textLength="8.6" lengthAdjust="spacingAndGlyphs" fill="#000">g</text>
<text x="576" y="179.8" font-size="7.4" text-anchor="end" textLength="24" lengthAdjust="spacingAndGlyphs">Plotted</text>
<text x="576" y="189" font-size="7.4" text-anchor="end" textLength="17.2" lengthAdjust="spacingAndGlyphs">SNPs</text>
<text x="631.9" y="176.6" font-size="7.4" text-anchor="middle" textLength="87.2" lengthAdjust="spacingAndGlyphs">Wightman et al. excl. UKB</text>
<rect x="579.2" y="180.7" width="106.3" height="2.2" fill="#3f3f3f"/>
<line x1="575.4" y1="281.5" x2="578.8" y2="281.5" stroke="#666" stroke-width="0.6"/>
<text x="574.2" y="283.9" font-size="6.8" text-anchor="end" textLength="3.2" lengthAdjust="spacingAndGlyphs" fill="#3a3a3a">0</text>
<line x1="575.4" y1="264" x2="578.8" y2="264" stroke="#666" stroke-width="0.6"/>
<text x="574.2" y="266.4" font-size="6.8" text-anchor="end" textLength="3.2" lengthAdjust="spacingAndGlyphs" fill="#3a3a3a">2</text>
<line x1="575.4" y1="246.5" x2="578.8" y2="246.5" stroke="#666" stroke-width="0.6"/>
<text x="574.2" y="248.9" font-size="6.8" text-anchor="end" textLength="3.2" lengthAdjust="spacingAndGlyphs" fill="#3a3a3a">4</text>
<line x1="575.4" y1="229" x2="578.8" y2="229" stroke="#666" stroke-width="0.6"/>
<text x="574.2" y="231.4" font-size="6.8" text-anchor="end" textLength="3.2" lengthAdjust="spacingAndGlyphs" fill="#3a3a3a">6</text>
<line x1="575.4" y1="211.5" x2="578.8" y2="211.5" stroke="#666" stroke-width="0.6"/>
<text x="574.2" y="213.9" font-size="6.8" text-anchor="end" textLength="3.2" lengthAdjust="spacingAndGlyphs" fill="#3a3a3a">8</text>
<line x1="575.4" y1="194" x2="578.8" y2="194" stroke="#666" stroke-width="0.6"/>
<text x="574.2" y="196.4" font-size="6.8" text-anchor="end" textLength="5.6" lengthAdjust="spacingAndGlyphs" fill="#3a3a3a">10</text>
<text x="561.6" y="237.5" font-size="7.6" text-anchor="middle" textLength="28.2" lengthAdjust="spacingAndGlyphs" transform="rotate(-90 561.6 237.5)" fill="#2a2a2a">-log<tspan font-size="4.8" dy="1.6">10</tspan><tspan dy="-1.6">(</tspan><tspan font-style="italic">P</tspan>)</text>
<rect x="663.8" y="198.7" width="2.9" height="3.5" fill="#ff0000"/>
<rect x="663.8" y="202.2" width="2.9" height="3.5" fill="#ffa500"/>
<rect x="663.8" y="205.7" width="2.9" height="3.5" fill="#00ee00"/>
<rect x="663.8" y="209.1" width="2.9" height="3.5" fill="#87cefa"/>
<rect x="663.8" y="212.6" width="2.9" height="3.5" fill="#000080"/>
<rect x="663.8" y="198.7" width="2.9" height="17.4" fill="none" stroke="#222" stroke-width="0.3"/>
<line x1="666.7" y1="202.2" x2="669" y2="202.2" stroke="#333" stroke-width="0.45"/>
<text x="669.6" y="203.7" font-size="4.6" textLength="6.7" lengthAdjust="spacingAndGlyphs" fill="#444">0.8</text>
<line x1="666.7" y1="205.7" x2="669" y2="205.7" stroke="#333" stroke-width="0.45"/>
<text x="669.6" y="207.2" font-size="4.6" textLength="6.7" lengthAdjust="spacingAndGlyphs" fill="#444">0.6</text>
<line x1="666.7" y1="209.1" x2="669" y2="209.1" stroke="#333" stroke-width="0.45"/>
<text x="669.6" y="210.6" font-size="4.6" textLength="6.7" lengthAdjust="spacingAndGlyphs" fill="#444">0.4</text>
<line x1="666.7" y1="212.6" x2="669" y2="212.6" stroke="#333" stroke-width="0.45"/>
<text x="669.6" y="214.1" font-size="4.6" textLength="6.7" lengthAdjust="spacingAndGlyphs" fill="#444">0.2</text>
<text x="666.6" y="196.8" font-size="6.0" font-style="italic" fill="#333">r<tspan font-size="3.8" dy="-2.4">2</tspan></text>
<g fill="#000080" stroke="#26262e" stroke-width="0.38"><circle cx="680.6" cy="278.2" r="0.85"/><circle cx="653.7" cy="274.8" r="0.85"/><circle cx="601.6" cy="281.2" r="0.85"/><circle cx="641.7" cy="281" r="0.85"/><circle cx="618.9" cy="267.9" r="0.85"/><circle cx="669.6" cy="281" r="0.85"/><circle cx="587.9" cy="280.1" r="0.85"/><circle cx="665" cy="281.5" r="0.85"/><circle cx="602.7" cy="281" r="0.85"/><circle cx="592.6" cy="276.8" r="0.85"/><circle cx="598.4" cy="278.1" r="0.85"/><circle cx="655.2" cy="275" r="0.85"/><circle cx="622.3" cy="269.5" r="0.85"/><circle cx="638.6" cy="272.3" r="0.85"/><circle cx="605.1" cy="278.6" r="0.85"/><circle cx="639.4" cy="271.2" r="0.85"/><circle cx="643.3" cy="277.8" r="0.85"/><circle cx="605.3" cy="279.5" r="0.85"/><circle cx="601.7" cy="270.2" r="0.85"/><circle cx="671.1" cy="273.1" r="0.85"/><circle cx="634.1" cy="271.2" r="0.85"/><circle cx="610.1" cy="277.3" r="0.85"/><circle cx="594.4" cy="278" r="0.85"/><circle cx="605.5" cy="281.1" r="0.85"/><circle cx="674.5" cy="281.2" r="0.85"/><circle cx="663.5" cy="275.4" r="0.85"/><circle cx="588.7" cy="277.2" r="0.85"/><circle cx="682.4" cy="272.1" r="0.85"/><circle cx="637.6" cy="272.5" r="0.85"/><circle cx="652.7" cy="279.6" r="0.85"/><circle cx="636.3" cy="274.5" r="0.85"/><circle cx="620.1" cy="268.9" r="0.85"/><circle cx="625.3" cy="270.1" r="0.85"/><circle cx="586.1" cy="277.7" r="0.85"/><circle cx="584" cy="275.2" r="0.85"/><circle cx="669.6" cy="277.2" r="0.85"/><circle cx="637.9" cy="274.9" r="0.85"/><circle cx="603.1" cy="278.4" r="0.85"/><circle cx="639.2" cy="275.3" r="0.85"/><circle cx="618.7" cy="275.7" r="0.85"/><circle cx="613.6" cy="275.6" r="0.85"/><circle cx="649.3" cy="279.3" r="0.85"/><circle cx="650.2" cy="273.3" r="0.85"/><circle cx="634.9" cy="266.3" r="0.85"/><circle cx="611.4" cy="270.6" r="0.85"/><circle cx="598.2" cy="278.6" r="0.85"/><circle cx="663.9" cy="281.5" r="0.85"/><circle cx="642.9" cy="272.9" r="0.85"/><circle cx="677" cy="275.8" r="0.85"/><circle cx="615.1" cy="278.4" r="0.85"/><circle cx="644.7" cy="281.3" r="0.85"/><circle cx="582.3" cy="271.8" r="0.85"/><circle cx="644.2" cy="280.7" r="0.85"/><circle cx="623.7" cy="278.4" r="0.85"/><circle cx="669.3" cy="279.8" r="0.85"/><circle cx="654.3" cy="274.7" r="0.85"/><circle cx="612.4" cy="279.6" r="0.85"/><circle cx="633.3" cy="276.6" r="0.85"/><circle cx="640.8" cy="279.2" r="0.85"/><circle cx="661.6" cy="278.5" r="0.85"/><circle cx="593.5" cy="273.4" r="0.85"/><circle cx="671.9" cy="275.7" r="0.85"/><circle cx="635.9" cy="269.4" r="0.85"/><circle cx="676" cy="281.6" r="0.85"/><circle cx="629.8" cy="281.5" r="0.85"/><circle cx="613.9" cy="279.6" r="0.85"/><circle cx="627.1" cy="271.5" r="0.85"/><circle cx="668.4" cy="280" r="0.85"/><circle cx="580.6" cy="270" r="0.85"/><circle cx="660.3" cy="277.1" r="0.85"/><circle cx="591" cy="281.4" r="0.85"/><circle cx="676" cy="277.5" r="0.85"/><circle cx="668.3" cy="274.4" r="0.85"/><circle cx="657.1" cy="274" r="0.85"/><circle cx="605.6" cy="279.9" r="0.85"/><circle cx="624.2" cy="269.8" r="0.85"/><circle cx="661.5" cy="274.7" r="0.85"/><circle cx="639.3" cy="277.5" r="0.85"/><circle cx="599.5" cy="274.9" r="0.85"/><circle cx="647" cy="277.3" r="0.85"/><circle cx="654.5" cy="271.6" r="0.85"/><circle cx="677" cy="281.1" r="0.85"/><circle cx="609.1" cy="275.6" r="0.85"/><circle cx="650.7" cy="279.7" r="0.85"/><circle cx="675.6" cy="278.2" r="0.85"/><circle cx="658.5" cy="281.4" r="0.85"/><circle cx="608.3" cy="281.5" r="0.85"/><circle cx="661.2" cy="277.4" r="0.85"/><circle cx="677.9" cy="276.6" r="0.85"/><circle cx="613" cy="278.3" r="0.85"/><circle cx="618.2" cy="279.8" r="0.85"/><circle cx="590.6" cy="275.1" r="0.85"/><circle cx="611.9" cy="277.3" r="0.85"/><circle cx="652.7" cy="279.8" r="0.85"/><circle cx="624.9" cy="277.9" r="0.85"/><circle cx="612.9" cy="274.1" r="0.85"/><circle cx="589.6" cy="278.2" r="0.85"/><circle cx="590.8" cy="274.8" r="0.85"/><circle cx="610.2" cy="270.4" r="0.85"/><circle cx="629.3" cy="271.7" r="0.85"/><circle cx="633.6" cy="268.6" r="0.85"/><circle cx="651.9" cy="275.9" r="0.85"/><circle cx="582.7" cy="280.8" r="0.85"/><circle cx="657" cy="278.5" r="0.85"/><circle cx="680.3" cy="276.3" r="0.85"/><circle cx="664.5" cy="274.8" r="0.85"/><circle cx="679" cy="276.1" r="0.85"/><circle cx="676.4" cy="278.5" r="0.85"/><circle cx="607" cy="281" r="0.85"/><circle cx="605.5" cy="271.6" r="0.85"/><circle cx="647.4" cy="281.4" r="0.85"/><circle cx="582.3" cy="277.5" r="0.85"/><circle cx="635.7" cy="277.8" r="0.85"/><circle cx="581.4" cy="279.7" r="0.85"/><circle cx="670.1" cy="275.2" r="0.85"/><circle cx="664" cy="279.9" r="0.85"/><circle cx="648.4" cy="280.4" r="0.85"/><circle cx="610.6" cy="270.4" r="0.85"/><circle cx="601.5" cy="279.4" r="0.85"/><circle cx="601.9" cy="272" r="0.85"/><circle cx="650.5" cy="276.5" r="0.85"/><circle cx="667.4" cy="278.1" r="0.85"/><circle cx="674.1" cy="274.6" r="0.85"/><circle cx="610.4" cy="279.9" r="0.85"/><circle cx="635" cy="276.3" r="0.85"/><circle cx="661.1" cy="275.9" r="0.85"/><circle cx="656.2" cy="276.4" r="0.85"/><circle cx="606.7" cy="273.8" r="0.85"/><circle cx="680.9" cy="276.3" r="0.85"/><circle cx="652.9" cy="280.2" r="0.85"/><circle cx="591.6" cy="277.7" r="0.85"/><circle cx="640.8" cy="274.7" r="0.85"/><circle cx="628.4" cy="274" r="0.85"/><circle cx="588.6" cy="281.4" r="0.85"/><circle cx="592" cy="279.1" r="0.85"/><circle cx="604.6" cy="280.8" r="0.85"/><circle cx="614.4" cy="278.4" r="0.85"/><circle cx="664.6" cy="272.4" r="0.85"/><circle cx="682.2" cy="275.2" r="0.85"/><circle cx="580.6" cy="279.9" r="0.85"/><circle cx="682.7" cy="275.7" r="0.85"/><circle cx="668.1" cy="280.5" r="0.85"/><circle cx="604.3" cy="281.1" r="0.85"/><circle cx="633.7" cy="277.2" r="0.85"/><circle cx="628.1" cy="280.4" r="0.85"/><circle cx="582.1" cy="278.4" r="0.85"/><circle cx="675.2" cy="276.1" r="0.85"/><circle cx="638.5" cy="281.3" r="0.85"/><circle cx="624.2" cy="277.2" r="0.85"/><circle cx="644.6" cy="278.5" r="0.85"/><circle cx="662.3" cy="279.8" r="0.85"/><circle cx="654.7" cy="281.6" r="0.85"/><circle cx="594.5" cy="273.1" r="0.85"/><circle cx="667.6" cy="279.6" r="0.85"/><circle cx="599.9" cy="270.6" r="0.85"/><circle cx="640.6" cy="281.2" r="0.85"/><circle cx="681.7" cy="277.1" r="0.85"/><circle cx="610.4" cy="276.9" r="0.85"/><circle cx="617.6" cy="274.3" r="0.85"/><circle cx="622.2" cy="277.1" r="0.85"/><circle cx="655.1" cy="279.5" r="0.85"/><circle cx="665.3" cy="274.8" r="0.85"/><circle cx="677" cy="280.8" r="0.85"/><circle cx="668.4" cy="275.3" r="0.85"/><circle cx="598.3" cy="271.4" r="0.85"/><circle cx="631.4" cy="279.9" r="0.85"/><circle cx="601.1" cy="270" r="0.85"/><circle cx="662.4" cy="280.2" r="0.85"/><circle cx="671.7" cy="281.5" r="0.85"/><circle cx="651.4" cy="276" r="0.85"/><circle cx="669.3" cy="272.9" r="0.85"/><circle cx="655.1" cy="273.4" r="0.85"/><circle cx="627.3" cy="266" r="0.85"/><circle cx="623.8" cy="270.6" r="0.85"/><circle cx="657" cy="278.6" r="0.85"/><circle cx="664.2" cy="275.2" r="0.85"/><circle cx="595.9" cy="275.9" r="0.85"/><circle cx="629.6" cy="273" r="0.85"/><circle cx="582.4" cy="274.4" r="0.85"/><circle cx="620.5" cy="270.6" r="0.85"/><circle cx="604.3" cy="281.5" r="0.85"/><circle cx="627.5" cy="272.2" r="0.85"/><circle cx="659.9" cy="277.2" r="0.85"/><circle cx="670.4" cy="280.7" r="0.85"/><circle cx="592.2" cy="278.2" r="0.85"/><circle cx="647.4" cy="274.3" r="0.85"/><circle cx="586.1" cy="275.8" r="0.85"/><circle cx="615.6" cy="275.5" r="0.85"/><circle cx="589.6" cy="280.6" r="0.85"/><circle cx="645.3" cy="279.1" r="0.85"/><circle cx="680.3" cy="277.7" r="0.85"/><circle cx="615.5" cy="280.1" r="0.85"/><circle cx="633.8" cy="274.8" r="0.85"/><circle cx="605.9" cy="270.5" r="0.85"/><circle cx="632" cy="269.2" r="0.85"/><circle cx="650.2" cy="273.5" r="0.85"/><circle cx="590.1" cy="270.6" r="0.85"/><circle cx="641.2" cy="280.7" r="0.85"/><circle cx="640.9" cy="281.4" r="0.85"/><circle cx="623.1" cy="280.9" r="0.85"/><circle cx="584.4" cy="277.6" r="0.85"/><circle cx="666.2" cy="274.7" r="0.85"/><circle cx="676.1" cy="274.6" r="0.85"/><circle cx="643.3" cy="276.3" r="0.85"/><circle cx="678.5" cy="281" r="0.85"/><circle cx="633.2" cy="273.9" r="0.85"/><circle cx="580.9" cy="271.9" r="0.85"/><circle cx="649.7" cy="279.2" r="0.85"/><circle cx="661.6" cy="277.9" r="0.85"/><circle cx="654.5" cy="277" r="0.85"/><circle cx="668.3" cy="277.6" r="0.85"/><circle cx="588.7" cy="273.5" r="0.85"/><circle cx="603.2" cy="276.1" r="0.85"/><circle cx="675.9" cy="275.3" r="0.85"/><circle cx="586.6" cy="272.5" r="0.85"/><circle cx="679.3" cy="278.2" r="0.85"/><circle cx="605.7" cy="277.5" r="0.85"/><circle cx="634.4" cy="281.3" r="0.85"/><circle cx="667" cy="276.1" r="0.85"/><circle cx="620.8" cy="269" r="0.85"/><circle cx="597.3" cy="271.7" r="0.85"/><circle cx="668.2" cy="278" r="0.85"/><circle cx="591.1" cy="277.7" r="0.85"/><circle cx="590.3" cy="276.4" r="0.85"/><circle cx="594.1" cy="276.8" r="0.85"/><circle cx="621.7" cy="278" r="0.85"/><circle cx="639.7" cy="276.9" r="0.85"/><circle cx="670.6" cy="278.3" r="0.85"/><circle cx="638.8" cy="273.9" r="0.85"/><circle cx="596.4" cy="276.6" r="0.85"/><circle cx="598" cy="277.1" r="0.85"/><circle cx="632" cy="266.3" r="0.85"/><circle cx="678.9" cy="279.6" r="0.85"/><circle cx="667.7" cy="279" r="0.85"/><circle cx="605.3" cy="275.8" r="0.85"/><circle cx="610.7" cy="270.5" r="0.85"/><circle cx="672.6" cy="281.5" r="0.85"/><circle cx="681.2" cy="273.4" r="0.85"/><circle cx="593.6" cy="275" r="0.85"/><circle cx="637.1" cy="280.5" r="0.85"/><circle cx="652.3" cy="281.6" r="0.85"/><circle cx="615.1" cy="275.9" r="0.85"/><circle cx="662.4" cy="278.6" r="0.85"/><circle cx="609.1" cy="277.4" r="0.85"/><circle cx="635.2" cy="277.1" r="0.85"/><circle cx="589.4" cy="272.4" r="0.85"/><circle cx="600.7" cy="280.4" r="0.85"/><circle cx="601.9" cy="270.6" r="0.85"/><circle cx="587.4" cy="275.5" r="0.85"/><circle cx="638.5" cy="280" r="0.85"/><circle cx="660.4" cy="280.6" r="0.85"/><circle cx="591.2" cy="281.5" r="0.85"/><circle cx="647.8" cy="281.4" r="0.85"/><circle cx="643" cy="275.6" r="0.85"/><circle cx="590" cy="270.5" r="0.85"/><circle cx="593.5" cy="279" r="0.85"/><circle cx="662.2" cy="279.9" r="0.85"/><circle cx="659.9" cy="275.4" r="0.85"/><circle cx="657.8" cy="278.9" r="0.85"/><circle cx="607.8" cy="277.4" r="0.85"/><circle cx="643.9" cy="281.5" r="0.85"/><circle cx="588.9" cy="279.6" r="0.85"/><circle cx="584.7" cy="273.7" r="0.85"/><circle cx="680" cy="277.6" r="0.85"/><circle cx="613.8" cy="277.3" r="0.85"/><circle cx="669.9" cy="275.2" r="0.85"/><circle cx="637.2" cy="274.3" r="0.85"/><circle cx="673.9" cy="276.5" r="0.85"/><circle cx="601.2" cy="271.7" r="0.85"/><circle cx="584" cy="280.8" r="0.85"/><circle cx="599.5" cy="278.4" r="0.85"/><circle cx="638.9" cy="272.6" r="0.85"/><circle cx="605.7" cy="271.9" r="0.85"/><circle cx="682.3" cy="273.6" r="0.85"/><circle cx="663.4" cy="276.9" r="0.85"/><circle cx="626.2" cy="280.2" r="0.85"/><circle cx="619.1" cy="279.5" r="0.85"/><circle cx="616.7" cy="281.2" r="0.85"/><circle cx="679" cy="278.6" r="0.85"/><circle cx="588.9" cy="280.9" r="0.85"/><circle cx="625.7" cy="281.1" r="0.85"/><circle cx="648.9" cy="279.5" r="0.85"/><circle cx="645.6" cy="279.2" r="0.85"/><circle cx="619.6" cy="267.8" r="0.85"/><circle cx="626.7" cy="266.5" r="0.85"/><circle cx="649.3" cy="274.6" r="0.85"/><circle cx="655.2" cy="276.9" r="0.85"/><circle cx="611.8" cy="274.1" r="0.85"/><circle cx="583.2" cy="279.8" r="0.85"/><circle cx="662.6" cy="273.6" r="0.85"/><circle cx="581.6" cy="273.3" r="0.85"/><circle cx="625.9" cy="279.5" r="0.85"/><circle cx="674.3" cy="276.9" r="0.85"/><circle cx="605" cy="271.3" r="0.85"/><circle cx="586.2" cy="274.3" r="0.85"/><circle cx="654.5" cy="274.8" r="0.85"/><circle cx="628.3" cy="278.2" r="0.85"/><circle cx="602.1" cy="273.6" r="0.85"/><circle cx="631.2" cy="281.5" r="0.85"/><circle cx="651.2" cy="274.8" r="0.85"/><circle cx="661.2" cy="277.9" r="0.85"/><circle cx="649.9" cy="276.3" r="0.85"/><circle cx="661.3" cy="279.9" r="0.85"/><circle cx="602" cy="272.4" r="0.85"/><circle cx="606.4" cy="281.5" r="0.85"/><circle cx="649.7" cy="274.1" r="0.85"/><circle cx="668.8" cy="271.9" r="0.85"/><circle cx="587.2" cy="270.9" r="0.85"/><circle cx="608.7" cy="280.8" r="0.85"/><circle cx="608.7" cy="281.1" r="0.85"/><circle cx="580" cy="280.7" r="0.85"/><circle cx="637" cy="281.3" r="0.85"/><circle cx="658" cy="281.6" r="0.85"/><circle cx="602.1" cy="280.6" r="0.85"/><circle cx="591.5" cy="281.6" r="0.85"/><circle cx="632.1" cy="281.1" r="0.85"/><circle cx="591.5" cy="281.6" r="0.85"/><circle cx="665.5" cy="280.8" r="0.85"/><circle cx="621.9" cy="269.7" r="0.85"/><circle cx="594.4" cy="278.7" r="0.85"/><circle cx="665.6" cy="276.2" r="0.85"/><circle cx="593.4" cy="276.8" r="0.85"/><circle cx="665.8" cy="277.3" r="0.85"/><circle cx="607.6" cy="280.2" r="0.85"/><circle cx="673" cy="278.8" r="0.85"/><circle cx="599.7" cy="279.6" r="0.85"/><circle cx="641.1" cy="273" r="0.85"/><circle cx="647.7" cy="276.3" r="0.85"/><circle cx="615.7" cy="279.6" r="0.85"/><circle cx="649.2" cy="279" r="0.85"/><circle cx="610.3" cy="273.8" r="0.85"/><circle cx="674.4" cy="273.8" r="0.85"/><circle cx="591.9" cy="273.6" r="0.85"/><circle cx="635.2" cy="281.2" r="0.85"/><circle cx="663" cy="277.2" r="0.85"/><circle cx="629.3" cy="281.1" r="0.85"/><circle cx="636.9" cy="276.5" r="0.85"/><circle cx="664.9" cy="272.8" r="0.85"/><circle cx="593.1" cy="271.4" r="0.85"/><circle cx="620.3" cy="281.5" r="0.85"/><circle cx="657.2" cy="273.9" r="0.85"/><circle cx="661.5" cy="280.8" r="0.85"/><circle cx="655.7" cy="272.3" r="0.85"/><circle cx="678" cy="279.1" r="0.85"/><circle cx="666.5" cy="281.1" r="0.85"/><circle cx="671.1" cy="276.8" r="0.85"/><circle cx="647.8" cy="274.4" r="0.85"/><circle cx="606.2" cy="280" r="0.85"/><circle cx="586" cy="274.3" r="0.85"/><circle cx="582.8" cy="281.5" r="0.85"/><circle cx="646.9" cy="277.5" r="0.85"/><circle cx="682.1" cy="280.9" r="0.85"/><circle cx="634.4" cy="279.8" r="0.85"/><circle cx="662.4" cy="272.1" r="0.85"/><circle cx="679.1" cy="281.1" r="0.85"/><circle cx="655" cy="277" r="0.85"/><circle cx="589.8" cy="277.8" r="0.85"/><circle cx="654.4" cy="275" r="0.85"/><circle cx="626.6" cy="281" r="0.85"/><circle cx="618.9" cy="278.1" r="0.85"/><circle cx="615.6" cy="268.2" r="0.85"/><circle cx="643.2" cy="275.9" r="0.85"/><circle cx="579.6" cy="278.9" r="0.85"/><circle cx="659.2" cy="280.8" r="0.85"/><circle cx="581.4" cy="279.4" r="0.85"/><circle cx="593.8" cy="276.1" r="0.85"/><circle cx="613" cy="271.5" r="0.85"/><circle cx="660.2" cy="278.9" r="0.85"/><circle cx="674.1" cy="273.4" r="0.85"/><circle cx="676.5" cy="272.4" r="0.85"/><circle cx="671.9" cy="272.5" r="0.85"/><circle cx="627" cy="264.7" r="0.85"/><circle cx="607.4" cy="275" r="0.85"/><circle cx="581.2" cy="270.1" r="0.85"/><circle cx="649.8" cy="281.4" r="0.85"/><circle cx="679" cy="276.3" r="0.85"/><circle cx="620.8" cy="275.2" r="0.85"/><circle cx="679" cy="273" r="0.85"/><circle cx="592.5" cy="279.9" r="0.85"/><circle cx="597.6" cy="281.5" r="0.85"/><circle cx="594.1" cy="276" r="0.85"/><circle cx="646.5" cy="274.2" r="0.85"/><circle cx="665.5" cy="275.4" r="0.85"/><circle cx="675.5" cy="281.5" r="0.85"/><circle cx="679.9" cy="278.4" r="0.85"/><circle cx="658" cy="276.5" r="0.85"/><circle cx="658.8" cy="275.7" r="0.85"/><circle cx="595.5" cy="276.6" r="0.85"/><circle cx="584.3" cy="271.9" r="0.85"/><circle cx="656.1" cy="279.6" r="0.85"/><circle cx="613.1" cy="278.7" r="0.85"/><circle cx="591.7" cy="276.6" r="0.85"/><circle cx="652.1" cy="279.1" r="0.85"/><circle cx="624" cy="267.7" r="0.85"/><circle cx="651.6" cy="280.8" r="0.85"/><circle cx="602.7" cy="271.5" r="0.85"/><circle cx="645.2" cy="280.8" r="0.85"/><circle cx="628" cy="277.1" r="0.85"/><circle cx="642.3" cy="273" r="0.85"/><circle cx="661.8" cy="279.6" r="0.85"/><circle cx="604.7" cy="281.1" r="0.85"/><circle cx="607.4" cy="275.1" r="0.85"/><circle cx="647.9" cy="277.3" r="0.85"/><circle cx="656.6" cy="281.1" r="0.85"/><circle cx="596.7" cy="280.6" r="0.85"/><circle cx="652.8" cy="275.8" r="0.85"/><circle cx="618.1" cy="268.8" r="0.85"/><circle cx="608.3" cy="271.2" r="0.85"/><circle cx="672.6" cy="280.7" r="0.85"/><circle cx="649.5" cy="276" r="0.85"/><circle cx="605.6" cy="279.7" r="0.85"/><circle cx="592.1" cy="278.3" r="0.85"/><circle cx="659" cy="279.2" r="0.85"/><circle cx="660.9" cy="279" r="0.85"/><circle cx="649.9" cy="279.2" r="0.85"/><circle cx="642.4" cy="275.8" r="0.85"/><circle cx="630.3" cy="278.4" r="0.85"/><circle cx="588.3" cy="280.6" r="0.85"/><circle cx="639.7" cy="277.2" r="0.85"/><circle cx="586" cy="274.4" r="0.85"/><circle cx="587.9" cy="280.7" r="0.85"/><circle cx="670.6" cy="278.5" r="0.85"/><circle cx="621.9" cy="272.3" r="0.85"/><circle cx="629.9" cy="277.8" r="0.85"/><circle cx="678.6" cy="276.1" r="0.85"/><circle cx="631" cy="275.9" r="0.85"/><circle cx="639.6" cy="273.2" r="0.85"/><circle cx="619.8" cy="279.3" r="0.85"/><circle cx="590.1" cy="271.6" r="0.85"/><circle cx="681.8" cy="274.4" r="0.85"/><circle cx="640.7" cy="275.6" r="0.85"/><circle cx="646.3" cy="281.4" r="0.85"/><circle cx="611.7" cy="278.3" r="0.85"/><circle cx="599.5" cy="276.7" r="0.85"/><circle cx="675.2" cy="274.7" r="0.85"/><circle cx="615.1" cy="276.8" r="0.85"/><circle cx="672.7" cy="277" r="0.85"/><circle cx="609.4" cy="275.5" r="0.85"/><circle cx="596.2" cy="272.9" r="0.85"/><circle cx="619.1" cy="277.3" r="0.85"/><circle cx="662.6" cy="280.8" r="0.85"/><circle cx="629.2" cy="280.5" r="0.85"/><circle cx="617.4" cy="277.9" r="0.85"/><circle cx="680.5" cy="275" r="0.85"/><circle cx="601.1" cy="280.8" r="0.85"/><circle cx="596.7" cy="277.7" r="0.85"/><circle cx="647.5" cy="272.4" r="0.85"/><circle cx="629.9" cy="280.2" r="0.85"/><circle cx="587.7" cy="276" r="0.85"/><circle cx="651.7" cy="273.6" r="0.85"/><circle cx="594.3" cy="281.2" r="0.85"/><circle cx="590.4" cy="277" r="0.85"/><circle cx="661.6" cy="279.2" r="0.85"/><circle cx="604.1" cy="280.8" r="0.85"/><circle cx="630.2" cy="278.6" r="0.85"/><circle cx="646.7" cy="277.9" r="0.85"/><circle cx="645.8" cy="280.8" r="0.85"/><circle cx="637.7" cy="276.3" r="0.85"/><circle cx="649.3" cy="279.8" r="0.85"/><circle cx="595" cy="280.3" r="0.85"/><circle cx="645.2" cy="272.8" r="0.85"/><circle cx="635.7" cy="275.1" r="0.85"/><circle cx="631.7" cy="265.6" r="0.85"/><circle cx="613.4" cy="281.5" r="0.85"/><circle cx="616" cy="278.8" r="0.85"/><circle cx="600.3" cy="278.8" r="0.85"/><circle cx="652" cy="271.4" r="0.85"/><circle cx="579.6" cy="280.7" r="0.85"/><circle cx="603.5" cy="273.7" r="0.85"/><circle cx="610" cy="279.2" r="0.85"/><circle cx="636.9" cy="280.2" r="0.85"/><circle cx="631.8" cy="281.5" r="0.85"/><circle cx="608.1" cy="272.2" r="0.85"/><circle cx="632.4" cy="272.1" r="0.85"/><circle cx="608.3" cy="280.7" r="0.85"/><circle cx="664.8" cy="277.8" r="0.85"/><circle cx="613.4" cy="275.1" r="0.85"/><circle cx="660.1" cy="275" r="0.85"/><circle cx="604.3" cy="271.5" r="0.85"/><circle cx="621.1" cy="277.8" r="0.85"/><circle cx="590.6" cy="270.8" r="0.85"/><circle cx="636.4" cy="275.2" r="0.85"/><circle cx="674.6" cy="281.3" r="0.85"/><circle cx="609.1" cy="281.3" r="0.85"/><circle cx="629.3" cy="281.5" r="0.85"/><circle cx="674.9" cy="277.7" r="0.85"/><circle cx="664.3" cy="273.4" r="0.85"/><circle cx="674.5" cy="279.6" r="0.85"/><circle cx="645.2" cy="275.7" r="0.85"/><circle cx="676.1" cy="279.8" r="0.85"/><circle cx="647.1" cy="274" r="0.85"/><circle cx="635.5" cy="281.2" r="0.85"/><circle cx="662.2" cy="281.5" r="0.85"/><circle cx="623.2" cy="278.4" r="0.85"/><circle cx="624.5" cy="267.2" r="0.85"/><circle cx="678.3" cy="273.2" r="0.85"/><circle cx="666.2" cy="281.5" r="0.85"/><circle cx="640" cy="276.9" r="0.85"/><circle cx="647.9" cy="278.2" r="0.85"/><circle cx="661" cy="281.4" r="0.85"/><circle cx="663.8" cy="273.1" r="0.85"/><circle cx="628.6" cy="274" r="0.85"/><circle cx="585.5" cy="272.7" r="0.85"/><circle cx="664.4" cy="281.1" r="0.85"/><circle cx="630.8" cy="280.3" r="0.85"/><circle cx="680" cy="275.2" r="0.85"/><circle cx="668.2" cy="277.3" r="0.85"/><circle cx="661.7" cy="280.3" r="0.85"/><circle cx="628.9" cy="272.9" r="0.85"/><circle cx="668.3" cy="279.2" r="0.85"/><circle cx="580.9" cy="277.4" r="0.85"/><circle cx="602.8" cy="280.3" r="0.85"/><circle cx="601.1" cy="272" r="0.85"/><circle cx="623.3" cy="277.8" r="0.85"/><circle cx="611.7" cy="275.5" r="0.85"/><circle cx="631" cy="271.7" r="0.85"/><circle cx="659.7" cy="273.6" r="0.85"/><circle cx="616.7" cy="275.6" r="0.85"/><circle cx="664.6" cy="274.9" r="0.85"/><circle cx="594.1" cy="276.9" r="0.85"/><circle cx="619.6" cy="273" r="0.85"/><circle cx="606.2" cy="275.4" r="0.85"/><circle cx="636.4" cy="274.1" r="0.85"/><circle cx="649.6" cy="279.1" r="0.85"/><circle cx="606.3" cy="281.2" r="0.85"/><circle cx="646.9" cy="272.9" r="0.85"/><circle cx="601.5" cy="278.6" r="0.85"/><circle cx="594.6" cy="272" r="0.85"/><circle cx="649.7" cy="272" r="0.85"/><circle cx="629.7" cy="278.7" r="0.85"/><circle cx="632.2" cy="277.7" r="0.85"/><circle cx="617.7" cy="271.1" r="0.85"/><circle cx="634.7" cy="279.9" r="0.85"/><circle cx="613.6" cy="271.5" r="0.85"/><circle cx="642.2" cy="273" r="0.85"/><circle cx="660.9" cy="281.5" r="0.85"/><circle cx="611.6" cy="274" r="0.85"/><circle cx="618.1" cy="276.2" r="0.85"/><circle cx="654.4" cy="279.9" r="0.85"/><circle cx="585.4" cy="280.3" r="0.85"/><circle cx="620" cy="273.7" r="0.85"/><circle cx="583.4" cy="280.9" r="0.85"/><circle cx="650.4" cy="274.6" r="0.85"/><circle cx="642.2" cy="275.3" r="0.85"/><circle cx="620.8" cy="267.1" r="0.85"/><circle cx="593.5" cy="273" r="0.85"/><circle cx="653.2" cy="274.5" r="0.85"/><circle cx="679.8" cy="279.9" r="0.85"/><circle cx="615.3" cy="276.4" r="0.85"/><circle cx="600.6" cy="277.7" r="0.85"/><circle cx="630.8" cy="277.4" r="0.85"/><circle cx="664.5" cy="280.3" r="0.85"/><circle cx="653" cy="275.2" r="0.85"/><circle cx="619" cy="267.6" r="0.85"/><circle cx="669" cy="281.2" r="0.85"/><circle cx="609.2" cy="276.3" r="0.85"/><circle cx="665.7" cy="274.9" r="0.85"/><circle cx="649" cy="275" r="0.85"/><circle cx="632.2" cy="266.3" r="0.85"/><circle cx="587.4" cy="275.1" r="0.85"/><circle cx="635.1" cy="275.3" r="0.85"/><circle cx="582.1" cy="281.2" r="0.85"/><circle cx="652" cy="276.4" r="0.85"/><circle cx="633.3" cy="274.1" r="0.85"/><circle cx="580.2" cy="276.5" r="0.85"/><circle cx="679.9" cy="276.6" r="0.85"/><circle cx="674.5" cy="281.6" r="0.85"/><circle cx="673.9" cy="277.8" r="0.85"/><circle cx="637.8" cy="271.6" r="0.85"/><circle cx="606.5" cy="275.1" r="0.85"/><circle cx="660" cy="272.1" r="0.85"/><circle cx="636.6" cy="278.7" r="0.85"/><circle cx="601.6" cy="281.5" r="0.85"/><circle cx="601.8" cy="281.6" r="0.85"/><circle cx="674.9" cy="274.9" r="0.85"/><circle cx="681.9" cy="276.2" r="0.85"/><circle cx="603.7" cy="280.1" r="0.85"/><circle cx="665.1" cy="273.5" r="0.85"/><circle cx="591.6" cy="274.7" r="0.85"/><circle cx="614.6" cy="281" r="0.85"/><circle cx="601.6" cy="278.3" r="0.85"/><circle cx="590.5" cy="272" r="0.85"/><circle cx="664.4" cy="276.9" r="0.85"/><circle cx="598.3" cy="274.4" r="0.85"/><circle cx="638.4" cy="273.2" r="0.85"/><circle cx="676.1" cy="274.6" r="0.85"/><circle cx="663" cy="274.4" r="0.85"/><circle cx="663.9" cy="280.6" r="0.85"/><circle cx="640.7" cy="278.3" r="0.85"/><circle cx="596.2" cy="275.4" r="0.85"/><circle cx="664.1" cy="275.3" r="0.85"/><circle cx="590.4" cy="279.8" r="0.85"/><circle cx="674.5" cy="281.1" r="0.85"/><circle cx="624.5" cy="279.1" r="0.85"/><circle cx="596.9" cy="273.1" r="0.85"/><circle cx="590.5" cy="272.6" r="0.85"/><circle cx="618.2" cy="273.3" r="0.85"/><circle cx="607.5" cy="273.9" r="0.85"/><circle cx="629" cy="269.3" r="0.85"/><circle cx="640.6" cy="272.6" r="0.85"/><circle cx="623.2" cy="258.8" r="0.85"/><circle cx="583.9" cy="268.2" r="0.85"/><circle cx="648.1" cy="268.7" r="0.85"/><circle cx="579.8" cy="268.8" r="0.85"/><circle cx="674.7" cy="268.5" r="0.85"/><circle cx="619.4" cy="260.2" r="0.85"/><circle cx="679.4" cy="268" r="0.85"/><circle cx="580.6" cy="266.9" r="0.85"/><circle cx="594" cy="269.8" r="0.85"/><circle cx="665.7" cy="271" r="0.85"/><circle cx="603" cy="264.9" r="0.85"/><circle cx="604.8" cy="268.2" r="0.85"/><circle cx="603.9" cy="266.5" r="0.85"/><circle cx="645.1" cy="267.8" r="0.85"/><circle cx="591.5" cy="266.8" r="0.85"/><circle cx="604.9" cy="267.3" r="0.85"/><circle cx="586.7" cy="266.5" r="0.85"/><circle cx="597" cy="266.4" r="0.85"/><circle cx="616.7" cy="262.5" r="0.85"/><circle cx="605.6" cy="267.2" r="0.85"/><circle cx="633" cy="263.1" r="0.85"/><circle cx="674.9" cy="267.6" r="0.85"/><circle cx="609.8" cy="267.3" r="0.85"/><circle cx="603.8" cy="265" r="0.85"/><circle cx="671.4" cy="265.7" r="0.85"/><circle cx="593.3" cy="269.4" r="0.85"/><circle cx="652.4" cy="269.5" r="0.85"/><circle cx="629.6" cy="261.2" r="0.85"/><circle cx="652.4" cy="268.2" r="0.85"/><circle cx="680.7" cy="270.9" r="0.85"/><circle cx="607.5" cy="269.3" r="0.85"/><circle cx="632.4" cy="260.2" r="0.85"/><circle cx="639.6" cy="270.5" r="0.85"/><circle cx="655.6" cy="267.9" r="0.85"/><circle cx="633.9" cy="260.8" r="0.85"/><circle cx="662.6" cy="267.5" r="0.85"/><circle cx="664.3" cy="267.7" r="0.85"/><circle cx="679.9" cy="270.8" r="0.85"/><circle cx="595.4" cy="266.7" r="0.85"/><circle cx="624.4" cy="260.3" r="0.85"/><circle cx="634.9" cy="262.9" r="0.85"/><circle cx="661.1" cy="268" r="0.85"/><circle cx="591.7" cy="268.7" r="0.85"/><circle cx="580.7" cy="267.4" r="0.85"/><circle cx="580.3" cy="269.8" r="0.85"/><circle cx="643.7" cy="266.7" r="0.85"/><circle cx="628.7" cy="257.9" r="0.85"/><circle cx="586.1" cy="266.2" r="0.85"/><circle cx="586" cy="267.2" r="0.85"/><circle cx="626.9" cy="262" r="0.85"/><circle cx="623.6" cy="264.2" r="0.85"/><circle cx="602" cy="265.8" r="0.85"/><circle cx="638.8" cy="266.6" r="0.85"/><circle cx="614.6" cy="263.9" r="0.85"/><circle cx="668" cy="266.8" r="0.85"/><circle cx="609.9" cy="268.4" r="0.85"/><circle cx="680.7" cy="269.2" r="0.85"/><circle cx="647.3" cy="267.3" r="0.85"/><circle cx="595.8" cy="269.7" r="0.85"/><circle cx="654.8" cy="268.4" r="0.85"/><circle cx="680.1" cy="269.1" r="0.85"/><circle cx="621.5" cy="259.9" r="0.85"/><circle cx="597.5" cy="268.9" r="0.85"/><circle cx="676.2" cy="266.6" r="0.85"/><circle cx="593.2" cy="269.1" r="0.85"/><circle cx="590.5" cy="268.2" r="0.85"/><circle cx="679.5" cy="266.4" r="0.85"/><circle cx="589.8" cy="269.1" r="0.85"/><circle cx="600.7" cy="267" r="0.85"/><circle cx="666.7" cy="268.4" r="0.85"/><circle cx="584.3" cy="269.9" r="0.85"/><circle cx="640.7" cy="262.5" r="0.85"/><circle cx="678.2" cy="267.3" r="0.85"/><circle cx="620" cy="264.5" r="0.85"/><circle cx="662.3" cy="271.2" r="0.85"/><circle cx="645.5" cy="271" r="0.85"/><circle cx="594.1" cy="268.2" r="0.85"/><circle cx="633.4" cy="261.4" r="0.85"/><circle cx="665.2" cy="271" r="0.85"/><circle cx="590.3" cy="268.5" r="0.85"/><circle cx="613.5" cy="264.4" r="0.85"/><circle cx="624.3" cy="258.5" r="0.85"/><circle cx="675.2" cy="270.4" r="0.85"/><circle cx="672.3" cy="267.2" r="0.85"/><circle cx="627.8" cy="259.3" r="0.85"/><circle cx="655.8" cy="267" r="0.85"/><circle cx="656.2" cy="269.1" r="0.85"/><circle cx="622.3" cy="264.2" r="0.85"/><circle cx="657.6" cy="271.3" r="0.85"/><circle cx="653.5" cy="270.6" r="0.85"/><circle cx="601.5" cy="270" r="0.85"/><circle cx="614.6" cy="266.8" r="0.85"/><circle cx="609.1" cy="267.5" r="0.85"/><circle cx="616.9" cy="265.9" r="0.85"/><circle cx="681" cy="267" r="0.85"/><circle cx="679.3" cy="271.6" r="0.85"/><circle cx="677.4" cy="267.3" r="0.85"/><circle cx="598.4" cy="269.1" r="0.85"/><circle cx="633.4" cy="262" r="0.85"/><circle cx="662.9" cy="267.1" r="0.85"/><circle cx="656.7" cy="268.6" r="0.85"/><circle cx="630.9" cy="258" r="0.85"/><circle cx="645.5" cy="270.8" r="0.85"/><circle cx="625.4" cy="264.5" r="0.85"/><circle cx="585.1" cy="267.6" r="0.85"/><circle cx="676.3" cy="268.8" r="0.85"/><circle cx="600.3" cy="267.3" r="0.85"/><circle cx="666.9" cy="268.4" r="0.85"/><circle cx="678.6" cy="267.8" r="0.85"/><circle cx="605.2" cy="269.9" r="0.85"/><circle cx="679.9" cy="264.5" r="0.85"/><circle cx="596" cy="261.6" r="0.85"/><circle cx="586.7" cy="260.6" r="0.85"/><circle cx="587.9" cy="264.8" r="0.85"/><circle cx="671" cy="265.5" r="0.85"/><circle cx="598.4" cy="264.6" r="0.85"/><circle cx="672.1" cy="264" r="0.85"/><circle cx="654.3" cy="264.3" r="0.85"/><circle cx="657.9" cy="261.1" r="0.85"/><circle cx="613.4" cy="260.5" r="0.85"/><circle cx="670.9" cy="263.8" r="0.85"/><circle cx="649.4" cy="265" r="0.85"/><circle cx="646.4" cy="260" r="0.85"/><circle cx="604.4" cy="260.5" r="0.85"/><circle cx="600" cy="265" r="0.85"/><circle cx="596.4" cy="265.1" r="0.85"/><circle cx="662.7" cy="263.2" r="0.85"/><circle cx="641.3" cy="257.9" r="0.85"/><circle cx="583.3" cy="264.3" r="0.85"/><circle cx="608.8" cy="262.2" r="0.85"/><circle cx="615.7" cy="281.5" r="0.85"/><circle cx="594.9" cy="281.3" r="0.85"/><circle cx="664.9" cy="281.4" r="0.85"/><circle cx="630.2" cy="280.8" r="0.85"/><circle cx="633.3" cy="281.5" r="0.85"/><circle cx="613.4" cy="280.1" r="0.85"/><circle cx="621.9" cy="280.8" r="0.85"/><circle cx="634.4" cy="281" r="0.85"/><circle cx="587.6" cy="280.7" r="0.85"/><circle cx="677" cy="280.2" r="0.85"/><circle cx="613.2" cy="280.8" r="0.85"/><circle cx="602.7" cy="280.7" r="0.85"/><circle cx="658.7" cy="280.7" r="0.85"/><circle cx="595.8" cy="281.1" r="0.85"/><circle cx="582.3" cy="281" r="0.85"/><circle cx="610" cy="281.5" r="0.85"/><circle cx="648.7" cy="280.7" r="0.85"/><circle cx="615.9" cy="281.1" r="0.85"/><circle cx="589.9" cy="280.7" r="0.85"/><circle cx="638.2" cy="281" r="0.85"/><circle cx="605.3" cy="280.7" r="0.85"/><circle cx="621.3" cy="280.4" r="0.85"/><circle cx="583.3" cy="280.1" r="0.85"/><circle cx="672.4" cy="280" r="0.85"/><circle cx="586.4" cy="280.7" r="0.85"/><circle cx="615.5" cy="281" r="0.85"/><circle cx="643.4" cy="280.2" r="0.85"/><circle cx="639.1" cy="280.3" r="0.85"/><circle cx="670.1" cy="281.1" r="0.85"/><circle cx="582.5" cy="281.1" r="0.85"/><circle cx="633.6" cy="281.4" r="0.85"/><circle cx="646.6" cy="280.8" r="0.85"/><circle cx="632" cy="281.4" r="0.85"/><circle cx="682" cy="281.6" r="0.85"/><circle cx="595.7" cy="280.2" r="0.85"/><circle cx="675" cy="280.3" r="0.85"/><circle cx="669.7" cy="281.5" r="0.85"/><circle cx="679.9" cy="280.2" r="0.85"/><circle cx="644.2" cy="280.4" r="0.85"/><circle cx="605.3" cy="280.7" r="0.85"/><circle cx="624.2" cy="280.7" r="0.85"/><circle cx="622.9" cy="280.1" r="0.85"/><circle cx="621.4" cy="281.1" r="0.85"/><circle cx="637.3" cy="280.4" r="0.85"/><circle cx="593.7" cy="280.8" r="0.85"/><circle cx="681.7" cy="281.2" r="0.85"/><circle cx="631.3" cy="280.1" r="0.85"/><circle cx="661.5" cy="280.7" r="0.85"/><circle cx="638" cy="281.4" r="0.85"/><circle cx="581.4" cy="280" r="0.85"/><circle cx="624.8" cy="281.2" r="0.85"/><circle cx="616" cy="280.2" r="0.85"/><circle cx="625.7" cy="280.4" r="0.85"/><circle cx="583.6" cy="280.3" r="0.85"/><circle cx="621.2" cy="280.6" r="0.85"/><circle cx="655.1" cy="281.4" r="0.85"/><circle cx="647.3" cy="280.9" r="0.85"/><circle cx="622" cy="281" r="0.85"/><circle cx="668.9" cy="281.6" r="0.85"/><circle cx="622.8" cy="281.5" r="0.85"/><circle cx="633.3" cy="281.3" r="0.85"/><circle cx="632.4" cy="280.1" r="0.85"/><circle cx="668.3" cy="281.4" r="0.85"/><circle cx="622.9" cy="281.5" r="0.85"/><circle cx="600.8" cy="280.4" r="0.85"/><circle cx="635.7" cy="281.3" r="0.85"/><circle cx="633.9" cy="280.2" r="0.85"/><circle cx="602.2" cy="280.8" r="0.85"/><circle cx="630.3" cy="281.6" r="0.85"/><circle cx="677" cy="281.4" r="0.85"/><circle cx="600.2" cy="281.4" r="0.85"/><circle cx="653.3" cy="280.6" r="0.85"/><circle cx="596.5" cy="281.5" r="0.85"/><circle cx="632.7" cy="281.3" r="0.85"/><circle cx="651.6" cy="281.6" r="0.85"/><circle cx="595.7" cy="281.1" r="0.85"/><circle cx="639.2" cy="280.2" r="0.85"/><circle cx="669.9" cy="280.7" r="0.85"/><circle cx="616.8" cy="280.8" r="0.85"/><circle cx="588.3" cy="280.5" r="0.85"/><circle cx="628.9" cy="280.9" r="0.85"/><circle cx="642.8" cy="280.3" r="0.85"/><circle cx="588.5" cy="280.5" r="0.85"/><circle cx="638.8" cy="280.3" r="0.85"/><circle cx="602.5" cy="280.8" r="0.85"/><circle cx="665" cy="280.9" r="0.85"/><circle cx="632.2" cy="280.1" r="0.85"/><circle cx="653.7" cy="281.5" r="0.85"/><circle cx="682.2" cy="280" r="0.85"/><circle cx="635.1" cy="280.4" r="0.85"/><circle cx="594.1" cy="280.5" r="0.85"/><circle cx="668.6" cy="280.4" r="0.85"/><circle cx="591.9" cy="280.9" r="0.85"/><circle cx="679.4" cy="280.4" r="0.85"/><circle cx="640.4" cy="280.9" r="0.85"/><circle cx="636.5" cy="281.1" r="0.85"/><circle cx="663.2" cy="281.1" r="0.85"/><circle cx="665.6" cy="280.9" r="0.85"/><circle cx="658.8" cy="281" r="0.85"/><circle cx="605.2" cy="281.5" r="0.85"/><circle cx="653.4" cy="281.4" r="0.85"/><circle cx="634.8" cy="280.1" r="0.85"/><circle cx="650.9" cy="280.1" r="0.85"/><circle cx="657.5" cy="281.4" r="0.85"/><circle cx="620.9" cy="280.2" r="0.85"/><circle cx="589.1" cy="281.1" r="0.85"/><circle cx="631.9" cy="280.8" r="0.85"/><circle cx="652.8" cy="280.7" r="0.85"/><circle cx="663.8" cy="280.1" r="0.85"/><circle cx="678.8" cy="281.2" r="0.85"/><circle cx="582.2" cy="260.6" r="0.85"/><circle cx="589" cy="263.5" r="0.85"/><circle cx="592.6" cy="263.5" r="0.85"/><circle cx="609.8" cy="261.8" r="0.85"/><circle cx="614.2" cy="259.2" r="0.85"/><circle cx="622" cy="256.6" r="0.85"/><circle cx="639.4" cy="253.1" r="0.85"/><circle cx="652.3" cy="258.3" r="0.85"/><circle cx="636.8" cy="259.2" r="0.85"/><circle cx="645.4" cy="262.7" r="0.85"/><circle cx="680.8" cy="267.8" r="0.85"/></g>
<g fill="#87cefa" stroke="#5a8fb0" stroke-width="0.3"><circle cx="632" cy="268.8" r="0.9"/><circle cx="631.8" cy="271.4" r="0.9"/><circle cx="629.1" cy="271.6" r="0.9"/><circle cx="625.5" cy="274.2" r="0.9"/><circle cx="624.7" cy="276" r="0.9"/><circle cx="633.7" cy="277.8" r="0.9"/><circle cx="630.6" cy="268.3" r="0.9"/><circle cx="624.7" cy="269.4" r="0.9"/><circle cx="622" cy="270.3" r="0.9"/><circle cx="626.7" cy="274.2" r="0.9"/><circle cx="630.8" cy="271" r="0.9"/><circle cx="627.7" cy="278.8" r="0.9"/><circle cx="626.5" cy="276" r="0.9"/><circle cx="631.4" cy="274.4" r="0.9"/><circle cx="633.4" cy="267.7" r="0.9"/><circle cx="626.6" cy="275.2" r="0.9"/><circle cx="630.3" cy="269.6" r="0.9"/><circle cx="633.1" cy="280.6" r="0.9"/><circle cx="623.8" cy="270.6" r="0.9"/><circle cx="630.3" cy="269" r="0.9"/><circle cx="630.7" cy="277.7" r="0.9"/><circle cx="626.6" cy="271.1" r="0.9"/><circle cx="634.2" cy="273.7" r="0.9"/><circle cx="633.7" cy="277.8" r="0.9"/><circle cx="635.2" cy="272.3" r="0.9"/><circle cx="635.9" cy="271.7" r="0.9"/><circle cx="634.6" cy="277.5" r="0.9"/><circle cx="630.1" cy="272.8" r="0.9"/></g>
<g fill="#00ee00" stroke="#0a8a0a" stroke-width="0.3"><circle cx="635.8" cy="244.8" r="0.9"/><circle cx="632.3" cy="261.8" r="0.9"/><circle cx="628.6" cy="251.1" r="0.9"/><circle cx="627.6" cy="252.1" r="0.9"/><circle cx="625.7" cy="250.9" r="0.9"/><circle cx="628.4" cy="255.5" r="0.9"/><circle cx="626.9" cy="252.8" r="0.9"/><circle cx="625.4" cy="251.8" r="0.9"/><circle cx="628.6" cy="253" r="0.9"/><circle cx="628.3" cy="249.3" r="0.9"/><circle cx="625.5" cy="254.4" r="0.9"/></g>
<g fill="#ffa500" stroke="#b87400" stroke-width="0.3"><circle cx="629" cy="257.4" r="0.9"/><circle cx="632.6" cy="256.5" r="0.9"/><circle cx="632.9" cy="256.6" r="0.9"/><circle cx="631.9" cy="255.7" r="0.9"/><circle cx="631.6" cy="255" r="0.9"/><circle cx="630.6" cy="262.7" r="0.9"/></g>
<g fill="#ff0000" stroke="#5a0000" stroke-width="0.3"><circle cx="631.6" cy="235.4" r="0.9"/><circle cx="629.7" cy="232.5" r="0.9"/><circle cx="633.2" cy="232.3" r="0.9"/><circle cx="633.9" cy="235.8" r="0.9"/><circle cx="634.5" cy="235.5" r="0.9"/><circle cx="632.7" cy="236.5" r="0.9"/><circle cx="629.3" cy="235.5" r="0.9"/><circle cx="629.8" cy="232.9" r="0.9"/><circle cx="634.1" cy="234.2" r="0.9"/><circle cx="629.8" cy="233.4" r="0.9"/><circle cx="631.2" cy="236.1" r="0.9"/><circle cx="631.4" cy="233.1" r="0.9"/><circle cx="630.3" cy="234.8" r="0.9"/><circle cx="632.7" cy="234.9" r="0.9"/><circle cx="634.3" cy="234.7" r="0.9"/><circle cx="628.8" cy="238.9" r="0.9"/><circle cx="631.8" cy="240.9" r="0.9"/><circle cx="632" cy="243.8" r="0.9"/><circle cx="632.3" cy="246.5" r="0.9"/><circle cx="632.8" cy="250.8" r="0.9"/><circle cx="633.3" cy="281.3" r="0.9"/><circle cx="629.7" cy="261.8" r="0.9"/><circle cx="634.5" cy="240" r="0.9"/><circle cx="635" cy="246" r="0.9"/></g>
<path d="M629.8 227.7L631.1 229L629.8 230.3L628.5 229Z" fill="#7b3fd6" stroke="#4a2090" stroke-width="0.4"/>
<rect x="578.8" y="189.4" width="105.5" height="96.3" fill="none" stroke="#666" stroke-width="0.8"/>
<text x="619.4" y="226.6" font-size="5.6" textLength="28.6" lengthAdjust="spacingAndGlyphs" fill="#3a3a3a">rs7785189</text>
<rect x="579" y="289.2" width="105.4" height="4.4" fill="#fff" stroke="#666" stroke-width="0.6"/>
<text x="616.8" y="291.6" font-size="2.6" textLength="16" lengthAdjust="spacingAndGlyphs" fill="#3a3a3a">TMEM106B</text>
<text x="635.4" y="291.6" font-size="2.6" textLength="2.5" lengthAdjust="spacingAndGlyphs" fill="#5060b0">→</text>
<text x="655.9" y="291.6" font-size="2.6" textLength="2" lengthAdjust="spacingAndGlyphs" fill="#5060b0">←</text>
<text x="659" y="291.6" font-size="2.6" textLength="10" lengthAdjust="spacingAndGlyphs" fill="#3a3a3a">VWDE</text>
<line x1="624.8" y1="292.7" x2="630.5" y2="292.7" stroke="#1a1a9a" stroke-width="0.3"/>
<rect x="625.03" y="292.2" width="1.44" height="1" fill="#1a1a9a"/>
<rect x="626.93" y="292.2" width="1.44" height="1" fill="#1a1a9a"/>
<rect x="628.83" y="292.2" width="1.44" height="1" fill="#1a1a9a"/>
<line x1="654.7" y1="292.7" x2="670.4" y2="292.7" stroke="#1a1a9a" stroke-width="0.3"/>
<rect x="654.97" y="292.2" width="1.70" height="1" fill="#1a1a9a"/>
<rect x="657.21" y="292.2" width="1.70" height="1" fill="#1a1a9a"/>
<rect x="659.45" y="292.2" width="1.70" height="1" fill="#1a1a9a"/>
<rect x="661.70" y="292.2" width="1.70" height="1" fill="#1a1a9a"/>
<rect x="663.94" y="292.2" width="1.70" height="1" fill="#1a1a9a"/>
<rect x="666.18" y="292.2" width="1.70" height="1" fill="#1a1a9a"/>
<rect x="668.43" y="292.2" width="1.70" height="1" fill="#1a1a9a"/>
<line x1="599.1" y1="293.6" x2="599.1" y2="295.9" stroke="#555" stroke-width="0.5"/>
<text x="599.1" y="305" font-size="7.1" text-anchor="middle" textLength="9.6" lengthAdjust="spacingAndGlyphs" fill="#2a2a2a">12.1</text>
<line x1="619" y1="293.6" x2="619" y2="295.9" stroke="#555" stroke-width="0.5"/>
<text x="619" y="305" font-size="7.1" text-anchor="middle" textLength="9.6" lengthAdjust="spacingAndGlyphs" fill="#2a2a2a">12.2</text>
<line x1="639" y1="293.6" x2="639" y2="295.9" stroke="#555" stroke-width="0.5"/>
<text x="639" y="305" font-size="7.1" text-anchor="middle" textLength="9.6" lengthAdjust="spacingAndGlyphs" fill="#2a2a2a">12.3</text>
<line x1="659" y1="293.6" x2="659" y2="295.9" stroke="#555" stroke-width="0.5"/>
<text x="659" y="305" font-size="7.1" text-anchor="middle" textLength="9.6" lengthAdjust="spacingAndGlyphs" fill="#2a2a2a">12.4</text>
<line x1="678.9" y1="293.6" x2="678.9" y2="295.9" stroke="#555" stroke-width="0.5"/>
<text x="678.9" y="305" font-size="7.1" text-anchor="middle" textLength="9.6" lengthAdjust="spacingAndGlyphs" fill="#2a2a2a">12.5</text>
<text x="631.8" y="316.4" font-size="7.2" text-anchor="middle" textLength="72.2" lengthAdjust="spacingAndGlyphs">Position on chr7 (Mb)</text>
</svg></body></html>
